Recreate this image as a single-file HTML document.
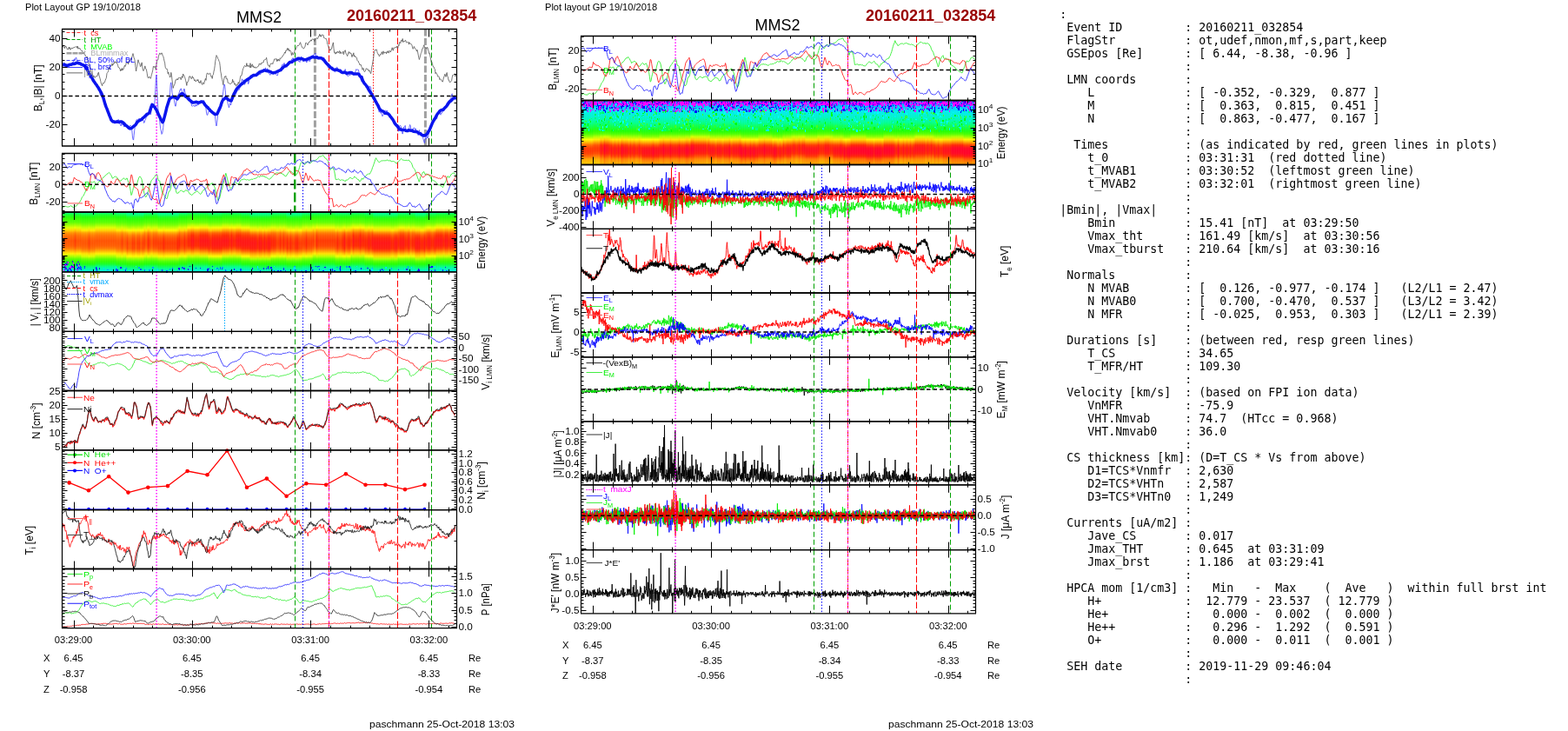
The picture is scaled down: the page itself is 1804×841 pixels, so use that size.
<!DOCTYPE html>
<html><head><meta charset="utf-8"><title>MMS2 20160211_032854</title>
<style>
html,body{margin:0;padding:0;background:#fff;}
body{width:1804px;height:841px;overflow:hidden;position:relative;}
svg{position:absolute;left:0;top:0;}
svg text{font-family:'Liberation Sans', Arial, sans-serif;}
pre{position:absolute;left:1219.2px;top:9px;margin:0;font-family:'DejaVu Sans Mono',monospace;font-size:13.3px;line-height:15px;color:#000;}
</style></head><body>
<svg width="1804" height="841" viewBox="0 0 1804 841" xml:space="preserve"><defs><clipPath id="cP1"><rect x="71.5" y="33.5" width="454" height="134.5"/></clipPath><clipPath id="cP2"><rect x="71.5" y="176.5" width="454" height="67.5"/></clipPath><clipPath id="cP3"><rect x="71.5" y="244" width="454" height="68.8"/></clipPath><clipPath id="cP4"><rect x="71.5" y="312.8" width="454" height="68.5"/></clipPath><clipPath id="cP5"><rect x="71.5" y="381.3" width="454" height="68.2"/></clipPath><clipPath id="cP6"><rect x="71.5" y="449.5" width="454" height="68.4"/></clipPath><clipPath id="cP7"><rect x="71.5" y="517.9" width="454" height="68.7"/></clipPath><clipPath id="cP8"><rect x="71.5" y="586.6" width="454" height="67.9"/></clipPath><clipPath id="cP9"><rect x="71.5" y="654.5" width="454" height="68.2"/></clipPath><clipPath id="cM1"><rect x="668.5" y="41.5" width="454" height="74"/></clipPath><clipPath id="cM2"><rect x="668.5" y="115.5" width="454" height="74"/></clipPath><clipPath id="cM3"><rect x="668.5" y="189.5" width="454" height="73.8"/></clipPath><clipPath id="cM4"><rect x="668.5" y="263.3" width="454" height="73.7"/></clipPath><clipPath id="cM5"><rect x="668.5" y="337" width="454" height="73.8"/></clipPath><clipPath id="cM6"><rect x="668.5" y="410.8" width="454" height="74"/></clipPath><clipPath id="cM7"><rect x="668.5" y="484.8" width="454" height="73"/></clipPath><clipPath id="cM8"><rect x="668.5" y="557.8" width="454" height="74.8"/></clipPath><clipPath id="cM9"><rect x="668.5" y="632.6" width="454" height="73.2"/></clipPath><linearGradient id="g1" x1="0" y1="0" x2="0" y2="1"><stop offset="0.000" stop-color="#00fba2"/><stop offset="0.043" stop-color="#14ff2f"/><stop offset="0.087" stop-color="#27ff00"/><stop offset="0.130" stop-color="#42ff00"/><stop offset="0.174" stop-color="#5cff00"/><stop offset="0.217" stop-color="#9bff00"/><stop offset="0.261" stop-color="#dfff00"/><stop offset="0.304" stop-color="#ffd500"/><stop offset="0.348" stop-color="#ff9200"/><stop offset="0.391" stop-color="#ff7000"/><stop offset="0.435" stop-color="#ff6000"/><stop offset="0.478" stop-color="#ff5100"/><stop offset="0.522" stop-color="#ff5600"/><stop offset="0.565" stop-color="#ff5d00"/><stop offset="0.609" stop-color="#ff7c00"/><stop offset="0.652" stop-color="#ffb300"/><stop offset="0.696" stop-color="#fff200"/><stop offset="0.739" stop-color="#adff00"/><stop offset="0.783" stop-color="#57ff00"/><stop offset="0.826" stop-color="#2fff00"/><stop offset="0.870" stop-color="#15ff29"/><stop offset="0.913" stop-color="#01ff87"/><stop offset="0.957" stop-color="#00f5c0"/><stop offset="1.000" stop-color="#00efdc"/></linearGradient><linearGradient id="g2" x1="0" y1="0" x2="0" y2="1"><stop offset="0.000" stop-color="#00fba2"/><stop offset="0.043" stop-color="#14ff2f"/><stop offset="0.087" stop-color="#28ff00"/><stop offset="0.130" stop-color="#44ff00"/><stop offset="0.174" stop-color="#61ff00"/><stop offset="0.217" stop-color="#a6ff00"/><stop offset="0.261" stop-color="#f0ff00"/><stop offset="0.304" stop-color="#ffc400"/><stop offset="0.348" stop-color="#ff7d00"/><stop offset="0.391" stop-color="#ff5800"/><stop offset="0.435" stop-color="#ff4700"/><stop offset="0.478" stop-color="#ff3600"/><stop offset="0.522" stop-color="#ff3d00"/><stop offset="0.565" stop-color="#ff4400"/><stop offset="0.609" stop-color="#ff6500"/><stop offset="0.652" stop-color="#ffa100"/><stop offset="0.696" stop-color="#ffe300"/><stop offset="0.739" stop-color="#baff00"/><stop offset="0.783" stop-color="#5bff00"/><stop offset="0.826" stop-color="#30ff00"/><stop offset="0.870" stop-color="#15ff29"/><stop offset="0.913" stop-color="#01ff87"/><stop offset="0.957" stop-color="#00f5c0"/><stop offset="1.000" stop-color="#00efdc"/></linearGradient><linearGradient id="g3" x1="0" y1="0" x2="0" y2="1"><stop offset="0.000" stop-color="#00fba2"/><stop offset="0.043" stop-color="#14ff2f"/><stop offset="0.087" stop-color="#28ff00"/><stop offset="0.130" stop-color="#47ff00"/><stop offset="0.174" stop-color="#66ff00"/><stop offset="0.217" stop-color="#b1ff00"/><stop offset="0.261" stop-color="#fffe00"/><stop offset="0.304" stop-color="#ffb300"/><stop offset="0.348" stop-color="#ff6800"/><stop offset="0.391" stop-color="#ff4000"/><stop offset="0.435" stop-color="#ff2e00"/><stop offset="0.478" stop-color="#ff2107"/><stop offset="0.522" stop-color="#ff2503"/><stop offset="0.565" stop-color="#ff2a00"/><stop offset="0.609" stop-color="#ff4e00"/><stop offset="0.652" stop-color="#ff8f00"/><stop offset="0.696" stop-color="#ffd500"/><stop offset="0.739" stop-color="#c6ff00"/><stop offset="0.783" stop-color="#60ff00"/><stop offset="0.826" stop-color="#31ff00"/><stop offset="0.870" stop-color="#15ff29"/><stop offset="0.913" stop-color="#01ff87"/><stop offset="0.957" stop-color="#00f5c0"/><stop offset="1.000" stop-color="#00efdc"/></linearGradient><linearGradient id="g4" x1="0" y1="0" x2="0" y2="1"><stop offset="0.000" stop-color="#00fba2"/><stop offset="0.043" stop-color="#14ff2f"/><stop offset="0.087" stop-color="#29ff00"/><stop offset="0.130" stop-color="#4aff00"/><stop offset="0.174" stop-color="#6bff00"/><stop offset="0.217" stop-color="#bcff00"/><stop offset="0.261" stop-color="#fff300"/><stop offset="0.304" stop-color="#ffa400"/><stop offset="0.348" stop-color="#ff5200"/><stop offset="0.391" stop-color="#ff2800"/><stop offset="0.435" stop-color="#ff1d0b"/><stop offset="0.478" stop-color="#ff1216"/><stop offset="0.522" stop-color="#ff1612"/><stop offset="0.565" stop-color="#ff1b0d"/><stop offset="0.609" stop-color="#ff3800"/><stop offset="0.652" stop-color="#ff7c00"/><stop offset="0.696" stop-color="#ffc600"/><stop offset="0.739" stop-color="#d2ff00"/><stop offset="0.783" stop-color="#64ff00"/><stop offset="0.826" stop-color="#33ff00"/><stop offset="0.870" stop-color="#15ff29"/><stop offset="0.913" stop-color="#01ff87"/><stop offset="0.957" stop-color="#00f5c0"/><stop offset="1.000" stop-color="#00efdc"/></linearGradient><linearGradient id="g5" x1="0" y1="0" x2="0" y2="1"><stop offset="0.000" stop-color="#00f7b4"/><stop offset="0.043" stop-color="#0fff46"/><stop offset="0.087" stop-color="#1eff00"/><stop offset="0.130" stop-color="#39ff00"/><stop offset="0.174" stop-color="#53ff00"/><stop offset="0.217" stop-color="#85ff00"/><stop offset="0.261" stop-color="#c8ff00"/><stop offset="0.304" stop-color="#ffee00"/><stop offset="0.348" stop-color="#ff9e00"/><stop offset="0.391" stop-color="#ff7b00"/><stop offset="0.435" stop-color="#ff6500"/><stop offset="0.478" stop-color="#ff5600"/><stop offset="0.522" stop-color="#ff5400"/><stop offset="0.565" stop-color="#ff5b00"/><stop offset="0.609" stop-color="#ff6d00"/><stop offset="0.652" stop-color="#ff9a00"/><stop offset="0.696" stop-color="#ffe200"/><stop offset="0.739" stop-color="#d5ff00"/><stop offset="0.783" stop-color="#72ff00"/><stop offset="0.826" stop-color="#3bff00"/><stop offset="0.870" stop-color="#1cff0b"/><stop offset="0.913" stop-color="#07ff6a"/><stop offset="0.957" stop-color="#00f8b0"/><stop offset="1.000" stop-color="#00efdc"/></linearGradient><linearGradient id="g6" x1="0" y1="0" x2="0" y2="1"><stop offset="0.000" stop-color="#00f7b4"/><stop offset="0.043" stop-color="#0fff46"/><stop offset="0.087" stop-color="#1eff00"/><stop offset="0.130" stop-color="#3bff00"/><stop offset="0.174" stop-color="#58ff00"/><stop offset="0.217" stop-color="#8eff00"/><stop offset="0.261" stop-color="#d7ff00"/><stop offset="0.304" stop-color="#ffdf00"/><stop offset="0.348" stop-color="#ff8a00"/><stop offset="0.391" stop-color="#ff6400"/><stop offset="0.435" stop-color="#ff4c00"/><stop offset="0.478" stop-color="#ff3c00"/><stop offset="0.522" stop-color="#ff3a00"/><stop offset="0.565" stop-color="#ff4100"/><stop offset="0.609" stop-color="#ff5500"/><stop offset="0.652" stop-color="#ff8600"/><stop offset="0.696" stop-color="#ffd200"/><stop offset="0.739" stop-color="#e5ff00"/><stop offset="0.783" stop-color="#79ff00"/><stop offset="0.826" stop-color="#3eff00"/><stop offset="0.870" stop-color="#1cff0b"/><stop offset="0.913" stop-color="#07ff6a"/><stop offset="0.957" stop-color="#00f8b0"/><stop offset="1.000" stop-color="#00efdc"/></linearGradient><linearGradient id="g7" x1="0" y1="0" x2="0" y2="1"><stop offset="0.000" stop-color="#00f7b4"/><stop offset="0.043" stop-color="#0fff46"/><stop offset="0.087" stop-color="#1eff00"/><stop offset="0.130" stop-color="#3dff00"/><stop offset="0.174" stop-color="#5cff00"/><stop offset="0.217" stop-color="#96ff00"/><stop offset="0.261" stop-color="#e5ff00"/><stop offset="0.304" stop-color="#ffd000"/><stop offset="0.348" stop-color="#ff7600"/><stop offset="0.391" stop-color="#ff4d00"/><stop offset="0.435" stop-color="#ff3400"/><stop offset="0.478" stop-color="#ff2503"/><stop offset="0.522" stop-color="#ff2404"/><stop offset="0.565" stop-color="#ff2800"/><stop offset="0.609" stop-color="#ff3d00"/><stop offset="0.652" stop-color="#ff7200"/><stop offset="0.696" stop-color="#ffc200"/><stop offset="0.739" stop-color="#f4ff00"/><stop offset="0.783" stop-color="#80ff00"/><stop offset="0.826" stop-color="#40ff00"/><stop offset="0.870" stop-color="#1cff0b"/><stop offset="0.913" stop-color="#07ff6a"/><stop offset="0.957" stop-color="#00f8b0"/><stop offset="1.000" stop-color="#00efdc"/></linearGradient><linearGradient id="g8" x1="0" y1="0" x2="0" y2="1"><stop offset="0.000" stop-color="#00f7b4"/><stop offset="0.043" stop-color="#0fff46"/><stop offset="0.087" stop-color="#1eff00"/><stop offset="0.130" stop-color="#3fff00"/><stop offset="0.174" stop-color="#60ff00"/><stop offset="0.217" stop-color="#9fff00"/><stop offset="0.261" stop-color="#f4ff00"/><stop offset="0.304" stop-color="#ffc100"/><stop offset="0.348" stop-color="#ff6200"/><stop offset="0.391" stop-color="#ff3600"/><stop offset="0.435" stop-color="#ff2107"/><stop offset="0.478" stop-color="#ff1612"/><stop offset="0.522" stop-color="#ff1513"/><stop offset="0.565" stop-color="#ff190f"/><stop offset="0.609" stop-color="#ff2602"/><stop offset="0.652" stop-color="#ff5d00"/><stop offset="0.696" stop-color="#ffb200"/><stop offset="0.739" stop-color="#fffb00"/><stop offset="0.783" stop-color="#87ff00"/><stop offset="0.826" stop-color="#42ff00"/><stop offset="0.870" stop-color="#1cff0b"/><stop offset="0.913" stop-color="#07ff6a"/><stop offset="0.957" stop-color="#00f8b0"/><stop offset="1.000" stop-color="#00efdc"/></linearGradient><linearGradient id="g9" x1="0" y1="0" x2="0" y2="1"><stop offset="0.000" stop-color="#00f7b4"/><stop offset="0.043" stop-color="#04ff79"/><stop offset="0.087" stop-color="#19ff18"/><stop offset="0.130" stop-color="#30ff00"/><stop offset="0.174" stop-color="#4aff00"/><stop offset="0.217" stop-color="#71ff00"/><stop offset="0.261" stop-color="#b1ff00"/><stop offset="0.304" stop-color="#f6ff00"/><stop offset="0.348" stop-color="#ffb900"/><stop offset="0.391" stop-color="#ff8600"/><stop offset="0.435" stop-color="#ff6a00"/><stop offset="0.478" stop-color="#ff5b00"/><stop offset="0.522" stop-color="#ff5200"/><stop offset="0.565" stop-color="#ff5900"/><stop offset="0.609" stop-color="#ff5f00"/><stop offset="0.652" stop-color="#ff8b00"/><stop offset="0.696" stop-color="#ffd000"/><stop offset="0.739" stop-color="#fbff00"/><stop offset="0.783" stop-color="#8eff00"/><stop offset="0.826" stop-color="#48ff00"/><stop offset="0.870" stop-color="#22ff00"/><stop offset="0.913" stop-color="#0eff49"/><stop offset="0.957" stop-color="#00fc9c"/><stop offset="1.000" stop-color="#00f2ce"/></linearGradient><linearGradient id="g10" x1="0" y1="0" x2="0" y2="1"><stop offset="0.000" stop-color="#00f7b4"/><stop offset="0.043" stop-color="#04ff79"/><stop offset="0.087" stop-color="#19ff18"/><stop offset="0.130" stop-color="#31ff00"/><stop offset="0.174" stop-color="#4eff00"/><stop offset="0.217" stop-color="#77ff00"/><stop offset="0.261" stop-color="#beff00"/><stop offset="0.304" stop-color="#fff900"/><stop offset="0.348" stop-color="#ffa700"/><stop offset="0.391" stop-color="#ff7000"/><stop offset="0.435" stop-color="#ff5200"/><stop offset="0.478" stop-color="#ff4100"/><stop offset="0.522" stop-color="#ff3800"/><stop offset="0.565" stop-color="#ff3f00"/><stop offset="0.609" stop-color="#ff4600"/><stop offset="0.652" stop-color="#ff7500"/><stop offset="0.696" stop-color="#ffbe00"/><stop offset="0.739" stop-color="#fff500"/><stop offset="0.783" stop-color="#97ff00"/><stop offset="0.826" stop-color="#4bff00"/><stop offset="0.870" stop-color="#23ff00"/><stop offset="0.913" stop-color="#0eff49"/><stop offset="0.957" stop-color="#00fc9c"/><stop offset="1.000" stop-color="#00f2ce"/></linearGradient><linearGradient id="g11" x1="0" y1="0" x2="0" y2="1"><stop offset="0.000" stop-color="#00f7b4"/><stop offset="0.043" stop-color="#04ff79"/><stop offset="0.087" stop-color="#19ff18"/><stop offset="0.130" stop-color="#33ff00"/><stop offset="0.174" stop-color="#52ff00"/><stop offset="0.217" stop-color="#7eff00"/><stop offset="0.261" stop-color="#cbff00"/><stop offset="0.304" stop-color="#ffec00"/><stop offset="0.348" stop-color="#ff9500"/><stop offset="0.391" stop-color="#ff5a00"/><stop offset="0.435" stop-color="#ff3900"/><stop offset="0.478" stop-color="#ff2800"/><stop offset="0.522" stop-color="#ff2206"/><stop offset="0.565" stop-color="#ff2602"/><stop offset="0.609" stop-color="#ff2d00"/><stop offset="0.652" stop-color="#ff6000"/><stop offset="0.696" stop-color="#ffad00"/><stop offset="0.739" stop-color="#ffe800"/><stop offset="0.783" stop-color="#a1ff00"/><stop offset="0.826" stop-color="#4eff00"/><stop offset="0.870" stop-color="#23ff00"/><stop offset="0.913" stop-color="#0eff49"/><stop offset="0.957" stop-color="#00fc9c"/><stop offset="1.000" stop-color="#00f2ce"/></linearGradient><linearGradient id="g12" x1="0" y1="0" x2="0" y2="1"><stop offset="0.000" stop-color="#00f7b4"/><stop offset="0.043" stop-color="#04ff79"/><stop offset="0.087" stop-color="#19ff18"/><stop offset="0.130" stop-color="#34ff00"/><stop offset="0.174" stop-color="#55ff00"/><stop offset="0.217" stop-color="#85ff00"/><stop offset="0.261" stop-color="#d8ff00"/><stop offset="0.304" stop-color="#ffde00"/><stop offset="0.348" stop-color="#ff8300"/><stop offset="0.391" stop-color="#ff4400"/><stop offset="0.435" stop-color="#ff2404"/><stop offset="0.478" stop-color="#ff190f"/><stop offset="0.522" stop-color="#ff1315"/><stop offset="0.565" stop-color="#ff1810"/><stop offset="0.609" stop-color="#ff1c0c"/><stop offset="0.652" stop-color="#ff4a00"/><stop offset="0.696" stop-color="#ff9d00"/><stop offset="0.739" stop-color="#ffda00"/><stop offset="0.783" stop-color="#abff00"/><stop offset="0.826" stop-color="#52ff00"/><stop offset="0.870" stop-color="#23ff00"/><stop offset="0.913" stop-color="#0eff49"/><stop offset="0.957" stop-color="#00fc9c"/><stop offset="1.000" stop-color="#00f2ce"/></linearGradient><linearGradient id="g13" x1="0" y1="0" x2="0" y2="1"><stop offset="0.000" stop-color="#0085ff"/><stop offset="0.043" stop-color="#009cff"/><stop offset="0.087" stop-color="#00bafb"/><stop offset="0.130" stop-color="#00dcf3"/><stop offset="0.174" stop-color="#00ede4"/><stop offset="0.217" stop-color="#00f1d4"/><stop offset="0.261" stop-color="#00f4c2"/><stop offset="0.304" stop-color="#00f9a8"/><stop offset="0.348" stop-color="#02ff82"/><stop offset="0.391" stop-color="#0dff4e"/><stop offset="0.435" stop-color="#17ff21"/><stop offset="0.478" stop-color="#2aff00"/><stop offset="0.522" stop-color="#55ff00"/><stop offset="0.565" stop-color="#b2ff00"/><stop offset="0.609" stop-color="#ffed00"/><stop offset="0.652" stop-color="#ff9f00"/><stop offset="0.696" stop-color="#ff5100"/><stop offset="0.739" stop-color="#ff3800"/><stop offset="0.783" stop-color="#ff3600"/><stop offset="0.826" stop-color="#ff4a00"/><stop offset="0.870" stop-color="#ff7b00"/><stop offset="0.913" stop-color="#ffac00"/><stop offset="0.957" stop-color="#ffc100"/><stop offset="1.000" stop-color="#ffcc00"/></linearGradient><linearGradient id="g14" x1="0" y1="0" x2="0" y2="1"><stop offset="0.000" stop-color="#0085ff"/><stop offset="0.043" stop-color="#009cff"/><stop offset="0.087" stop-color="#00bafb"/><stop offset="0.130" stop-color="#00dcf3"/><stop offset="0.174" stop-color="#00ede4"/><stop offset="0.217" stop-color="#00f1d4"/><stop offset="0.261" stop-color="#00f4c2"/><stop offset="0.304" stop-color="#00f9a8"/><stop offset="0.348" stop-color="#02ff82"/><stop offset="0.391" stop-color="#0dff4e"/><stop offset="0.435" stop-color="#17ff21"/><stop offset="0.478" stop-color="#2bff00"/><stop offset="0.522" stop-color="#5aff00"/><stop offset="0.565" stop-color="#bfff00"/><stop offset="0.609" stop-color="#ffde00"/><stop offset="0.652" stop-color="#ff8b00"/><stop offset="0.696" stop-color="#ff3600"/><stop offset="0.739" stop-color="#ff2107"/><stop offset="0.783" stop-color="#ff2008"/><stop offset="0.826" stop-color="#ff2f00"/><stop offset="0.870" stop-color="#ff6400"/><stop offset="0.913" stop-color="#ff9900"/><stop offset="0.957" stop-color="#ffaf00"/><stop offset="1.000" stop-color="#ffba00"/></linearGradient><linearGradient id="g15" x1="0" y1="0" x2="0" y2="1"><stop offset="0.000" stop-color="#0085ff"/><stop offset="0.043" stop-color="#009cff"/><stop offset="0.087" stop-color="#00bafb"/><stop offset="0.130" stop-color="#00dcf3"/><stop offset="0.174" stop-color="#00ede4"/><stop offset="0.217" stop-color="#00f1d4"/><stop offset="0.261" stop-color="#00f4c2"/><stop offset="0.304" stop-color="#00f9a8"/><stop offset="0.348" stop-color="#02ff82"/><stop offset="0.391" stop-color="#0dff4e"/><stop offset="0.435" stop-color="#17ff21"/><stop offset="0.478" stop-color="#2cff00"/><stop offset="0.522" stop-color="#5eff00"/><stop offset="0.565" stop-color="#ccff00"/><stop offset="0.609" stop-color="#ffcf00"/><stop offset="0.652" stop-color="#ff7700"/><stop offset="0.696" stop-color="#ff2107"/><stop offset="0.739" stop-color="#ff1117"/><stop offset="0.783" stop-color="#ff1018"/><stop offset="0.826" stop-color="#ff1d0b"/><stop offset="0.870" stop-color="#ff4d00"/><stop offset="0.913" stop-color="#ff8600"/><stop offset="0.957" stop-color="#ff9e00"/><stop offset="1.000" stop-color="#ffa900"/></linearGradient><linearGradient id="g16" x1="0" y1="0" x2="0" y2="1"><stop offset="0.000" stop-color="#0085ff"/><stop offset="0.043" stop-color="#009cff"/><stop offset="0.087" stop-color="#00bafb"/><stop offset="0.130" stop-color="#00dcf3"/><stop offset="0.174" stop-color="#00ede4"/><stop offset="0.217" stop-color="#00f1d4"/><stop offset="0.261" stop-color="#00f4c2"/><stop offset="0.304" stop-color="#00f9a8"/><stop offset="0.348" stop-color="#02ff82"/><stop offset="0.391" stop-color="#0dff4e"/><stop offset="0.435" stop-color="#17ff21"/><stop offset="0.478" stop-color="#2cff00"/><stop offset="0.522" stop-color="#63ff00"/><stop offset="0.565" stop-color="#d9ff00"/><stop offset="0.609" stop-color="#ffc000"/><stop offset="0.652" stop-color="#ff6300"/><stop offset="0.696" stop-color="#ff1216"/><stop offset="0.739" stop-color="#ff0127"/><stop offset="0.783" stop-color="#ff0028"/><stop offset="0.826" stop-color="#ff0d1b"/><stop offset="0.870" stop-color="#ff3600"/><stop offset="0.913" stop-color="#ff7300"/><stop offset="0.957" stop-color="#ff8c00"/><stop offset="1.000" stop-color="#ff9800"/></linearGradient><linearGradient id="g17" x1="0" y1="0" x2="0" y2="1"><stop offset="0.000" stop-color="#007fff"/><stop offset="0.043" stop-color="#0093ff"/><stop offset="0.087" stop-color="#00b2fd"/><stop offset="0.130" stop-color="#00d2f6"/><stop offset="0.174" stop-color="#00ecec"/><stop offset="0.217" stop-color="#00f0d9"/><stop offset="0.261" stop-color="#00f3c9"/><stop offset="0.304" stop-color="#00f8b0"/><stop offset="0.348" stop-color="#00fe91"/><stop offset="0.391" stop-color="#0aff5d"/><stop offset="0.435" stop-color="#14ff2f"/><stop offset="0.478" stop-color="#1eff02"/><stop offset="0.522" stop-color="#47ff00"/><stop offset="0.565" stop-color="#93ff00"/><stop offset="0.609" stop-color="#fbff00"/><stop offset="0.652" stop-color="#ffb900"/><stop offset="0.696" stop-color="#ff6700"/><stop offset="0.739" stop-color="#ff3f00"/><stop offset="0.783" stop-color="#ff3400"/><stop offset="0.826" stop-color="#ff4000"/><stop offset="0.870" stop-color="#ff6800"/><stop offset="0.913" stop-color="#ffa400"/><stop offset="0.957" stop-color="#ffbd00"/><stop offset="1.000" stop-color="#ffcc00"/></linearGradient><linearGradient id="g18" x1="0" y1="0" x2="0" y2="1"><stop offset="0.000" stop-color="#007fff"/><stop offset="0.043" stop-color="#0093ff"/><stop offset="0.087" stop-color="#00b2fd"/><stop offset="0.130" stop-color="#00d2f6"/><stop offset="0.174" stop-color="#00ecec"/><stop offset="0.217" stop-color="#00f0d9"/><stop offset="0.261" stop-color="#00f3c9"/><stop offset="0.304" stop-color="#00f8b0"/><stop offset="0.348" stop-color="#00fe91"/><stop offset="0.391" stop-color="#0aff5d"/><stop offset="0.435" stop-color="#14ff2f"/><stop offset="0.478" stop-color="#1eff02"/><stop offset="0.522" stop-color="#4aff00"/><stop offset="0.565" stop-color="#9dff00"/><stop offset="0.609" stop-color="#fff400"/><stop offset="0.652" stop-color="#ffa700"/><stop offset="0.696" stop-color="#ff4f00"/><stop offset="0.739" stop-color="#ff2602"/><stop offset="0.783" stop-color="#ff1f09"/><stop offset="0.826" stop-color="#ff2602"/><stop offset="0.870" stop-color="#ff4f00"/><stop offset="0.913" stop-color="#ff9100"/><stop offset="0.957" stop-color="#ffaa00"/><stop offset="1.000" stop-color="#ffba00"/></linearGradient><linearGradient id="g19" x1="0" y1="0" x2="0" y2="1"><stop offset="0.000" stop-color="#007fff"/><stop offset="0.043" stop-color="#0093ff"/><stop offset="0.087" stop-color="#00b2fd"/><stop offset="0.130" stop-color="#00d2f6"/><stop offset="0.174" stop-color="#00ecec"/><stop offset="0.217" stop-color="#00f0d9"/><stop offset="0.261" stop-color="#00f3c9"/><stop offset="0.304" stop-color="#00f8b0"/><stop offset="0.348" stop-color="#00fe91"/><stop offset="0.391" stop-color="#0aff5d"/><stop offset="0.435" stop-color="#14ff2f"/><stop offset="0.478" stop-color="#1eff02"/><stop offset="0.522" stop-color="#4dff00"/><stop offset="0.565" stop-color="#a7ff00"/><stop offset="0.609" stop-color="#ffe700"/><stop offset="0.652" stop-color="#ff9500"/><stop offset="0.696" stop-color="#ff3700"/><stop offset="0.739" stop-color="#ff1612"/><stop offset="0.783" stop-color="#ff0e1a"/><stop offset="0.826" stop-color="#ff1612"/><stop offset="0.870" stop-color="#ff3700"/><stop offset="0.913" stop-color="#ff7d00"/><stop offset="0.957" stop-color="#ff9900"/><stop offset="1.000" stop-color="#ffa900"/></linearGradient><linearGradient id="g20" x1="0" y1="0" x2="0" y2="1"><stop offset="0.000" stop-color="#007fff"/><stop offset="0.043" stop-color="#0093ff"/><stop offset="0.087" stop-color="#00b2fd"/><stop offset="0.130" stop-color="#00d2f6"/><stop offset="0.174" stop-color="#00ecec"/><stop offset="0.217" stop-color="#00f0d9"/><stop offset="0.261" stop-color="#00f3c9"/><stop offset="0.304" stop-color="#00f8b0"/><stop offset="0.348" stop-color="#00fe91"/><stop offset="0.391" stop-color="#0aff5d"/><stop offset="0.435" stop-color="#14ff2f"/><stop offset="0.478" stop-color="#1eff02"/><stop offset="0.522" stop-color="#50ff00"/><stop offset="0.565" stop-color="#b2ff00"/><stop offset="0.609" stop-color="#ffda00"/><stop offset="0.652" stop-color="#ff8300"/><stop offset="0.696" stop-color="#ff2206"/><stop offset="0.739" stop-color="#ff0622"/><stop offset="0.783" stop-color="#ff0028"/><stop offset="0.826" stop-color="#ff0622"/><stop offset="0.870" stop-color="#ff2305"/><stop offset="0.913" stop-color="#ff6a00"/><stop offset="0.957" stop-color="#ff8700"/><stop offset="1.000" stop-color="#ff9800"/></linearGradient><linearGradient id="g21" x1="0" y1="0" x2="0" y2="1"><stop offset="0.000" stop-color="#007fff"/><stop offset="0.043" stop-color="#008cff"/><stop offset="0.087" stop-color="#00a9ff"/><stop offset="0.130" stop-color="#00c7f8"/><stop offset="0.174" stop-color="#00e6f1"/><stop offset="0.217" stop-color="#00efde"/><stop offset="0.261" stop-color="#00f2ce"/><stop offset="0.304" stop-color="#00f6b8"/><stop offset="0.348" stop-color="#00fc9d"/><stop offset="0.391" stop-color="#06ff6e"/><stop offset="0.435" stop-color="#11ff3d"/><stop offset="0.478" stop-color="#1bff10"/><stop offset="0.522" stop-color="#3aff00"/><stop offset="0.565" stop-color="#77ff00"/><stop offset="0.609" stop-color="#dcff00"/><stop offset="0.652" stop-color="#ffd100"/><stop offset="0.696" stop-color="#ff7e00"/><stop offset="0.739" stop-color="#ff4700"/><stop offset="0.783" stop-color="#ff3200"/><stop offset="0.826" stop-color="#ff3900"/><stop offset="0.870" stop-color="#ff5600"/><stop offset="0.913" stop-color="#ff9200"/><stop offset="0.957" stop-color="#ffb500"/><stop offset="1.000" stop-color="#ffc700"/></linearGradient><linearGradient id="g22" x1="0" y1="0" x2="0" y2="1"><stop offset="0.000" stop-color="#007fff"/><stop offset="0.043" stop-color="#008cff"/><stop offset="0.087" stop-color="#00a9ff"/><stop offset="0.130" stop-color="#00c7f8"/><stop offset="0.174" stop-color="#00e6f1"/><stop offset="0.217" stop-color="#00efde"/><stop offset="0.261" stop-color="#00f2ce"/><stop offset="0.304" stop-color="#00f6b8"/><stop offset="0.348" stop-color="#00fc9d"/><stop offset="0.391" stop-color="#06ff6e"/><stop offset="0.435" stop-color="#11ff3d"/><stop offset="0.478" stop-color="#1bff10"/><stop offset="0.522" stop-color="#3cff00"/><stop offset="0.565" stop-color="#7eff00"/><stop offset="0.609" stop-color="#ecff00"/><stop offset="0.652" stop-color="#ffc000"/><stop offset="0.696" stop-color="#ff6800"/><stop offset="0.739" stop-color="#ff2c00"/><stop offset="0.783" stop-color="#ff1e0a"/><stop offset="0.826" stop-color="#ff2107"/><stop offset="0.870" stop-color="#ff3c00"/><stop offset="0.913" stop-color="#ff7d00"/><stop offset="0.957" stop-color="#ffa300"/><stop offset="1.000" stop-color="#ffb500"/></linearGradient><linearGradient id="g23" x1="0" y1="0" x2="0" y2="1"><stop offset="0.000" stop-color="#007fff"/><stop offset="0.043" stop-color="#008cff"/><stop offset="0.087" stop-color="#00a9ff"/><stop offset="0.130" stop-color="#00c7f8"/><stop offset="0.174" stop-color="#00e6f1"/><stop offset="0.217" stop-color="#00efde"/><stop offset="0.261" stop-color="#00f2ce"/><stop offset="0.304" stop-color="#00f6b8"/><stop offset="0.348" stop-color="#00fc9d"/><stop offset="0.391" stop-color="#06ff6e"/><stop offset="0.435" stop-color="#11ff3d"/><stop offset="0.478" stop-color="#1bff10"/><stop offset="0.522" stop-color="#3eff00"/><stop offset="0.565" stop-color="#85ff00"/><stop offset="0.609" stop-color="#fcff00"/><stop offset="0.652" stop-color="#ffaf00"/><stop offset="0.696" stop-color="#ff5100"/><stop offset="0.739" stop-color="#ff1b0d"/><stop offset="0.783" stop-color="#ff0d1b"/><stop offset="0.826" stop-color="#ff1117"/><stop offset="0.870" stop-color="#ff2503"/><stop offset="0.913" stop-color="#ff6800"/><stop offset="0.957" stop-color="#ff9100"/><stop offset="1.000" stop-color="#ffa400"/></linearGradient><linearGradient id="g24" x1="0" y1="0" x2="0" y2="1"><stop offset="0.000" stop-color="#007fff"/><stop offset="0.043" stop-color="#008cff"/><stop offset="0.087" stop-color="#00a9ff"/><stop offset="0.130" stop-color="#00c7f8"/><stop offset="0.174" stop-color="#00e6f1"/><stop offset="0.217" stop-color="#00efde"/><stop offset="0.261" stop-color="#00f2ce"/><stop offset="0.304" stop-color="#00f6b8"/><stop offset="0.348" stop-color="#00fc9d"/><stop offset="0.391" stop-color="#06ff6e"/><stop offset="0.435" stop-color="#11ff3d"/><stop offset="0.478" stop-color="#1bff10"/><stop offset="0.522" stop-color="#40ff00"/><stop offset="0.565" stop-color="#8dff00"/><stop offset="0.609" stop-color="#fff500"/><stop offset="0.652" stop-color="#ff9f00"/><stop offset="0.696" stop-color="#ff3b00"/><stop offset="0.739" stop-color="#ff0b1d"/><stop offset="0.783" stop-color="#ff0028"/><stop offset="0.826" stop-color="#ff0127"/><stop offset="0.870" stop-color="#ff1612"/><stop offset="0.913" stop-color="#ff5300"/><stop offset="0.957" stop-color="#ff7f00"/><stop offset="1.000" stop-color="#ff9300"/></linearGradient></defs><text transform="translate(29,11.5) scale(1.11,1)" font-size="10" text-anchor="start" fill="#000">Plot Layout GP 19/10/2018</text><text transform="translate(272,26) scale(1.0,1)" font-size="18" text-anchor="start" fill="#000">MMS2</text><text transform="translate(399,24.3) scale(1.0,1)" font-size="18" text-anchor="start" fill="#990000" font-weight="bold">20160211_032854</text><text transform="translate(627,12) scale(1.11,1)" font-size="10" text-anchor="start" fill="#000">Plot layout GP 19/10/2018</text><text transform="translate(868.5,35) scale(1.0,1)" font-size="18" text-anchor="start" fill="#000">MMS2</text><text transform="translate(996,24.3) scale(1.0,1)" font-size="18" text-anchor="start" fill="#990000" font-weight="bold">20160211_032854</text><g><rect x="71.5" y="244" width="2.4" height="68.8" fill="url(#g5)"/><rect x="73.5" y="244" width="2.4" height="68.8" fill="url(#g1)"/><rect x="75.5" y="244" width="2.4" height="68.8" fill="url(#g1)"/><rect x="77.5" y="244" width="2.4" height="68.8" fill="url(#g1)"/><rect x="79.5" y="244" width="2.4" height="68.8" fill="url(#g1)"/><rect x="81.5" y="244" width="2.4" height="68.8" fill="url(#g1)"/><rect x="83.5" y="244" width="2.4" height="68.8" fill="url(#g1)"/><rect x="85.5" y="244" width="2.4" height="68.8" fill="url(#g2)"/><rect x="87.5" y="244" width="2.4" height="68.8" fill="url(#g1)"/><rect x="89.5" y="244" width="2.4" height="68.8" fill="url(#g1)"/><rect x="91.5" y="244" width="2.4" height="68.8" fill="url(#g1)"/><rect x="93.5" y="244" width="2.4" height="68.8" fill="url(#g5)"/><rect x="95.5" y="244" width="2.4" height="68.8" fill="url(#g5)"/><rect x="97.5" y="244" width="2.4" height="68.8" fill="url(#g5)"/><rect x="99.5" y="244" width="2.4" height="68.8" fill="url(#g5)"/><rect x="101.5" y="244" width="2.4" height="68.8" fill="url(#g6)"/><rect x="103.5" y="244" width="2.4" height="68.8" fill="url(#g5)"/><rect x="105.5" y="244" width="2.4" height="68.8" fill="url(#g5)"/><rect x="107.5" y="244" width="2.4" height="68.8" fill="url(#g5)"/><rect x="109.5" y="244" width="2.4" height="68.8" fill="url(#g1)"/><rect x="111.5" y="244" width="2.4" height="68.8" fill="url(#g1)"/><rect x="113.5" y="244" width="2.4" height="68.8" fill="url(#g1)"/><rect x="115.5" y="244" width="2.4" height="68.8" fill="url(#g1)"/><rect x="117.5" y="244" width="2.4" height="68.8" fill="url(#g1)"/><rect x="119.5" y="244" width="2.4" height="68.8" fill="url(#g1)"/><rect x="121.5" y="244" width="2.4" height="68.8" fill="url(#g1)"/><rect x="123.5" y="244" width="2.4" height="68.8" fill="url(#g1)"/><rect x="125.5" y="244" width="2.4" height="68.8" fill="url(#g1)"/><rect x="127.5" y="244" width="2.4" height="68.8" fill="url(#g1)"/><rect x="129.5" y="244" width="2.4" height="68.8" fill="url(#g1)"/><rect x="131.5" y="244" width="2.4" height="68.8" fill="url(#g1)"/><rect x="133.5" y="244" width="2.4" height="68.8" fill="url(#g5)"/><rect x="135.5" y="244" width="2.4" height="68.8" fill="url(#g5)"/><rect x="137.5" y="244" width="2.4" height="68.8" fill="url(#g5)"/><rect x="139.5" y="244" width="2.4" height="68.8" fill="url(#g6)"/><rect x="141.5" y="244" width="2.4" height="68.8" fill="url(#g5)"/><rect x="143.5" y="244" width="2.4" height="68.8" fill="url(#g5)"/><rect x="145.5" y="244" width="2.4" height="68.8" fill="url(#g10)"/><rect x="147.5" y="244" width="2.4" height="68.8" fill="url(#g9)"/><rect x="149.5" y="244" width="2.4" height="68.8" fill="url(#g9)"/><rect x="151.5" y="244" width="2.4" height="68.8" fill="url(#g10)"/><rect x="153.5" y="244" width="2.4" height="68.8" fill="url(#g10)"/><rect x="155.5" y="244" width="2.4" height="68.8" fill="url(#g9)"/><rect x="157.5" y="244" width="2.4" height="68.8" fill="url(#g10)"/><rect x="159.5" y="244" width="2.4" height="68.8" fill="url(#g10)"/><rect x="161.5" y="244" width="2.4" height="68.8" fill="url(#g9)"/><rect x="163.5" y="244" width="2.4" height="68.8" fill="url(#g10)"/><rect x="165.5" y="244" width="2.4" height="68.8" fill="url(#g6)"/><rect x="167.5" y="244" width="2.4" height="68.8" fill="url(#g5)"/><rect x="169.5" y="244" width="2.4" height="68.8" fill="url(#g7)"/><rect x="171.5" y="244" width="2.4" height="68.8" fill="url(#g6)"/><rect x="173.5" y="244" width="2.4" height="68.8" fill="url(#g5)"/><rect x="175.5" y="244" width="2.4" height="68.8" fill="url(#g6)"/><rect x="177.5" y="244" width="2.4" height="68.8" fill="url(#g6)"/><rect x="179.5" y="244" width="2.4" height="68.8" fill="url(#g6)"/><rect x="181.5" y="244" width="2.4" height="68.8" fill="url(#g10)"/><rect x="183.5" y="244" width="2.4" height="68.8" fill="url(#g10)"/><rect x="185.5" y="244" width="2.4" height="68.8" fill="url(#g10)"/><rect x="187.5" y="244" width="2.4" height="68.8" fill="url(#g11)"/><rect x="189.5" y="244" width="2.4" height="68.8" fill="url(#g10)"/><rect x="191.5" y="244" width="2.4" height="68.8" fill="url(#g10)"/><rect x="193.5" y="244" width="2.4" height="68.8" fill="url(#g10)"/><rect x="195.5" y="244" width="2.4" height="68.8" fill="url(#g10)"/><rect x="197.5" y="244" width="2.4" height="68.8" fill="url(#g10)"/><rect x="199.5" y="244" width="2.4" height="68.8" fill="url(#g10)"/><rect x="201.5" y="244" width="2.4" height="68.8" fill="url(#g10)"/><rect x="203.5" y="244" width="2.4" height="68.8" fill="url(#g11)"/><rect x="205.5" y="244" width="2.4" height="68.8" fill="url(#g7)"/><rect x="207.5" y="244" width="2.4" height="68.8" fill="url(#g6)"/><rect x="209.5" y="244" width="2.4" height="68.8" fill="url(#g6)"/><rect x="211.5" y="244" width="2.4" height="68.8" fill="url(#g7)"/><rect x="213.5" y="244" width="2.4" height="68.8" fill="url(#g6)"/><rect x="215.5" y="244" width="2.4" height="68.8" fill="url(#g3)"/><rect x="217.5" y="244" width="2.4" height="68.8" fill="url(#g3)"/><rect x="219.5" y="244" width="2.4" height="68.8" fill="url(#g4)"/><rect x="221.5" y="244" width="2.4" height="68.8" fill="url(#g4)"/><rect x="223.5" y="244" width="2.4" height="68.8" fill="url(#g3)"/><rect x="225.5" y="244" width="2.4" height="68.8" fill="url(#g3)"/><rect x="227.5" y="244" width="2.4" height="68.8" fill="url(#g3)"/><rect x="229.5" y="244" width="2.4" height="68.8" fill="url(#g4)"/><rect x="231.5" y="244" width="2.4" height="68.8" fill="url(#g4)"/><rect x="233.5" y="244" width="2.4" height="68.8" fill="url(#g4)"/><rect x="235.5" y="244" width="2.4" height="68.8" fill="url(#g4)"/><rect x="237.5" y="244" width="2.4" height="68.8" fill="url(#g4)"/><rect x="239.5" y="244" width="2.4" height="68.8" fill="url(#g8)"/><rect x="241.5" y="244" width="2.4" height="68.8" fill="url(#g7)"/><rect x="243.5" y="244" width="2.4" height="68.8" fill="url(#g8)"/><rect x="245.5" y="244" width="2.4" height="68.8" fill="url(#g8)"/><rect x="247.5" y="244" width="2.4" height="68.8" fill="url(#g8)"/><rect x="249.5" y="244" width="2.4" height="68.8" fill="url(#g8)"/><rect x="251.5" y="244" width="2.4" height="68.8" fill="url(#g8)"/><rect x="253.5" y="244" width="2.4" height="68.8" fill="url(#g8)"/><rect x="255.5" y="244" width="2.4" height="68.8" fill="url(#g4)"/><rect x="257.5" y="244" width="2.4" height="68.8" fill="url(#g4)"/><rect x="259.5" y="244" width="2.4" height="68.8" fill="url(#g4)"/><rect x="261.5" y="244" width="2.4" height="68.8" fill="url(#g4)"/><rect x="263.5" y="244" width="2.4" height="68.8" fill="url(#g3)"/><rect x="265.5" y="244" width="2.4" height="68.8" fill="url(#g4)"/><rect x="267.5" y="244" width="2.4" height="68.8" fill="url(#g3)"/><rect x="269.5" y="244" width="2.4" height="68.8" fill="url(#g3)"/><rect x="271.5" y="244" width="2.4" height="68.8" fill="url(#g4)"/><rect x="273.5" y="244" width="2.4" height="68.8" fill="url(#g4)"/><rect x="275.5" y="244" width="2.4" height="68.8" fill="url(#g4)"/><rect x="277.5" y="244" width="2.4" height="68.8" fill="url(#g8)"/><rect x="279.5" y="244" width="2.4" height="68.8" fill="url(#g8)"/><rect x="281.5" y="244" width="2.4" height="68.8" fill="url(#g8)"/><rect x="283.5" y="244" width="2.4" height="68.8" fill="url(#g8)"/><rect x="285.5" y="244" width="2.4" height="68.8" fill="url(#g8)"/><rect x="287.5" y="244" width="2.4" height="68.8" fill="url(#g12)"/><rect x="289.5" y="244" width="2.4" height="68.8" fill="url(#g12)"/><rect x="291.5" y="244" width="2.4" height="68.8" fill="url(#g12)"/><rect x="293.5" y="244" width="2.4" height="68.8" fill="url(#g12)"/><rect x="295.5" y="244" width="2.4" height="68.8" fill="url(#g11)"/><rect x="297.5" y="244" width="2.4" height="68.8" fill="url(#g12)"/><rect x="299.5" y="244" width="2.4" height="68.8" fill="url(#g12)"/><rect x="301.5" y="244" width="2.4" height="68.8" fill="url(#g11)"/><rect x="303.5" y="244" width="2.4" height="68.8" fill="url(#g12)"/><rect x="305.5" y="244" width="2.4" height="68.8" fill="url(#g11)"/><rect x="307.5" y="244" width="2.4" height="68.8" fill="url(#g12)"/><rect x="309.5" y="244" width="2.4" height="68.8" fill="url(#g12)"/><rect x="311.5" y="244" width="2.4" height="68.8" fill="url(#g7)"/><rect x="313.5" y="244" width="2.4" height="68.8" fill="url(#g7)"/><rect x="315.5" y="244" width="2.4" height="68.8" fill="url(#g7)"/><rect x="317.5" y="244" width="2.4" height="68.8" fill="url(#g6)"/><rect x="319.5" y="244" width="2.4" height="68.8" fill="url(#g6)"/><rect x="321.5" y="244" width="2.4" height="68.8" fill="url(#g7)"/><rect x="323.5" y="244" width="2.4" height="68.8" fill="url(#g6)"/><rect x="325.5" y="244" width="2.4" height="68.8" fill="url(#g7)"/><rect x="327.5" y="244" width="2.4" height="68.8" fill="url(#g6)"/><rect x="329.5" y="244" width="2.4" height="68.8" fill="url(#g11)"/><rect x="331.5" y="244" width="2.4" height="68.8" fill="url(#g10)"/><rect x="333.5" y="244" width="2.4" height="68.8" fill="url(#g11)"/><rect x="335.5" y="244" width="2.4" height="68.8" fill="url(#g10)"/><rect x="337.5" y="244" width="2.4" height="68.8" fill="url(#g10)"/><rect x="339.5" y="244" width="2.4" height="68.8" fill="url(#g11)"/><rect x="341.5" y="244" width="2.4" height="68.8" fill="url(#g11)"/><rect x="343.5" y="244" width="2.4" height="68.8" fill="url(#g10)"/><rect x="345.5" y="244" width="2.4" height="68.8" fill="url(#g10)"/><rect x="347.5" y="244" width="2.4" height="68.8" fill="url(#g6)"/><rect x="349.5" y="244" width="2.4" height="68.8" fill="url(#g6)"/><rect x="351.5" y="244" width="2.4" height="68.8" fill="url(#g7)"/><rect x="353.5" y="244" width="2.4" height="68.8" fill="url(#g6)"/><rect x="355.5" y="244" width="2.4" height="68.8" fill="url(#g6)"/><rect x="357.5" y="244" width="2.4" height="68.8" fill="url(#g6)"/><rect x="359.5" y="244" width="2.4" height="68.8" fill="url(#g2)"/><rect x="361.5" y="244" width="2.4" height="68.8" fill="url(#g1)"/><rect x="363.5" y="244" width="2.4" height="68.8" fill="url(#g3)"/><rect x="365.5" y="244" width="2.4" height="68.8" fill="url(#g2)"/><rect x="367.5" y="244" width="2.4" height="68.8" fill="url(#g2)"/><rect x="369.5" y="244" width="2.4" height="68.8" fill="url(#g2)"/><rect x="371.5" y="244" width="2.4" height="68.8" fill="url(#g2)"/><rect x="373.5" y="244" width="2.4" height="68.8" fill="url(#g2)"/><rect x="375.5" y="244" width="2.4" height="68.8" fill="url(#g2)"/><rect x="377.5" y="244" width="2.4" height="68.8" fill="url(#g2)"/><rect x="379.5" y="244" width="2.4" height="68.8" fill="url(#g2)"/><rect x="381.5" y="244" width="2.4" height="68.8" fill="url(#g2)"/><rect x="383.5" y="244" width="2.4" height="68.8" fill="url(#g2)"/><rect x="385.5" y="244" width="2.4" height="68.8" fill="url(#g6)"/><rect x="387.5" y="244" width="2.4" height="68.8" fill="url(#g7)"/><rect x="389.5" y="244" width="2.4" height="68.8" fill="url(#g6)"/><rect x="391.5" y="244" width="2.4" height="68.8" fill="url(#g6)"/><rect x="393.5" y="244" width="2.4" height="68.8" fill="url(#g7)"/><rect x="395.5" y="244" width="2.4" height="68.8" fill="url(#g8)"/><rect x="397.5" y="244" width="2.4" height="68.8" fill="url(#g6)"/><rect x="399.5" y="244" width="2.4" height="68.8" fill="url(#g7)"/><rect x="401.5" y="244" width="2.4" height="68.8" fill="url(#g7)"/><rect x="403.5" y="244" width="2.4" height="68.8" fill="url(#g2)"/><rect x="405.5" y="244" width="2.4" height="68.8" fill="url(#g4)"/><rect x="407.5" y="244" width="2.4" height="68.8" fill="url(#g3)"/><rect x="409.5" y="244" width="2.4" height="68.8" fill="url(#g3)"/><rect x="411.5" y="244" width="2.4" height="68.8" fill="url(#g3)"/><rect x="413.5" y="244" width="2.4" height="68.8" fill="url(#g4)"/><rect x="415.5" y="244" width="2.4" height="68.8" fill="url(#g3)"/><rect x="417.5" y="244" width="2.4" height="68.8" fill="url(#g3)"/><rect x="419.5" y="244" width="2.4" height="68.8" fill="url(#g7)"/><rect x="421.5" y="244" width="2.4" height="68.8" fill="url(#g7)"/><rect x="423.5" y="244" width="2.4" height="68.8" fill="url(#g8)"/><rect x="425.5" y="244" width="2.4" height="68.8" fill="url(#g7)"/><rect x="427.5" y="244" width="2.4" height="68.8" fill="url(#g8)"/><rect x="429.5" y="244" width="2.4" height="68.8" fill="url(#g12)"/><rect x="431.5" y="244" width="2.4" height="68.8" fill="url(#g12)"/><rect x="433.5" y="244" width="2.4" height="68.8" fill="url(#g12)"/><rect x="435.5" y="244" width="2.4" height="68.8" fill="url(#g12)"/><rect x="437.5" y="244" width="2.4" height="68.8" fill="url(#g12)"/><rect x="439.5" y="244" width="2.4" height="68.8" fill="url(#g12)"/><rect x="441.5" y="244" width="2.4" height="68.8" fill="url(#g12)"/><rect x="443.5" y="244" width="2.4" height="68.8" fill="url(#g12)"/><rect x="445.5" y="244" width="2.4" height="68.8" fill="url(#g12)"/><rect x="447.5" y="244" width="2.4" height="68.8" fill="url(#g12)"/><rect x="449.5" y="244" width="2.4" height="68.8" fill="url(#g11)"/><rect x="451.5" y="244" width="2.4" height="68.8" fill="url(#g11)"/><rect x="453.5" y="244" width="2.4" height="68.8" fill="url(#g12)"/><rect x="455.5" y="244" width="2.4" height="68.8" fill="url(#g12)"/><rect x="457.5" y="244" width="2.4" height="68.8" fill="url(#g7)"/><rect x="459.5" y="244" width="2.4" height="68.8" fill="url(#g8)"/><rect x="461.5" y="244" width="2.4" height="68.8" fill="url(#g8)"/><rect x="463.5" y="244" width="2.4" height="68.8" fill="url(#g8)"/><rect x="465.5" y="244" width="2.4" height="68.8" fill="url(#g7)"/><rect x="467.5" y="244" width="2.4" height="68.8" fill="url(#g7)"/><rect x="469.5" y="244" width="2.4" height="68.8" fill="url(#g8)"/><rect x="471.5" y="244" width="2.4" height="68.8" fill="url(#g6)"/><rect x="473.5" y="244" width="2.4" height="68.8" fill="url(#g7)"/><rect x="475.5" y="244" width="2.4" height="68.8" fill="url(#g7)"/><rect x="477.5" y="244" width="2.4" height="68.8" fill="url(#g12)"/><rect x="479.5" y="244" width="2.4" height="68.8" fill="url(#g12)"/><rect x="481.5" y="244" width="2.4" height="68.8" fill="url(#g12)"/><rect x="483.5" y="244" width="2.4" height="68.8" fill="url(#g11)"/><rect x="485.5" y="244" width="2.4" height="68.8" fill="url(#g11)"/><rect x="487.5" y="244" width="2.4" height="68.8" fill="url(#g12)"/><rect x="489.5" y="244" width="2.4" height="68.8" fill="url(#g7)"/><rect x="491.5" y="244" width="2.4" height="68.8" fill="url(#g8)"/><rect x="493.5" y="244" width="2.4" height="68.8" fill="url(#g8)"/><rect x="495.5" y="244" width="2.4" height="68.8" fill="url(#g7)"/><rect x="497.5" y="244" width="2.4" height="68.8" fill="url(#g7)"/><rect x="499.5" y="244" width="2.4" height="68.8" fill="url(#g8)"/><rect x="501.5" y="244" width="2.4" height="68.8" fill="url(#g4)"/><rect x="503.5" y="244" width="2.4" height="68.8" fill="url(#g4)"/><rect x="505.5" y="244" width="2.4" height="68.8" fill="url(#g4)"/><rect x="507.5" y="244" width="2.4" height="68.8" fill="url(#g4)"/><rect x="509.5" y="244" width="2.4" height="68.8" fill="url(#g3)"/><rect x="511.5" y="244" width="2.4" height="68.8" fill="url(#g4)"/><rect x="513.5" y="244" width="2.4" height="68.8" fill="url(#g4)"/><rect x="515.5" y="244" width="2.4" height="68.8" fill="url(#g3)"/><rect x="517.5" y="244" width="2.4" height="68.8" fill="url(#g4)"/><rect x="519.5" y="244" width="2.4" height="68.8" fill="url(#g4)"/><rect x="521.5" y="244" width="2.4" height="68.8" fill="url(#g4)"/><rect x="523.5" y="244" width="2.4" height="68.8" fill="url(#g4)"/></g><path d="M110 307h2v3h-2zM144 310h1v2h-1zM512 307h1v1h-1zM371 311h2v1h-2zM326 308h1v3h-1zM153 310h1v3h-1zM206 308h1v3h-1zM509 310h1v2h-1zM238 309h2v3h-2zM311 307h2v2h-2zM319 311h2v2h-2zM408 311h2v3h-2zM255 309h1v1h-1zM494 307h2v1h-2zM315 311h1v1h-1zM315 311h1v2h-1zM351 311h2v3h-2zM299 311h1v3h-1zM81 309h1v3h-1zM135 310h1v3h-1zM384 311h2v1h-2zM93 308h1v3h-1zM253 309h1v1h-1zM415 308h1v2h-1zM111 310h1v2h-1zM500 310h1v2h-1zM97 306h1v3h-1zM225 308h1v1h-1zM244 306h1v1h-1zM439 309h1v2h-1zM92 306h1v1h-1zM391 308h1v2h-1zM191 311h1v1h-1zM322 311h2v1h-2zM398 306h2v2h-2zM357 307h1v1h-1z" fill="#0020ff" shape-rendering="crispEdges"/><path d="M114 308h1v2h-1zM85 310h1v2h-1zM357 307h2v2h-2zM328 311h1v2h-1zM391 306h1v2h-1zM422 308h2v1h-2zM230 308h1v1h-1zM290 308h1v2h-1zM216 309h1v2h-1zM496 306h2v2h-2zM211 308h2v2h-2zM427 309h1v1h-1zM382 309h1v3h-1zM373 307h2v1h-2zM269 309h1v2h-1zM303 308h1v2h-1zM437 310h1v3h-1zM265 311h1v1h-1zM481 310h2v2h-2zM218 306h1v1h-1zM359 310h1v3h-1zM481 309h1v3h-1zM308 306h1v3h-1zM403 309h1v2h-1zM205 308h1v2h-1zM480 311h1v1h-1zM239 309h1v1h-1zM391 310h1v2h-1zM496 311h1v2h-1zM467 309h2v2h-2zM426 311h1v2h-1zM138 307h2v2h-2zM186 310h1v2h-1zM73 310h2v1h-2zM363 306h1v1h-1zM458 310h1v2h-1z" fill="#2000ff" shape-rendering="crispEdges"/><path d="M306 308h1v2h-1zM250 308h1v1h-1zM244 311h1v2h-1zM198 308h1v2h-1zM272 311h1v1h-1zM253 307h1v3h-1zM133 309h2v3h-2zM259 310h1v2h-1zM276 309h2v3h-2zM367 309h1v2h-1zM161 309h2v2h-2zM401 306h2v2h-2zM379 309h2v2h-2zM366 306h2v1h-2zM209 307h2v2h-2zM398 307h1v1h-1zM192 311h1v1h-1zM166 310h1v2h-1zM513 311h2v1h-2zM339 310h2v3h-2zM240 308h1v2h-1zM92 307h2v3h-2zM365 306h1v2h-1zM191 311h2v3h-2zM97 307h1v2h-1zM89 311h1v1h-1z" fill="#0060ff" shape-rendering="crispEdges"/><path d="M406 311h1v2h-1zM387 307h2v1h-2zM171 310h2v2h-2zM469 306h1v3h-1zM204 311h1v2h-1zM346 311h2v2h-2zM96 308h1v1h-1zM159 307h2v2h-2zM308 309h2v1h-2zM440 310h2v2h-2zM111 307h1v2h-1zM260 311h1v1h-1zM255 307h2v2h-2zM428 308h1v1h-1zM249 308h1v2h-1zM145 308h1v2h-1zM398 306h2v2h-2zM297 309h1v1h-1zM307 308h1v1h-1zM360 310h1v2h-1zM175 307h2v2h-2zM450 308h1v2h-1zM403 307h1v2h-1zM195 309h1v2h-1zM153 311h1v3h-1zM312 309h2v3h-2zM390 308h1v2h-1zM251 309h1v3h-1zM89 307h1v3h-1zM338 306h2v2h-2zM242 310h1v3h-1zM123 310h2v1h-2zM88 308h1v2h-1zM91 308h1v3h-1zM88 305h2v2h-2zM88 303h1v2h-1zM91 310h1v1h-1zM89 304h1v3h-1zM90 307h2v3h-2zM72 305h1v3h-1zM74 303h1v2h-1z" fill="#00a0ff" shape-rendering="crispEdges"/><path d="M337 308h1v3h-1zM381 310h1v3h-1zM148 311h2v2h-2zM296 306h1v3h-1zM119 308h1v2h-1zM374 311h2v1h-2zM338 307h2v3h-2zM315 306h1v1h-1zM72 308h1v3h-1zM381 309h1v2h-1zM107 311h2v1h-2zM133 306h1v3h-1zM473 307h1v2h-1zM156 306h1v1h-1zM458 311h1v1h-1zM443 307h2v2h-2zM410 306h1v1h-1zM465 308h1v2h-1zM499 306h2v2h-2zM435 311h1v3h-1zM506 308h2v2h-2zM159 311h2v1h-2zM142 308h1v2h-1zM181 309h1v3h-1zM379 309h1v1h-1zM248 308h1v2h-1zM524 307h1v2h-1zM478 310h1v1h-1zM210 310h1v2h-1zM427 309h2v3h-2z" fill="#00e0ff" shape-rendering="crispEdges"/><path d="M82 305h1v1h-1zM74 308h1v1h-1zM91 308h1v1h-1zM76 305h1v1h-1zM75 307h1v2h-1zM74 305h1v2h-1zM76 303h1v2h-1zM74 307h1v1h-1zM88 303h1v3h-1zM75 303h2v2h-2zM82 311h1v2h-1zM89 308h1v2h-1zM77 310h2v2h-2zM90 307h1v1h-1z" fill="#0000ff" shape-rendering="crispEdges"/><path d="M80 307h2v2h-2zM73 310h1v2h-1zM74 304h2v2h-2zM72 305h1v1h-1zM88 310h2v1h-2zM75 305h2v1h-2zM90 305h1v2h-1zM78 301h1v2h-1zM81 306h1v2h-1zM84 306h1v2h-1zM84 302h1v2h-1zM84 307h1v2h-1z" fill="#ff00ff" shape-rendering="crispEdges"/><path d="M76 301h2v1h-2zM77 303h1v2h-1zM73 300h1v2h-1zM75 305h1v1h-1zM73 304h2v1h-2zM86 309h1v1h-1zM83 300h1v2h-1zM75 308h2v2h-2zM89 301h1v1h-1zM79 308h2v2h-2zM82 306h2v2h-2zM91 303h1v2h-1zM90 301h1v1h-1zM74 307h1v2h-1zM84 307h2v1h-2z" fill="#4000ff" shape-rendering="crispEdges"/><g><rect x="668.5" y="115.5" width="2.4" height="74" fill="url(#g17)"/><rect x="670.5" y="115.5" width="2.4" height="74" fill="url(#g17)"/><rect x="672.5" y="115.5" width="2.4" height="74" fill="url(#g17)"/><rect x="674.5" y="115.5" width="2.4" height="74" fill="url(#g17)"/><rect x="676.5" y="115.5" width="2.4" height="74" fill="url(#g17)"/><rect x="678.5" y="115.5" width="2.4" height="74" fill="url(#g17)"/><rect x="680.5" y="115.5" width="2.4" height="74" fill="url(#g17)"/><rect x="682.5" y="115.5" width="2.4" height="74" fill="url(#g13)"/><rect x="684.5" y="115.5" width="2.4" height="74" fill="url(#g13)"/><rect x="686.5" y="115.5" width="2.4" height="74" fill="url(#g13)"/><rect x="688.5" y="115.5" width="2.4" height="74" fill="url(#g13)"/><rect x="690.5" y="115.5" width="2.4" height="74" fill="url(#g15)"/><rect x="692.5" y="115.5" width="2.4" height="74" fill="url(#g14)"/><rect x="694.5" y="115.5" width="2.4" height="74" fill="url(#g16)"/><rect x="696.5" y="115.5" width="2.4" height="74" fill="url(#g15)"/><rect x="698.5" y="115.5" width="2.4" height="74" fill="url(#g15)"/><rect x="700.5" y="115.5" width="2.4" height="74" fill="url(#g14)"/><rect x="702.5" y="115.5" width="2.4" height="74" fill="url(#g19)"/><rect x="704.5" y="115.5" width="2.4" height="74" fill="url(#g18)"/><rect x="706.5" y="115.5" width="2.4" height="74" fill="url(#g19)"/><rect x="708.5" y="115.5" width="2.4" height="74" fill="url(#g18)"/><rect x="710.5" y="115.5" width="2.4" height="74" fill="url(#g19)"/><rect x="712.5" y="115.5" width="2.4" height="74" fill="url(#g18)"/><rect x="714.5" y="115.5" width="2.4" height="74" fill="url(#g20)"/><rect x="716.5" y="115.5" width="2.4" height="74" fill="url(#g19)"/><rect x="718.5" y="115.5" width="2.4" height="74" fill="url(#g19)"/><rect x="720.5" y="115.5" width="2.4" height="74" fill="url(#g19)"/><rect x="722.5" y="115.5" width="2.4" height="74" fill="url(#g18)"/><rect x="724.5" y="115.5" width="2.4" height="74" fill="url(#g19)"/><rect x="726.5" y="115.5" width="2.4" height="74" fill="url(#g18)"/><rect x="728.5" y="115.5" width="2.4" height="74" fill="url(#g19)"/><rect x="730.5" y="115.5" width="2.4" height="74" fill="url(#g18)"/><rect x="732.5" y="115.5" width="2.4" height="74" fill="url(#g18)"/><rect x="734.5" y="115.5" width="2.4" height="74" fill="url(#g19)"/><rect x="736.5" y="115.5" width="2.4" height="74" fill="url(#g18)"/><rect x="738.5" y="115.5" width="2.4" height="74" fill="url(#g23)"/><rect x="740.5" y="115.5" width="2.4" height="74" fill="url(#g23)"/><rect x="742.5" y="115.5" width="2.4" height="74" fill="url(#g23)"/><rect x="744.5" y="115.5" width="2.4" height="74" fill="url(#g23)"/><rect x="746.5" y="115.5" width="2.4" height="74" fill="url(#g23)"/><rect x="748.5" y="115.5" width="2.4" height="74" fill="url(#g23)"/><rect x="750.5" y="115.5" width="2.4" height="74" fill="url(#g24)"/><rect x="752.5" y="115.5" width="2.4" height="74" fill="url(#g23)"/><rect x="754.5" y="115.5" width="2.4" height="74" fill="url(#g23)"/><rect x="756.5" y="115.5" width="2.4" height="74" fill="url(#g23)"/><rect x="758.5" y="115.5" width="2.4" height="74" fill="url(#g19)"/><rect x="760.5" y="115.5" width="2.4" height="74" fill="url(#g19)"/><rect x="762.5" y="115.5" width="2.4" height="74" fill="url(#g20)"/><rect x="764.5" y="115.5" width="2.4" height="74" fill="url(#g19)"/><rect x="766.5" y="115.5" width="2.4" height="74" fill="url(#g19)"/><rect x="768.5" y="115.5" width="2.4" height="74" fill="url(#g19)"/><rect x="770.5" y="115.5" width="2.4" height="74" fill="url(#g20)"/><rect x="772.5" y="115.5" width="2.4" height="74" fill="url(#g19)"/><rect x="774.5" y="115.5" width="2.4" height="74" fill="url(#g19)"/><rect x="776.5" y="115.5" width="2.4" height="74" fill="url(#g19)"/><rect x="778.5" y="115.5" width="2.4" height="74" fill="url(#g19)"/><rect x="780.5" y="115.5" width="2.4" height="74" fill="url(#g20)"/><rect x="782.5" y="115.5" width="2.4" height="74" fill="url(#g19)"/><rect x="784.5" y="115.5" width="2.4" height="74" fill="url(#g19)"/><rect x="786.5" y="115.5" width="2.4" height="74" fill="url(#g19)"/><rect x="788.5" y="115.5" width="2.4" height="74" fill="url(#g20)"/><rect x="790.5" y="115.5" width="2.4" height="74" fill="url(#g20)"/><rect x="792.5" y="115.5" width="2.4" height="74" fill="url(#g19)"/><rect x="794.5" y="115.5" width="2.4" height="74" fill="url(#g16)"/><rect x="796.5" y="115.5" width="2.4" height="74" fill="url(#g16)"/><rect x="798.5" y="115.5" width="2.4" height="74" fill="url(#g15)"/><rect x="800.5" y="115.5" width="2.4" height="74" fill="url(#g15)"/><rect x="802.5" y="115.5" width="2.4" height="74" fill="url(#g15)"/><rect x="804.5" y="115.5" width="2.4" height="74" fill="url(#g15)"/><rect x="806.5" y="115.5" width="2.4" height="74" fill="url(#g15)"/><rect x="808.5" y="115.5" width="2.4" height="74" fill="url(#g15)"/><rect x="810.5" y="115.5" width="2.4" height="74" fill="url(#g15)"/><rect x="812.5" y="115.5" width="2.4" height="74" fill="url(#g14)"/><rect x="814.5" y="115.5" width="2.4" height="74" fill="url(#g15)"/><rect x="816.5" y="115.5" width="2.4" height="74" fill="url(#g19)"/><rect x="818.5" y="115.5" width="2.4" height="74" fill="url(#g19)"/><rect x="820.5" y="115.5" width="2.4" height="74" fill="url(#g19)"/><rect x="822.5" y="115.5" width="2.4" height="74" fill="url(#g18)"/><rect x="824.5" y="115.5" width="2.4" height="74" fill="url(#g19)"/><rect x="826.5" y="115.5" width="2.4" height="74" fill="url(#g19)"/><rect x="828.5" y="115.5" width="2.4" height="74" fill="url(#g19)"/><rect x="830.5" y="115.5" width="2.4" height="74" fill="url(#g18)"/><rect x="832.5" y="115.5" width="2.4" height="74" fill="url(#g19)"/><rect x="834.5" y="115.5" width="2.4" height="74" fill="url(#g19)"/><rect x="836.5" y="115.5" width="2.4" height="74" fill="url(#g19)"/><rect x="838.5" y="115.5" width="2.4" height="74" fill="url(#g20)"/><rect x="840.5" y="115.5" width="2.4" height="74" fill="url(#g18)"/><rect x="842.5" y="115.5" width="2.4" height="74" fill="url(#g19)"/><rect x="844.5" y="115.5" width="2.4" height="74" fill="url(#g19)"/><rect x="846.5" y="115.5" width="2.4" height="74" fill="url(#g19)"/><rect x="848.5" y="115.5" width="2.4" height="74" fill="url(#g19)"/><rect x="850.5" y="115.5" width="2.4" height="74" fill="url(#g20)"/><rect x="852.5" y="115.5" width="2.4" height="74" fill="url(#g24)"/><rect x="854.5" y="115.5" width="2.4" height="74" fill="url(#g23)"/><rect x="856.5" y="115.5" width="2.4" height="74" fill="url(#g24)"/><rect x="858.5" y="115.5" width="2.4" height="74" fill="url(#g23)"/><rect x="860.5" y="115.5" width="2.4" height="74" fill="url(#g23)"/><rect x="862.5" y="115.5" width="2.4" height="74" fill="url(#g24)"/><rect x="864.5" y="115.5" width="2.4" height="74" fill="url(#g23)"/><rect x="866.5" y="115.5" width="2.4" height="74" fill="url(#g24)"/><rect x="868.5" y="115.5" width="2.4" height="74" fill="url(#g23)"/><rect x="870.5" y="115.5" width="2.4" height="74" fill="url(#g23)"/><rect x="872.5" y="115.5" width="2.4" height="74" fill="url(#g19)"/><rect x="874.5" y="115.5" width="2.4" height="74" fill="url(#g19)"/><rect x="876.5" y="115.5" width="2.4" height="74" fill="url(#g19)"/><rect x="878.5" y="115.5" width="2.4" height="74" fill="url(#g20)"/><rect x="880.5" y="115.5" width="2.4" height="74" fill="url(#g19)"/><rect x="882.5" y="115.5" width="2.4" height="74" fill="url(#g19)"/><rect x="884.5" y="115.5" width="2.4" height="74" fill="url(#g19)"/><rect x="886.5" y="115.5" width="2.4" height="74" fill="url(#g19)"/><rect x="888.5" y="115.5" width="2.4" height="74" fill="url(#g23)"/><rect x="890.5" y="115.5" width="2.4" height="74" fill="url(#g24)"/><rect x="892.5" y="115.5" width="2.4" height="74" fill="url(#g23)"/><rect x="894.5" y="115.5" width="2.4" height="74" fill="url(#g22)"/><rect x="896.5" y="115.5" width="2.4" height="74" fill="url(#g23)"/><rect x="898.5" y="115.5" width="2.4" height="74" fill="url(#g22)"/><rect x="900.5" y="115.5" width="2.4" height="74" fill="url(#g19)"/><rect x="902.5" y="115.5" width="2.4" height="74" fill="url(#g18)"/><rect x="904.5" y="115.5" width="2.4" height="74" fill="url(#g19)"/><rect x="906.5" y="115.5" width="2.4" height="74" fill="url(#g19)"/><rect x="908.5" y="115.5" width="2.4" height="74" fill="url(#g19)"/><rect x="910.5" y="115.5" width="2.4" height="74" fill="url(#g14)"/><rect x="912.5" y="115.5" width="2.4" height="74" fill="url(#g15)"/><rect x="914.5" y="115.5" width="2.4" height="74" fill="url(#g14)"/><rect x="916.5" y="115.5" width="2.4" height="74" fill="url(#g14)"/><rect x="918.5" y="115.5" width="2.4" height="74" fill="url(#g15)"/><rect x="920.5" y="115.5" width="2.4" height="74" fill="url(#g14)"/><rect x="922.5" y="115.5" width="2.4" height="74" fill="url(#g15)"/><rect x="924.5" y="115.5" width="2.4" height="74" fill="url(#g15)"/><rect x="926.5" y="115.5" width="2.4" height="74" fill="url(#g19)"/><rect x="928.5" y="115.5" width="2.4" height="74" fill="url(#g19)"/><rect x="930.5" y="115.5" width="2.4" height="74" fill="url(#g19)"/><rect x="932.5" y="115.5" width="2.4" height="74" fill="url(#g19)"/><rect x="934.5" y="115.5" width="2.4" height="74" fill="url(#g19)"/><rect x="936.5" y="115.5" width="2.4" height="74" fill="url(#g19)"/><rect x="938.5" y="115.5" width="2.4" height="74" fill="url(#g19)"/><rect x="940.5" y="115.5" width="2.4" height="74" fill="url(#g15)"/><rect x="942.5" y="115.5" width="2.4" height="74" fill="url(#g14)"/><rect x="944.5" y="115.5" width="2.4" height="74" fill="url(#g14)"/><rect x="946.5" y="115.5" width="2.4" height="74" fill="url(#g14)"/><rect x="948.5" y="115.5" width="2.4" height="74" fill="url(#g15)"/><rect x="950.5" y="115.5" width="2.4" height="74" fill="url(#g15)"/><rect x="952.5" y="115.5" width="2.4" height="74" fill="url(#g15)"/><rect x="954.5" y="115.5" width="2.4" height="74" fill="url(#g14)"/><rect x="956.5" y="115.5" width="2.4" height="74" fill="url(#g14)"/><rect x="958.5" y="115.5" width="2.4" height="74" fill="url(#g19)"/><rect x="960.5" y="115.5" width="2.4" height="74" fill="url(#g19)"/><rect x="962.5" y="115.5" width="2.4" height="74" fill="url(#g19)"/><rect x="964.5" y="115.5" width="2.4" height="74" fill="url(#g19)"/><rect x="966.5" y="115.5" width="2.4" height="74" fill="url(#g20)"/><rect x="968.5" y="115.5" width="2.4" height="74" fill="url(#g19)"/><rect x="970.5" y="115.5" width="2.4" height="74" fill="url(#g24)"/><rect x="972.5" y="115.5" width="2.4" height="74" fill="url(#g23)"/><rect x="974.5" y="115.5" width="2.4" height="74" fill="url(#g24)"/><rect x="976.5" y="115.5" width="2.4" height="74" fill="url(#g24)"/><rect x="978.5" y="115.5" width="2.4" height="74" fill="url(#g20)"/><rect x="980.5" y="115.5" width="2.4" height="74" fill="url(#g20)"/><rect x="982.5" y="115.5" width="2.4" height="74" fill="url(#g20)"/><rect x="984.5" y="115.5" width="2.4" height="74" fill="url(#g20)"/><rect x="986.5" y="115.5" width="2.4" height="74" fill="url(#g20)"/><rect x="988.5" y="115.5" width="2.4" height="74" fill="url(#g20)"/><rect x="990.5" y="115.5" width="2.4" height="74" fill="url(#g20)"/><rect x="992.5" y="115.5" width="2.4" height="74" fill="url(#g20)"/><rect x="994.5" y="115.5" width="2.4" height="74" fill="url(#g20)"/><rect x="996.5" y="115.5" width="2.4" height="74" fill="url(#g24)"/><rect x="998.5" y="115.5" width="2.4" height="74" fill="url(#g24)"/><rect x="1000.5" y="115.5" width="2.4" height="74" fill="url(#g24)"/><rect x="1002.5" y="115.5" width="2.4" height="74" fill="url(#g24)"/><rect x="1004.5" y="115.5" width="2.4" height="74" fill="url(#g23)"/><rect x="1006.5" y="115.5" width="2.4" height="74" fill="url(#g24)"/><rect x="1008.5" y="115.5" width="2.4" height="74" fill="url(#g24)"/><rect x="1010.5" y="115.5" width="2.4" height="74" fill="url(#g24)"/><rect x="1012.5" y="115.5" width="2.4" height="74" fill="url(#g24)"/><rect x="1014.5" y="115.5" width="2.4" height="74" fill="url(#g23)"/><rect x="1016.5" y="115.5" width="2.4" height="74" fill="url(#g20)"/><rect x="1018.5" y="115.5" width="2.4" height="74" fill="url(#g20)"/><rect x="1020.5" y="115.5" width="2.4" height="74" fill="url(#g20)"/><rect x="1022.5" y="115.5" width="2.4" height="74" fill="url(#g20)"/><rect x="1024.5" y="115.5" width="2.4" height="74" fill="url(#g20)"/><rect x="1026.5" y="115.5" width="2.4" height="74" fill="url(#g20)"/><rect x="1028.5" y="115.5" width="2.4" height="74" fill="url(#g19)"/><rect x="1030.5" y="115.5" width="2.4" height="74" fill="url(#g18)"/><rect x="1032.5" y="115.5" width="2.4" height="74" fill="url(#g20)"/><rect x="1034.5" y="115.5" width="2.4" height="74" fill="url(#g18)"/><rect x="1036.5" y="115.5" width="2.4" height="74" fill="url(#g18)"/><rect x="1038.5" y="115.5" width="2.4" height="74" fill="url(#g19)"/><rect x="1040.5" y="115.5" width="2.4" height="74" fill="url(#g18)"/><rect x="1042.5" y="115.5" width="2.4" height="74" fill="url(#g19)"/><rect x="1044.5" y="115.5" width="2.4" height="74" fill="url(#g18)"/><rect x="1046.5" y="115.5" width="2.4" height="74" fill="url(#g19)"/><rect x="1048.5" y="115.5" width="2.4" height="74" fill="url(#g18)"/><rect x="1050.5" y="115.5" width="2.4" height="74" fill="url(#g19)"/><rect x="1052.5" y="115.5" width="2.4" height="74" fill="url(#g15)"/><rect x="1054.5" y="115.5" width="2.4" height="74" fill="url(#g15)"/><rect x="1056.5" y="115.5" width="2.4" height="74" fill="url(#g15)"/><rect x="1058.5" y="115.5" width="2.4" height="74" fill="url(#g15)"/><rect x="1060.5" y="115.5" width="2.4" height="74" fill="url(#g15)"/><rect x="1062.5" y="115.5" width="2.4" height="74" fill="url(#g15)"/><rect x="1064.5" y="115.5" width="2.4" height="74" fill="url(#g14)"/><rect x="1066.5" y="115.5" width="2.4" height="74" fill="url(#g15)"/><rect x="1068.5" y="115.5" width="2.4" height="74" fill="url(#g14)"/><rect x="1070.5" y="115.5" width="2.4" height="74" fill="url(#g15)"/><rect x="1072.5" y="115.5" width="2.4" height="74" fill="url(#g14)"/><rect x="1074.5" y="115.5" width="2.4" height="74" fill="url(#g19)"/><rect x="1076.5" y="115.5" width="2.4" height="74" fill="url(#g18)"/><rect x="1078.5" y="115.5" width="2.4" height="74" fill="url(#g19)"/><rect x="1080.5" y="115.5" width="2.4" height="74" fill="url(#g18)"/><rect x="1082.5" y="115.5" width="2.4" height="74" fill="url(#g18)"/><rect x="1084.5" y="115.5" width="2.4" height="74" fill="url(#g19)"/><rect x="1086.5" y="115.5" width="2.4" height="74" fill="url(#g19)"/><rect x="1088.5" y="115.5" width="2.4" height="74" fill="url(#g19)"/><rect x="1090.5" y="115.5" width="2.4" height="74" fill="url(#g19)"/><rect x="1092.5" y="115.5" width="2.4" height="74" fill="url(#g19)"/><rect x="1094.5" y="115.5" width="2.4" height="74" fill="url(#g20)"/><rect x="1096.5" y="115.5" width="2.4" height="74" fill="url(#g20)"/><rect x="1098.5" y="115.5" width="2.4" height="74" fill="url(#g20)"/><rect x="1100.5" y="115.5" width="2.4" height="74" fill="url(#g20)"/><rect x="1102.5" y="115.5" width="2.4" height="74" fill="url(#g20)"/><rect x="1104.5" y="115.5" width="2.4" height="74" fill="url(#g20)"/><rect x="1106.5" y="115.5" width="2.4" height="74" fill="url(#g20)"/><rect x="1108.5" y="115.5" width="2.4" height="74" fill="url(#g24)"/><rect x="1110.5" y="115.5" width="2.4" height="74" fill="url(#g24)"/><rect x="1112.5" y="115.5" width="2.4" height="74" fill="url(#g24)"/><rect x="1114.5" y="115.5" width="2.4" height="74" fill="url(#g24)"/><rect x="1116.5" y="115.5" width="2.4" height="74" fill="url(#g24)"/><rect x="1118.5" y="115.5" width="2.4" height="74" fill="url(#g23)"/><rect x="1120.5" y="115.5" width="2.4" height="74" fill="url(#g24)"/></g><path d="M1033 126h1v2h-1zM975 121h2v2h-2zM898 122h2v1h-2zM1099 123h1v3h-1zM839 126h1v1h-1zM669 123h1v2h-1zM1092 127h1v2h-1zM670 122h1v1h-1zM1070 123h1v2h-1zM997 124h2v2h-2zM885 126h2v1h-2zM947 122h1v2h-1zM1059 122h2v2h-2zM1000 122h1v1h-1zM748 121h1v1h-1zM716 126h1v3h-1zM1067 123h2v2h-2zM832 121h1v3h-1zM699 123h1v3h-1zM1033 122h1v2h-1zM706 126h2v3h-2zM965 122h1v2h-1zM933 121h2v3h-2zM905 126h2v1h-2zM686 123h1v1h-1zM841 126h2v2h-2zM766 126h2v1h-2zM1094 126h2v1h-2zM1025 123h2v2h-2zM1074 123h1v2h-1zM904 121h2v2h-2zM1063 121h1v1h-1zM687 124h1v2h-1zM1073 122h2v2h-2zM877 122h2v2h-2zM801 127h1v2h-1zM849 125h1v1h-1zM1088 124h1v2h-1zM793 126h2v2h-2zM715 127h1v1h-1zM863 121h1v2h-1zM875 123h1v1h-1zM833 125h2v3h-2zM969 122h1v3h-1zM822 122h1v2h-1zM1047 124h2v2h-2zM723 126h1v2h-1zM1118 123h1v2h-1zM1051 124h1v2h-1zM875 121h1v2h-1zM1000 125h2v1h-2zM1035 121h2v2h-2zM719 121h2v3h-2zM740 125h1v2h-1zM874 123h2v1h-2zM716 121h2v2h-2zM977 124h1v2h-1zM694 122h1v2h-1zM855 126h1v2h-1zM674 123h1v1h-1zM770 123h1v2h-1zM995 121h1v2h-1zM1081 121h2v3h-2zM1030 123h1v1h-1zM759 125h2v2h-2zM729 125h1v1h-1zM883 122h1v2h-1zM794 126h1v2h-1zM852 127h1v2h-1zM1085 121h1v2h-1zM887 126h2v2h-2zM798 124h1v1h-1zM713 127h1v1h-1zM1082 121h2v2h-2zM803 121h1v1h-1zM1118 126h2v2h-2zM777 122h1v1h-1zM1114 126h1v1h-1zM1099 127h2v1h-2zM974 126h1v2h-1zM1078 122h2v2h-2zM969 124h2v1h-2zM757 122h1v3h-1zM980 123h1v3h-1zM1057 121h1v1h-1zM696 122h1v2h-1zM697 127h1v1h-1zM688 127h2v1h-2zM870 127h1v2h-1zM740 123h2v2h-2zM716 126h1v2h-1zM784 123h1v3h-1zM787 124h1v3h-1zM707 126h1v3h-1zM1023 126h2v3h-2zM831 123h2v3h-2zM882 121h2v2h-2zM762 127h1v2h-1zM1002 127h2v3h-2zM823 126h1v2h-1zM853 126h1v2h-1zM878 126h2v2h-2zM719 126h1v2h-1zM870 123h1v2h-1zM867 125h1v3h-1zM925 121h1v1h-1zM1073 127h2v1h-2zM926 125h1v2h-1zM859 126h2v2h-2zM864 122h1v1h-1zM945 125h2v3h-2zM903 124h1v2h-1zM1042 123h1v3h-1zM671 125h2v1h-2zM1103 125h1v3h-1zM971 124h1v2h-1zM991 125h1v2h-1zM775 123h2v2h-2zM893 124h1v3h-1zM851 127h2v1h-2zM852 127h1v1h-1zM853 124h1v3h-1zM1120 126h2v3h-2zM803 127h2v2h-2zM1105 126h1v2h-1zM1084 126h1v2h-1zM822 127h1v2h-1zM813 125h2v2h-2zM1110 126h1v2h-1zM921 124h2v1h-2zM778 123h1v3h-1zM1099 122h2v3h-2zM894 123h1v2h-1zM1112 124h1v3h-1zM704 127h1v2h-1zM817 122h1v3h-1zM773 124h1v3h-1zM687 124h1v2h-1zM951 123h2v1h-2zM866 127h1v2h-1zM858 121h1v3h-1zM944 121h2v3h-2zM982 126h1v1h-1zM807 124h1v2h-1zM817 126h1v3h-1zM1012 121h1v3h-1zM1001 127h1v2h-1zM677 122h1v1h-1zM820 121h2v1h-2zM769 127h2v3h-2zM877 126h2v2h-2zM1082 126h1v2h-1zM874 123h1v2h-1zM981 124h1v3h-1zM921 127h1v3h-1zM996 125h1v1h-1zM750 125h1v1h-1zM948 123h1v1h-1zM904 126h1v2h-1zM784 126h2v2h-2zM741 125h2v3h-2zM968 124h2v2h-2zM725 121h1v2h-1zM814 123h1v2h-1zM840 126h1v3h-1zM894 127h1v2h-1zM996 121h1v2h-1zM967 123h1v2h-1zM689 121h2v3h-2zM1009 122h2v2h-2zM695 126h2v2h-2zM780 126h1v2h-1zM984 123h1v2h-1zM1072 126h1v1h-1zM917 126h2v1h-2zM930 126h2v2h-2zM684 123h2v2h-2zM856 124h1v3h-1zM1098 123h1v2h-1zM1049 126h2v2h-2zM997 124h2v2h-2zM1005 127h2v3h-2zM879 121h2v2h-2zM949 123h2v2h-2zM1105 124h1v2h-1zM956 125h2v2h-2zM875 121h1v2h-1zM794 127h2v3h-2zM707 122h1v2h-1zM713 123h1v1h-1zM728 126h2v2h-2zM1118 121h1v2h-1zM893 125h1v2h-1zM1086 122h1v1h-1zM899 125h2v3h-2zM1087 127h1v1h-1zM1004 126h1v1h-1zM719 127h1v2h-1zM990 126h1v2h-1zM944 121h1v3h-1zM782 124h1v2h-1zM1102 126h2v2h-2zM952 127h1v2h-1zM1069 126h1v2h-1zM730 125h2v2h-2zM1000 122h1v2h-1zM687 123h1v3h-1zM761 124h1v2h-1zM889 123h1v2h-1zM1009 123h2v1h-2zM958 123h2v3h-2zM678 123h1v3h-1zM723 127h1v3h-1zM830 123h1v2h-1zM755 125h1v1h-1zM767 123h1v1h-1zM1010 124h2v3h-2zM719 122h1v1h-1zM928 121h1v2h-1zM762 127h1v3h-1zM960 125h2v3h-2zM704 124h1v2h-1zM830 125h1v3h-1zM816 122h1v2h-1zM689 120h2v1h-2zM930 117h2v1h-2zM1006 117h2v3h-2zM864 118h1v1h-1zM723 120h1v2h-1zM984 117h1v1h-1zM837 118h1v2h-1zM813 117h1v3h-1zM1099 119h2v2h-2zM885 119h1v1h-1zM671 116h1v2h-1zM940 120h2v1h-2zM773 116h1v1h-1zM1056 118h1v2h-1zM903 119h1v1h-1zM800 118h1v2h-1zM1083 118h1v1h-1zM820 118h1v2h-1zM883 118h2v1h-2zM973 117h1v3h-1zM890 117h2v3h-2zM1040 120h1v2h-1zM828 116h1v2h-1zM796 116h1v2h-1zM799 119h1v2h-1zM759 119h1v2h-1zM883 116h2v1h-2zM768 118h1v3h-1zM995 117h2v2h-2zM757 117h1v1h-1zM854 119h1v3h-1zM769 119h1v2h-1zM949 116h1v2h-1zM825 116h1v2h-1zM957 119h1v2h-1zM840 119h2v3h-2zM1014 118h2v2h-2zM914 118h2v2h-2zM722 120h1v2h-1zM1057 117h2v2h-2zM869 116h1v2h-1zM852 119h1v2h-1zM797 118h2v3h-2zM1009 116h2v1h-2zM1060 116h2v2h-2zM1004 116h2v2h-2zM1055 117h1v2h-1zM1095 120h1v2h-1zM690 119h2v2h-2zM1048 116h1v2h-1zM840 117h2v2h-2zM744 119h1v1h-1zM697 118h2v3h-2zM725 119h1v1h-1zM829 117h1v2h-1zM840 116h1v2h-1zM899 119h1v2h-1zM821 117h1v1h-1zM923 118h1v1h-1zM700 119h2v2h-2zM786 118h1v3h-1zM838 119h1v2h-1zM984 117h2v2h-2zM914 119h1v3h-1zM792 118h2v2h-2zM720 116h1v2h-1zM1099 118h1v1h-1zM876 119h2v3h-2zM750 120h1v2h-1zM986 116h2v2h-2zM1031 119h1v1h-1zM1032 117h1v1h-1zM1118 119h1v2h-1zM889 117h2v2h-2zM1047 118h1v2h-1zM987 118h1v3h-1zM1041 118h2v3h-2zM888 118h2v1h-2zM695 118h1v3h-1zM679 119h2v2h-2zM840 119h1v1h-1zM811 117h1v2h-1zM829 118h2v2h-2zM772 117h1v1h-1zM791 120h1v3h-1zM1116 118h1v3h-1zM687 119h2v2h-2zM919 119h2v1h-2zM750 118h2v1h-2zM862 119h1v1h-1zM1066 116h1v2h-1zM1040 119h1v2h-1zM683 117h1v1h-1zM885 120h2v3h-2zM745 116h1v2h-1zM740 119h1v3h-1zM863 117h1v2h-1zM1070 116h2v2h-2zM1104 117h2v3h-2zM731 120h2v1h-2zM954 116h2v1h-2zM1105 116h1v1h-1zM863 120h1v2h-1zM870 117h2v1h-2zM813 118h2v1h-2zM762 117h2v2h-2zM878 116h1v3h-1zM745 116h1v3h-1zM885 118h1v1h-1zM746 116h2v2h-2zM934 118h1v1h-1zM943 118h1v2h-1zM727 116h1v2h-1zM1085 116h2v3h-2zM929 118h1v1h-1zM753 118h1v1h-1zM1069 117h2v2h-2zM910 119h2v2h-2zM708 119h2v2h-2zM901 119h1v1h-1zM818 116h1v3h-1zM885 117h1v3h-1zM839 118h1v2h-1zM888 117h2v2h-2zM843 118h1v1h-1zM907 120h1v2h-1zM705 118h1v3h-1zM904 117h2v2h-2zM953 119h1v2h-1zM805 117h1v3h-1zM1064 119h1v3h-1zM990 118h2v2h-2zM796 119h2v1h-2zM794 119h2v3h-2zM920 118h2v2h-2zM669 116h2v1h-2zM854 118h1v2h-1zM939 119h1v3h-1zM962 116h1v3h-1zM1052 119h2v3h-2zM1019 118h2v2h-2zM1063 117h1v2h-1zM840 119h1v1h-1zM672 119h2v2h-2zM720 117h2v2h-2zM938 119h1v1h-1zM1017 118h1v3h-1zM1090 119h1v2h-1zM713 116h1v3h-1zM908 118h1v1h-1zM685 118h1v2h-1zM801 116h1v2h-1zM813 120h2v3h-2zM846 119h2v3h-2zM774 119h2v2h-2zM929 117h1v1h-1zM971 120h1v3h-1zM833 116h1v3h-1zM1079 118h2v2h-2zM873 117h1v3h-1zM808 119h1v3h-1zM810 118h1v1h-1zM809 120h1v1h-1zM805 117h1v2h-1zM892 116h2v2h-2zM865 119h2v1h-2zM838 119h1v2h-1zM745 116h2v2h-2zM965 119h1v2h-1zM1063 120h1v3h-1zM1115 118h1v1h-1zM670 118h1v3h-1zM920 116h1v2h-1zM1060 117h1v2h-1zM1007 116h1v2h-1zM1103 119h1v2h-1zM771 118h1v2h-1zM941 118h1v1h-1zM1012 116h1v2h-1zM1060 116h2v2h-2zM1079 118h2v2h-2zM848 118h1v2h-1zM945 117h2v3h-2zM878 116h1v1h-1zM899 119h2v2h-2zM759 120h2v1h-2zM762 120h1v2h-1zM1060 117h1v2h-1zM971 116h1v2h-1zM720 118h2v3h-2zM991 117h2v2h-2zM963 118h2v1h-2zM854 117h1v2h-1zM694 119h2v2h-2zM919 118h1v3h-1zM918 118h1v2h-1zM894 118h1v3h-1zM819 116h2v2h-2zM1083 117h2v2h-2zM808 118h1v1h-1zM845 116h1v3h-1zM1087 118h2v2h-2zM1043 117h1v2h-1zM703 117h2v2h-2zM1059 118h1v3h-1zM1069 119h1v1h-1zM1049 116h1v2h-1zM722 118h2v2h-2zM768 116h1v2h-1zM970 116h2v2h-2zM759 120h2v3h-2zM1021 116h2v2h-2zM797 117h2v2h-2zM747 118h1v2h-1zM936 117h2v2h-2zM1006 116h1v2h-1zM1012 117h1v2h-1zM714 117h1v1h-1zM982 118h2v2h-2zM994 119h2v2h-2zM745 119h1v2h-1zM992 118h1v3h-1zM991 119h1v2h-1zM1113 119h1v3h-1zM863 118h1v2h-1zM890 116h2v3h-2zM798 119h2v3h-2zM748 116h1v2h-1zM755 119h2v2h-2zM951 118h1v1h-1zM1003 117h1v2h-1zM838 117h1v1h-1zM741 116h1v2h-1zM1000 118h1v2h-1zM783 116h1v2h-1zM722 117h2v2h-2zM801 119h1v2h-1zM1072 116h2v1h-2zM742 117h2v3h-2zM845 119h1v3h-1zM1079 118h1v3h-1zM705 118h1v3h-1zM783 118h1v2h-1zM833 116h1v1h-1zM731 116h1v2h-1zM804 119h2v3h-2zM812 119h2v2h-2zM944 118h1v2h-1zM691 116h1v1h-1zM1016 119h1v1h-1zM780 120h1v2h-1zM705 116h1v1h-1zM927 117h1v1h-1zM1105 120h2v3h-2z" fill="#00e0ff" shape-rendering="crispEdges"/><path d="M693 123h1v2h-1zM689 121h2v1h-2zM1075 126h1v2h-1zM791 127h1v2h-1zM897 124h2v1h-2zM816 126h1v1h-1zM985 124h1v3h-1zM775 123h2v2h-2zM920 122h2v1h-2zM959 121h2v3h-2zM996 126h1v2h-1zM852 121h2v3h-2zM971 127h1v1h-1zM686 122h1v1h-1zM857 125h2v2h-2zM892 121h1v3h-1zM690 121h1v1h-1zM698 122h1v2h-1zM896 124h1v1h-1zM890 127h1v1h-1zM711 127h1v2h-1zM858 125h1v3h-1zM1072 122h1v3h-1zM887 123h2v1h-2zM697 124h2v2h-2zM838 127h2v1h-2zM1090 125h1v2h-1zM819 123h2v2h-2zM978 126h1v2h-1zM1070 124h2v1h-2zM1023 124h1v2h-1zM824 126h2v2h-2zM1024 121h2v2h-2zM755 123h1v1h-1zM740 122h2v3h-2zM696 127h1v3h-1zM933 122h2v3h-2zM1001 127h1v2h-1zM902 121h1v1h-1zM784 127h1v2h-1zM765 127h1v3h-1zM701 123h1v2h-1zM1027 127h1v3h-1zM1075 124h1v2h-1zM968 126h2v1h-2zM754 123h1v2h-1zM963 125h1v3h-1zM874 122h1v2h-1zM807 124h1v2h-1zM743 124h1v1h-1zM1102 124h2v2h-2zM876 122h1v2h-1zM909 127h2v1h-2zM1051 126h1v2h-1zM1117 126h1v3h-1zM1102 125h2v2h-2zM689 121h1v2h-1zM912 126h2v1h-2zM885 127h1v1h-1zM851 123h2v1h-2zM991 125h1v2h-1zM942 122h2v3h-2zM714 122h2v3h-2zM728 127h1v3h-1zM674 125h1v2h-1zM734 126h1v2h-1zM855 124h1v3h-1zM875 126h2v2h-2zM922 126h1v2h-1zM923 127h2v1h-2zM901 121h1v1h-1zM728 125h2v2h-2zM739 123h1v2h-1zM941 126h1v2h-1zM694 121h1v3h-1zM828 125h2v3h-2zM1011 127h2v1h-2zM1090 122h1v2h-1zM824 125h2v3h-2zM886 124h1v1h-1zM843 123h1v2h-1zM1034 127h1v3h-1zM949 126h2v3h-2zM1083 121h1v3h-1zM970 124h2v2h-2zM684 127h2v1h-2zM1105 127h2v3h-2zM990 122h1v2h-1zM942 121h2v1h-2zM845 122h1v3h-1zM778 124h2v2h-2zM694 126h2v2h-2zM970 126h2v2h-2zM1000 122h2v2h-2zM800 127h2v3h-2zM763 126h2v2h-2zM926 125h2v2h-2zM1048 124h1v2h-1zM1016 125h2v1h-2zM822 126h2v2h-2zM746 124h2v2h-2zM866 127h1v3h-1zM680 122h2v1h-2zM776 127h1v2h-1zM1057 126h1v3h-1zM983 124h1v2h-1zM1068 125h2v3h-2zM690 122h2v2h-2zM764 122h1v3h-1zM850 126h1v3h-1zM984 123h1v3h-1zM1063 123h1v3h-1zM1053 124h1v1h-1zM697 121h2v1h-2zM674 126h1v1h-1zM1075 122h1v2h-1zM781 124h1v1h-1zM703 123h2v2h-2zM1036 121h2v2h-2zM913 121h1v3h-1zM741 127h1v3h-1zM949 121h2v3h-2zM759 124h1v2h-1zM1022 122h2v3h-2zM1079 124h2v1h-2zM849 125h1v3h-1zM1116 123h1v3h-1zM710 125h2v3h-2zM1033 127h1v2h-1zM942 124h1v2h-1zM835 125h2v2h-2zM1074 127h2v3h-2zM793 126h1v1h-1zM1083 123h2v2h-2zM1108 125h1v3h-1zM1016 124h1v2h-1zM1059 125h1v2h-1zM674 123h2v2h-2zM852 125h1v2h-1zM994 122h1v2h-1zM1001 126h2v3h-2zM784 127h1v2h-1zM793 122h1v3h-1zM1114 123h1v2h-1zM1120 124h1v3h-1zM686 124h1v2h-1zM818 122h1v1h-1zM727 127h1v3h-1zM994 125h1v2h-1zM914 122h2v1h-2zM744 121h1v3h-1zM927 127h2v2h-2zM1007 124h1v1h-1zM750 121h2v3h-2zM937 121h1v1h-1zM799 127h1v3h-1zM776 124h1v2h-1zM897 127h1v1h-1zM1007 125h1v2h-1zM1113 123h1v2h-1zM978 127h2v2h-2zM706 126h2v2h-2zM754 125h1v2h-1zM1007 121h1v1h-1zM937 122h1v3h-1zM760 121h1v2h-1zM833 123h2v2h-2zM690 124h2v2h-2zM1067 124h1v2h-1zM797 126h1v2h-1zM1111 126h1v2h-1zM679 122h2v1h-2zM969 121h1v2h-1zM988 121h1v1h-1zM951 127h1v2h-1zM835 124h1v2h-1zM794 123h1v2h-1zM901 124h2v3h-2zM803 127h2v2h-2zM675 127h2v1h-2zM972 126h1v2h-1zM829 125h2v3h-2zM711 125h1v2h-1zM759 125h1v2h-1zM672 121h1v3h-1zM799 121h1v2h-1zM728 123h1v3h-1zM1062 127h1v1h-1zM673 125h2v2h-2zM1044 125h1v1h-1zM933 127h1v1h-1zM912 121h1v3h-1zM833 122h1v1h-1zM762 126h1v1h-1zM688 121h1v3h-1zM1027 121h1v1h-1zM968 127h1v1h-1zM842 122h1v2h-1zM945 121h1v1h-1zM758 126h1v3h-1zM935 121h1v2h-1zM956 123h2v2h-2zM1100 121h1v3h-1zM868 125h1v3h-1zM761 124h1v3h-1zM929 122h1v2h-1zM893 124h1v2h-1zM856 126h1v2h-1zM716 121h2v2h-2zM765 126h1v1h-1zM672 126h2v1h-2zM869 121h1v2h-1zM1034 125h2v2h-2zM866 124h2v1h-2zM829 126h1v2h-1zM1022 124h1v2h-1zM680 121h1v1h-1zM889 123h2v1h-2zM825 122h2v2h-2zM759 127h1v2h-1zM1105 122h1v1h-1zM895 122h1v2h-1zM946 126h1v2h-1zM926 127h2v1h-2zM844 122h1v2h-1zM1121 125h2v3h-2zM1094 121h1v1h-1zM1025 127h2v2h-2zM811 121h2v1h-2zM995 124h1v1h-1zM909 127h1v3h-1zM858 127h2v2h-2zM1087 125h2v2h-2zM829 122h1v2h-1zM690 126h1v1h-1zM1051 121h1v3h-1zM957 123h1v1h-1zM1014 122h2v2h-2zM701 126h1v2h-1zM892 127h1v3h-1zM1019 127h2v3h-2zM743 127h2v2h-2zM681 122h1v2h-1zM847 121h1v2h-1zM1066 124h1v2h-1zM909 123h1v3h-1zM795 125h1v2h-1zM1116 124h1v3h-1zM877 121h2v1h-2zM1103 121h1v3h-1zM775 125h1v1h-1zM748 126h2v3h-2zM848 121h2v1h-2zM1018 122h1v3h-1zM885 123h1v3h-1zM989 125h1v3h-1zM1066 124h1v1h-1zM960 127h1v2h-1zM811 126h1v2h-1zM873 123h2v2h-2zM1121 127h2v1h-2zM711 120h1v2h-1zM1009 118h1v2h-1zM754 118h1v2h-1zM939 116h1v1h-1zM852 119h2v1h-2zM1060 120h2v2h-2zM802 119h1v1h-1zM672 117h1v2h-1zM873 116h2v2h-2zM1025 116h1v2h-1zM954 116h1v2h-1zM785 118h1v2h-1zM845 117h1v3h-1zM1075 118h2v1h-2zM799 116h1v2h-1zM1116 118h2v2h-2zM744 117h2v1h-2zM812 116h1v2h-1zM1024 118h2v1h-2zM871 116h1v2h-1zM974 116h1v2h-1zM1071 117h1v2h-1zM973 120h1v1h-1zM798 116h1v1h-1zM756 119h1v2h-1zM1030 119h2v1h-2zM1102 119h2v2h-2zM722 120h1v3h-1zM996 119h1v1h-1zM735 118h2v1h-2zM1096 119h2v1h-2zM967 116h1v1h-1zM719 116h2v3h-2zM1107 120h1v2h-1zM1057 119h1v1h-1zM790 120h1v2h-1zM844 117h2v2h-2zM999 116h2v2h-2zM675 120h2v2h-2zM969 116h2v1h-2zM821 119h1v3h-1zM843 116h1v3h-1zM947 119h1v1h-1zM1113 118h2v1h-2zM1059 116h2v3h-2zM1045 120h1v3h-1zM767 120h1v2h-1zM1108 117h1v3h-1zM1120 118h1v1h-1zM883 119h1v3h-1zM695 119h2v2h-2zM887 116h2v3h-2zM698 118h2v2h-2zM722 119h1v1h-1zM837 117h1v3h-1zM916 119h1v2h-1zM1088 120h2v2h-2zM781 119h1v2h-1zM953 116h2v2h-2zM984 116h2v2h-2zM1117 118h1v1h-1zM752 120h1v1h-1zM1031 118h1v2h-1zM1018 119h1v3h-1zM1034 117h1v2h-1zM891 118h2v2h-2zM957 117h1v3h-1zM1038 118h2v1h-2zM906 119h2v2h-2zM877 118h1v3h-1zM887 119h1v2h-1zM705 120h1v2h-1zM822 116h1v1h-1zM669 116h1v2h-1zM755 119h1v2h-1zM865 116h1v1h-1zM1023 117h1v2h-1zM1039 116h1v2h-1zM804 117h1v3h-1zM962 118h2v1h-2zM1003 118h1v2h-1zM671 119h1v2h-1zM1043 120h2v3h-2zM692 119h1v1h-1zM932 116h1v3h-1zM985 117h1v3h-1zM1018 120h1v3h-1zM1021 117h1v3h-1zM739 117h2v1h-2zM1096 117h1v2h-1zM1096 119h1v1h-1zM924 120h1v1h-1zM1030 119h1v3h-1zM900 118h1v2h-1zM803 117h1v1h-1zM1009 117h2v1h-2zM883 118h1v1h-1zM1069 117h1v2h-1zM1052 116h1v2h-1zM920 118h2v1h-2zM1072 116h1v2h-1zM1107 118h2v2h-2zM727 117h2v3h-2zM826 120h2v2h-2zM821 117h1v2h-1zM933 116h1v1h-1zM836 119h1v2h-1zM830 117h2v2h-2zM1105 118h1v1h-1zM1097 116h1v2h-1zM903 116h2v1h-2zM693 117h1v2h-1zM673 116h1v3h-1zM1026 118h2v2h-2zM923 118h1v1h-1zM853 120h1v2h-1zM904 119h1v2h-1zM671 118h1v2h-1zM954 119h1v1h-1zM963 118h1v1h-1zM707 116h2v1h-2zM1086 116h2v2h-2zM1084 117h1v2h-1zM745 120h1v3h-1zM867 119h1v2h-1zM836 119h1v3h-1zM1061 119h1v1h-1zM912 118h2v2h-2zM695 117h1v1h-1zM965 117h1v1h-1zM803 117h2v2h-2zM752 117h1v1h-1zM1041 117h2v2h-2zM1088 120h1v2h-1zM1086 116h2v2h-2zM797 118h2v3h-2zM745 116h2v1h-2zM695 116h1v3h-1zM735 120h1v3h-1zM973 117h1v2h-1zM717 117h1v1h-1zM762 119h2v2h-2zM1048 116h1v2h-1zM943 120h1v3h-1zM828 118h2v1h-2zM1100 116h1v3h-1zM740 117h2v1h-2zM795 117h1v1h-1zM988 119h2v1h-2zM884 116h2v2h-2zM1044 116h1v2h-1zM827 120h1v3h-1zM739 117h1v2h-1zM1086 119h1v3h-1zM684 116h2v2h-2zM1014 118h1v2h-1zM1018 119h2v3h-2zM919 116h1v3h-1zM1004 119h1v3h-1zM841 118h1v2h-1zM1031 119h1v1h-1zM674 119h2v3h-2zM861 117h2v3h-2zM1100 119h1v1h-1zM1004 118h2v3h-2zM1027 116h1v1h-1zM669 119h2v3h-2zM846 118h1v2h-1zM988 119h2v2h-2zM684 116h1v2h-1zM1105 119h1v2h-1zM876 118h2v3h-2zM967 116h1v3h-1zM890 119h1v1h-1zM1024 120h1v2h-1zM804 117h1v1h-1zM978 119h1v2h-1zM848 117h1v1h-1zM975 120h1v1h-1zM824 117h1v2h-1zM925 116h1v3h-1zM822 120h1v1h-1zM834 119h1v2h-1zM1045 119h2v3h-2zM761 118h1v2h-1zM812 119h1v1h-1zM705 119h2v3h-2zM1086 118h2v1h-2zM906 118h2v2h-2zM1029 116h2v2h-2zM731 118h1v1h-1zM895 119h1v2h-1zM1008 117h2v2h-2zM994 118h1v2h-1zM871 117h1v1h-1zM1092 118h1v3h-1zM874 119h2v1h-2zM690 116h1v2h-1zM694 119h1v2h-1zM999 117h2v2h-2zM716 117h1v1h-1zM1006 116h1v2h-1zM1083 117h1v2h-1zM764 116h1v2h-1zM780 116h1v3h-1zM992 119h1v2h-1zM908 116h2v2h-2zM867 117h2v1h-2zM1109 120h2v3h-2zM723 116h1v3h-1zM949 118h2v1h-2zM682 116h1v2h-1zM881 116h1v3h-1zM882 120h1v2h-1zM880 117h2v2h-2zM731 118h1v3h-1zM852 117h1v3h-1zM1103 119h1v2h-1zM784 118h1v3h-1zM949 119h1v1h-1zM1108 117h1v2h-1zM815 116h1v1h-1zM691 120h2v2h-2zM833 117h2v1h-2zM836 120h1v1h-1zM1107 116h2v1h-2zM754 117h2v3h-2zM1068 118h2v2h-2zM1005 117h2v3h-2zM715 117h1v1h-1zM705 117h1v2h-1zM935 116h1v2h-1zM1069 117h1v3h-1zM938 118h1v2h-1zM927 117h1v1h-1zM814 116h1v3h-1zM921 117h2v1h-2zM1078 118h1v3h-1zM962 116h1v3h-1zM774 116h1v2h-1zM931 118h1v2h-1zM736 117h2v2h-2zM1021 119h1v3h-1zM797 120h2v2h-2zM724 120h1v2h-1zM887 119h1v1h-1zM982 120h2v2h-2zM829 120h1v2h-1zM987 119h2v1h-2zM741 116h2v2h-2zM789 116h2v2h-2zM1099 119h2v2h-2zM760 118h1v3h-1zM1037 118h1v2h-1zM933 119h1v1h-1zM1036 119h1v2h-1zM705 118h1v2h-1zM1062 118h1v2h-1zM1042 120h1v2h-1zM724 117h2v2h-2zM999 116h2v3h-2zM1005 120h1v1h-1zM752 116h1v1h-1zM879 119h1v2h-1zM867 118h1v2h-1zM1000 119h1v3h-1zM856 119h1v1h-1zM1077 117h1v2h-1zM988 116h1v1h-1zM767 116h1v2h-1zM876 120h2v3h-2zM721 119h1v2h-1zM866 119h1v2h-1zM1007 119h1v2h-1zM737 116h2v3h-2zM989 119h2v2h-2zM917 117h1v2h-1zM967 117h2v2h-2zM760 119h1v2h-1zM678 119h1v2h-1zM672 119h1v2h-1zM996 119h2v1h-2zM879 116h1v2h-1zM913 119h2v3h-2zM783 119h1v2h-1zM1081 117h1v2h-1zM1080 117h1v2h-1zM953 119h1v2h-1zM812 117h1v3h-1zM1106 119h1v2h-1zM1009 120h1v3h-1zM1109 118h2v3h-2zM1109 119h2v3h-2zM786 116h1v2h-1zM911 116h2v2h-2zM1113 119h1v2h-1zM866 116h1v2h-1zM762 117h2v2h-2zM1070 118h1v1h-1zM1003 119h2v2h-2zM1098 119h1v2h-1zM782 118h1v1h-1zM940 120h1v1h-1zM889 116h1v2h-1zM885 119h1v1h-1zM692 120h1v3h-1zM951 116h1v2h-1zM810 118h1v2h-1zM800 118h1v3h-1zM913 119h1v2h-1zM957 119h1v3h-1zM1097 119h2v2h-2zM817 116h1v2h-1zM974 118h2v2h-2zM777 117h1v1h-1zM918 119h1v1h-1zM751 119h1v3h-1zM1066 117h1v2h-1zM1055 116h1v1h-1zM1040 119h1v1h-1zM780 119h1v1h-1zM710 119h2v1h-2zM923 120h1v2h-1zM807 116h1v3h-1zM831 117h1v2h-1zM727 120h1v2h-1zM802 118h1v3h-1zM1049 116h1v2h-1zM977 120h1v3h-1zM682 119h1v2h-1zM1069 117h1v3h-1zM730 117h1v2h-1zM682 118h1v2h-1zM889 116h1v1h-1zM1054 119h2v1h-2zM938 119h1v2h-1zM725 120h1v2h-1zM1109 116h2v2h-2zM887 117h1v3h-1zM746 120h2v1h-2zM832 120h1v2h-1zM1090 120h2v1h-2zM901 119h1v1h-1zM977 116h1v1h-1zM774 120h1v2h-1zM707 117h2v2h-2zM816 117h2v2h-2zM837 119h1v3h-1zM1000 116h1v3h-1zM687 119h1v3h-1zM786 119h1v1h-1zM995 119h1v2h-1zM951 116h1v1h-1zM973 118h1v2h-1zM717 119h1v2h-1zM1115 116h2v1h-2zM785 120h1v2h-1zM895 117h2v1h-2zM1058 119h1v2h-1zM842 119h2v2h-2zM803 120h1v1h-1zM922 117h1v3h-1zM805 116h2v3h-2zM1113 116h1v2h-1zM721 120h1v3h-1zM981 118h1v3h-1zM909 119h1v3h-1zM721 120h1v3h-1zM1034 118h2v1h-2zM980 120h1v2h-1zM702 117h1v2h-1zM847 116h1v2h-1zM1098 119h2v3h-2z" fill="#0000ff" shape-rendering="crispEdges"/><path d="M775 124h1v3h-1zM1063 122h1v3h-1zM1064 121h2v3h-2zM1091 121h2v2h-2zM978 124h2v1h-2zM845 126h1v1h-1zM946 127h2v3h-2zM1052 123h1v2h-1zM886 127h1v2h-1zM732 124h2v2h-2zM891 124h1v3h-1zM849 125h2v2h-2zM896 125h2v2h-2zM1042 122h2v1h-2zM906 124h1v2h-1zM755 127h1v2h-1zM680 122h2v2h-2zM886 122h2v1h-2zM852 126h2v1h-2zM1068 121h1v2h-1zM779 126h1v2h-1zM676 127h1v2h-1zM779 125h2v2h-2zM868 121h1v2h-1zM1021 124h1v1h-1zM754 121h1v2h-1zM1041 121h2v2h-2zM717 121h2v1h-2zM709 124h2v3h-2zM874 127h1v2h-1zM1041 121h1v1h-1zM858 125h1v1h-1zM999 123h1v2h-1zM676 124h1v2h-1zM669 123h1v2h-1zM1037 124h2v3h-2zM701 127h2v2h-2zM1014 125h1v3h-1zM916 127h1v3h-1zM784 123h1v3h-1zM925 122h1v3h-1zM1016 121h1v1h-1zM800 124h1v1h-1zM913 121h1v2h-1zM883 124h1v1h-1zM930 124h1v2h-1zM947 124h1v1h-1zM1060 123h1v1h-1zM682 124h1v2h-1zM679 126h1v3h-1zM706 125h2v2h-2zM836 127h1v3h-1zM1113 122h2v3h-2zM915 126h2v1h-2zM1052 126h2v3h-2zM970 122h2v3h-2zM836 121h1v3h-1zM777 127h2v2h-2zM724 125h1v1h-1zM922 125h1v2h-1zM1082 127h2v3h-2zM788 123h1v3h-1zM864 122h2v2h-2zM808 122h2v2h-2zM790 123h1v2h-1zM701 125h1v2h-1zM1111 122h1v1h-1zM775 121h1v2h-1zM834 125h1v3h-1zM1031 122h1v2h-1zM730 125h1v2h-1zM716 127h2v2h-2zM793 127h1v3h-1zM745 122h2v2h-2zM877 121h1v2h-1zM737 122h1v3h-1zM956 122h2v1h-2zM1010 123h1v2h-1zM863 124h2v1h-2zM870 125h1v1h-1zM906 125h1v2h-1zM806 125h1v2h-1zM712 123h1v2h-1zM1037 121h1v2h-1zM865 124h1v2h-1zM711 124h1v3h-1zM902 124h1v2h-1zM976 126h2v2h-2zM906 123h2v2h-2zM1090 122h1v3h-1zM783 125h1v2h-1zM933 125h1v3h-1zM1026 123h1v3h-1zM1007 126h2v2h-2zM1115 125h1v3h-1zM863 121h1v2h-1zM781 127h2v2h-2zM1092 127h1v2h-1zM880 126h2v2h-2zM1061 126h2v1h-2zM740 121h1v1h-1zM1074 121h2v2h-2zM965 127h1v1h-1zM1030 124h1v1h-1zM842 125h2v2h-2zM923 122h1v2h-1zM921 125h1v2h-1zM1007 125h1v1h-1zM690 125h2v1h-2zM922 123h1v1h-1zM688 124h2v2h-2zM1115 125h1v2h-1zM937 121h1v2h-1zM690 123h1v2h-1zM762 123h1v1h-1zM920 126h1v2h-1zM762 127h1v1h-1zM883 122h1v3h-1zM754 123h1v2h-1zM726 121h2v2h-2zM1014 125h1v3h-1zM969 123h1v3h-1zM809 125h1v2h-1zM768 125h1v3h-1zM1042 124h1v2h-1zM689 122h2v2h-2zM729 123h2v2h-2zM789 124h1v3h-1zM840 123h2v3h-2zM997 124h1v2h-1zM707 126h1v2h-1zM741 125h1v2h-1zM1064 124h1v1h-1zM999 127h1v2h-1zM982 123h1v1h-1zM1012 124h2v2h-2zM917 122h2v3h-2zM691 122h1v1h-1zM839 122h1v1h-1zM684 127h1v1h-1zM961 124h1v3h-1zM719 125h1v2h-1zM1109 126h1v3h-1zM822 124h1v1h-1zM897 126h1v1h-1zM760 121h2v2h-2zM767 123h1v2h-1zM949 124h2v2h-2zM774 126h1v2h-1zM939 121h1v2h-1zM1000 124h1v3h-1zM955 125h2v1h-2zM1034 127h2v2h-2zM734 121h2v2h-2zM747 125h2v3h-2zM747 124h2v1h-2zM946 124h2v3h-2zM845 122h1v2h-1zM680 126h2v1h-2zM933 125h1v2h-1zM786 122h1v1h-1zM1019 123h1v1h-1zM1101 121h1v1h-1zM925 121h1v1h-1zM1079 122h2v1h-2zM819 125h2v1h-2zM835 123h2v2h-2zM935 125h1v1h-1zM674 117h1v3h-1zM786 117h1v2h-1zM860 118h1v1h-1zM1078 120h1v1h-1zM1048 120h1v3h-1zM894 119h2v3h-2zM742 118h2v2h-2zM908 118h2v1h-2zM895 119h1v3h-1zM813 117h1v2h-1zM1004 117h2v3h-2zM815 117h2v1h-2zM1071 116h1v2h-1zM675 116h2v1h-2zM1107 118h2v3h-2zM806 119h1v2h-1zM734 119h1v3h-1zM1043 119h1v1h-1zM1052 119h2v3h-2zM907 120h1v2h-1zM1115 117h2v3h-2zM858 119h2v3h-2zM837 117h2v2h-2zM1108 117h2v1h-2zM845 116h1v3h-1zM889 120h1v3h-1zM774 116h1v3h-1zM863 116h1v1h-1zM988 119h1v2h-1zM725 116h1v1h-1zM1059 118h2v2h-2zM855 116h1v2h-1zM1113 116h1v3h-1zM853 119h1v2h-1zM906 117h1v2h-1zM898 118h2v3h-2zM750 119h2v3h-2zM1089 117h1v3h-1zM704 116h1v2h-1zM718 117h2v2h-2zM1069 118h1v2h-1zM741 117h2v2h-2zM1105 119h1v3h-1zM806 119h2v1h-2zM813 116h2v2h-2zM993 117h1v2h-1zM697 120h1v3h-1zM1041 116h1v2h-1zM1049 119h1v2h-1zM903 116h1v2h-1zM704 116h1v2h-1zM737 120h1v2h-1zM788 116h1v3h-1zM995 119h2v3h-2zM738 117h1v3h-1zM714 119h2v2h-2zM703 116h1v2h-1zM772 116h1v3h-1zM724 118h1v2h-1zM1062 117h1v3h-1zM1050 117h1v2h-1zM986 119h2v2h-2zM688 118h2v2h-2zM693 120h1v2h-1zM878 117h2v3h-2zM982 118h1v2h-1zM1059 116h1v3h-1zM830 119h2v2h-2zM946 117h1v2h-1zM742 118h1v2h-1zM1008 117h2v2h-2zM973 118h1v2h-1zM1089 119h1v2h-1zM945 119h1v2h-1zM686 118h1v2h-1zM831 118h1v3h-1zM982 117h2v1h-2zM895 116h1v1h-1zM1031 117h2v2h-2zM856 120h1v1h-1zM1054 116h1v2h-1zM754 118h1v2h-1zM960 118h1v1h-1zM734 117h1v1h-1zM832 116h2v2h-2zM1056 120h1v1h-1zM927 116h2v2h-2zM1012 118h1v2h-1zM1095 118h1v1h-1zM1066 118h1v2h-1zM1012 119h2v2h-2zM1078 116h1v3h-1zM672 118h1v2h-1zM979 117h1v2h-1zM1002 119h1v2h-1zM773 119h1v2h-1zM1106 120h2v3h-2zM933 117h1v2h-1zM1100 119h1v3h-1zM1049 116h1v1h-1zM904 120h2v2h-2zM832 119h1v1h-1zM1030 117h1v3h-1zM1061 118h2v1h-2zM867 116h2v3h-2zM913 120h1v2h-1zM851 120h1v2h-1zM846 119h1v2h-1zM1093 117h1v1h-1zM1000 116h2v3h-2zM973 116h2v1h-2zM916 116h2v2h-2zM918 116h1v1h-1zM975 119h2v2h-2zM835 116h1v3h-1zM857 117h2v2h-2zM812 119h1v3h-1zM1042 116h2v2h-2zM1029 117h1v2h-1zM943 120h1v2h-1zM709 116h2v2h-2zM1063 118h2v2h-2zM754 118h2v1h-2zM874 117h1v1h-1zM1084 117h1v2h-1zM1091 117h2v1h-2zM1009 118h1v2h-1zM811 120h1v2h-1zM915 119h2v1h-2zM836 120h1v2h-1zM710 120h1v3h-1zM771 117h1v2h-1zM1086 119h1v1h-1zM954 119h1v3h-1zM1100 120h1v3h-1zM951 118h1v1h-1zM838 118h1v2h-1zM942 119h1v2h-1zM676 119h1v1h-1zM717 117h2v1h-2zM1104 120h1v1h-1zM908 116h1v1h-1zM1010 116h1v2h-1zM775 120h2v2h-2zM878 116h1v3h-1zM717 116h1v3h-1zM708 116h1v2h-1zM754 116h2v2h-2zM819 118h1v3h-1zM1065 117h1v2h-1zM880 118h1v3h-1zM738 117h1v3h-1zM1069 117h1v2h-1zM1006 119h2v3h-2zM806 119h1v1h-1zM1109 119h2v1h-2zM760 117h1v3h-1zM1108 116h1v1h-1zM946 119h2v2h-2zM840 116h1v2h-1zM714 119h1v1h-1zM1085 117h1v3h-1zM1109 117h1v2h-1zM723 117h2v1h-2zM685 118h2v3h-2zM988 117h2v3h-2zM957 116h2v3h-2zM829 119h2v1h-2zM934 120h2v3h-2zM771 120h1v2h-1zM1062 117h1v2h-1zM995 118h1v1h-1zM1030 119h1v2h-1zM849 117h1v2h-1zM692 118h1v2h-1zM872 117h1v1h-1zM1072 119h1v3h-1zM819 117h1v2h-1zM681 116h1v3h-1zM675 120h2v3h-2zM885 119h2v2h-2zM852 118h1v1h-1zM853 116h1v2h-1zM1047 116h1v2h-1zM871 118h1v2h-1zM805 116h1v1h-1zM676 120h1v2h-1zM752 116h2v2h-2zM1121 118h1v3h-1zM989 116h2v1h-2zM735 117h1v1h-1zM925 119h1v2h-1zM1104 120h1v2h-1zM969 117h1v2h-1zM802 119h1v2h-1zM1021 116h1v2h-1zM739 119h1v2h-1zM968 118h2v2h-2zM789 117h1v2h-1zM754 119h1v3h-1zM775 118h2v3h-2zM987 117h1v2h-1zM853 120h2v2h-2zM1041 116h1v3h-1zM792 117h1v2h-1zM1049 116h1v3h-1zM1091 117h2v2h-2zM796 119h2v2h-2zM1033 119h1v1h-1zM1016 118h1v3h-1zM1002 117h1v2h-1zM1028 117h1v1h-1zM796 116h2v2h-2zM750 116h1v3h-1zM1034 120h1v1h-1zM1061 118h1v3h-1zM904 118h1v3h-1zM753 118h2v2h-2zM970 119h1v2h-1zM833 120h2v3h-2zM810 116h1v3h-1zM683 117h2v2h-2zM994 118h1v1h-1zM741 120h1v2h-1zM842 117h1v2h-1zM1090 116h1v2h-1zM752 118h1v2h-1zM1085 119h1v3h-1zM758 119h2v3h-2zM1073 118h1v1h-1zM1096 118h2v2h-2zM901 118h1v2h-1zM772 118h2v3h-2zM717 117h1v1h-1zM934 118h1v1h-1zM747 116h1v3h-1zM978 119h1v2h-1zM678 119h1v2h-1zM905 118h1v1h-1zM683 118h2v3h-2zM832 116h2v1h-2zM859 116h2v3h-2zM943 118h1v1h-1zM809 117h1v2h-1zM1006 118h1v2h-1zM987 117h1v3h-1zM970 116h1v2h-1zM772 118h1v1h-1zM698 119h2v2h-2zM1022 117h2v1h-2zM1015 116h1v1h-1zM1044 119h1v2h-1zM1009 116h2v2h-2zM1113 118h1v3h-1zM701 119h1v2h-1zM912 118h1v3h-1zM1026 118h1v2h-1zM1055 120h1v1h-1zM1071 117h2v2h-2zM779 120h1v2h-1zM1025 119h1v2h-1zM780 117h1v2h-1zM961 117h1v1h-1zM681 118h1v2h-1zM693 116h1v1h-1zM1067 118h1v2h-1zM876 118h1v2h-1zM948 118h1v2h-1zM981 119h1v3h-1zM789 119h1v2h-1zM1096 116h1v1h-1zM680 120h1v2h-1zM1059 117h1v2h-1zM873 118h1v2h-1zM731 117h1v2h-1zM983 118h2v3h-2zM1034 118h1v2h-1zM1102 120h1v2h-1zM778 120h2v1h-2zM677 117h2v1h-2zM902 119h2v2h-2zM1029 119h1v1h-1zM941 116h1v1h-1zM835 119h1v2h-1zM1041 119h1v2h-1zM911 116h1v1h-1zM1085 119h1v3h-1zM805 119h2v2h-2zM718 116h1v1h-1zM927 120h1v3h-1zM993 117h1v2h-1zM798 119h2v2h-2zM1057 118h1v1h-1zM999 117h2v3h-2zM745 117h1v1h-1zM945 118h1v2h-1zM1121 118h1v3h-1zM932 118h1v2h-1zM1044 118h1v2h-1zM1031 116h1v2h-1zM699 120h1v3h-1zM948 117h2v2h-2zM775 118h1v3h-1zM744 119h1v1h-1zM1101 119h2v2h-2zM822 120h1v2h-1zM780 119h1v2h-1zM1098 120h1v2h-1zM1087 118h2v3h-2zM686 117h1v3h-1zM784 116h2v2h-2zM796 119h1v2h-1zM1104 116h1v2h-1zM695 119h1v2h-1zM823 116h1v2h-1zM953 120h2v2h-2zM771 118h2v2h-2zM1069 117h1v2h-1zM818 118h2v2h-2zM948 119h1v2h-1zM970 119h1v1h-1zM771 117h1v1h-1zM996 118h1v3h-1zM843 120h1v2h-1zM856 118h1v3h-1zM785 116h1v2h-1zM819 116h1v2h-1zM957 116h2v3h-2zM1064 116h2v3h-2zM895 118h1v2h-1zM1024 118h2v3h-2zM821 117h1v2h-1zM936 120h2v2h-2zM1079 116h1v2h-1zM818 120h1v2h-1zM1042 116h1v3h-1zM1078 117h1v3h-1zM949 116h2v2h-2zM829 117h1v3h-1zM837 116h1v2h-1zM878 119h1v1h-1zM940 119h2v2h-2zM1086 116h2v2h-2zM1098 118h1v3h-1zM747 116h1v2h-1zM747 118h1v2h-1zM841 117h2v2h-2zM999 118h2v1h-2zM737 119h1v2h-1zM1025 117h1v3h-1zM744 119h1v3h-1zM1014 120h1v3h-1zM675 118h2v2h-2zM1121 117h1v2h-1zM697 117h1v1h-1zM671 120h2v3h-2zM777 120h1v3h-1zM888 118h2v2h-2zM732 119h1v2h-1zM756 117h1v2h-1zM1033 116h1v3h-1zM1005 119h1v2h-1zM1072 117h1v2h-1zM984 117h1v2h-1zM679 116h1v2h-1zM927 117h1v1h-1zM1086 118h1v2h-1zM1046 116h1v2h-1zM685 117h1v2h-1zM771 118h1v3h-1zM710 117h1v2h-1zM681 118h1v1h-1zM751 120h1v3h-1zM880 120h2v1h-2zM951 118h2v1h-2zM928 119h1v2h-1zM743 118h1v3h-1zM927 118h1v3h-1zM705 118h1v2h-1zM965 119h1v1h-1zM1077 117h2v2h-2zM732 116h1v2h-1zM1114 118h2v2h-2zM934 119h2v2h-2zM669 118h1v3h-1zM680 120h1v1h-1zM677 120h1v2h-1zM1064 120h1v2h-1zM901 117h1v2h-1zM734 116h1v2h-1zM906 118h1v3h-1zM1002 117h2v2h-2zM886 120h1v1h-1zM682 118h2v2h-2zM672 116h1v1h-1zM1056 117h1v2h-1zM825 116h1v1h-1zM999 119h1v2h-1zM941 118h1v3h-1zM1087 120h1v2h-1zM827 117h1v2h-1zM769 116h1v3h-1zM870 116h1v1h-1zM939 117h2v2h-2zM991 117h2v1h-2zM822 117h1v1h-1zM677 120h2v3h-2zM718 120h1v1h-1zM749 117h1v2h-1zM1003 118h2v2h-2zM945 116h1v1h-1zM784 118h2v1h-2zM780 118h1v3h-1zM1077 120h1v1h-1zM979 118h1v2h-1zM994 118h1v3h-1zM1109 117h1v3h-1zM877 118h1v1h-1zM1018 116h1v2h-1zM713 119h1v1h-1zM898 117h2v1h-2zM694 119h2v2h-2zM1099 117h2v3h-2zM912 116h1v2h-1zM729 117h1v1h-1zM809 116h1v2h-1zM766 118h1v2h-1zM802 118h1v3h-1zM1054 116h2v2h-2zM886 116h1v2h-1zM728 116h1v2h-1zM818 116h2v2h-2zM699 116h2v3h-2zM814 116h1v2h-1zM694 119h1v1h-1zM999 119h1v3h-1zM961 117h2v2h-2zM844 119h2v3h-2zM833 118h2v2h-2zM819 119h1v2h-1zM1056 117h2v2h-2zM757 119h1v2h-1zM884 116h1v1h-1zM787 120h1v1h-1zM759 118h1v1h-1zM979 117h1v2h-1zM1025 117h1v2h-1zM1107 119h2v2h-2zM742 116h1v2h-1zM884 116h1v2h-1zM1111 116h1v2h-1zM977 118h1v1h-1zM823 119h1v2h-1zM735 116h2v3h-2zM1087 118h1v3h-1zM748 119h1v2h-1zM1038 117h1v2h-1zM973 117h1v3h-1zM1072 117h1v1h-1zM1091 119h2v3h-2zM1111 117h1v2h-1zM978 116h1v1h-1zM681 116h1v1h-1zM948 117h1v1h-1zM805 119h1v2h-1zM900 119h1v2h-1zM780 119h1v2h-1zM1086 118h2v1h-2zM888 117h1v1h-1zM1030 117h2v3h-2zM799 118h1v2h-1zM1085 116h2v3h-2zM743 119h1v2h-1zM1026 117h2v3h-2zM791 117h1v3h-1zM1085 119h1v2h-1zM1067 117h1v1h-1zM676 118h1v2h-1zM1033 118h1v1h-1zM689 118h2v2h-2zM712 118h1v1h-1zM846 120h1v1h-1zM994 119h1v2h-1zM1058 118h1v2h-1zM859 116h1v2h-1zM806 118h1v2h-1zM885 119h2v2h-2zM1020 118h1v1h-1zM859 118h1v3h-1zM692 119h2v2h-2zM901 119h2v2h-2zM899 118h1v2h-1zM908 117h2v3h-2zM955 119h2v3h-2zM742 118h1v2h-1zM719 120h1v1h-1zM671 120h2v1h-2zM776 119h2v2h-2zM1085 118h1v2h-1zM983 117h2v2h-2zM941 120h2v2h-2zM706 119h1v1h-1zM742 117h1v2h-1zM918 116h1v2h-1zM746 117h1v2h-1zM993 117h1v1h-1zM882 116h1v3h-1zM1005 119h1v1h-1zM796 117h1v2h-1zM685 116h1v2h-1zM759 116h2v3h-2zM1100 119h1v2h-1zM1001 120h1v1h-1zM737 117h2v3h-2zM1001 118h1v3h-1zM951 118h1v2h-1zM901 119h2v2h-2zM744 120h1v1h-1zM720 119h2v2h-2zM765 116h1v3h-1zM999 120h1v2h-1zM1102 116h1v3h-1zM1032 119h1v2h-1zM950 119h1v2h-1zM733 117h2v2h-2zM985 118h2v1h-2zM1044 120h1v1h-1zM971 117h1v2h-1zM853 119h1v1h-1zM811 116h2v2h-2zM946 119h2v1h-2zM880 119h2v3h-2zM1033 119h1v2h-1zM851 116h1v1h-1zM1090 116h1v1h-1zM1091 117h2v1h-2zM810 117h2v3h-2zM714 119h1v3h-1zM1027 116h1v2h-1zM866 118h2v2h-2zM1099 117h1v2h-1zM749 117h1v1h-1zM993 119h2v1h-2zM936 120h2v3h-2zM1012 117h1v3h-1zM1032 118h1v2h-1zM828 118h1v3h-1zM678 119h2v2h-2zM733 118h1v1h-1zM900 119h2v3h-2zM797 120h2v3h-2zM1108 119h1v1h-1zM920 117h1v2h-1zM1005 116h2v2h-2zM851 116h2v2h-2zM859 119h2v3h-2zM793 119h1v2h-1zM809 116h1v3h-1zM769 120h1v2h-1zM701 116h1v2h-1zM1038 116h2v1h-2zM1041 119h1v3h-1zM806 119h2v3h-2zM797 118h1v2h-1zM1073 119h2v1h-2zM1086 117h1v1h-1zM1118 118h1v3h-1zM882 117h1v3h-1zM1099 118h1v1h-1zM695 118h2v3h-2zM728 116h1v2h-1zM894 119h1v2h-1zM905 117h1v2h-1zM1100 118h1v2h-1zM973 118h1v3h-1zM898 116h1v3h-1zM835 118h2v2h-2zM1043 119h1v1h-1zM736 117h1v1h-1zM889 117h1v1h-1zM950 116h2v2h-2zM670 119h1v3h-1zM1000 117h1v2h-1zM1077 117h1v1h-1zM1063 117h2v2h-2zM1010 116h2v3h-2zM1023 119h1v3h-1zM933 118h1v1h-1zM788 118h2v2h-2zM944 120h1v1h-1zM1012 116h1v2h-1zM1011 116h1v2h-1zM1092 116h1v2h-1zM752 117h1v3h-1zM747 116h2v2h-2zM1072 116h1v2h-1zM1018 120h1v1h-1zM732 117h1v2h-1zM953 118h2v3h-2zM776 118h2v2h-2zM950 120h2v2h-2zM742 119h1v2h-1zM756 117h1v2h-1zM937 116h1v2h-1zM882 119h1v2h-1zM776 117h2v2h-2zM782 118h1v1h-1zM784 120h1v2h-1zM1064 118h1v1h-1zM864 120h1v1h-1zM990 116h1v3h-1zM1040 119h1v1h-1zM891 118h1v1h-1zM1070 118h2v2h-2zM901 119h2v1h-2zM748 116h1v1h-1zM776 117h1v1h-1zM955 118h2v2h-2zM986 116h1v1h-1zM959 118h2v2h-2zM741 118h2v3h-2zM728 120h2v2h-2zM690 117h1v3h-1zM888 116h1v2h-1zM1121 119h2v2h-2zM888 116h1v3h-1zM927 119h1v2h-1zM817 117h2v3h-2zM997 119h2v2h-2zM809 119h2v1h-2zM885 116h1v2h-1zM1043 120h1v2h-1zM735 118h2v2h-2zM782 117h1v3h-1zM998 117h2v2h-2zM920 117h1v1h-1zM1032 117h1v2h-1zM776 116h2v1h-2zM1073 119h1v3h-1zM843 119h1v2h-1zM980 118h1v2h-1zM788 119h1v3h-1zM965 116h1v1h-1zM1116 117h1v2h-1zM817 118h1v2h-1zM739 117h2v2h-2zM808 119h1v3h-1zM1032 118h2v3h-2zM1105 116h1v2h-1zM1009 117h1v1h-1zM864 117h1v2h-1zM688 118h2v2h-2zM737 118h2v2h-2zM899 116h1v2h-1zM710 117h1v2h-1zM995 119h2v3h-2zM1042 118h1v2h-1zM790 118h2v2h-2zM926 116h2v3h-2zM825 118h1v2h-1zM869 119h1v1h-1zM817 117h2v3h-2zM754 116h1v2h-1zM1119 120h1v2h-1zM1026 116h1v3h-1zM899 120h2v2h-2zM670 116h1v1h-1zM794 116h2v2h-2zM973 117h1v2h-1zM870 119h1v2h-1zM682 117h2v1h-2zM1031 117h1v1h-1zM772 119h1v3h-1zM782 118h2v2h-2zM846 116h2v3h-2zM919 117h1v1h-1zM833 116h1v3h-1zM1119 116h1v1h-1zM1035 120h2v3h-2zM976 119h1v2h-1zM1097 119h1v2h-1zM702 118h1v3h-1zM680 116h1v3h-1zM987 118h1v2h-1zM739 117h1v2h-1zM800 119h1v2h-1zM775 117h1v2h-1zM798 118h2v1h-2zM1087 116h1v1h-1zM936 118h1v1h-1zM705 120h2v3h-2zM817 117h2v2h-2zM996 118h1v2h-1zM896 120h1v3h-1zM807 119h1v3h-1zM1113 116h1v3h-1zM962 116h2v3h-2zM805 116h1v2h-1zM904 120h1v2h-1zM758 117h1v2h-1zM875 118h1v2h-1zM844 118h1v1h-1zM758 118h2v2h-2zM895 117h2v1h-2zM745 119h1v2h-1zM872 116h2v3h-2zM703 118h1v1h-1zM986 119h2v2h-2zM1034 116h1v2h-1zM1073 116h1v2h-1zM1075 116h1v2h-1zM952 118h1v3h-1zM840 118h2v1h-2zM1073 118h1v1h-1zM783 119h2v3h-2zM935 117h2v2h-2zM805 119h2v1h-2zM976 116h2v2h-2zM750 118h1v3h-1zM889 118h2v2h-2zM680 120h1v2h-1zM874 116h1v3h-1zM958 116h1v1h-1zM934 118h1v3h-1zM1007 117h1v2h-1zM763 119h1v2h-1zM999 116h2v2h-2zM1005 120h1v2h-1zM968 116h1v2h-1zM799 119h1v3h-1zM785 118h1v3h-1zM819 116h1v2h-1zM955 118h2v2h-2zM765 118h2v2h-2zM841 116h1v1h-1zM943 118h1v3h-1zM889 119h1v2h-1zM966 117h1v2h-1zM992 118h1v2h-1zM811 120h2v2h-2zM777 117h1v3h-1zM1098 117h2v1h-2zM917 117h1v2h-1zM827 117h2v1h-2zM1018 118h1v3h-1zM721 119h2v2h-2zM712 120h2v1h-2zM962 117h1v2h-1zM674 116h2v2h-2zM796 117h1v2h-1zM1012 118h2v1h-2zM1028 117h1v2h-1zM990 118h2v2h-2zM749 119h2v2h-2zM1042 118h1v2h-1zM766 118h1v1h-1zM1021 116h1v1h-1zM678 120h2v2h-2zM688 117h1v2h-1zM918 119h2v2h-2zM689 117h1v1h-1zM1120 118h2v1h-2zM926 118h2v2h-2zM1096 120h2v3h-2zM988 118h2v2h-2zM753 119h1v2h-1zM1001 117h1v2h-1zM912 116h1v1h-1zM1024 118h2v2h-2zM712 118h1v3h-1zM757 116h1v2h-1zM1059 118h2v2h-2zM924 118h1v2h-1zM977 117h1v2h-1zM1070 116h1v2h-1zM955 116h1v2h-1zM944 117h2v3h-2zM1025 118h1v3h-1zM930 118h1v2h-1zM1055 119h1v3h-1zM1001 117h1v2h-1zM688 116h1v1h-1zM765 117h1v2h-1zM1040 119h2v2h-2zM759 116h1v3h-1zM1050 119h2v2h-2zM758 119h1v1h-1zM845 116h1v1h-1zM895 116h1v3h-1zM907 116h2v2h-2zM675 118h2v3h-2zM1091 118h2v2h-2zM790 120h2v3h-2zM771 117h1v3h-1zM1117 116h1v3h-1zM946 117h2v2h-2zM922 119h1v2h-1zM769 116h2v1h-2zM1029 116h2v2h-2zM865 119h1v2h-1zM754 120h1v1h-1zM727 119h1v2h-1zM1003 119h1v2h-1zM814 119h1v3h-1zM785 119h2v2h-2zM990 120h2v2h-2zM1081 119h2v3h-2zM838 120h1v1h-1zM1066 119h1v3h-1zM975 117h2v2h-2zM955 117h1v2h-1zM996 118h1v3h-1zM837 117h1v2h-1zM754 116h1v3h-1zM774 117h1v2h-1zM1084 116h1v1h-1zM995 119h2v1h-2zM890 116h1v3h-1zM916 118h1v1h-1zM863 117h2v2h-2zM779 119h1v3h-1zM888 116h1v1h-1zM831 117h2v3h-2zM763 118h2v2h-2zM851 120h2v3h-2zM1028 117h2v3h-2zM768 119h1v2h-1zM1080 116h1v3h-1zM759 117h1v1h-1zM820 120h1v1h-1zM960 117h1v3h-1zM915 118h2v3h-2zM682 118h1v1h-1zM860 118h1v3h-1zM945 118h1v3h-1zM933 117h1v2h-1zM789 119h2v2h-2zM876 118h2v2h-2zM1018 116h2v3h-2zM866 119h1v2h-1zM711 119h1v3h-1zM1110 119h1v2h-1zM732 120h1v3h-1zM1007 118h2v1h-2zM741 118h1v2h-1zM1046 119h2v2h-2zM775 116h2v1h-2zM1068 116h1v2h-1zM948 118h2v3h-2zM702 116h1v3h-1zM952 120h2v2h-2zM1029 117h1v2h-1zM1082 118h2v2h-2zM1046 120h2v1h-2zM780 118h1v2h-1zM1031 119h1v2h-1zM958 116h1v3h-1zM947 118h1v1h-1zM942 120h1v2h-1zM1073 117h1v1h-1zM1061 118h1v2h-1zM989 120h1v2h-1zM852 118h1v3h-1zM931 119h1v3h-1zM741 118h2v3h-2zM1050 117h1v3h-1zM742 116h1v1h-1zM718 117h1v2h-1zM706 116h1v2h-1zM679 119h2v1h-2zM758 116h2v2h-2zM802 118h1v1h-1zM797 117h1v2h-1zM996 117h1v2h-1zM790 116h1v3h-1zM716 118h1v3h-1zM869 118h2v1h-2zM1051 119h1v2h-1zM775 119h1v2h-1zM843 119h1v2h-1zM1015 120h1v2h-1zM772 118h1v2h-1zM698 118h2v3h-2zM878 116h1v1h-1zM1044 117h1v2h-1zM943 120h1v1h-1zM883 117h1v3h-1zM969 117h1v2h-1zM932 120h2v3h-2zM1115 118h1v3h-1zM699 117h2v1h-2zM820 116h2v2h-2zM756 120h1v2h-1zM693 117h1v1h-1zM852 118h1v3h-1zM1007 118h1v3h-1zM937 116h2v2h-2zM899 120h1v3h-1zM1112 116h1v2h-1zM755 120h1v3h-1zM1018 120h2v2h-2zM790 119h2v2h-2zM981 116h2v2h-2zM699 118h2v3h-2zM1000 117h1v2h-1zM866 119h1v2h-1zM1056 120h2v2h-2zM947 118h1v2h-1zM716 116h1v3h-1zM1103 117h1v3h-1zM937 117h1v3h-1zM1008 119h1v2h-1zM718 117h1v3h-1zM1093 117h1v1h-1zM732 119h2v2h-2zM699 116h1v2h-1zM863 117h1v3h-1zM1117 119h1v2h-1zM692 116h1v1h-1zM754 116h1v2h-1zM950 118h2v1h-2zM1116 119h2v3h-2zM909 117h1v1h-1zM859 116h1v3h-1zM988 118h1v2h-1zM1018 117h1v2h-1zM932 117h1v1h-1zM848 119h2v2h-2zM803 119h2v3h-2zM945 119h1v2h-1zM847 116h1v3h-1zM753 119h2v1h-2zM865 119h2v2h-2zM708 116h1v2h-1zM1029 116h1v2h-1zM1084 118h2v2h-2zM975 118h2v2h-2zM787 118h1v2h-1zM1075 116h1v3h-1zM996 116h1v1h-1zM1025 119h1v2h-1zM806 118h1v2h-1zM799 117h1v2h-1zM1116 117h2v2h-2zM905 117h2v1h-2zM711 117h1v2h-1zM781 116h1v1h-1zM816 117h1v1h-1zM968 119h2v1h-2zM847 117h2v2h-2zM860 119h1v2h-1zM820 116h2v2h-2zM768 120h2v2h-2zM966 118h1v1h-1zM790 118h1v2h-1zM1012 117h1v2h-1zM848 116h1v3h-1zM929 116h1v2h-1zM914 117h2v2h-2zM858 119h1v2h-1zM847 118h2v1h-2zM699 117h1v3h-1zM832 117h1v2h-1zM963 119h1v2h-1zM882 117h2v2h-2zM939 117h1v2h-1zM841 117h1v3h-1zM762 116h2v3h-2zM727 117h1v2h-1zM1037 118h2v1h-2zM1073 118h2v3h-2zM825 119h2v2h-2zM1079 117h2v2h-2zM713 118h1v2h-1zM812 120h2v1h-2zM781 118h1v2h-1zM825 118h1v2h-1zM734 119h1v3h-1zM945 119h1v1h-1zM725 119h2v3h-2zM716 118h1v2h-1zM673 119h2v1h-2zM1029 117h1v3h-1zM879 116h1v1h-1zM911 116h2v2h-2zM678 120h1v2h-1zM796 116h2v1h-2zM838 120h1v3h-1zM1090 119h2v1h-2zM753 119h1v3h-1zM1020 118h1v2h-1zM872 120h1v2h-1zM958 120h1v1h-1zM814 118h1v2h-1zM745 119h1v1h-1zM1006 116h2v3h-2zM1095 117h2v1h-2zM933 117h2v3h-2zM870 116h1v2h-1zM896 120h1v2h-1zM1063 120h1v3h-1zM946 116h2v3h-2zM1014 117h2v2h-2zM1013 119h2v1h-2zM997 117h1v3h-1zM933 117h1v2h-1zM841 116h1v2h-1zM726 118h1v1h-1zM782 117h2v1h-2zM1114 119h1v1h-1zM745 117h1v3h-1zM1062 119h1v2h-1zM807 119h1v1h-1zM706 116h2v3h-2zM967 119h2v2h-2zM849 116h2v2h-2zM682 117h1v2h-1zM690 116h2v3h-2zM782 117h1v3h-1zM930 118h1v2h-1zM957 117h1v1h-1zM997 120h1v2h-1zM1019 118h1v2h-1zM1049 116h1v2h-1zM670 119h1v2h-1zM860 117h2v1h-2zM873 118h1v3h-1zM1105 116h1v2h-1zM827 116h1v3h-1zM771 120h1v2h-1zM777 116h1v1h-1zM1116 120h2v1h-2zM1017 116h2v3h-2zM763 117h1v2h-1zM702 116h1v2h-1zM793 117h2v1h-2zM795 119h1v2h-1zM1022 118h2v1h-2zM856 116h2v3h-2zM888 119h1v1h-1zM773 116h1v3h-1zM829 118h1v3h-1zM761 117h1v3h-1zM919 119h1v2h-1zM954 119h2v2h-2zM718 118h2v2h-2zM901 119h1v1h-1zM902 119h1v1h-1zM716 117h1v2h-1zM1051 116h2v1h-2zM982 117h1v1h-1zM846 117h2v2h-2zM865 120h1v2h-1zM740 119h2v2h-2zM954 117h1v1h-1zM917 117h2v2h-2zM989 116h1v3h-1zM1095 117h2v2h-2zM699 118h1v1h-1zM767 119h2v3h-2zM743 118h2v1h-2zM1057 116h1v2h-1zM955 120h2v2h-2zM864 119h2v2h-2zM944 118h1v2h-1zM681 119h2v3h-2zM925 118h1v2h-1z" fill="#ff00ff" shape-rendering="crispEdges"/><path d="M754 126h1v1h-1zM795 124h1v1h-1zM1072 124h1v2h-1zM761 121h1v1h-1zM839 125h1v2h-1zM921 124h1v2h-1zM1101 123h1v2h-1zM715 126h2v2h-2zM1023 123h1v2h-1zM854 126h1v1h-1zM701 124h1v1h-1zM896 124h1v2h-1zM976 122h1v2h-1zM834 124h1v3h-1zM1030 123h1v2h-1zM1069 121h1v1h-1zM1003 123h1v3h-1zM758 123h1v3h-1zM712 123h1v2h-1zM824 124h1v1h-1zM878 125h1v1h-1zM766 127h2v2h-2zM1050 122h2v3h-2zM939 124h1v2h-1zM862 126h2v2h-2zM1022 126h1v3h-1zM819 125h1v1h-1zM881 121h2v2h-2zM935 127h2v3h-2zM693 124h1v1h-1zM923 122h1v2h-1zM747 124h2v2h-2zM797 124h2v2h-2zM918 124h1v1h-1zM694 124h1v3h-1zM807 126h1v2h-1zM861 126h2v3h-2zM886 126h2v3h-2zM1095 124h1v1h-1zM1001 123h1v1h-1zM952 126h1v2h-1zM1102 121h1v2h-1zM756 122h1v1h-1zM1005 126h1v2h-1zM811 126h1v3h-1zM974 125h1v3h-1zM702 124h2v1h-2zM738 121h2v3h-2zM1008 123h1v3h-1zM907 124h1v2h-1zM746 124h1v3h-1zM763 126h2v2h-2zM728 121h1v1h-1zM688 124h1v3h-1zM1004 123h1v1h-1zM689 127h1v2h-1zM1101 121h1v2h-1zM977 124h1v2h-1zM720 121h2v1h-2zM838 122h1v1h-1zM724 123h2v2h-2zM939 126h2v2h-2zM1119 123h1v2h-1zM751 125h1v1h-1zM1001 123h1v2h-1zM967 127h2v3h-2zM1017 126h1v3h-1zM1007 125h1v2h-1zM707 123h2v2h-2zM1036 123h2v2h-2zM1067 124h2v2h-2zM903 123h1v2h-1zM705 126h2v2h-2zM976 124h1v2h-1zM1084 125h2v1h-2zM986 126h1v1h-1zM1040 127h1v3h-1zM744 125h1v2h-1zM1114 125h1v1h-1zM953 122h1v2h-1zM1046 122h2v2h-2zM720 122h1v3h-1zM800 124h1v1h-1zM804 124h1v2h-1zM1011 126h1v2h-1zM1087 125h1v1h-1zM992 121h1v2h-1zM828 126h2v2h-2zM1061 125h1v2h-1zM728 126h2v1h-2zM1084 125h1v3h-1zM937 123h2v1h-2zM1120 121h2v3h-2zM774 127h1v2h-1zM972 126h1v2h-1zM706 122h1v2h-1zM871 125h1v2h-1z" fill="#6000ff" shape-rendering="crispEdges"/><path d="M748 145h1v2h-1zM1036 145h1v2h-1zM918 140h2v2h-2zM832 133h1v2h-1zM693 128h1v2h-1zM732 148h2v1h-2zM1047 127h1v1h-1zM1018 146h1v2h-1zM942 139h2v2h-2zM1116 145h1v2h-1zM784 136h1v3h-1zM1038 128h2v2h-2zM934 129h2v2h-2zM908 142h1v3h-1zM1026 146h2v3h-2zM749 134h1v3h-1zM904 133h1v3h-1zM910 132h1v2h-1zM766 147h1v2h-1zM707 140h1v2h-1zM669 127h1v3h-1zM669 138h1v2h-1zM692 149h1v2h-1zM1097 139h2v1h-2zM1017 146h1v2h-1zM1064 135h1v3h-1zM822 146h1v3h-1zM804 127h1v2h-1zM711 135h1v1h-1zM884 135h1v2h-1zM987 142h1v1h-1zM831 142h2v2h-2zM794 147h2v1h-2zM1096 145h2v1h-2zM738 148h1v1h-1zM884 141h2v2h-2zM838 132h1v2h-1zM995 146h1v2h-1zM1079 137h1v2h-1zM748 147h1v2h-1zM1006 136h2v2h-2zM850 147h2v2h-2zM1033 128h2v1h-2zM1031 141h1v2h-1zM1097 136h1v1h-1zM892 138h1v2h-1zM739 132h2v1h-2zM872 133h1v2h-1zM714 140h2v2h-2zM1089 147h1v3h-1zM1101 144h1v2h-1zM734 131h1v2h-1zM718 141h1v1h-1zM669 148h1v2h-1zM974 127h1v1h-1zM791 142h1v2h-1zM816 134h2v2h-2zM1071 147h1v1h-1zM693 129h2v2h-2zM826 135h1v2h-1zM689 137h1v3h-1zM773 134h1v2h-1zM709 133h1v1h-1zM850 144h1v1h-1zM923 141h1v1h-1zM804 145h1v3h-1zM765 148h2v3h-2zM792 141h1v2h-1zM685 139h2v2h-2zM705 131h1v2h-1zM1103 132h2v2h-2zM1010 134h1v2h-1zM811 144h1v3h-1zM758 132h1v1h-1zM1091 136h2v2h-2zM738 133h1v1h-1zM1095 140h1v2h-1zM1038 137h2v2h-2zM709 132h2v3h-2zM684 131h2v2h-2zM866 132h2v2h-2zM1088 137h1v2h-1zM753 133h1v3h-1zM814 132h2v2h-2zM770 146h1v2h-1zM1004 132h1v2h-1zM1109 133h1v2h-1zM692 148h1v2h-1zM963 133h2v2h-2zM863 149h2v1h-2zM1061 137h1v2h-1zM837 133h1v3h-1zM916 137h2v2h-2zM1010 129h1v1h-1zM779 138h2v2h-2zM904 135h1v2h-1zM716 130h2v1h-2zM864 141h1v2h-1zM901 148h1v2h-1zM768 148h1v3h-1zM967 140h1v2h-1zM976 138h2v2h-2zM861 146h1v1h-1zM1115 133h2v2h-2zM747 134h1v2h-1zM775 135h1v2h-1zM1027 128h1v1h-1zM860 138h1v2h-1zM1075 130h1v2h-1zM884 136h1v3h-1zM983 127h1v1h-1zM779 140h1v2h-1zM999 148h1v1h-1zM994 130h2v3h-2zM910 130h2v2h-2zM788 138h1v3h-1zM934 127h2v2h-2zM699 140h1v3h-1zM900 133h2v2h-2zM1035 140h2v3h-2zM831 142h2v3h-2zM928 138h1v2h-1zM845 132h1v2h-1zM990 134h1v3h-1zM694 140h1v2h-1zM758 136h1v1h-1zM955 140h1v2h-1zM930 130h1v1h-1zM726 145h1v3h-1zM1116 145h1v2h-1zM762 128h2v2h-2zM941 147h1v2h-1zM901 145h2v1h-2zM819 129h1v2h-1zM931 127h2v2h-2zM703 136h2v2h-2zM754 129h2v3h-2zM793 135h2v1h-2zM739 138h1v3h-1zM862 145h2v2h-2zM934 131h1v2h-1zM993 135h2v1h-2zM1080 149h1v3h-1zM704 129h1v2h-1zM1083 148h2v2h-2zM847 143h1v3h-1zM763 148h2v3h-2zM748 138h1v2h-1zM886 145h1v3h-1zM1105 142h1v2h-1zM1045 142h1v3h-1z" fill="#00ff60" shape-rendering="crispEdges"/><path d="M1077 140h2v2h-2zM1076 138h2v2h-2zM797 143h1v3h-1zM1069 138h2v1h-2zM1001 146h1v2h-1zM1060 127h2v3h-2zM1119 149h1v1h-1zM691 149h1v1h-1zM1085 132h1v2h-1zM877 127h2v2h-2zM757 141h2v3h-2zM1060 127h2v3h-2zM1041 133h2v3h-2zM929 140h1v2h-1zM692 145h2v2h-2zM1091 146h1v1h-1zM961 144h1v2h-1zM791 134h1v1h-1zM1120 145h2v2h-2zM861 134h1v3h-1zM673 139h2v1h-2zM981 145h1v3h-1zM781 149h1v2h-1zM1094 135h1v2h-1zM910 149h2v2h-2zM820 132h2v2h-2zM752 131h1v2h-1zM719 145h2v2h-2zM678 137h1v2h-1zM735 144h1v2h-1zM830 149h2v2h-2zM696 133h1v3h-1zM1021 129h2v1h-2zM718 138h1v3h-1zM711 148h1v2h-1zM791 139h1v3h-1zM1060 134h1v2h-1zM776 144h2v3h-2zM769 148h1v2h-1zM789 136h2v3h-2zM971 148h2v2h-2zM986 129h2v2h-2zM1056 146h2v2h-2zM754 138h2v2h-2zM998 140h2v2h-2zM735 139h1v2h-1zM1073 129h1v3h-1zM1111 144h1v2h-1zM1027 127h1v2h-1zM672 129h2v1h-2zM806 148h1v1h-1zM879 128h1v2h-1zM879 131h1v1h-1zM832 149h1v2h-1zM919 140h1v1h-1zM833 142h1v3h-1zM1099 142h1v2h-1zM844 139h1v3h-1zM785 138h1v2h-1zM818 138h1v2h-1zM822 144h1v3h-1zM766 127h1v2h-1zM913 142h1v2h-1zM1061 146h1v1h-1zM876 132h1v3h-1zM788 147h1v1h-1zM1066 129h1v2h-1zM792 128h1v3h-1zM1057 146h1v2h-1zM737 142h1v2h-1zM971 148h1v2h-1zM1009 142h1v2h-1zM715 127h1v1h-1zM1114 145h2v1h-2zM738 144h2v1h-2zM983 147h1v2h-1zM897 138h2v2h-2zM700 138h1v3h-1zM1041 135h1v3h-1zM1039 142h2v2h-2zM843 139h2v2h-2zM875 128h1v3h-1zM812 137h1v1h-1zM923 130h1v2h-1zM781 134h1v1h-1zM1091 141h1v1h-1zM1076 146h1v2h-1zM920 133h1v3h-1zM1115 144h1v3h-1zM809 144h1v1h-1zM746 148h1v1h-1zM790 142h2v3h-2zM939 144h2v3h-2zM1111 133h1v3h-1zM824 130h1v2h-1zM811 147h2v1h-2zM911 141h1v3h-1zM857 144h1v1h-1zM702 134h1v3h-1zM1004 146h1v1h-1zM988 140h2v3h-2zM791 137h2v2h-2zM855 128h2v2h-2zM776 129h2v2h-2zM1062 128h1v2h-1zM740 140h2v2h-2zM994 136h1v3h-1zM840 143h1v1h-1zM1071 129h1v2h-1zM886 147h1v2h-1zM1101 133h1v1h-1zM945 128h2v1h-2zM1121 148h1v3h-1zM808 144h1v1h-1zM885 127h1v1h-1zM961 135h1v1h-1zM744 130h1v3h-1zM771 147h2v1h-2zM1030 144h1v3h-1zM1035 148h1v2h-1zM703 134h1v2h-1zM728 134h1v2h-1zM967 128h1v3h-1zM955 135h1v3h-1zM724 145h1v1h-1zM870 148h1v2h-1zM950 146h1v2h-1zM1037 134h1v2h-1zM785 143h2v2h-2zM791 132h2v2h-2zM1105 134h1v3h-1zM753 128h1v2h-1zM915 145h2v3h-2zM808 131h1v2h-1zM972 144h1v1h-1zM744 142h1v3h-1zM864 145h1v3h-1zM851 131h1v2h-1zM816 132h1v2h-1zM720 127h2v2h-2zM1042 133h2v3h-2zM908 142h1v1h-1zM732 147h2v3h-2zM971 137h2v2h-2zM753 144h1v3h-1zM934 148h1v1h-1zM1051 146h1v2h-1zM743 145h1v2h-1z" fill="#40ff20" shape-rendering="crispEdges"/><path d="M1059 128h1v3h-1zM734 148h2v2h-2zM963 129h1v2h-1zM899 127h1v1h-1zM1096 129h1v1h-1zM693 149h2v2h-2zM713 139h1v2h-1zM712 145h1v2h-1zM864 138h1v3h-1zM720 143h2v2h-2zM1053 137h2v1h-2zM850 138h1v3h-1zM900 143h1v1h-1zM882 146h2v2h-2zM753 131h1v3h-1zM838 132h1v3h-1zM983 138h1v2h-1zM1016 134h1v3h-1zM817 137h1v3h-1zM1103 132h1v2h-1zM1006 129h1v2h-1zM1081 134h1v1h-1zM944 129h1v2h-1zM1082 140h2v2h-2zM825 134h1v1h-1zM731 132h1v2h-1zM688 132h1v2h-1zM968 137h1v2h-1zM877 130h1v3h-1zM985 149h2v3h-2zM672 128h2v2h-2zM841 131h1v2h-1zM854 133h1v1h-1zM991 136h2v2h-2zM887 136h1v2h-1zM926 142h1v1h-1zM731 131h1v2h-1zM708 134h1v2h-1zM817 149h1v2h-1zM862 134h1v2h-1zM985 139h2v2h-2zM1094 131h1v1h-1zM1063 130h1v1h-1zM1001 133h1v3h-1zM799 138h1v2h-1zM820 135h1v2h-1zM853 130h1v3h-1zM805 141h1v1h-1zM764 141h2v1h-2zM995 127h2v3h-2zM713 133h1v3h-1zM978 127h1v1h-1zM700 137h1v1h-1zM981 148h2v2h-2zM1035 139h1v2h-1zM900 137h2v2h-2zM716 134h1v3h-1zM808 148h2v1h-2zM814 147h1v2h-1zM865 146h2v3h-2zM1092 147h1v3h-1zM937 136h1v2h-1zM926 149h1v3h-1zM784 146h1v2h-1zM737 146h1v1h-1zM711 128h1v1h-1zM1010 145h1v2h-1zM929 138h1v1h-1zM832 131h2v1h-2zM986 144h1v1h-1zM1075 146h2v1h-2zM983 135h1v1h-1zM765 146h1v1h-1zM763 146h1v2h-1zM786 127h2v2h-2zM794 148h1v2h-1zM791 149h1v1h-1zM750 139h1v2h-1zM688 129h1v2h-1zM746 127h1v2h-1zM861 144h1v2h-1zM914 146h2v2h-2zM914 145h1v1h-1zM993 147h1v2h-1zM1078 130h2v3h-2zM777 140h1v3h-1zM858 134h1v2h-1zM783 146h1v1h-1zM1111 141h1v2h-1zM817 132h1v2h-1zM883 128h1v1h-1zM883 148h1v2h-1zM682 128h1v1h-1zM789 147h1v3h-1zM946 147h1v2h-1zM912 138h2v2h-2zM792 130h2v3h-2zM698 144h1v1h-1zM815 144h1v1h-1zM695 137h1v1h-1zM856 130h1v1h-1zM895 133h1v3h-1zM1082 133h2v2h-2zM716 139h2v3h-2zM993 143h1v3h-1zM888 138h1v3h-1zM872 141h1v1h-1zM815 145h1v2h-1zM860 133h1v2h-1zM818 142h1v2h-1zM909 139h1v2h-1zM1056 149h1v3h-1zM780 140h2v2h-2zM1059 146h2v2h-2zM933 145h1v3h-1zM846 133h1v1h-1zM1085 144h2v1h-2zM917 144h1v2h-1zM1045 147h1v2h-1zM781 136h1v3h-1zM1121 137h2v3h-2zM684 136h1v1h-1zM917 131h2v3h-2zM916 146h1v2h-1zM857 129h2v2h-2zM848 129h2v3h-2zM707 138h1v2h-1zM893 130h2v1h-2zM675 146h2v1h-2zM993 148h1v2h-1zM1040 146h1v2h-1zM1103 146h1v1h-1zM1070 149h1v3h-1zM989 149h1v2h-1zM856 127h1v2h-1zM800 132h2v2h-2zM768 143h2v1h-2zM1019 132h1v2h-1zM1065 136h2v2h-2zM936 130h1v1h-1zM1009 129h2v2h-2zM833 128h2v3h-2zM693 145h1v3h-1zM689 136h1v1h-1zM981 148h1v2h-1zM787 141h1v3h-1zM691 130h1v1h-1zM720 137h1v2h-1zM889 143h1v2h-1zM740 139h2v2h-2zM711 137h1v2h-1zM917 133h2v2h-2zM693 138h1v1h-1zM734 134h2v2h-2zM918 139h1v2h-1zM1089 139h2v2h-2zM935 132h1v2h-1zM1017 148h1v2h-1zM1042 130h2v2h-2zM875 140h1v2h-1zM973 131h1v1h-1zM873 141h2v1h-2zM931 129h1v3h-1zM976 141h1v2h-1zM1044 137h2v1h-2zM1077 129h1v2h-1zM1105 127h1v1h-1zM697 145h2v2h-2z" fill="#00ffff" shape-rendering="crispEdges"/><path d="M1081 129h2v1h-2zM815 133h1v2h-1zM949 140h1v3h-1zM868 130h1v2h-1zM676 142h1v3h-1zM1038 149h1v1h-1zM975 147h2v1h-2zM831 136h1v2h-1zM927 138h1v3h-1zM758 142h2v2h-2zM1033 145h1v1h-1zM978 145h2v1h-2zM699 129h1v1h-1zM902 144h1v1h-1zM906 138h2v2h-2zM967 138h1v1h-1zM886 138h2v3h-2zM1050 127h1v1h-1zM802 138h1v1h-1zM679 139h1v2h-1zM793 142h2v1h-2zM996 148h1v2h-1zM732 130h2v1h-2zM910 139h1v2h-1zM823 130h2v3h-2zM972 147h1v3h-1zM934 142h2v2h-2zM1061 143h2v3h-2zM1015 133h1v3h-1zM781 147h1v1h-1zM1078 142h1v3h-1zM1109 136h2v3h-2zM1105 138h2v2h-2zM956 132h2v2h-2zM920 128h2v3h-2zM1067 147h2v2h-2zM894 143h2v1h-2zM840 131h1v2h-1zM1073 135h2v2h-2zM956 129h2v3h-2zM1052 144h1v1h-1zM1022 134h1v2h-1zM796 138h1v2h-1zM789 142h2v2h-2zM672 142h2v2h-2zM912 133h1v3h-1zM830 148h1v1h-1zM1074 129h1v2h-1zM1061 149h1v1h-1zM815 148h2v3h-2zM735 136h1v2h-1zM1084 138h2v2h-2zM1103 144h1v2h-1zM704 149h2v2h-2zM923 142h1v3h-1zM726 141h1v2h-1zM772 149h1v3h-1zM911 129h1v3h-1zM724 130h1v2h-1zM1103 140h2v1h-2zM974 134h2v1h-2zM1060 137h1v2h-1zM1002 140h2v3h-2zM710 134h2v1h-2zM690 142h1v2h-1zM881 144h2v2h-2zM996 149h2v1h-2zM767 141h1v2h-1zM910 140h2v1h-2zM1098 132h2v2h-2zM727 127h2v2h-2zM1106 142h1v2h-1zM713 142h2v1h-2zM794 144h1v2h-1zM870 127h1v2h-1zM756 136h1v2h-1zM888 145h1v2h-1zM716 130h1v3h-1zM1005 146h2v3h-2zM966 136h1v2h-1zM905 146h2v3h-2zM879 144h1v2h-1zM1104 149h1v3h-1zM692 138h1v2h-1zM893 141h1v2h-1zM933 144h2v3h-2zM739 130h2v1h-2zM820 128h2v2h-2zM832 133h2v1h-2zM741 128h1v2h-1zM886 130h1v3h-1zM886 143h1v3h-1zM846 142h1v1h-1zM1032 139h1v3h-1zM1036 145h1v2h-1zM993 133h2v2h-2zM905 147h2v2h-2zM833 137h1v2h-1zM904 127h1v1h-1zM874 135h2v3h-2zM765 127h1v3h-1zM751 148h1v2h-1zM847 133h1v1h-1zM1086 146h2v3h-2zM908 128h2v1h-2zM701 135h2v2h-2zM980 137h1v2h-1zM944 128h1v2h-1zM816 145h1v3h-1zM952 127h1v3h-1zM833 132h1v2h-1zM695 136h1v3h-1zM904 148h2v3h-2zM937 146h1v3h-1zM707 142h1v2h-1zM697 148h1v2h-1zM932 129h1v2h-1zM771 128h2v1h-2zM785 127h1v2h-1zM823 127h2v1h-2zM1048 141h2v2h-2zM753 143h1v2h-1zM846 141h2v3h-2zM845 142h1v1h-1zM905 136h1v2h-1zM894 149h2v3h-2zM1036 142h1v2h-1zM905 135h2v3h-2zM830 131h2v2h-2zM696 143h2v2h-2zM823 137h2v3h-2zM996 133h1v3h-1zM920 137h1v2h-1zM1024 149h1v2h-1zM994 135h1v3h-1zM714 141h1v2h-1zM868 134h2v2h-2zM923 127h1v1h-1z" fill="#00ff00" shape-rendering="crispEdges"/><path d="M707 142h1v3h-1zM962 147h2v2h-2zM750 137h2v2h-2zM923 136h1v2h-1zM908 141h1v3h-1zM873 130h2v2h-2zM1063 135h2v2h-2zM735 149h1v2h-1zM976 142h1v3h-1zM753 131h1v1h-1zM690 149h2v1h-2zM856 132h1v2h-1zM1115 138h2v2h-2zM882 135h1v3h-1zM898 134h2v3h-2zM744 137h2v1h-2zM983 137h2v2h-2zM708 138h1v1h-1zM869 129h1v1h-1zM761 130h2v2h-2zM923 147h1v2h-1zM1036 128h1v1h-1zM705 139h1v2h-1zM998 147h2v2h-2zM818 134h1v2h-1zM1043 147h1v2h-1zM884 146h2v1h-2zM880 132h1v1h-1zM670 143h2v1h-2zM1068 127h1v2h-1zM680 127h1v1h-1zM1057 129h2v3h-2zM737 138h2v3h-2zM976 142h2v2h-2zM721 134h2v3h-2zM887 140h1v1h-1zM705 134h1v2h-1zM889 139h1v2h-1zM748 143h2v3h-2zM752 145h2v1h-2zM1096 143h1v3h-1zM897 132h1v3h-1zM1026 136h1v2h-1zM731 127h1v1h-1zM967 135h2v3h-2zM863 136h2v2h-2zM689 148h1v2h-1zM710 144h1v1h-1zM766 131h1v3h-1zM920 147h1v2h-1zM899 144h2v2h-2zM1011 140h2v2h-2zM957 149h2v2h-2zM898 131h2v2h-2zM948 143h1v3h-1zM789 133h1v2h-1zM855 130h2v2h-2zM968 132h1v2h-1zM1012 141h1v2h-1zM815 128h1v2h-1zM912 145h2v3h-2zM746 131h1v3h-1zM729 135h1v1h-1zM1119 147h2v2h-2zM722 145h1v2h-1zM943 133h2v2h-2zM1086 140h1v2h-1zM792 135h1v2h-1zM1026 144h1v3h-1zM937 128h1v3h-1zM883 149h2v2h-2zM703 137h1v1h-1zM1047 149h1v1h-1zM1076 130h1v1h-1zM1061 148h2v2h-2zM1027 140h1v2h-1zM905 133h1v2h-1zM897 129h2v1h-2zM1004 139h1v2h-1zM794 129h1v2h-1zM746 147h2v2h-2zM758 132h1v1h-1zM1062 139h2v2h-2zM801 135h2v2h-2zM1025 148h1v3h-1zM828 145h1v2h-1zM838 146h2v2h-2zM1096 144h2v2h-2zM737 129h1v3h-1zM1029 133h2v2h-2zM673 149h1v1h-1zM979 144h1v3h-1zM1015 134h1v3h-1zM812 141h1v1h-1zM687 138h1v3h-1zM1071 132h1v1h-1zM962 132h1v3h-1zM835 148h2v2h-2zM891 134h1v3h-1zM764 144h1v2h-1zM1108 144h1v1h-1zM1102 143h1v2h-1zM844 129h2v2h-2zM926 136h1v3h-1zM1063 146h2v3h-2zM1051 143h1v2h-1zM976 145h2v1h-2zM883 140h1v1h-1zM735 143h1v2h-1zM1089 141h1v2h-1zM1038 133h1v1h-1zM878 143h1v2h-1zM917 143h1v2h-1zM1104 146h2v3h-2zM676 140h2v1h-2zM1106 128h1v2h-1zM1118 148h1v2h-1zM677 148h1v3h-1zM716 148h1v1h-1zM906 127h1v2h-1zM867 139h1v1h-1zM911 133h2v1h-2zM671 134h1v3h-1zM1080 134h1v2h-1zM1093 132h1v2h-1zM774 137h1v2h-1zM721 141h2v3h-2zM669 143h2v3h-2zM989 141h1v2h-1zM761 149h2v2h-2zM894 149h1v3h-1zM881 149h2v2h-2zM765 141h1v1h-1zM812 143h1v1h-1zM947 147h1v3h-1zM977 143h1v1h-1zM1082 143h2v2h-2z" fill="#00f0f0" shape-rendering="crispEdges"/><path d="M846 149h1v2h-1zM849 149h1v1h-1zM1043 145h1v1h-1zM902 143h1v2h-1zM1047 136h2v3h-2zM694 142h2v2h-2zM934 142h2v2h-2zM925 134h2v1h-2zM744 144h1v2h-1zM1023 149h2v3h-2zM690 129h1v3h-1zM700 141h2v1h-2zM1101 144h1v1h-1zM1037 128h1v1h-1zM759 148h1v2h-1zM904 133h1v2h-1zM818 135h2v2h-2zM815 149h2v2h-2zM833 139h1v2h-1zM984 127h1v1h-1zM690 141h1v2h-1zM1083 133h1v1h-1zM925 130h2v2h-2zM1062 145h1v1h-1zM984 133h1v3h-1zM979 129h2v2h-2zM689 127h1v2h-1zM842 146h1v2h-1zM898 131h2v2h-2zM715 134h1v3h-1zM1062 146h2v1h-2zM855 131h1v2h-1zM1026 139h1v2h-1zM708 130h1v1h-1zM900 147h2v2h-2zM929 135h2v3h-2zM787 128h1v3h-1zM708 129h2v3h-2zM886 142h2v3h-2zM911 132h1v3h-1zM713 144h2v2h-2zM761 148h2v2h-2zM751 138h2v2h-2zM1084 129h1v1h-1zM757 137h2v1h-2zM733 131h1v3h-1zM1068 146h1v2h-1zM1020 149h1v2h-1zM1105 142h1v2h-1zM837 135h1v1h-1zM933 132h1v2h-1zM825 144h1v2h-1zM1040 136h1v1h-1zM842 127h1v2h-1zM798 135h1v2h-1zM932 139h1v2h-1zM957 130h1v1h-1zM1059 145h1v1h-1zM785 135h1v2h-1zM1097 148h1v2h-1zM758 130h1v2h-1zM916 148h2v2h-2zM1067 131h1v3h-1zM793 131h1v1h-1zM969 146h1v1h-1zM713 128h2v2h-2zM975 143h2v1h-2zM786 140h1v3h-1zM908 129h2v3h-2zM1008 138h1v1h-1zM1076 147h1v2h-1zM1109 144h1v2h-1zM965 131h1v2h-1zM1042 132h1v3h-1zM870 147h2v3h-2zM942 130h2v2h-2zM892 127h2v2h-2zM1057 145h2v2h-2zM704 129h1v2h-1zM882 145h2v3h-2zM1114 128h2v2h-2zM700 128h2v2h-2zM948 137h1v2h-1zM803 138h1v3h-1zM864 140h1v2h-1zM1008 132h1v2h-1zM818 135h1v3h-1zM977 148h1v2h-1zM860 139h1v3h-1zM884 141h2v3h-2zM793 140h1v2h-1zM799 139h1v1h-1zM700 137h1v2h-1zM946 145h2v1h-2zM1024 148h2v2h-2zM755 144h1v3h-1zM720 127h1v3h-1zM689 145h2v3h-2zM1051 136h1v2h-1zM705 149h1v2h-1zM731 136h1v2h-1zM1058 131h1v3h-1zM843 142h1v2h-1zM837 149h1v2h-1zM792 135h1v2h-1zM1018 129h2v2h-2zM730 132h2v2h-2zM698 138h1v2h-1zM794 138h2v2h-2zM834 136h1v1h-1zM1035 137h1v3h-1zM1051 136h1v3h-1zM906 149h1v1h-1zM787 128h1v3h-1zM863 146h1v2h-1zM1007 134h1v2h-1zM1076 131h2v2h-2zM751 132h1v1h-1zM873 127h1v1h-1zM694 149h2v2h-2zM864 131h1v1h-1zM984 148h1v3h-1zM1032 129h1v2h-1zM1040 138h2v1h-2zM792 140h1v2h-1zM800 132h1v3h-1zM1094 146h1v1h-1zM1070 141h1v1h-1zM776 132h1v2h-1zM1109 127h1v2h-1zM707 129h2v1h-2zM844 145h1v2h-1zM891 129h1v2h-1zM947 149h1v1h-1zM770 149h1v1h-1zM680 136h1v1h-1zM684 135h2v2h-2zM1032 143h1v2h-1zM946 128h1v2h-1zM757 138h1v2h-1zM840 144h1v2h-1zM1080 141h1v3h-1zM1019 141h1v2h-1zM934 140h2v3h-2zM1109 134h2v2h-2zM688 138h1v2h-1zM875 129h1v2h-1zM1077 147h1v2h-1zM1011 143h2v2h-2zM869 147h1v3h-1zM735 146h2v2h-2zM1060 130h2v2h-2zM687 144h2v2h-2zM691 129h2v2h-2zM846 137h2v1h-2zM1105 149h1v3h-1zM951 136h1v2h-1zM1003 137h1v3h-1z" fill="#00ff80" shape-rendering="crispEdges"/><path d="M1105 120h1v2h-1zM821 119h2v2h-2zM913 119h1v1h-1zM1103 119h1v2h-1zM888 119h1v3h-1zM1012 119h1v2h-1zM677 119h1v1h-1zM970 119h2v2h-2zM792 118h1v2h-1zM1000 116h1v2h-1zM1006 119h1v2h-1zM823 117h2v2h-2zM725 118h1v1h-1zM736 117h2v1h-2zM1050 118h1v2h-1zM814 116h1v2h-1zM1073 119h2v3h-2zM977 118h2v2h-2zM984 118h2v3h-2zM970 119h2v2h-2zM1021 119h1v2h-1zM897 119h1v1h-1zM931 117h1v1h-1zM1042 118h2v2h-2zM720 118h1v2h-1zM705 118h2v2h-2zM1063 120h2v2h-2zM952 119h1v2h-1zM677 120h2v2h-2zM734 119h1v3h-1zM669 117h1v2h-1zM936 120h2v3h-2zM767 118h2v2h-2zM962 119h1v2h-1zM1000 116h2v2h-2zM1053 117h1v2h-1zM1099 116h1v2h-1zM961 118h1v1h-1zM1061 120h1v3h-1zM973 116h1v3h-1zM854 116h2v3h-2zM1000 117h2v3h-2zM849 116h2v3h-2zM1033 119h1v2h-1zM1108 119h2v2h-2zM1008 116h1v3h-1zM715 120h1v2h-1zM862 119h2v2h-2zM817 120h1v1h-1zM1072 117h1v2h-1zM1037 117h1v2h-1zM945 118h1v1h-1zM843 117h2v3h-2zM761 119h1v1h-1zM991 120h2v1h-2zM779 117h1v2h-1zM953 118h1v1h-1zM731 117h1v2h-1zM872 116h1v1h-1zM849 118h2v2h-2zM698 119h1v2h-1zM887 116h1v1h-1zM1101 117h1v3h-1zM1004 117h2v1h-2zM743 116h2v2h-2zM990 119h1v3h-1zM876 118h1v2h-1zM822 116h1v2h-1zM942 116h1v1h-1zM781 118h1v3h-1zM1027 118h1v2h-1zM1115 120h1v1h-1zM751 120h1v2h-1zM1067 118h1v3h-1zM754 118h1v1h-1zM939 117h1v2h-1zM1079 120h2v1h-2zM787 118h1v2h-1zM886 116h1v2h-1zM1117 118h1v1h-1zM933 117h2v3h-2zM1108 116h2v2h-2zM1011 116h1v3h-1zM962 119h1v3h-1zM1044 117h1v2h-1zM1039 116h2v3h-2zM927 116h2v1h-2zM988 120h2v2h-2zM970 117h2v3h-2zM939 120h1v3h-1zM980 119h2v2h-2zM928 116h2v1h-2zM847 117h2v2h-2zM892 117h2v2h-2zM804 118h2v1h-2zM856 117h2v1h-2zM1009 118h2v3h-2zM946 117h1v2h-1zM879 117h1v2h-1zM869 120h1v2h-1zM752 116h2v3h-2zM1024 116h1v3h-1zM840 118h1v2h-1zM959 116h2v1h-2zM1075 118h1v2h-1zM936 116h1v3h-1zM1062 119h1v2h-1zM701 117h1v2h-1zM1108 117h2v3h-2zM1037 119h1v1h-1zM737 117h1v2h-1zM988 118h2v3h-2zM720 118h1v3h-1zM822 119h2v1h-2zM865 119h1v2h-1zM919 116h1v3h-1zM757 118h1v2h-1zM927 116h2v2h-2zM789 118h2v1h-2zM839 118h2v2h-2zM793 117h1v1h-1zM956 120h2v2h-2zM748 120h2v1h-2zM834 117h1v2h-1zM894 119h1v3h-1zM1037 117h1v3h-1zM904 119h1v3h-1zM1115 116h2v1h-2zM837 117h1v3h-1zM1048 116h1v2h-1zM772 118h1v1h-1zM1102 116h1v3h-1zM1030 117h1v2h-1zM940 117h1v3h-1zM991 118h1v2h-1zM1115 117h1v1h-1zM732 116h1v1h-1zM732 118h1v2h-1zM802 116h1v1h-1zM1018 117h1v1h-1zM816 120h2v3h-2zM1112 119h2v2h-2zM1030 117h1v2h-1zM824 116h1v2h-1zM973 117h2v3h-2zM1029 117h2v1h-2zM1026 118h1v2h-1zM739 117h1v3h-1zM888 116h1v1h-1zM1117 118h1v2h-1zM775 118h1v1h-1zM1004 117h1v3h-1zM883 117h1v2h-1zM1112 118h2v2h-2zM757 117h2v2h-2zM800 116h1v3h-1zM839 120h2v2h-2zM950 120h1v2h-1zM952 119h1v2h-1zM866 117h2v2h-2zM912 119h1v2h-1zM871 117h2v3h-2zM896 116h1v1h-1zM1034 118h2v1h-2zM876 116h2v2h-2zM908 119h1v1h-1zM759 117h1v2h-1zM1043 117h2v2h-2zM728 120h1v1h-1zM1011 119h2v1h-2zM959 119h1v3h-1zM1009 119h1v2h-1zM796 116h1v2h-1zM1095 117h1v2h-1zM801 117h1v2h-1zM716 118h2v2h-2zM720 118h1v2h-1zM914 119h1v2h-1zM750 118h1v2h-1zM708 116h1v3h-1zM811 116h2v2h-2zM775 116h2v2h-2zM775 119h1v1h-1zM890 119h1v1h-1zM971 116h1v1h-1zM1035 117h1v3h-1zM716 118h2v2h-2zM690 118h1v1h-1zM1045 117h2v2h-2zM792 116h1v3h-1zM974 117h1v1h-1zM764 116h1v1h-1zM1051 119h1v2h-1zM890 118h2v2h-2zM857 119h2v2h-2zM779 118h1v1h-1zM672 118h1v3h-1zM826 116h2v1h-2zM1075 118h1v3h-1zM944 118h1v2h-1zM949 116h1v3h-1zM768 116h2v3h-2zM1064 119h2v3h-2zM672 117h2v1h-2zM757 119h1v2h-1zM958 117h1v1h-1z" fill="#8000ff" shape-rendering="crispEdges"/><line x1="180.1" y1="33.5" x2="180.1" y2="168" stroke="#ff00ff" stroke-width="1.4" stroke-dasharray="1.5,2"/><line x1="339.5" y1="33.5" x2="339.5" y2="168" stroke="#00a000" stroke-width="1" stroke-dasharray="6,3"/><line x1="362.4" y1="33.5" x2="362.4" y2="168" stroke="#a0a0a0" stroke-width="3" stroke-dasharray="8,2.5"/><line x1="378.5" y1="33.5" x2="378.5" y2="168" stroke="#ff0000" stroke-width="1" stroke-dasharray="7.5,2.5"/><line x1="429.5" y1="33.5" x2="429.5" y2="168" stroke="#ff0000" stroke-width="0.9" stroke-dasharray="1.6,1.6"/><line x1="457.5" y1="33.5" x2="457.5" y2="168" stroke="#ff0000" stroke-width="1" stroke-dasharray="7.5,2.5"/><line x1="489.4" y1="33.5" x2="489.4" y2="168" stroke="#a0a0a0" stroke-width="3" stroke-dasharray="8,2.5"/><line x1="496.5" y1="33.5" x2="496.5" y2="168" stroke="#00a000" stroke-width="1" stroke-dasharray="6,3"/><path d="M72 77.2l.6-.5 .6-.3 .6-.5 .6-.8 .6-1.4 .6 1.6 .6-1.7 .6 2.5 .6-.9 .6 .7 .6-1.1 .6 1.6 .6-1.4 .6 1 .6-1.1 .6-.1 .6 1.1 .6-1.7 .6-2.9 .6 .6 .6-.8 .6-3.1 .6-.1 .6 1.1 .6-2 .6-1 .6 2.2 .6 2 .6 .2 .6 .4 .6 2.2 .6 .7 .6-1.4 .6 1.1 .6 2.3 .6-.5 .6-1.5 .6 .9 .6 .1 .6 .6 .6-.7 .6 .7 .6-.8 .6-1.7 .6-.1 .6 3.2 .6 .9 .6 3.7 .6 4 .6 1.6 .6 .9 .6 3.1 .6-2.2 .6 .9 .6 1 .6-1.5 .6 .2 .6 2.3 .6 1.2 .6-.2 .6 3 .6 1 .6 .3 .6 .7 .6 1.3 .6 1.5 .6-.1 .6 3.2 .6 .9 .6 .8 .6 1 .6 3 .6 1.7 .6-1.6 .6 2.6 .6 1.4 .6 0 .6-1.6 .6 5 .6-.4 .6 2.1 .6 3.6 .6 1.1 .6-.3 .6 1.5 .6 1.1 .6 1.7 .6 5.8 .6-.3 .6 2.4 .6 2 .6 1.6 .6-.4 .6 2.5 .6 1.5 .6-.4 .6-1.6 .6-.9 .6 1.7 .6 .1 .6-.2 .6-.1 .6-.7 .6-1.1 .6 .9 .6-.2 .6-1.5 .6 3 .6 1.4 .6 1.3 .6 .5 .6 1.3 .6-3 .6 1.1 .6 .7 .6-.8 .6 .3 .6 2.9 .6-2 .6-2.8 .6 1 .6 1.5 .6 1.1 .6 1.4 .6 1.9 .6 .4 .6 .6 .6-3.3 .6-1.3 .6 .2 .6-.4 .6 .5 .6 4.8 .6 7.1 .6 3.5 .6 .8 .6-5.8 .6-5.9 .6-4.6 .6-2.6 .6-3.3 .6-1.2 .6 0 .6 .5 .6-.3 .6-1.4 .6 0 .6-.1 .6 .5 .6 .5 .6 1 .6-1.2 .6 1.5 .6-.8 .6 .9 .6 2.7 .6-.6 .6-2.4 .6-.8 .6-2 .6-2.3 .6 .7 .6-.7 .6-2.7 .6-1.2 .6-1.5 .6 .5 .6 1.5 .6 1.8 .6-4 .6-3.5 .6-1.3 .6 .9 .6-.8 .6-1 .6-2 .6-5.3 .6-11.5 .6-12.4 .6-4.7 .6 13.2 .6 15.1 .6 10.1 .6 4.4 .6 4.7 .6 4.1 .6 6 .6 4.7 .6 2.3 .6 3.6 .6-.6 .6-3.1 .6-4.1 .6-7 .6-4 .6-5.1 .6-.7 .6-1.8 .6-2.3 .6-4.1 .6 .6 .6-2 .6-2.4 .6 .3 .6-4.6 .6-7.3 .6-9.1 .6-2.2 .6 3.6 .6 8.3 .6 3.2 .6 .3 .6 .3 .6 4.6 .6 3.9 .6 2.9 .6 .2 .6-4.5 .6-3.7 .6-1.1 .6-2.7 .6-1.4 .6-1.5 .6-1.4 .6-2.5 .6 .3 .6-1.9 .6 1.5 .6 2.4 .6 1 .6 .9 .6-2 .6-3.6 .6 1.2 .6 4.1 .6 .4 .6 1.5 .6 3.4 .6-.6 .6-1.6 .6 .8 .6 0 .6-.4 .6 2.7 .6 4.3 .6 .4 .6 1.7 .6 2.1 .6 .3 .6-.7 .6-.1 .6-.1 .6 1.1 .6-.1 .6-2 .6 1.1 .6 .6 .6-1.9 .6-1.6 .6 2.5 .6-2.2 .6-1 .6-.6 .6-.9 .6-.5 .6 1.7 .6-1.4 .6 1.3 .6 1.5 .6-3 .6-.6 .6 2.3 .6 .7 .6 1.9 .6 4.7 .6 5.2 .6 2.2 .6-.1 .6-2.7 .6-1.5 .6-.1 .6-.5 .6-1.7 .6 2.2 .6 .7 .6-.4 .6 2.3 .6 .8 .6-1 .6-.7 .6 1.4 .6-.2 .6 6.3 .6 5.2 .6 2.6 .6-3.3 .6-5.7 .6-7.8 .6-4.2 .6 .5 .6 3.1 .6-2.2 .6-1.3 .6-.5 .6-1.9 .6-8.4 .6-3.1 .6-4.9 .6-5.6 .6-2.8 .6 1.1 .6 5.4 .6 7.4 .6 3 .6-.6 .6 2.9 .6 3.3 .6 1.9 .6 2.5 .6-2.2 .6-2.8 .6 1.6 .6 .2 .6-4.7 .6-.5 .6-2.4 .6-3.6 .6-3.1 .6 3.9 .6-.2 .6 .5 .6-2 .6-1 .6-2.4 .6-.2 .6-1 .6-1.2 .6 .9 .6-.8 .6-2.2 .6-2.1 .6-.9 .6-2.8 .6-4 .6 .8 .6 1.2 .6-.1 .6 1.5 .6 3.3 .6-1.2 .6-4.1 .6-.5 .6-1.1 .6 .9 .6 1.2 .6 4 .6-1.5 .6-3.7 .6-1.6 .6-2.5 .6-.9 .6 .8 .6 2.4 .6-2.8 .6 .1 .6-2.1 .6 .4 .6 .1 .6 1.4 .6-.4 .6 .3 .6 .3 .6-.1 .6-.7 .6-1.5 .6 1.6 .6-1.4 .6 .1 .6 .7 .6-.4 .6-3.2 .6-.1 .6-1.2 .6 0 .6-1.1 .6 .1 .6-.2 .6 1.7 .6-3.4 .6 2.1 .6 .2 .6 .8 .6-2.3 .6 3.4 .6 1.5 .6 1.3 .6 .2 .6 1.3 .6-1.1 .6-1 .6-.4 .6-1.2 .6-.2 .6 .6 .6 0 .6 0 .6 .1 .6 1.5 .6 1.2 .6 .3 .6 .5 .6 .3 .6-2.4 .6-1.8 .6-.6 .6-.8 .6-1.8 .6 .1 .6-1.9 .6-1.3 .6-2 .6-.3 .6-.3 .6 1.1 .6-2.6 .6 1.8 .6 3.5 .6-2.3 .6 1.7 .6 .6 .6-1.9 .6-3.1 .6-.4 .6-1 .6 .9 .6-.7 .6-.5 .6-.5 .6-2.2 .6 .2 .6-1.5 .6-.5 .6 1.7 .6 1.3 .6 .1 .6 1.2 .6-.5 .6 .1 .6-1.9 .6-2.2 .6 1.6 .6 2.6 .6-.2 .6 .2 .6 1.1 .6-3.3 .6-2 .6-1.4 .6 3 .6 .4 .6 2.6 .6 0 .6-1.5 .6-1.7 .6 1.1 .6-1.2 .6 .8 .6 3.6 .6-2.9 .6-1 .6 2.2 .6-.8 .6-1.2 .6 2.5 .6-3.1 .6-1.7 .6 .8 .6-1.6 .6 0 .6 1.1 .6-2.5 .6-1.3 .6 .3 .6-.8 .6-.9 .6 3.7 .6-.8 .6 1.6 .6-1 .6 1.1 .6 .3 .6 1.2 .6-.7 .6-.7 .6 1.9 .6-.1 .6-.2 .6 1.2 .6 .8 .6-2.1 .6-1.3 .6 1.3 .6 .8 .6 1 .6 2.8 .6 2.7 .6 .5 .6 1.5 .6 1.2 .6-.4 .6 .2 .6 .4 .6 .3 .6-.7 .6 2.2 .6-1.1 .6 .3 .6-2.2 .6 2.5 .6 0 .6 2.3 .6 1.3 .6-.1 .6-1.5 .6-1.9 .6-2.2 .6 .5 .6 2.3 .6 1.1 .6 1.4 .6 .3 .6-2.2 .6-.9 .6 .8 .6 .1 .6 2 .6 2.4 .6-.4 .6-1.1 .6 0 .6-2.1 .6-1.8 .6 2.9 .6 2 .6 1.1 .6 1.6 .6 .4 .6 .1 .6-1.7 .6-.9 .6 1.5 .6-.2 .6-1.8 .6 .5 .6 .4 .6-.9 .6 .7 .6 1.5 .6-1.8 .6-1.6 .6-.3 .6-1.3 .6-2.2 .6 .6 .6 .1 .6-.3 .6 .1 .6 2 .6 5.1 .6 1.1 .6 1.8 .6 1.7 .6-1.4 .6-2.1 .6 2.9 .6 .3 .6-.8 .6 3.8 .6 1.8 .6-.3 .6 .9 .6 4.1 .6-1.6 .6 1.4 .6 1.2 .6 .2 .6-2.8 .6 2.4 .6-2.3 .6-.1 .6 1.1 .6 5.6 .6-.2 .6 4.1 .6 4.2 .6 .2 .6-.9 .6 3.7 .6-1.4 .6 1.6 .6 1.8 .6-1.3 .6 1.2 .6 4.9 .6-.6 .6 2.8 .6 2.9 .6-1 .6 .1 .6 2 .6-1.1 .6 2.3 .6 2.3 .6-.3 .6-1.6 .6-1.9 .6-.2 .6-2.3 .6-.5 .6 .7 .6 1.9 .6-2.5 .6 3.3 .6-1.1 .6 1.6 .6 .6 .6 3.5 .6-3 .6 1.8 .6 .5 .6 1.7 .6 .1 .6 2 .6 1.2 .6 .7 .6 .8 .6 .3 .6 .6 .6 .6 .6 1.8 .6 3 .6 .1 .6 1.8 .6 2.3 .6-2.2 .6-4.1 .6-.3 .6-.2 .6 1.4 .6 3.2 .6 3.7 .6 1.4 .6-2.6 .6-5.5 .6 .7 .6-1.1 .6-1.2 .6 4.2 .6 .9 .6 .2 .6 1.5 .6 .5 .6-2.8 .6 1.8 .6-5 .6-2.2 .6 1 .6 4.5 .6 .1 .6 1.1 .6-1.8 .6 1.9 .6-3 .6-.2 .6 .3 .6 2 .6-1.5 .6 4.4 .6 .3 .6-.6 .6 1 .6 2.7 .6-4.2 .6-1.9 .6 3 .6 .3 .6-1 .6 2.5 .6 1.8 .6 .5 .6 1.9 .6 2.1 .6 2.3 .6 1.6 .6-2.8 .6-3.2 .6 1.4 .6-1.2 .6-1.8 .6 1.9 .6-1.1 .6-5.1 .6-.7 .6-2.2 .6-4.5 .6-1.3 .6-.4 .6-3.1 .6-.8 .6-1.4 .6-.2 .6-1.9 .6-.9 .6 1.9 .6-1 .6-.7 .6 1.3 .6-.5 .6-5 .6 .6 .6-1.6 .6-1 .6-.3 .6 2.5 .6 .7 .6-2.3 .6 .2 .6-.2 .6-2.3 .6-2.4 .6 2.8 .6-1.1 .6-2.9 .6 .2 .6-.4 .6-3.1 .6-2.5 .6-.4 .6 .2 .6-1.7 .6-.9 .6-.7 .6 .1 .6-1.3 .6-1.2 .6-3.7 .6-.8 .6 2.8 .6 1.7 .6-.2 .6 .6 .6 .3 .6 .1 .6-1.1 .6-.4 .6-.4" fill="none" stroke="#4444ff" stroke-width="0.8" stroke-linejoin="round" clip-path="url(#cP1)"/><path d="M72 52.5l.6 1.5 .6 0 .6 .3 .6 1.3 .6-2.8 .6 1.1 .6-.3 .6 1.8 .6 1.6 .6-.6 .6 .6 .6-2.9 .6 2 .6-1.5 .6 2.7 .6-1.3 .6 0 .6-1.1 .6 .7 .6 .1 .6-1.1 .6-.2 .6 .2 .6-.6 .6-.2 .6 .2 .6-.6 .6 1.9 .6-2.1 .6 3.1 .6-1.1 .6 .5 .6-.4 .6 1.7 .6 .4 .6 .9 .6-.3 .6 1.1 .6 2.6 .6-.8 .6-.4 .6 2.5 .6-.5 .6 1.6 .6 1.3 .6 .1 .6-.5 .6 2.9 .6 3 .6 1 .6 2.9 .6 2.6 .6-.1 .6 3.4 .6 2 .6 .9 .6 1.6 .6 1.2 .6 2.2 .6-1.4 .6 .7 .6 1.6 .6-.8 .6-1.1 .6-.2 .6 .5 .6-.8 .6-3.1 .6-.8 .6 3.5 .6 2 .6 2 .6 2.8 .6 2.6 .6 .9 .6 1.7 .6-2.7 .6-.8 .6 .7 .6-.4 .6-1.5 .6-1.8 .6-1.4 .6-1.5 .6-4.8 .6-.9 .6-.7 .6-1.8 .6-3.5 .6 2 .6-2.6 .6-.7 .6-.4 .6-.2 .6-2.7 .6 2.4 .6-1.3 .6-1.3 .6 .3 .6-2.5 .6 1.3 .6 .5 .6-1.4 .6 1 .6 1.6 .6 1.6 .6 2.5 .6-.1 .6 .4 .6 1.4 .6 2.3 .6-2 .6 1.5 .6-2.8 .6 2.5 .6-1.5 .6 0 .6-2.3 .6-1.9 .6 1.3 .6-1.1 .6-2.7 .6-1.5 .6 1.2 .6-1.2 .6 2.8 .6-3.9 .6-.2 .6 .2 .6-2.2 .6-.5 .6 1.5 .6-3.4 .6-1.8 .6-2.1 .6 2.8 .6 2.2 .6 1.6 .6 3.6 .6 5.6 .6 4.5 .6-4 .6-1.4 .6-5.8 .6-1.9 .6 2.3 .6 1.8 .6 .4 .6 3.2 .6 0 .6-2.5 .6-2.1 .6 4.7 .6 3.7 .6 1.3 .6-1.4 .6-.8 .6-3.5 .6 2.5 .6 .7 .6 1.9 .6 3.2 .6 4.5 .6 .9 .6 .1 .6-1.8 .6 1.5 .6 .8 .6 0 .6-2.7 .6-2.2 .6-2.1 .6-2.7 .6-4.2 .6 1 .6-.1 .6-1 .6 1.6 .6 2.6 .6-6.5 .6-4.2 .6-.7 .6-.1 .6-4.1 .6-1.9 .6-1.7 .6 .1 .6 1.3 .6-.6 .6-1.2 .6 1.2 .6 2.1 .6 .6 .6 2.6 .6 2.9 .6 2 .6 5 .6 1.6 .6 .5 .6-.3 .6 1.4 .6 4.3 .6-1.7 .6 3 .6 .6 .6 2.5 .6-1.2 .6-4.5 .6 3 .6 5.5 .6 5.1 .6 4.4 .6-2.3 .6-1 .6-1.2 .6-2.9 .6-2.3 .6 .5 .6-1.2 .6-.4 .6 1.4 .6-2.3 .6 .2 .6-.9 .6 .6 .6-.3 .6 2.4 .6-2.2 .6-1.8 .6 1.8 .6-4.5 .6 1.5 .6 .2 .6 1.9 .6 1.5 .6 2.5 .6 2.2 .6 3.6 .6-4 .6 .2 .6-1.1 .6-2.6 .6-3.1 .6 .2 .6-.2 .6 2 .6 1 .6-1.2 .6-1.9 .6 2.2 .6-.5 .6 2.1 .6 1.4 .6-1.2 .6 2.2 .6-.3 .6-.6 .6-1.4 .6 1.4 .6-1.4 .6 3.1 .6-.7 .6 1.7 .6-.9 .6-2.2 .6 3.2 .6 .6 .6 1.1 .6-2.6 .6 .4 .6 1.3 .6-1.9 .6-2.5 .6-1.8 .6 2 .6-5.7 .6-2.5 .6 .1 .6 .2 .6 1.1 .6-.7 .6-.4 .6-.3 .6 2.5 .6 1.6 .6-.6 .6 2.7 .6-3.9 .6-.6 .6-3.8 .6-2.2 .6-4.3 .6-5.5 .6-2.8 .6-3.7 .6 1.1 .6 1 .6 2 .6 .6 .6 2.1 .6 .9 .6 4.5 .6 6.4 .6 2.7 .6 4.7 .6 1.9 .6 2.5 .6 3.6 .6-5.4 .6-2.4 .6-1.8 .6 .3 .6-1 .6 3.8 .6-.6 .6 .4 .6 4.4 .6 .1 .6 .5 .6-.1 .6 .5 .6 .5 .6-.8 .6-.7 .6 .1 .6-4.1 .6 3.1 .6-.9 .6 2.5 .6 1.3 .6-1.3 .6 2.7 .6 .4 .6-2 .6-.1 .6 .4 .6-2.9 .6 1.7 .6-1.4 .6-3.1 .6-3.7 .6-1 .6 .1 .6-2.1 .6-3.3 .6-2.6 .6-.9 .6-1.6 .6-1 .6 .1 .6 .9 .6 .1 .6-4 .6 3.5 .6-1.1 .6 1.4 .6-1.1 .6 .7 .6 1.5 .6-4.9 .6 5.2 .6-1.3 .6-2 .6-.8 .6 3.3 .6-1.3 .6 2.3 .6-.8 .6-.2 .6 1.3 .6-.8 .6 .4 .6-.4 .6-1.1 .6 0 .6-.5 .6-2.8 .6 .7 .6-.4 .6 1 .6-2.2 .6 .2 .6 .1 .6-1 .6 .5 .6-2.9 .6-.2 .6-.4 .6 0 .6-.6 .6-1.7 .6 4.2 .6 2.7 .6 2.1 .6-.4 .6 .9 .6 1.5 .6-3 .6-.3 .6-1.2 .6 .6 .6-.6 .6 .9 .6-2.6 .6-.7 .6-2.4 .6 .3 .6-.7 .6 .7 .6-.8 .6 3.1 .6-2.2 .6 1.8 .6-2.1 .6 1.2 .6 .9 .6-3.4 .6 .7 .6-1 .6-.3 .6-.4 .6-1.8 .6-.1 .6-1 .6-1.2 .6-1.7 .6 1.2 .6-3 .6 .3 .6-1.3 .6-1.7 .6 2.3 .6-2.1 .6 1.6 .6 1.8 .6-1.4 .6 .8 .6 1 .6 4.1 .6-2.5 .6-.6 .6 2.7 .6-1.5 .6-.8 .6-2.1 .6-2.4 .6 .6 .6-1.5 .6-1.9 .6-.6 .6-1 .6 .7 .6-.6 .6-.6 .6-1.6 .6-1.2 .6 2.4 .6 1.4 .6 1.8 .6 .1 .6 .7 .6 1.1 .6-.7 .6-1.3 .6-.4 .6-4.1 .6-.7 .6 .9 .6 .6 .6 1.4 .6-2.5 .6-.1 .6-1.3 .6 .1 .6-1 .6-1.2 .6 1.3 .6-1.5 .6-.7 .6-.2 .6 .7 .6-.4 .6 2.5 .6-1.4 .6-1.2 .6-.6 .6-.7 .6 .1 .6 .9 .6-1.3 .6-1.8 .6 0 .6-2.4 .6 2.7 .6-1.3 .6 1.6 .6-1.9 .6-.5 .6 .5 .6-.1 .6 3.3 .6 .1 .6 .5 .6 .4 .6-.4 .6 1.4 .6 1.5 .6 4.2 .6 .5 .6 2.8 .6 1.5 .6 1.8 .6-.7 .6 .9 .6-2.1 .6 .1 .6-3.1 .6-1.9 .6-2.1 .6 6.7 .6 4.9 .6-.5 .6 2.1 .6-.3 .6-1.9 .6 1.3 .6-2.1 .6 .4 .6 1.3 .6-1.3 .6-1 .6 3.3 .6-2.3 .6 1.4 .6 .3 .6 .2 .6-1.1 .6-1.1 .6 3.5 .6-3.4 .6-.2 .6-1.4 .6 3.1 .6 1.6 .6 .4 .6 1.8 .6-1.7 .6-2.1 .6-1.3 .6 1.9 .6-.9 .6 1 .6-.5 .6 1.9 .6 2.7 .6-2.3 .6 .5 .6-3 .6 4.1 .6-1.1 .6 1.9 .6 0 .6-.1 .6 .7 .6 3.2 .6 .6 .6 .1 .6 2.1 .6 .4 .6 2.2 .6-.6 .6 0 .6 2.3 .6 .6 .6 3.1 .6-1.5 .6-.3 .6 3.5 .6 .6 .6-.4 .6-1.1 .6-2.4 .6 .5 .6 .5 .6-.6 .6 1.3 .6 1.4 .6-1.1 .6 1.3 .6 1.5 .6 1.2 .6-2.6 .6-5.6 .6-1.9 .6-3.9 .6-3.1 .6-5.5 .6-2.4 .6-2.4 .6 .4 .6-.3 .6-.6 .6 2.7 .6 1.8 .6 1.4 .6-.3 .6 2.3 .6-.1 .6-2 .6 .4 .6-.9 .6-2.4 .6 1.5 .6 1.5 .6-3.9 .6 2.3 .6 .1 .6-1.1 .6 .3 .6-.5 .6 1.9 .6-2.4 .6 1 .6-1.8 .6 2.4 .6-.3 .6-2.5 .6 .5 .6 1.2 .6-1.4 .6-1.5 .6-2.2 .6 2.4 .6 1 .6-3.4 .6 .5 .6-.2 .6-.7 .6 .1 .6-.1 .6-1.3 .6 2.8 .6-.6 .6-3.6 .6 .8 .6-3.8 .6-.1 .6 1.1 .6-3 .6-.6 .6 1.4 .6-3 .6 4.1 .6-.9 .6-.4 .6 .6 .6-1.5 .6 .1 .6 2.3 .6 .4 .6-.6 .6 .1 .6-.2 .6 2.6 .6-2.5 .6 1.3 .6 .9 .6-.5 .6 .8 .6 1 .6 2.8 .6 1.4 .6-1.1 .6-1.7 .6 1.5 .6 1 .6 .3 .6 .8 .6 2 .6-1.7 .6 2.5 .6 3.2 .6 3.2 .6 2.2 .6-2.1 .6-2.2 .6-2.6 .6-1.1 .6-2.4 .6-2.5 .6 .1 .6-2 .6-1.9 .6 1.9 .6 1.4 .6-.2 .6 .4 .6 .9 .6-2 .6 .6 .6 3 .6 1.3 .6 2.8 .6-.4 .6 3.5 .6 3 .6 4 .6-.6 .6 2 .6 2.2 .6 1.4 .6 .2 .6 1.9 .6 .5 .6 5.1 .6-1.4 .6 1.3 .6 .5 .6 1.8 .6 1.4 .6-.6 .6 .9 .6 3 .6-.8 .6 .3 .6 .5 .6 1.7 .6 .4 .6 .4 .6-3 .6-2.1 .6-1.6 .6-2.1 .6 1 .6 2.1 .6-3.8 .6-1.1 .6 4.5 .6 .4 .6 3.9 .6-.1 .6 2.4 .6-.1 .6-.3 .6-.5 .6-1 .6-3.7 .6-2.6 .6 .2 .6-.6 .6-.7 .6-.4 .6 3 .6-2.2 .6-.2 .6-.2" fill="none" stroke="#555" stroke-width="0.8" stroke-linejoin="round" clip-path="url(#cP1)"/><path d="M72 73.9l1 .3 1-.1 1 1 1 .1 1 .4 1-.4 1-.4 1-.4 1-.1 1-.1 1-.4 1-.2 1 0 1-.3 1-.4 1-.6 1 .3 1-.1 1 .6 1-.2 1 .8 1 .4 1 .3 1 .8 1 .4 1 1.1 1 .9 1 2 1 1.7 1 2.1 1 1.6 1 1.4 1 1.6 1 2 1 2 1 1.7 1 1.2 1 1.6 1 1.2 1 1.7 1 1.2 1 1.9 1 1.7 1 1.7 1 1.9 1 2.5 1 2.7 1 3.5 1 3.4 1 3 1 2.2 1 2.7 1 2.6 1 2.7 1 2.3 1 2.7 1 1 1 .6 1 .3 1 .6 1-.3 1-.1 1-.2 1 .2 1 .3 1-.4 1 0 1 0 1 .6 1 .6 1 1.5 1 1 1 .7 1 .6 1 .9 1 .9 1 .5 1 .6 1-.4 1-.8 1-.8 1-.9 1-.6 1-.9 1-1.6 1-1.4 1-1 1-.7 1-.5 1-.5 1-.6 1-1.2 1-.8 1-.8 1-1 1-1 1-1.1 1-.4 1-.4 1-1.5 1-3.1 1-3.1 1-2.6 1 .8 1 1.3 1 .7 1 2 1 1.4 1 2.4 1 2 1 2.2 1 1.8 1 2.1 1 1.8 1 1.8 1-1.6 1-3.6 1-3.9 1-4 1-4.3 1-3.1 1-3.2 1-3 1-.9 1-.5 1-.8 1-.2 1 .2 1 0 1 .8 1 .6 1 .8 1-1.6 1-1.7 1-1.1 1-1 1-.7 1 0 1 .7 1 1 1 1 1 .9 1 .3 1 1.3 1 1 1 1.1 1 .6 1 .9 1 1 1 .5 1-.2 1-.2 1-.3 1-.1 1 .5 1 .3 1-.1 1-.3 1-.5 1-.3 1 .1 1 .8 1 1.5 1 1.6 1 .9 1 1.1 1 .6 1 1.5 1 .8 1 1.4 1 .9 1 1 1 .6 1 .8 1 .8 1 .3 1-.2 1-.7 1-2.1 1-2.2 1-2.1 1-2.8 1-3.3 1-2.3 1-1.5 1-.4 1-1.3 1-.9 1 1.2 1 1.2 1 .7 1 .3 1 .8 1 0 1-2.4 1-2.8 1-2.4 1-1.8 1-2 1-1.8 1-1.4 1-1 1-.9 1-.9 1-1 1-1.1 1-.3 1-1.2 1-.6 1-1.3 1-.3 1-.9 1-.5 1-.9 1-.6 1-.6 1-1 1-.6 1-.9 1-.1 1-.2 1-.1 1 0 1-1.1 1-.9 1-1 1-.5 1-.5 1-.4 1-.1 1-.6 1-.4 1 .2 1 .3 1 .1 1 .3 1 0 1 .4 1 .2 1 .8 1 .4 1 .4 1-.2 1-.4 1-.2 1-.4 1-.6 1-.4 1-.5 1-.4 1-.3 1-1.3 1-.9 1-1.4 1-.4 1-.7 1-.4 1-.5 1-.8 1-1.2 1-1.1 1-.5 1 .2 1-.2 1-1.2 1-.4 1-.9 1-.1 1-.8 1 0 1-.7 1-.1 1 .3 1 .3 1-.1 1 0 1 .5 1 .6 1 0 1-.2 1-.3 1-.5 1-.5 1-.4 1-.1 1-.7 1-.5 1-.3 1 .6 1 .2 1-.1 1 0 1 .1 1 .6 1 .1 1-.1 1 0 1 .2 1 .9 1 .7 1 1.2 1 1.2 1 1.3 1 1 1 1 1 .8 1 1.3 1 1.1 1 .6 1 .8 1 .9 1 .4 1 .3 1-.4 1 .2 1 .3 1 .3 1 .5 1 0 1 1.1 1 .7 1 .4 1 0 1-.5 1 .5 1 .3 1 .8 1-.6 1 0 1-.4 1 0 1-.1 1 .2 1 .9 1 .3 1 .1 1 0 1-.1 1 .2 1 0 1 .3 1 2.1 1 .8 1 .1 1 4.3 1 1.2 1 1.8 1 1 1 1.3 1 1.2 1 1.8 1 1.8 1 1.7 1 1.4 1 1.7 1 1.7 1 1.5 1 1.7 1 1.7 1 2.2 1 1.6 1 2 1 1.5 1 2.3 1 1.8 1 1.2 1 .5 1 .5 1 .4 1 .9 1 1.1 1 .1 1 .3 1-.1 1 .9 1 .9 1 1.6 1 1.1 1 1.4 1 1.2 1 1.9 1 2.1 1 1.3 1 1.2 1 .7 1 1.5 1 1.2 1 1.4 1 0 1 .4 1 .1 1 .2 1 0 1-.1 1 .8 1 .2 1 0 1-.7 1 .2 1 .1 1 .2 1 0 1 .6 1 .3 1 .2 1 0 1 0 1 .5 1 .7 1 .7 1 .5 1 .2 1 1.1 1 .4 1 .5 1-.3 1 .4 1-.5 1-1.4 1-1.1 1-2 1-1.2 1-2.5 1-2.4 1-2.4 1-2.3 1-1.7 1-1.6 1-1.6 1-2.1 1-1.8 1-1.3 1-1.1 1-1.4 1-.7 1-.4 1 0 1-.8 1-.8 1-1.3 1-.6 1-1.4 1-1.3 1-1.7 1-1.3 1-.9 1-.6 1-1.1 1-1 1-.9 1-.3 1 .3 1-.4" fill="none" stroke="#0a14ee" stroke-width="3.5" stroke-linejoin="round" clip-path="url(#cP1)"/><line x1="71.5" y1="110.5" x2="525.5" y2="110.5" stroke="#000" stroke-width="1.6" stroke-dasharray="4.5,3"/><line x1="76.5" y1="37.5" x2="95" y2="37.5" stroke="#ff3030" stroke-width="1" stroke-dasharray="4,2"/><text transform="translate(96.5,40.5) scale(1.12,1)" font-size="8.2" text-anchor="start" fill="#ff0000">t  cs</text><line x1="76.5" y1="45.5" x2="95" y2="45.5" stroke="#00a000" stroke-width="1" stroke-dasharray="4,2"/><text transform="translate(96.5,48.7) scale(1.12,1)" font-size="8.2" text-anchor="start" fill="#00a000">t  HT</text><text transform="translate(96.5,57) scale(1.12,1)" font-size="8.2" text-anchor="start" fill="#00ff00">t  MVAB</text><line x1="76.5" y1="61.2" x2="95" y2="61.2" stroke="#a0a0a0" stroke-width="2.5" stroke-dasharray="6,1"/><text transform="translate(96.5,64) scale(1.12,1)" font-size="8.2" text-anchor="start" fill="#b0b0b0">t  BLminmax</text><line x1="76.5" y1="69.5" x2="95" y2="69.5" stroke="#4040ff" stroke-width="1" stroke-dasharray="4,2"/><text transform="translate(96.5,72.1) scale(1.12,1)" font-size="8.2" text-anchor="start" fill="#0000ff">BL, 50% of BL</text><line x1="76.5" y1="77.5" x2="95" y2="77.5" stroke="#4040ff" stroke-width="1"/><text transform="translate(96.5,80.3) scale(1.12,1)" font-size="8.2" text-anchor="start" fill="#0000ff">BL, brst</text><line x1="76.5" y1="83.8" x2="95" y2="83.8" stroke="#a0a0a0" stroke-width="1.6"/><text transform="translate(96.5,86.7) scale(1.12,1)" font-size="8.2" text-anchor="start" fill="#808080">|B|</text><path d="M71.8 239l.8-.1 .8-1.7 .8 .7 .8-.6 .8 .1 .8 .4 .8 .2 .8 0 .8 0 .8-.3 .8-.3 .8-.8 .8 .3 .8 1.3 .8-.1 .8 .6 .8-.7 .8-1 .8 .5 .8-.6 .8-.8 .8-1.3 .8-.6 .8-.9 .8-.7 .8-1.8 .8-1.1 .8-2.5 .8-.7 .8-1.1 .8-1.5 .8-1.7 .8-1.6 .8-2.5 .8-1.4 .8-1 .8-1.9 .8-1.3 .8-1.7 .8-.9 .8-.4 .8 0 .8 .7 .8-.9 .8 0 .8-.6 .8 1.7 .8 2.1 .8 .3 .8-1.6 .8-.9 .8-.5 .8-1.4 .8 .3 .8-1.8 .8-.4 .8-.6 .8-.7 .8-1.2 .8-.7 .8-.5 .8-1.1 .8-.8 .8-.3 .8-.7 .8-.9 .8-.7 .8 .9 .8 1.1 .8 1.3 .8 1.4 .8 2.2 .8-.4 .8-.8 .8-.7 .8-.3 .8 .7 .8-.1 .8 1 .8 1.3 .8 .7 .8 1.4 .8 .2 .8-.1 .8-1.1 .8-.5 .8-.7 .8-1 .8 .7 .8 .7 .8 .6 .8-1.6 .8-.2 .8 2.6 .8 1.9 .8 2.2 .8 3.2 .8 4.5 .8 5.2 .8-1.4 .8-3.5 .8-3.4 .8-1.8 .8-3 .8 .5 .8 1.8 .8-1.6 .8-2.8 .8-2.6 .8-2.5 .8-1.2 .8 .2 .8 1.3 .8 1.5 .8 4.6 .8 5.3 .8 4 .8 3.3 .8 2.3 .8 1.2 .8-1.5 .8-1.2 .8-2.8 .8-2.8 .8-3.4 .8-3.3 .8-1.9 .8-2.2 .8-.9 .8-.8 .8-1.2 .8-1 .8-.7 .8-1.7 .8-.9 .8 .2 .8 3.6 .8 3.5 .8-.3 .8 .7 .8 4.9 .8 2.1 .8 3.8 .8 3.4 .8 .3 .8 1.5 .8 1.3 .8 1.7 .8 .9 .8 .8 .8-1.7 .8-3.7 .8-2.9 .8-.4 .8-1.4 .8-2.7 .8-4.6 .8-1.4 .8-.3 .8 .7 .8 2.3 .8 3 .8 2.6 .8 3.4 .8 .5 .8-.1 .8-.2 .8-1.5 .8-.8 .8-.3 .8-.5 .8 .8 .8 .6 .8 .5 .8 0 .8-1 .8-1 .8 .1 .8 .5 .8 .2 .8 .5 .8 1.6 .8 1.3 .8 .7 .8-.1 .8 1 .8-.5 .8-1.1 .8-.8 .8-.6 .8 .1 .8-.8 .8-1.4 .8 .6 .8 .5 .8 .8 .8 1.1 .8 .8 .8-.1 .8-.7 .8-1.9 .8-1.1 .8-1 .8 0 .8-.5 .8-1.3 .8-.4 .8-.8 .8-1.3 .8-.7 .8 .2 .8-.5 .8-1 .8-1.5 .8 .6 .8-.6 .8 1.4 .8 1.8 .8 1.3 .8 3.3 .8 3.4 .8 3.2 .8 3.1 .8 2.5 .8-1.7 .8-.8 .8-3.2 .8-4 .8-2.6 .8-2 .8-3.1 .8-2.9 .8-3.5 .8-4.3 .8-3.3 .8 2.6 .8 3.2 .8 3.4 .8 3.4 .8 2.4 .8 1.2 .8 1.7 .8-.9 .8-.6 .8-1.9 .8-2.8 .8-1.3 .8-.4 .8-.2 .8 1.1 .8 1.6 .8-.1 .8 .2 .8-.9 .8-1.6 .8-1.9 .8-.4 .8-.3 .8-.4 .8 .3 .8-.7 .8 .2 .8 .2 .8 .5 .8 .2 .8-.6 .8 .5 .8 0 .8 .3 .8-.3 .8-.5 .8-.3 .8 .1 .8 .1 .8-.8 .8-.1 .8 0 .8-.4 .8-.3 .8-.9 .8-.3 .8-.8 .8 .7 .8 .2 .8-1.2 .8 0 .8 .5 .8-.3 .8-.5 .8 1.3 .8-.6 .8 1.2 .8-.2 .8 .4 .8 .8 .8 .4 .8 .7 .8 0 .8-1 .8-.3 .8-1 .8-.9 .8-.9 .8-.9 .8-.8 .8-.4 .8-.7 .8-.6 .8 .5 .8-.3 .8 .3 .8 .2 .8-.7 .8 .3 .8 .9 .8-.4 .8 1.3 .8-.3 .8 1.4 .8 .2 .8 1 .8-.6 .8-1.6 .8-1.1 .8-1.4 .8-.5 .8-.8 .8 0 .8 .3 .8 .6 .8 .5 .8 1.8 .8 1 .8 .2 .8 .5 .8-.8 .8-1.1 .8-.5 .8-2 .8-2.4 .8-2.8 .8-2.8 .8-2.3 .8-.4 .8-.4 .8 .1 .8 1.1 .8 1.6 .8-.1 .8-.9 .8-.8 .8-1.4 .8 .1 .8-.3 .8 1 .8 1.1 .8-.4 .8-.6 .8-1.7 .8 0 .8-.3 .8-.2 .8-.2 .8-.8 .8 .3 .8-.7 .8-1 .8-.6 .8-1.2 .8-.9 .8 .4 .8-.2 .8-.3 .8-.8 .8 0 .8 1.1 .8 1.1 .8 1.2 .8 .1 .8 .8 .8 1.2 .8 1.1 .8 3 .8 5 .8 2.3 .8-1 .8-.8 .8-.8 .8-.3 .8 2.2 .8 1.4 .8 4.6 .8 5.4 .8 .2 .8 0 .8-.4 .8-.3 .8 .6 .8 .5 .8 .7 .8-.9 .8 .1 .8 .2 .8 .2 .8 .1 .8 1 .8 .1 .8-1.6 .8 .6 .8-.6 .8-.5 .8-1.1 .8-.6 .8-.4 .8 .5 .8 .5 .8 .3 .8-.3 .8-.8 .8-1.5 .8 .7 .8 .4 .8 1.1 .8 1 .8 .3 .8 .2 .8 1.8 .8 .1 .8-.7 .8-1.8 .8-1.2 .8 1.5 .8-1.2 .8-.7 .8-.8 .8-1.1 .8-.7 .8-1 .8-.2 .8-.9 .8 .3 .8 .1 .8-1.5 .8-1.6 .8-1.8 .8-2.7 .8-1.7 .8-2.5 .8-2.3 .8-2.8 .8-1.6 .8 1.7 .8 1.2 .8 .7 .8 1.3 .8 0 .8-.6 .8-.5 .8-.7 .8 0 .8 .2 .8-.3 .8 0 .8 .5 .8-.6 .8 .2 .8-1.1 .8 .9 .8-.1 .8 .9 .8-1.1 .8 .5 .8 1.2 .8-.4 .8 .1 .8-.1 .8 0 .8 1 .8 .2 .8 1.1 .8 .3 .8-1.2 .8-1.1 .8-.6 .8-.6 .8-1.3 .8-.9 .8 .5 .8 .7 .8 .7 .8-.2 .8 .3 .8 .3 .8-.9 .8 .8 .8 0 .8-.3 .8-.4 .8 .9 .8 1.2 .8 .5 .8 1 .8 2.1 .8 2.6 .8 1.1 .8 .8 .8 1.4 .8 2.1 .8 2.5 .8 2.2 .8 2.4 .8 1.8 .8 2.6 .8-2.2 .8-3.7 .8-.8 .8-2.2 .8-1.2 .8-1.3 .8-.2 .8 2.1 .8 1.3 .8-1.3 .8 .9 .8 0 .8 .5 .8-.1 .8 1.2 .8 1 .8 1.8 .8 1.8 .8 .2 .8 .7 .8 0 .8 .3 .8 .9 .8 .9 .8 .7 .8 .7 .8 1.3 .8 .2 .8-.1 .8 .9 .8 .4 .8 .1 .8 .6 .8 1.1 .8-1.4 .8-1.5 .8-2.2 .8-1.4 .8-2 .8-2.9 .8-1.4 .8-.1 .8 1.6 .8-.7 .8-1.5 .8-1.5 .8-.3 .8-1.1 .8 0 .8-.5 .8 1.1 .8 .6 .8 1.6" fill="none" stroke="#33ee33" stroke-width="0.9" stroke-linejoin="round" clip-path="url(#cP2)"/><path d="M71.8 211.3l.8 .3 .8 .3 .8 .5 .8 1.1 .8-1.2 .8 .4 .8-.4 .8-1 .8-.7 .8-.1 .8-.3 .8-.2 .8-.2 .8 1.1 .8-1.1 .8-2.9 .8-2.9 .8 1 .8 1.1 .8 .6 .8-.1 .8 1.1 .8-.1 .8 .1 .8 .3 .8 1.5 .8-.1 .8 .1 .8 1.3 .8 2.6 .8 .8 .8 2.2 .8 1.5 .8-.5 .8 2.1 .8-1.8 .8-1.5 .8-1.8 .8-2.1 .8-5 .8-5.7 .8-1.6 .8-.4 .8 .5 .8 .5 .8 2 .8 3.2 .8-.5 .8-3.7 .8-2.3 .8-.5 .8-.3 .8 1.7 .8 .7 .8 2.4 .8 2.3 .8 1 .8 2.3 .8 2.7 .8-.1 .8 1 .8 1.1 .8 .5 .8 .4 .8 .5 .8-.4 .8-1.2 .8-1.1 .8-1.5 .8-2.5 .8 1.6 .8 .9 .8 .6 .8 .3 .8-.9 .8-1.8 .8-1.8 .8-1.3 .8-.1 .8 1 .8 1.1 .8 1.1 .8 .9 .8 2.7 .8 .3 .8-.2 .8 .2 .8-1.3 .8 1.1 .8 .5 .8 1.3 .8 .5 .8-.1 .8-1.7 .8-1.1 .8-1.7 .8 .1 .8-4.4 .8-5.2 .8 .7 .8 4.2 .8 4.9 .8 4.2 .8 0 .8 1 .8 .6 .8 .3 .8 .8 .8 1.8 .8 4.3 .8 2.9 .8-2.4 .8-1.7 .8-2.4 .8-2.2 .8-.3 .8 .9 .8-1.2 .8-1.7 .8-1.4 .8 .4 .8 .6 .8 .8 .8 0 .8 1.9 .8 3.3 .8 2.6 .8 1.9 .8 2.5 .8-.1 .8 .6 .8 .4 .8 .9 .8-1 .8-.6 .8 .9 .8 3.1 .8 2.3 .8-1.2 .8 .4 .8-3.9 .8-2.1 .8-2.5 .8-3.2 .8-2.1 .8-3.9 .8-2.2 .8-1.9 .8-3.6 .8-3.4 .8-1 .8-2 .8-.5 .8-1.2 .8-1.7 .8 4.5 .8 4.1 .8 2.2 .8 2.1 .8 .5 .8-1.8 .8-.5 .8-2.2 .8-1.5 .8-.4 .8-.6 .8-1.2 .8 .1 .8-.3 .8-1 .8-.3 .8-.2 .8-.5 .8-.9 .8-.3 .8 .8 .8 1.1 .8 2.7 .8 4.3 .8 4 .8 .7 .8 .6 .8-2.4 .8-4.4 .8-.8 .8 1.8 .8-.2 .8-.2 .8-1.2 .8-.2 .8 .1 .8-.6 .8-.6 .8 0 .8 .9 .8-.2 .8 .9 .8 .7 .8 .6 .8-.1 .8 0 .8-.5 .8-.5 .8 .5 .8-.3 .8-.2 .8-1.9 .8 1.9 .8 7.7 .8 2.2 .8 .7 .8 .9 .8 1 .8 .3 .8 .6 .8 .2 .8 .4 .8 .6 .8 2.7 .8 1.4 .8 .2 .8-3.2 .8-3.3 .8-2.7 .8-2.1 .8-2.5 .8-.9 .8-2 .8-2.5 .8-2.3 .8-2.4 .8-1.9 .8 3.1 .8 2.2 .8 3.8 .8 3.5 .8 1 .8-1.9 .8 .3 .8-.1 .8 .4 .8-4.8 .8-5.1 .8 0 .8 .8 .8 .7 .8-.5 .8 .2 .8 .1 .8-.1 .8 1.7 .8 2.1 .8-1.3 .8-2.6 .8-.9 .8-1.1 .8-.8 .8-1.2 .8-.3 .8-1.9 .8-1.8 .8-.5 .8 .6 .8-1.6 .8-.9 .8 .3 .8 .6 .8 .5 .8 1.4 .8-.2 .8 1.1 .8 .4 .8 1.7 .8-.1 .8 1.3 .8-.3 .8 .4 .8-.5 .8 .1 .8 .3 .8 .6 .8-.7 .8-.5 .8 .9 .8-.1 .8-.6 .8 .3 .8 0 .8 0 .8-.8 .8 .7 .8-.2 .8 .4 .8-.5 .8-.6 .8 .2 .8-.2 .8-1.2 .8-.5 .8-.2 .8 .4 .8 .1 .8-.1 .8 .4 .8 .9 .8 .6 .8-.1 .8 .7 .8 .2 .8-1.2 .8-.4 .8-.5 .8 .1 .8-.4 .8-.2 .8-.7 .8-.5 .8-.8 .8-1 .8-.6 .8-2 .8-.2 .8-.4 .8 1.4 .8 1.5 .8 .4 .8 1 .8 1.1 .8 1.6 .8 .9 .8 .3 .8-.1 .8-1.2 .8-1.8 .8-.9 .8-.1 .8-.1 .8 .4 .8 0 .8 .9 .8 .7 .8 3.5 .8 2 .8 3.2 .8 2.2 .8 1.2 .8-2.6 .8-2.8 .8-2.9 .8-3.2 .8 1.9 .8 2 .8 4.3 .8 .6 .8-2.4 .8-2.9 .8 1.3 .8 .5 .8 2 .8 .3 .8 1.4 .8 .4 .8-.3 .8-1 .8 .2 .8 .5 .8-1.1 .8 1 .8-.7 .8 .9 .8-.2 .8 2.5 .8 1.6 .8 2.2 .8 2 .8 1.6 .8 1.8 .8 1.4 .8 1.7 .8 .7 .8-.1 .8 .8 .8 3.4 .8 2.5 .8-1.4 .8-.1 .8 .3 .8-.2 .8 4.8 .8 4.9 .8-.4 .8-.3 .8-1.1 .8-.8 .8 .5 .8 1.3 .8 .7 .8 .1 .8-.9 .8-1.2 .8-.3 .8 .4 .8 .7 .8 .2 .8 1.3 .8-.7 .8 .8 .8-.5 .8-.9 .8-1.4 .8-.3 .8 .1 .8 .1 .8-.3 .8-.5 .8-.3 .8 0 .8-1.4 .8 .4 .8 0 .8-1.3 .8 .5 .8-.5 .8-1.2 .8-.4 .8-.8 .8-1.6 .8-.9 .8-1.6 .8-.6 .8-.1 .8-.4 .8 .6 .8-.3 .8-.1 .8 1 .8-.3 .8-.7 .8-.7 .8-.9 .8-.7 .8-.1 .8-1 .8 .3 .8 .8 .8 .4 .8 .3 .8 .5 .8 .6 .8-.4 .8-1 .8-1.2 .8-.6 .8-.7 .8-1.7 .8-1 .8-1 .8 .2 .8-.6 .8-.2 .8-.3 .8 .9 .8-1 .8-.6 .8-.3 .8 0 .8-.3 .8-.7 .8-1 .8 .8 .8-.3 .8-.3 .8-.4 .8-.4 .8-.3 .8-2.1 .8-1.2 .8-2.7 .8-2.2 .8 1.2 .8 2.2 .8 1.1 .8 .6 .8 .3 .8-.6 .8-.1 .8 .4 .8-.9 .8-.2 .8-.4 .8 0 .8-.8 .8 .6 .8-.2 .8-1.1 .8 .5 .8-.3 .8 .1 .8-.4 .8-.7 .8-.6 .8-.6 .8-.9 .8-.9 .8 .3 .8-1.1 .8-1.1 .8-.1 .8-.5 .8-1 .8 0 .8 .2 .8 .1 .8 1.4 .8 1.1 .8 1.2 .8 1 .8 .5 .8 .1 .8-.3 .8-1 .8-1 .8-.4 .8-.5 .8 .2 .8-.5 .8 .9 .8 .2 .8 .5 .8 0 .8 .7 .8-.3 .8 .7 .8 .2 .8 .4 .8-.1 .8 .7 .8-.2 .8 .8 .8 0 .8 .5 .8-.5 .8 .6 .8 .2 .8-.9 .8 .1 .8-1.6 .8-1.6 .8 1.2 .8 .4 .8-.8 .8 2.4 .8 2.7 .8 2.7 .8 1.3 .8 1.8 .8-.2 .8-1.3 .8-.1 .8-.9 .8-1.8 .8-.9 .8-1.1 .8-1.6 .8-1.2 .8-1.2" fill="none" stroke="#ff2020" stroke-width="0.9" stroke-linejoin="round" clip-path="url(#cP2)"/><path d="M71.8 190.3l.8-.6 .8-.4 .8-1.2 .8 1.7 .8 .5 .8 2.6 .8 .8 .8-.9 .8-1 .8 .1 .8 .1 .8 .5 .8 .4 .8-1.6 .8-.7 .8-.8 .8-.1 .8-.2 .8 0 .8-.4 .8-.1 .8-.2 .8 .1 .8-.6 .8 .5 .8 .5 .8-.6 .8 .3 .8 1.1 .8-1.1 .8 0 .8 .7 .8 1.2 .8 .9 .8-.4 .8 1.5 .8 2.6 .8 2.8 .8 1.7 .8 1.8 .8-1.5 .8-.3 .8-.4 .8 .2 .8 .9 .8 .3 .8 1.8 .8 2.1 .8 .4 .8 1.1 .8 1 .8-.4 .8 .4 .8 .1 .8 1.2 .8 .2 .8 1.1 .8 .5 .8 1.3 .8 1.2 .8 3.1 .8 2.5 .8 1.4 .8 2.4 .8 1.5 .8 2.1 .8 .7 .8 1.5 .8 1.2 .8-.3 .8 1.4 .8 1.2 .8-.2 .8-.3 .8 1.4 .8-.6 .8-1.2 .8-1.1 .8-.5 .8-.4 .8-.8 .8 .6 .8 .1 .8 .8 .8-.2 .8 1.5 .8 .2 .8 1.4 .8 .2 .8 1.6 .8-.1 .8-1.1 .8-.1 .8-.3 .8 .6 .8 .9 .8 .5 .8-.5 .8-.9 .8 1.5 .8 3.7 .8 1.8 .8-5.7 .8-4.7 .8-.5 .8-.5 .8 2 .8 1.6 .8-.3 .8-2.9 .8-1.9 .8 .1 .8 .4 .8-1 .8 .2 .8-.9 .8-.4 .8-1.2 .8-1 .8-.4 .8-.6 .8-1 .8 .8 .8 1.5 .8 1.1 .8 2.7 .8 1.4 .8 1.3 .8-1.7 .8-2.4 .8-4 .8-3.8 .8-3.8 .8-4.4 .8-4.3 .8 5.9 .8 5.8 .8 5.8 .8 6.4 .8 3.5 .8 3.1 .8 1.1 .8-.1 .8-.5 .8-.7 .8-3.6 .8-3.4 .8-3.4 .8-2.4 .8-3.1 .8-3.9 .8-2.4 .8 2.1 .8-.2 .8-6.3 .8-7.3 .8 1.9 .8 4.2 .8 2.9 .8 2.9 .8 1.3 .8 .9 .8 .3 .8 .9 .8-1.4 .8-2.5 .8-1.1 .8-1.3 .8-.7 .8-.7 .8 0 .8-1.2 .8 .3 .8-.4 .8-.6 .8 .7 .8 .6 .8 2.4 .8 3.2 .8 2.7 .8 .6 .8 .8 .8-1.3 .8-1.9 .8-1.1 .8-.9 .8-.9 .8 1.8 .8-.2 .8 2.5 .8 2.3 .8-.6 .8-.6 .8-1.3 .8-1.3 .8-.5 .8 0 .8-1.5 .8 .1 .8-.6 .8 .8 .8 .6 .8 .8 .8 .3 .8 2.1 .8 1.1 .8 2.8 .8 3 .8 1.7 .8-.5 .8-1.3 .8-2 .8-.7 .8 .2 .8 1.1 .8 1 .8-3.3 .8-2.6 .8 4.1 .8 6.3 .8 4.4 .8 1.9 .8-1.3 .8-2.3 .8-3 .8-3.7 .8-4.3 .8-3.2 .8-4.3 .8-2.6 .8-2.3 .8-2.2 .8-.8 .8-1.2 .8 4.4 .8 5.3 .8 3.4 .8 2.2 .8 1.3 .8-1.3 .8-1.1 .8 .9 .8 0 .8-1.3 .8-1.6 .8-2.4 .8-3.4 .8-2 .8-1.9 .8-.6 .8 1.7 .8 1.9 .8-1.1 .8-1.2 .8-.7 .8-1 .8-1 .8-.9 .8-1.8 .8-.5 .8 .2 .8-.3 .8 .2 .8-.2 .8 .7 .8-.7 .8 0 .8-1.5 .8-.7 .8 .2 .8 .1 .8-.3 .8-.6 .8-.2 .8-.3 .8-1.1 .8-.5 .8 .7 .8 .9 .8 .6 .8-.1 .8 .5 .8-.7 .8-.9 .8-.8 .8-.5 .8-.6 .8-.3 .8-.9 .8-1.3 .8-.5 .8 .2 .8-.6 .8-.7 .8 .7 .8 3 .8 2.3 .8 1.2 .8 0 .8-1 .8-.6 .8-.6 .8 .4 .8-.4 .8-1.2 .8-.3 .8 .3 .8 .7 .8 .5 .8-.2 .8-.2 .8-.2 .8-.8 .8-1.5 .8-.1 .8-.1 .8 .6 .8 .3 .8-1.2 .8-.6 .8-.5 .8-.9 .8-1.4 .8-.9 .8 .5 .8 .2 .8 .4 .8-1 .8-.4 .8-.2 .8 1.2 .8-.6 .8 .3 .8 1 .8-1.7 .8-1.3 .8-.7 .8-1.7 .8 .3 .8-.8 .8-.1 .8 0 .8 1.2 .8 .7 .8 .8 .8 1.4 .8 .7 .8 .2 .8-1.3 .8-.5 .8-.1 .8-.6 .8-.3 .8 .7 .8 1.4 .8-1 .8-1.3 .8-.6 .8 .2 .8-.1 .8-.4 .8 .5 .8-.1 .8 .1 .8 .9 .8-.1 .8 .3 .8-.1 .8-1 .8-.1 .8 0 .8 .4 .8 .5 .8-.2 .8 .8 .8 .9 .8 1 .8-.6 .8 1.8 .8 .2 .8 .4 .8 1.7 .8 0 .8 .6 .8 1 .8 .4 .8-.8 .8-.7 .8-.6 .8 .1 .8 .6 .8 2.4 .8 .3 .8-.6 .8 0 .8-.6 .8-.8 .8 .8 .8-.5 .8 1.1 .8 .6 .8-.3 .8 1.3 .8 .2 .8 .7 .8 .2 .8 1.4 .8-.4 .8-2.3 .8-.9 .8-.6 .8 .5 .8 1.7 .8 .2 .8 .5 .8 .9 .8-1.1 .8 .7 .8-2.1 .8-.6 .8 1.5 .8 .7 .8 .3 .8 .5 .8 1.1 .8-.8 .8-.8 .8-.8 .8-.5 .8 1.5 .8 .3 .8 2.1 .8 1.1 .8 1 .8 .5 .8 1.3 .8-.3 .8 1.1 .8 .2 .8 .8 .8-.2 .8 .5 .8 .2 .8 2.5 .8 1.7 .8 .3 .8 .6 .8 .6 .8 2 .8 1.2 .8 1.7 .8 2 .8 .4 .8-.3 .8 .5 .8 .7 .8 1 .8 1 .8 .7 .8 .5 .8-.5 .8 0 .8 .8 .8 .3 .8 .3 .8-.3 .8 0 .8 1 .8 .8 .8 .1 .8 0 .8-.3 .8 .1 .8 1.7 .8-.1 .8 1.3 .8 1.5 .8 1.5 .8 .8 .8 1.2 .8 .2 .8 .1 .8 .1 .8 .5 .8-.2 .8 1.3 .8 0 .8 .1 .8 .9 .8 .6 .8 .1 .8 0 .8 .1 .8-.6 .8 .1 .8 0 .8-1.8 .8-.4 .8-1.8 .8 0 .8 1.4 .8 .9 .8 1.9 .8 .3 .8 0 .8-.7 .8 1.7 .8-.6 .8-.5 .8-.4 .8-.7 .8-1 .8-.8 .8 .4 .8 1.8 .8 1.1 .8 1.3 .8 1 .8 1.3 .8 1.2 .8-.8 .8-.1 .8-.1 .8-1.5 .8 .4 .8-.8 .8-.8 .8-1.6 .8-2.3 .8-1.7 .8-.6 .8-1.4 .8-1.2 .8 .1 .8-2.2 .8-1.1 .8-.5 .8-1.4 .8-.6 .8-.8 .8-.4 .8-.1 .8-1 .8-1.3 .8-.5 .8-.3 .8 .5 .8 .8 .8 1 .8 .6 .8 .4 .8 .6 .8-1.3 .8-1.5 .8-2 .8-2 .8-2.5 .8-1.4 .8-1.6 .8-1.4 .8 .4 .8 1.5 .8 1.5 .8 1.1 .8 .8 .8 1.4" fill="none" stroke="#2a2aff" stroke-width="0.9" stroke-linejoin="round" clip-path="url(#cP2)"/><line x1="71.5" y1="212.3" x2="525.5" y2="212.3" stroke="#000" stroke-width="1.5" stroke-dasharray="4.5,3"/><line x1="180.1" y1="176.5" x2="180.1" y2="244" stroke="#ff00ff" stroke-width="1.4" stroke-dasharray="1.5,2"/><line x1="339.2" y1="176.5" x2="339.2" y2="244" stroke="#00a000" stroke-width="2.4" stroke-dasharray="11,4"/><line x1="348.5" y1="176.5" x2="348.5" y2="244" stroke="#0000ff" stroke-width="1" stroke-dasharray="1.5,2"/><line x1="378.5" y1="176.5" x2="378.5" y2="244" stroke="#ff0000" stroke-width="1" stroke-dasharray="7.5,2.5"/><line x1="378.5" y1="176.5" x2="378.5" y2="244" stroke="#ff00ff" stroke-width="1" stroke-dasharray="1.5,2"/><line x1="457.5" y1="176.5" x2="457.5" y2="244" stroke="#ff0000" stroke-width="1" stroke-dasharray="7.5,2.5"/><line x1="496.5" y1="176.5" x2="496.5" y2="244" stroke="#00a000" stroke-width="1" stroke-dasharray="6,3"/><line x1="77.5" y1="188.5" x2="95" y2="188.5" stroke="#4040ff" stroke-width="1"/><text transform="translate(97,191.6) scale(1.12,1)" font-size="9" text-anchor="start" fill="#0000ff">B<tspan font-size="6.5" dy="2.5">L</tspan></text><text transform="translate(97,215) scale(1.12,1)" font-size="9" text-anchor="start" fill="#00ee00">B<tspan font-size="6.5" dy="2.5">M</tspan></text><line x1="77.5" y1="233.9" x2="95" y2="233.9" stroke="#ff7070" stroke-width="1.2"/><text transform="translate(97,237.3) scale(1.12,1)" font-size="9" text-anchor="start" fill="#ff0000">B<tspan font-size="6.5" dy="2.5">N</tspan></text><path d="M71.7 324.4l.8 1.9 .8 1.8 .8 .9 .8 2.4 .8 1.3 .8 .3 .8-2.4 .8-1.7 .8-3 .8 .1 .8-1.3 .8-1.9 .8 1.9 .8 2 .8 1.2 .8 2.5 .8 .1 .8 .6 .8 .3 .8-1.5 .8-1.4 .8 7.6 .8 8.9 .8 12 .8 7 .8 1.6 .8 1.8 .8 .9 .8 .3 .8-.1 .8 .3 .8-.3 .8 .1 .8-.1 .8-.8 .8-.4 .8-1.5 .8-.8 .8-2.9 .8 1 .8 1.9 .8 1.4 .8 .6 .8 1.4 .8 .2 .8 1 .8 1.2 .8 1.2 .8 .5 .8-.1 .8 .9 .8 .2 .8 .8 .8-.6 .8-.1 .8-1 .8-.3 .8-.9 .8-.7 .8-.2 .8-.8 .8-.4 .8-.8 .8 .4 .8 0 .8 1.3 .8 .9 .8 0 .8 1.5 .8 .7 .8-.2 .8-.3 .8 .4 .8 1.2 .8 1.4 .8-.3 .8-.9 .8-1.5 .8-1.2 .8-.5 .8-.5 .8 1 .8 1 .8 .4 .8 .2 .8-1.8 .8-1 .8-1.4 .8-2.4 .8-.8 .8-.8 .8-.4 .8-1.2 .8-.5 .8 .1 .8 .4 .8 .4 .8-.5 .8 1 .8 2.6 .8 1.2 .8 1.7 .8 1.3 .8 .8 .8 1 .8 2.4 .8 1.2 .8-.4 .8-.8 .8-.3 .8-.7 .8-.4 .8-1 .8-.9 .8-.5 .8 0 .8-.8 .8 1.9 .8 .9 .8-.1 .8 .8 .8-.5 .8-.7 .8-.4 .8-1 .8-.2 .8-1.3 .8-1.9 .8-2.5 .8-.1 .8 .2 .8-.3 .8 .5 .8 .8 .8 .7 .8 .6 .8 1 .8 1.5 .8 .6 .8 .8 .8 1 .8-.8 .8-.6 .8 .1 .8 .8 .8-1.6 .8 1.1 .8-.4 .8-.9 .8-1.8 .8-1.9 .8-3.2 .8-2.7 .8-.6 .8-2.3 .8-1.5 .8-.1 .8 .1 .8 .4 .8-.1 .8 .2 .8-.6 .8-.8 .8-.7 .8-.7 .8-1.1 .8-1.4 .8-.1 .8-1.3 .8 .7 .8 .7 .8-.4 .8 2.5 .8-.2 .8 .8 .8 1.4 .8 .4 .8 .8 .8 .3 .8 .9 .8-.4 .8-.3 .8-.9 .8 .3 .8-1 .8-.7 .8 1.2 .8-1.2 .8-.3 .8 .1 .8 .9 .8-.8 .8 .8 .8 .6 .8 1.7 .8 .1 .8 1.2 .8 .6 .8 2.4 .8 .1 .8 .3 .8-1.1 .8-1.7 .8-.8 .8-1.7 .8-.7 .8-2.7 .8-2 .8-1.4 .8-2.9 .8-.2 .8-1.3 .8-2.5 .8-.7 .8 .2 .8 1 .8 .2 .8 .2 .8 1.2 .8 0 .8 .6 .8 .8 .8 .3 .8-2.8 .8-3.6 .8-1.6 .8-3.1 .8-2.7 .8-4.3 .8-3.1 .8-4.2 .8-3.6 .8-.7 .8-1.7 .8 1.7 .8 .6 .8 .2 .8 1.5 .8 .5 .8 .2 .8 0 .8 .6 .8 .2 .8 1.1 .8 1.3 .8 1.2 .8 1.4 .8 2.4 .8 1.9 .8 2 .8 3.2 .8 2.6 .8 .2 .8 1.3 .8 .7 .8 .1 .8 .2 .8-1.4 .8-.9 .8-2.7 .8 .4 .8-1.2 .8-2 .8-.3 .8-1.7 .8 .3 .8 1.1 .8 1 .8 .3 .8 .9 .8 .2 .8-.3 .8 1.4 .8-.2 .8 0 .8 .7 .8-.1 .8-.5 .8 .7 .8-.5 .8 .3 .8 .2 .8 .4 .8 .9 .8-.4 .8 .2 .8 .2 .8 .4 .8 1 .8 .3 .8-.1 .8 .6 .8 .5 .8 1.4 .8-.6 .8 1.1 .8-.4 .8 1.1 .8 1.3 .8-1 .8 .7 .8-1.6 .8 .6 .8-.9 .8 .2 .8-.4 .8 .2 .8-.6 .8-.4 .8-.9 .8-.1 .8-1.2 .8-.5 .8-.5 .8-.1 .8 .2 .8-.7 .8 1.7 .8-.5 .8 1 .8 1.3 .8 .8 .8 .8 .8 1 .8-.1 .8 1.2 .8 .3 .8-.7 .8 1.7 .8 1.6 .8 1.6 .8 1.5 .8 1 .8 2 .8 .4 .8 .3 .8-.2 .8-1.5 .8 .5 .8-1.1 .8-2.5 .8-2 .8-2 .8-2 .8-1.1 .8-1.9 .8-1.2 .8 .5 .8 1.6 .8-.8 .8 1 .8 .8 .8 .7 .8 1 .8-.1 .8 1.9 .8-1.1 .8 .8 .8 .6 .8 0 .8 1 .8 .4 .8 .3 .8 .2 .8 1 .8 1.6 .8 .7 .8 1.3 .8 1 .8 1.1 .8 .9 .8 .5 .8 .4 .8 .5 .8-3.4 .8-4.7 .8-4.4 .8-2.1 .8-1.2 .8 .3 .8 .5 .8-.9 .8 2.1 .8 3.2 .8-1.9 .8-.2 .8-1.5 .8-.4 .8 2.1 .8 1.7 .8 1.3 .8 1.2 .8 1.3 .8 .4 .8 .5 .8-.3 .8 .9 .8 .9 .8 0 .8 .9 .8-.7 .8 .8 .8 .2 .8 1.4 .8-.2 .8 .4 .8-.1 .8 .8 .8 0 .8-.2 .8 .8 .8-1.8 .8 0 .8-.7 .8 .6 .8-1.2 .8 .1 .8 .7 .8 .6 .8-.5 .8-.3 .8-.7 .8-.4 .8 1.7 .8-.1 .8 .4 .8-.6 .8-.5 .8 .5 .8-.6 .8-1.9 .8-.1 .8-.7 .8-1.4 .8 .2 .8-.7 .8 .2 .8-.3 .8-.9 .8 1.5 .8 1.3 .8 .2 .8-1 .8-.4 .8-.9 .8-.1 .8-1.4 .8 .5 .8-.8 .8-.5 .8-1 .8-.8 .8-.9 .8-.9 .8-2 .8 .6 .8-.8 .8-.8 .8 1.6 .8-.8 .8-.9 .8 .8 .8-.2 .8-.5 .8 .3 .8-1.5 .8 .6 .8-1.1 .8 1.5 .8 .8 .8 .3 .8 2.2 .8-1.2 .8 1.4 .8 2 .8 1.5 .8 2.5 .8 .9 .8 4 .8 2.4 .8 3.8 .8 1.3 .8 .2 .8 .8 .8 .2 .8 .6 .8 0 .8-1.3 .8 .2 .8 .2 .8-.4 .8 .4 .8 .1 .8-2.2 .8 .4 .8 0 .8-3.5 .8-3.8 .8-2.8 .8-2.8 .8-2.3 .8-4.2 .8-1 .8 .3 .8-.3 .8-.8 .8-.2 .8-.2 .8 .6 .8 .9 .8 1.3 .8 .6 .8 .7 .8 .4 .8 .4 .8 .3 .8 .1 .8 1.4 .8-.2 .8-.1 .8 1.7 .8 .5 .8 1.7 .8-.5 .8 .9 .8 0 .8 1.5 .8 .7 .8 .5 .8 1.4 .8 .2 .8 1.8 .8 .5 .8 1.1 .8-.2 .8 .5 .8 .7 .8 .8 .8 .1 .8-.7 .8 1 .8-1.2 .8-.4 .8-.6 .8-.9 .8-1.5 .8-.7 .8-.5 .8-.7 .8-1.7 .8-.9 .8-1.1 .8-.3 .8-1.3 .8 .9 .8-1 .8-.3 .8-.6 .8-.6 .8-.7 .8 1.9 .8-.3 .8-.9 .8 2.3" fill="none" stroke="#222" stroke-width="0.9" stroke-linejoin="round" clip-path="url(#cP4)"/><line x1="180.1" y1="312.8" x2="180.1" y2="381.3" stroke="#ff00ff" stroke-width="1.4" stroke-dasharray="1.5,2"/><line x1="258.5" y1="320" x2="258.5" y2="381.3" stroke="#00aaff" stroke-width="1" stroke-dasharray="1.5,1.5"/><line x1="339.5" y1="312.8" x2="339.5" y2="381.3" stroke="#00a000" stroke-width="1" stroke-dasharray="6,3"/><line x1="348.5" y1="312.8" x2="348.5" y2="381.3" stroke="#0000ff" stroke-width="1" stroke-dasharray="1.5,2"/><line x1="378.5" y1="312.8" x2="378.5" y2="381.3" stroke="#ff0000" stroke-width="1" stroke-dasharray="7.5,2.5"/><line x1="378.5" y1="312.8" x2="378.5" y2="381.3" stroke="#ff00ff" stroke-width="1" stroke-dasharray="1.5,2"/><line x1="457.5" y1="312.8" x2="457.5" y2="381.3" stroke="#ff0000" stroke-width="1" stroke-dasharray="7.5,2.5"/><line x1="496.5" y1="312.8" x2="496.5" y2="381.3" stroke="#00a000" stroke-width="1" stroke-dasharray="6,3"/><line x1="77" y1="317.5" x2="94.5" y2="317.5" stroke="#00a000" stroke-width="1" stroke-dasharray="4,2"/><text transform="translate(95.5,320.2) scale(1.12,1)" font-size="8.2" text-anchor="start" fill="#a0a000">t  HT</text><line x1="77" y1="324.5" x2="94.5" y2="324.5" stroke="#00aaff" stroke-width="1" stroke-dasharray="1.5,1"/><text transform="translate(95.5,327.4) scale(1.12,1)" font-size="8.2" text-anchor="start" fill="#00aaff">t  vmax</text><line x1="77" y1="331.5" x2="94.5" y2="331.5" stroke="#ff0000" stroke-width="1" stroke-dasharray="4,2"/><text transform="translate(95.5,334.5) scale(1.12,1)" font-size="8.2" text-anchor="start" fill="#ff0000">t  cs</text><line x1="77" y1="338.5" x2="94.5" y2="338.5" stroke="#0000ff" stroke-width="1" stroke-dasharray="1.5,1"/><text transform="translate(95.5,341.6) scale(1.12,1)" font-size="8.2" text-anchor="start" fill="#0000ff">t  dvmax</text><line x1="77" y1="346.5" x2="94.5" y2="346.5" stroke="#333" stroke-width="1"/><text transform="translate(95.5,349) scale(1.12,1)" font-size="8.2" text-anchor="start" fill="#a0a000">|V<tspan font-size="6" dy="2">i</tspan></text><path d="M71.7 400.1l.8 0 .8-.5 .8-.2 .8-1 .8 .5 .8-.4 .8-.6 .8-.1 .8-.2 .8 .1 .8 .4 .8 .3 .8-.1 .8 .4 .8 1.2 .8 0 .8-.4 .8 .3 .8 .1 .8 .3 .8 .3 .8-.2 .8 .9 .8 1.1 .8 1.1 .8 .5 .8 1.3 .8 2.3 .8 .9 .8 1.7 .8 1.7 .8 1 .8 1.2 .8 1.9 .8 1 .8 .4 .8 1.1 .8 .4 .8 .8 .8 1.2 .8 .4 .8-.8 .8 .2 .8-1 .8 .1 .8-.3 .8-.3 .8 0 .8-.4 .8-.6 .8-.5 .8 0 .8-.1 .8-.3 .8-.3 .8-.1 .8 .8 .8-.2 .8-.2 .8 .3 .8 .4 .8 .4 .8 .4 .8 1 .8 .5 .8 .7 .8 .3 .8-.5 .8-.5 .8-.2 .8-.3 .8-.1 .8-.2 .8 0 .8 0 .8-.6 .8 0 .8-.6 .8 0 .8-.2 .8 .5 .8 .1 .8 .2 .8 .4 .8-.2 .8 .8 .8 .4 .8 .8 .8-.1 .8 .8 .8 .2 .8 1.7 .8 .3 .8 1 .8 .2 .8 1 .8-.9 .8-1 .8-.8 .8-.7 .8-1.6 .8-2.3 .8-1 .8-2.5 .8-1.5 .8-.2 .8-.3 .8-.2 .8 0 .8 0 .8 .9 .8-.1 .8 .8 .8-.2 .8 .6 .8 .4 .8 .4 .8 .3 .8-.4 .8 .3 .8 1 .8-.1 .8 0 .8 1.2 .8 .3 .8-.2 .8 .6 .8 0 .8-1.1 .8-.6 .8-.6 .8 .2 .8-1 .8 .4 .8-.2 .8 0 .8-.1 .8-.3 .8 0 .8-.2 .8 .2 .8-1.2 .8 .5 .8-.1 .8-.5 .8 1 .8 .1 .8-.4 .8 .7 .8 .5 .8 .1 .8 0 .8 .7 .8 .2 .8-.1 .8 .5 .8 .7 .8 .2 .8-.7 .8-.2 .8 .3 .8-.5 .8-.4 .8-.4 .8-.1 .8 .1 .8-1.1 .8 .8 .8-.6 .8-.3 .8 .1 .8-.1 .8 .4 .8 .7 .8 .3 .8 .8 .8-.3 .8 1 .8-.1 .8 .8 .8 .2 .8 .6 .8-.4 .8 .7 .8 .7 .8 .2 .8-.2 .8 .2 .8-.2 .8-.4 .8-.1 .8-.3 .8-1.2 .8 .5 .8 .6 .8-1.4 .8-.2 .8-.2 .8-.5 .8-.1 .8 0 .8 1.2 .8-.1 .8 .7 .8 .3 .8 .4 .8 .6 .8 .7 .8 1.8 .8 .6 .8 .7 .8 1.5 .8 1.7 .8 .5 .8 0 .8 .1 .8-.2 .8-.2 .8 .7 .8-1.4 .8 .8 .8-.1 .8 .2 .8 .3 .8 .9 .8 .6 .8-.1 .8 .2 .8 .8 .8 .8 .8 .5 .8 .6 .8 1.5 .8 .4 .8-.2 .8 .3 .8 .6 .8 .1 .8 .7 .8 .3 .8 .1 .8 0 .8 .5 .8-1.1 .8-.2 .8-.1 .8-1.3 .8-.3 .8-.5 .8-.5 .8-1.1 .8 .1 .8-.4 .8 .3 .8-.4 .8-.9 .8 0 .8 .2 .8 .4 .8-.8 .8 .4 .8-.8 .8-.2 .8 .5 .8-.5 .8-.2 .8 1.1 .8 .1 .8-.4 .8 .9 .8 .1 .8 .3 .8-.3 .8 .2 .8-.4 .8 .1 .8 1 .8-.3 .8 .4 .8 0 .8 0 .8 .1 .8 .4 .8-.2 .8-.3 .8 .9 .8 .2 .8-.1 .8 .2 .8-.3 .8 .1 .8 .4 .8-.1 .8-.8 .8 .1 .8-.1 .8 .5 .8-.9 .8-.4 .8-.3 .8 .1 .8-.3 .8 .3 .8 0 .8 0 .8 .6 .8 .4 .8 .1 .8-.3 .8 .6 .8 .4 .8-.4 .8-.4 .8-.2 .8-.2 .8 0 .8-.4 .8 .1 .8-.3 .8-.2 .8 0 .8-.2 .8-.6 .8-.1 .8 .1 .8-.5 .8-.5 .8 0 .8-.6 .8-.5 .8-.8 .8-.4 .8-1.1 .8-.7 .8-.5 .8 .1 .8 .3 .8 1.1 .8 .6 .8 1.1 .8 1.9 .8 1.9 .8 .9 .8 1.3 .8 1.2 .8 1.7 .8 .9 .8-.9 .8 .2 .8-.1 .8-.2 .8 .3 .8-.8 .8-.1 .8-.5 .8 .1 .8-.3 .8 .1 .8-.2 .8-.2 .8-.2 .8-.6 .8-.5 .8-.2 .8-.1 .8-.3 .8-.5 .8 .2 .8-.7 .8 0 .8-.4 .8-.3 .8-.6 .8-1 .8-.2 .8 1.2 .8 1.1 .8 1.2 .8 2.6 .8 .3 .8 .1 .8-.9 .8 .1 .8-.6 .8-.5 .8-.9 .8-1.3 .8-.8 .8-.5 .8 .2 .8-.4 .8-.1 .8-.3 .8-.1 .8-1.1 .8-.4 .8-.3 .8 .5 .8-.6 .8 .1 .8 .4 .8-.8 .8-.2 .8-.2 .8 .5 .8-.1 .8-.3 .8 0 .8 .2 .8 .2 .8 .3 .8-.5 .8 .2 .8 .6 .8 .1 .8-.2 .8-.1 .8 .4 .8-.3 .8-.6 .8 .2 .8 .6 .8-.3 .8 .2 .8-.7 .8 .7 .8-.3 .8-.3 .8 0 .8-.2 .8-.1 .8-.7 .8 .3 .8 .7 .8-.2 .8 0 .8 .6 .8 .5 .8-.2 .8 .4 .8-.2 .8-.1 .8 1.3 .8-.3 .8 .9 .8 .4 .8 .6 .8-.2 .8 .9 .8 0 .8 .6 .8 .6 .8 1.2 .8 .1 .8 1.9 .8 .1 .8 .2 .8 0 .8 .3 .8-.2 .8 0 .8 .3 .8 .6 .8 .1 .8 .1 .8-.7 .8 .4 .8 0 .8-.5 .8-1.4 .8-.2 .8-.5 .8-.3 .8-1 .8-.5 .8-1.3 .8-.9 .8-1.1 .8-.5 .8-2 .8-.6 .8-1.5 .8 .3 .8-.6 .8-.9 .8 .1 .8-.4 .8-.3 .8 .2 .8-.2 .8 0 .8-.4 .8 .2 .8 .7 .8 .2 .8 1 .8 .2 .8 .1 .8 2 .8 3.2 .8 .8 .8 .4 .8-.7 .8-.8 .8 .4 .8-.6 .8-.6 .8-.6 .8-1.4 .8-.4 .8-.5 .8-.7 .8-1.4 .8-.5 .8-.9 .8-1.9 .8-.1 .8-1 .8 0 .8 .5 .8 .6 .8 .8 .8 .1 .8-.3 .8 .7 .8 .4 .8-.4 .8 1 .8 0 .8 .4 .8 0 .8 .4 .8-.7 .8-.2 .8 .1 .8-.1 .8-.7 .8-.2 .8 .6 .8 .1 .8 .2 .8 .6 .8 .1 .8-.3 .8 .3 .8 1.3 .8-.4 .8 .1 .8 .8 .8 .6 .8 .6 .8 .7 .8-.2 .8-.2 .8 .8 .8 .8 .8 .7 .8-.1 .8-.1 .8 .1 .8-.3 .8 .1 .8 1 .8-.2" fill="none" stroke="#33ee33" stroke-width="0.9" stroke-linejoin="round" clip-path="url(#cP5)"/><path d="M71.7 417.5l.8-1.6 .8-.7 .8-1.2 .8-2 .8-.3 .8 .6 .8 0 .8 .2 .8-.1 .8 .6 .8 .1 .8-.5 .8-.1 .8-.6 .8-.8 .8 0 .8-.8 .8 .2 .8 0 .8 .3 .8 .1 .8 .8 .8-.1 .8 .1 .8-.2 .8-.5 .8-.9 .8-.7 .8-.8 .8 .3 .8-1 .8-.2 .8-.3 .8 .7 .8 .7 .8 .3 .8 .3 .8 .5 .8-.4 .8-.7 .8-.9 .8-1.1 .8-.1 .8 0 .8 0 .8 .2 .8-.2 .8 .2 .8-.2 .8 .6 .8 .6 .8-.1 .8 .9 .8 .5 .8 .4 .8 .6 .8 .8 .8-.4 .8 .8 .8-.5 .8 .6 .8 .5 .8 0 .8-.2 .8-.2 .8-.6 .8-.3 .8 .1 .8-.6 .8-.6 .8-.2 .8-.2 .8 .1 .8-.3 .8-.1 .8-.6 .8 .2 .8 .1 .8-.2 .8 .2 .8-.4 .8 .1 .8-.1 .8-.5 .8 .2 .8-.5 .8-.2 .8-.1 .8-.3 .8-.1 .8-.4 .8-.3 .8-.1 .8-.5 .8 .5 .8 .4 .8 .5 .8 .8 .8 .6 .8 1.1 .8 1.5 .8 .6 .8 1 .8-.3 .8 .5 .8 0 .8 .5 .8 .6 .8-.5 .8 .5 .8-.3 .8-.5 .8-.5 .8 .2 .8-.5 .8 0 .8-.4 .8 .2 .8-.8 .8-.5 .8 .1 .8-.2 .8 .6 .8 1 .8 1.1 .8 1.5 .8 .4 .8 .7 .8 .3 .8 .5 .8 .1 .8 .6 .8-.9 .8-1 .8-.4 .8-.2 .8 .3 .8 .5 .8 .4 .8-.7 .8-.2 .8-.2 .8 .9 .8 .1 .8 .5 .8 .3 .8 .6 .8 .8 .8 .3 .8 .4 .8 .3 .8 .4 .8 .8 .8 .7 .8 .9 .8-.1 .8 .7 .8-.1 .8 .3 .8 .6 .8 .6 .8 1.4 .8-.3 .8 1 .8 0 .8 1 .8 .2 .8 .2 .8 .5 .8-.4 .8-.2 .8-.9 .8-.8 .8-.7 .8-.3 .8-.4 .8-1.2 .8-.9 .8-.7 .8-.5 .8-.9 .8-.5 .8 .2 .8-.4 .8 0 .8-.6 .8-.7 .8-.2 .8 1 .8 0 .8-.6 .8-.1 .8 .6 .8-.8 .8-.2 .8 .2 .8-.6 .8-.1 .8-.3 .8-.1 .8 .2 .8 0 .8 .6 .8-.4 .8 1 .8 .2 .8 .2 .8 .5 .8 .6 .8 .8 .8-.3 .8 .8 .8 .3 .8 .4 .8 .6 .8-.1 .8 .4 .8-.3 .8 0 .8 .3 .8 .3 .8 .6 .8 .1 .8 .9 .8 .6 .8 1.2 .8 .3 .8 .4 .8 1.7 .8 1.3 .8 1.9 .8 1.5 .8-.5 .8-1.4 .8-.8 .8-1.2 .8 .1 .8-.5 .8-.1 .8-.4 .8 0 .8-.8 .8-.2 .8 .6 .8-1.6 .8-.5 .8 .4 .8-.2 .8-1.8 .8-.3 .8-.6 .8-.4 .8-1.6 .8-.6 .8-.5 .8-.9 .8 .2 .8 1.2 .8 .9 .8 1.5 .8 1.3 .8 1.7 .8 1.4 .8 1.9 .8 1.7 .8-.1 .8-.5 .8-.6 .8-.5 .8-.8 .8-.2 .8-.7 .8 .6 .8-.4 .8-.7 .8-.6 .8-.4 .8 .4 .8-.5 .8-.3 .8-1.5 .8 0 .8-1 .8-1.2 .8-.6 .8-.6 .8-.5 .8-.3 .8-.2 .8-.3 .8-.2 .8 .1 .8-1.4 .8 .8 .8 .2 .8 .1 .8-.1 .8-.3 .8 .8 .8 .5 .8-.9 .8 .7 .8-.7 .8-.3 .8-.7 .8-.2 .8 .1 .8-.7 .8 .3 .8 .1 .8 .1 .8 .6 .8-.1 .8 .4 .8-.1 .8 1.1 .8 1 .8 1.7 .8 .6 .8 1.2 .8-.7 .8 0 .8-.5 .8-.1 .8-.8 .8-1.3 .8 0 .8-.9 .8-.3 .8 0 .8-.7 .8-.4 .8-.1 .8 .4 .8-.4 .8 .1 .8-.3 .8-.8 .8-1.3 .8-1.9 .8-.5 .8-1.2 .8-1.1 .8-.9 .8-1.6 .8 0 .8 0 .8-1.1 .8 .6 .8-.8 .8-.2 .8-.9 .8 .1 .8-.3 .8-.5 .8-.2 .8-.3 .8-.6 .8-.1 .8-.2 .8-.1 .8-.1 .8-.9 .8 0 .8 .2 .8-.9 .8-.3 .8 .2 .8-.1 .8-.4 .8 .2 .8 .1 .8 .2 .8 .1 .8 .7 .8 .1 .8 .6 .8 2.3 .8 .6 .8 1.3 .8 1.2 .8-.1 .8 .9 .8 .7 .8 .4 .8 .3 .8-.1 .8-.2 .8-.6 .8-.3 .8 .6 .8-.3 .8 .2 .8 0 .8-.3 .8 .1 .8-.3 .8 0 .8-.5 .8 .1 .8 0 .8 .1 .8-.6 .8-.1 .8-.5 .8-.3 .8 0 .8-1.1 .8-.1 .8-.4 .8-.5 .8 .6 .8 .5 .8-.1 .8 .2 .8 .4 .8 .2 .8-.2 .8 .7 .8-.1 .8 .1 .8 .3 .8 .1 .8 .5 .8 .4 .8 .7 .8 .5 .8-.6 .8 .8 .8-.2 .8 .7 .8 .1 .8-.2 .8 .8 .8-.5 .8-.1 .8-.3 .8 0 .8 .3 .8-.3 .8 0 .8 0 .8-.5 .8-1.6 .8-1.4 .8-.3 .8-1.5 .8-.6 .8-1.3 .8-.4 .8-.2 .8 .3 .8-.3 .8-.8 .8-.3 .8 0 .8-.8 .8 .1 .8-.4 .8-.2 .8-.6 .8-.5 .8-.2 .8 .3 .8 .2 .8 0 .8 .8 .8 .1 .8-.2 .8 .8 .8 .2 .8 .5 .8 .7 .8 .6 .8 .3 .8 .9 .8-.1 .8 .9 .8 1.6 .8 .1 .8 1.1 .8 .4 .8 .7 .8 .2 .8 .4 .8 .2 .8 .8 .8-.1 .8 .8 .8 .4 .8 .1 .8 .1 .8 .5 .8 .1 .8 .6 .8-.5 .8 1 .8 0 .8 .6 .8 1.4 .8 .4 .8 0 .8 .2 .8 .1 .8 1.3 .8 1.7 .8 .2 .8 .5 .8 1.1 .8 .2 .8 1.2 .8 .7 .8 .3 .8 .7 .8 .2 .8 .3 .8-1.6 .8-.7 .8-1 .8-2 .8-.8 .8 0 .8-1.1 .8-.2 .8-1.2 .8-.1 .8-1.1 .8-.1 .8 .3 .8-.7 .8-.3 .8 0 .8 .1 .8-.7 .8 .5 .8-.5 .8 .4 .8-1.2 .8 .3 .8-.4 .8 .3 .8 .4 .8 0 .8 .1 .8 .1 .8 .2 .8-.3 .8 .7 .8 .1 .8-.2 .8-.2 .8-.3 .8 .4 .8-.9 .8-.2 .8-.4 .8-.3 .8-.2 .8 0 .8 .3 .8 .1 .8-.1 .8-.2 .8 .5" fill="none" stroke="#ff2020" stroke-width="0.9" stroke-linejoin="round" clip-path="url(#cP5)"/><path d="M71.7 444.2l.8-.7 .8-1.2 .8-.9 .8-1.1 .8 1.2 .8 .9 .8 1.3 .8 .9 .8 1.7 .8 .5 .8 .2 .8 .4 .8-1 .8-1.7 .8-1.4 .8-.8 .8 1.1 .8 .5 .8 .8 .8 1.4 .8-4.4 .8-4.2 .8-4 .8-5.5 .8-3.4 .8-2.9 .8-3 .8-1.2 .8-1.9 .8-.4 .8-1.2 .8-1.4 .8 .1 .8-1.7 .8-.9 .8-.7 .8 .1 .8-.3 .8-.4 .8-.6 .8-.5 .8 .1 .8-1 .8-.5 .8 .5 .8-.5 .8 0 .8-.1 .8-.5 .8-.1 .8 .2 .8-.7 .8-.1 .8-.5 .8-.8 .8 .3 .8-1.1 .8 .1 .8-.2 .8 .2 .8-.8 .8 0 .8 0 .8-.1 .8 .1 .8-.4 .8-.3 .8 .1 .8 .2 .8-2.2 .8-.8 .8-.9 .8-1.4 .8-.5 .8-.9 .8-.6 .8 .2 .8-1.5 .8 .2 .8 .5 .8-.7 .8 .2 .8-.2 .8 .4 .8 .1 .8 .7 .8-.7 .8-.8 .8 .7 .8 0 .8-.9 .8-.6 .8-.1 .8 .4 .8 0 .8 .4 .8-.4 .8 .8 .8 .7 .8-.1 .8-.3 .8 .5 .8-.3 .8-.6 .8-.2 .8 .7 .8-.4 .8 .3 .8 .7 .8-.4 .8 0 .8-.2 .8 1 .8 .4 .8 .2 .8 .9 .8-.3 .8 .3 .8 .7 .8 .6 .8-.1 .8 .5 .8 1.1 .8 2 .8 1.6 .8 2.3 .8 .8 .8 1.5 .8 .3 .8 .9 .8 1.1 .8-.4 .8-.1 .8 0 .8-.9 .8 .4 .8-1.3 .8-1.7 .8-1.2 .8-1.5 .8-1.2 .8-.5 .8 .3 .8-.2 .8-1 .8 1.7 .8 .9 .8 1.7 .8 1.4 .8 .8 .8 1.1 .8 1.1 .8 .7 .8 .5 .8 1.4 .8 .4 .8 .2 .8-1.4 .8 .9 .8-1.3 .8-.6 .8-.1 .8 .5 .8-.2 .8-.1 .8-.2 .8-.7 .8 .2 .8-.8 .8 .3 .8 .3 .8-.9 .8 1.2 .8-.5 .8-.9 .8 .5 .8-.2 .8-.4 .8 .1 .8-.4 .8 .1 .8 .5 .8 .2 .8 .3 .8 .2 .8 .5 .8 .2 .8-.6 .8 0 .8 .5 .8-.1 .8-.4 .8-.4 .8 .2 .8 .1 .8-.5 .8 .6 .8-.3 .8 .4 .8 .3 .8 .5 .8-1.5 .8 .3 .8 .1 .8-.3 .8-.2 .8-.9 .8 .1 .8-.3 .8 .3 .8-.6 .8-.2 .8-.1 .8-.7 .8 .4 .8-.7 .8 .2 .8-.4 .8 .5 .8-.5 .8 .4 .8-1.4 .8 1.1 .8 1.8 .8 1.9 .8 2.5 .8 1 .8 2.2 .8 1.9 .8 1.4 .8 1.3 .8 1.8 .8-.2 .8 .3 .8 .1 .8 .7 .8-.6 .8 0 .8-1.2 .8-1.4 .8 0 .8-1.2 .8-.4 .8-.2 .8-.6 .8-.1 .8-.3 .8 0 .8-.4 .8-.3 .8 0 .8-.9 .8-.5 .8-.4 .8-.3 .8-.7 .8-1.6 .8-.8 .8-1.1 .8-1.1 .8-1.4 .8-.2 .8-.6 .8-.1 .8-.5 .8 .5 .8-.8 .8-.4 .8 .2 .8-.2 .8-.4 .8 .1 .8-.4 .8 .6 .8 .1 .8 .3 .8 .1 .8 0 .8 .5 .8-.4 .8 1.1 .8-.4 .8 1.1 .8-.1 .8 .1 .8 .1 .8 .7 .8 .3 .8 .3 .8 .5 .8 .1 .8 .6 .8-.3 .8-.1 .8-.1 .8-.7 .8-.1 .8 .2 .8-.8 .8-.4 .8 .2 .8-1 .8 .4 .8 .5 .8-.4 .8 .4 .8 0 .8 .6 .8-.8 .8 .3 .8 .1 .8 .1 .8 0 .8-.1 .8 .2 .8-.4 .8-.7 .8-.1 .8 .2 .8-.2 .8-.2 .8 .2 .8-.8 .8 .2 .8-.2 .8-.6 .8-.1 .8 .8 .8-.4 .8 .7 .8 .2 .8 .6 .8 0 .8-.3 .8 .2 .8-.5 .8 .1 .8-.3 .8-.1 .8-.7 .8-.2 .8-.9 .8-.1 .8-.1 .8-1.8 .8-.9 .8-1.2 .8-1.8 .8-.4 .8-.7 .8-.4 .8 0 .8-.9 .8-.3 .8-.1 .8 .3 .8 .1 .8 .5 .8-.2 .8 .8 .8 .6 .8 0 .8 .6 .8 0 .8 .1 .8 .4 .8 .2 .8-.6 .8 .1 .8-.2 .8-.8 .8 .2 .8-.8 .8-1.1 .8-.5 .8-.6 .8 0 .8-.6 .8-.5 .8-.5 .8 .2 .8-.9 .8-.6 .8-.8 .8 .2 .8-.6 .8-.4 .8-.3 .8-.8 .8-.3 .8-.5 .8 .4 .8 0 .8-.1 .8-.8 .8 .9 .8-.3 .8-.3 .8 .2 .8-.3 .8 .9 .8 0 .8 0 .8 1.1 .8 .1 .8-.1 .8 0 .8-.3 .8 .5 .8 .2 .8-.1 .8 .1 .8 .2 .8-.3 .8 .7 .8 0 .8-.8 .8-.3 .8 .5 .8-.6 .8-1.3 .8 .3 .8-.5 .8-.3 .8-.1 .8 .2 .8 0 .8-.4 .8 .1 .8-.3 .8 .6 .8 .1 .8 .2 .8-.1 .8-.4 .8-.2 .8 .6 .8-1.1 .8-.2 .8 .1 .8 .7 .8 .9 .8 0 .8 .2 .8 1.2 .8 .2 .8 .4 .8 1.1 .8 1.3 .8 .4 .8 2 .8-.6 .8-.3 .8-.1 .8-1 .8-.1 .8-.5 .8-.2 .8 .3 .8-1.3 .8 0 .8 .4 .8-1.1 .8 .5 .8-.5 .8 .7 .8 .2 .8 .4 .8 0 .8 .6 .8 .7 .8-.3 .8-.4 .8-.1 .8 .6 .8-.1 .8-.8 .8 .1 .8 .8 .8 .1 .8 .3 .8 .6 .8 0 .8 .7 .8 1.1 .8 .4 .8 .6 .8 .1 .8-.2 .8 .7 .8 .5 .8-.6 .8-.5 .8-1.1 .8-.4 .8-.9 .8-1.9 .8-1.8 .8-1.4 .8-1.8 .8-.8 .8-.4 .8-1.1 .8-.5 .8-.5 .8-.7 .8 0 .8 .4 .8-.4 .8-.1 .8-.5 .8 .5 .8 0 .8 .3 .8 .1 .8-.4 .8 1 .8-.6 .8 .4 .8 .1 .8 .6 .8-.2 .8 .4 .8-.1 .8 .2 .8 .3 .8 .6 .8 .7 .8 .6 .8 .3 .8 1.1 .8 .2 .8 .1 .8 1.3 .8-.4 .8 1.2 .8 .2 .8 1.2 .8 .2 .8-.2 .8 1 .8-.5 .8 .9 .8-.8 .8-.8 .8 .1 .8-.6 .8-.7 .8-.5 .8-.4 .8-.4 .8 0 .8-1 .8-.8 .8 .9 .8-.2 .8 0 .8 .3 .8 1.1 .8-.1 .8 .4 .8 .2 .8 1 .8-.5" fill="none" stroke="#2a2aff" stroke-width="0.9" stroke-linejoin="round" clip-path="url(#cP5)"/><line x1="71.5" y1="399.9" x2="525.5" y2="399.9" stroke="#000" stroke-width="1.5" stroke-dasharray="4.5,3"/><line x1="180.1" y1="381.3" x2="180.1" y2="449.5" stroke="#ff00ff" stroke-width="1.4" stroke-dasharray="1.5,2"/><line x1="339.5" y1="381.3" x2="339.5" y2="449.5" stroke="#00a000" stroke-width="1" stroke-dasharray="6,3"/><line x1="348.5" y1="381.3" x2="348.5" y2="449.5" stroke="#0000ff" stroke-width="1" stroke-dasharray="1.5,2"/><line x1="378.5" y1="381.3" x2="378.5" y2="449.5" stroke="#ff0000" stroke-width="1" stroke-dasharray="7.5,2.5"/><line x1="378.5" y1="381.3" x2="378.5" y2="449.5" stroke="#ff00ff" stroke-width="1" stroke-dasharray="1.5,2"/><line x1="457.5" y1="381.3" x2="457.5" y2="449.5" stroke="#ff0000" stroke-width="1" stroke-dasharray="7.5,2.5"/><line x1="496.5" y1="381.3" x2="496.5" y2="449.5" stroke="#00a000" stroke-width="1" stroke-dasharray="6,3"/><line x1="77.5" y1="389.5" x2="95" y2="389.5" stroke="#4040ff" stroke-width="1"/><text transform="translate(97,392.5) scale(1.12,1)" font-size="9" text-anchor="start" fill="#0000ff">V<tspan font-size="6.5" dy="2.5">L</tspan></text><line x1="77.5" y1="403.5" x2="95" y2="403.5" stroke="#33ee33" stroke-width="1"/><text transform="translate(97,407) scale(1.12,1)" font-size="9" text-anchor="start" fill="#00ee00">V<tspan font-size="6.5" dy="2.5">M</tspan></text><line x1="77.5" y1="419" x2="95" y2="419" stroke="#ff7070" stroke-width="1.2"/><text transform="translate(97,422.5) scale(1.12,1)" font-size="9" text-anchor="start" fill="#ff0000">V<tspan font-size="6.5" dy="2.5">N</tspan></text><path d="M71.7 514.4l.7-.4 .7 .3 .7 .7 .7-1.8 .7-1 .7-.4 .7 1.6 .7-2.6 .7-1.5 .7 .1 .7 .3 .7-.2 .7 1.2 .7-2 .7-1.4 .7 2.6 .7-1.3 .7-.1 .7-1.1 .7-.5 .7 2.7 .7-2.1 .7 1.5 .7 .3 .7 0 .7-4 .7-4 .7-1.7 .7-.7 .7-4.4 .7-1.6 .7-.6 .7-1.9 .7-.9 .7 1.2 .7 1.2 .7 1.5 .7-1.4 .7-.8 .7-3.9 .7-2.3 .7-7.8 .7-1.6 .7-3.6 .7 .9 .7 .3 .7 3.4 .7 2.7 .7 2.2 .7 1.8 .7 .1 .7 1.5 .7-3.8 .7-.4 .7-.2 .7 .7 .7 2.7 .7 0 .7 2.3 .7-.6 .7-1.1 .7 .6 .7-.5 .7 1.6 .7-2.2 .7-1.2 .7 .7 .7-.6 .7 2.3 .7-1.1 .7-1.9 .7-1.3 .7 2.6 .7-2.1 .7-.5 .7 3.4 .7-.6 .7 4.2 .7 .6 .7-1.1 .7 .9 .7-1.2 .7 4.1 .7-1.2 .7-.7 .7-.8 .7-3.1 .7-1.5 .7-1.3 .7-2.4 .7-4.6 .7-2.3 .7-.3 .7-1 .7-1.6 .7-1.3 .7-.2 .7 1.5 .7 1.1 .7 .1 .7-1 .7 1.4 .7 1.5 .7 2.8 .7-1.4 .7 1.9 .7-.8 .7-.5 .7 2.6 .7-.2 .7-2.2 .7 2.7 .7 1.6 .7 1.4 .7-3.3 .7-3.5 .7-5.4 .7-6.1 .7 .1 .7 .5 .7 2.4 .7 .9 .7 5.9 .7 5.6 .7 3.9 .7-1.2 .7 .1 .7-.4 .7-.8 .7-1.1 .7 1.6 .7-1 .7 .8 .7 1.8 .7-2 .7-1.8 .7-2.6 .7-3.8 .7-3.4 .7-2.4 .7-2.8 .7 .7 .7-.3 .7 2.8 .7 3.3 .7 5.2 .7 8.5 .7 6.2 .7-3.8 .7-3.8 .7-.5 .7 .4 .7-.7 .7-.5 .7-1.2 .7 1 .7 .5 .7 1 .7-.2 .7 1.3 .7 1.6 .7 2.2 .7-.7 .7 1.2 .7 2 .7-1.5 .7-1.2 .7-2.4 .7 .9 .7 .9 .7-2.6 .7 1.2 .7 .7 .7 .9 .7-.7 .7 2 .7-1.4 .7-2.8 .7-3.1 .7 2.2 .7-1.7 .7-1.3 .7-3.1 .7-.2 .7-.7 .7-.7 .7-.7 .7 .7 .7-2.4 .7-.5 .7 .8 .7 1.4 .7-2.3 .7 .1 .7 3.2 .7-2.2 .7 1.1 .7 1.6 .7-2 .7 1.5 .7 .7 .7-3.8 .7-4.9 .7-5 .7-4.4 .7 3.8 .7 .1 .7 5.8 .7 2.8 .7 1.4 .7 1.4 .7 1.3 .7 2.1 .7-1.2 .7 2.6 .7-.2 .7-.8 .7-.3 .7 .8 .7 1.2 .7-.2 .7-.1 .7-2.9 .7 3.6 .7-2.1 .7-1.4 .7 .2 .7 .2 .7-3.5 .7 0 .7-4.4 .7-2.5 .7-3.6 .7-2.1 .7-2.8 .7-2.2 .7-1.3 .7 4.5 .7 5.3 .7 2.9 .7 4.4 .7-1.4 .7-2.9 .7-4 .7 .9 .7-.6 .7-.3 .7-1.3 .7 .4 .7 .8 .7 2.9 .7 4.9 .7 5.2 .7 .4 .7-1.6 .7 .1 .7-5.3 .7 3.5 .7-.6 .7-.7 .7 4 .7 1.5 .7-1.3 .7-.1 .7-.2 .7-2.2 .7 0 .7-1.9 .7-5.5 .7-3.7 .7-5 .7-.4 .7 2.7 .7 2.4 .7 1.7 .7 2.4 .7 2.2 .7 2.1 .7 .9 .7 2.3 .7-.7 .7 2.2 .7-1.2 .7-1.6 .7-.3 .7 .9 .7-1.2 .7 .9 .7 .1 .7 1.2 .7 1.8 .7-1.3 .7 2.1 .7-.4 .7-.3 .7 1.4 .7-1.5 .7 1.6 .7 .3 .7 2.3 .7-2.1 .7 1 .7-1.1 .7 .6 .7 1.9 .7 1.3 .7 0 .7-2.3 .7 .7 .7 0 .7 1.4 .7 1.4 .7-.2 .7-.8 .7-.1 .7-2.2 .7-.9 .7 3.3 .7-1.2 .7 1.6 .7-1.1 .7 1.4 .7-1.4 .7-.1 .7 1.8 .7 2.1 .7-.4 .7 2.2 .7-1.9 .7 .4 .7 1.3 .7 .8 .7 1 .7-.1 .7 0 .7-2.7 .7 1.1 .7-3 .7-.7 .7-1.1 .7 3 .7-2.3 .7 2.8 .7 2.6 .7-2.3 .7 1.7 .7 .4 .7 .2 .7-1.3 .7 1.9 .7-1.9 .7 2.4 .7-1.4 .7-1.2 .7 2.2 .7-1.2 .7 .1 .7 .2 .7-1.4 .7-.3 .7 .7 .7 .8 .7-.9 .7-.1 .7 3 .7-1.6 .7 1.2 .7 .9 .7 1 .7 1.3 .7-.1 .7-2.3 .7-1 .7 .5 .7-1.1 .7-2.8 .7 .7 .7-2.4 .7-.7 .7-1.3 .7-.1 .7 .8 .7 2.1 .7 1 .7 2.2 .7 1 .7 .9 .7 1.3 .7 1.6 .7 .8 .7 .3 .7-2 .7-1 .7-.6 .7-3.1 .7-1.2 .7 .6 .7 2.1 .7 1.9 .7 3.6 .7 .9 .7-.5 .7-1.3 .7-.2 .7 0 .7-1 .7-1.6 .7 .5 .7-.3 .7-1.5 .7-.5 .7 1.6 .7-.2 .7 .1 .7 .2 .7 .1 .7 .5 .7-2.1 .7 1.4 .7 1.1 .7 .2 .7-1.9 .7 1.6 .7 .2 .7-.5 .7-.4 .7 1.1 .7 1.7 .7-1.2 .7-1.2 .7-1.5 .7-.1 .7-2.4 .7-3.1 .7-4 .7-1.6 .7-4.1 .7-3.6 .7 1.9 .7-.3 .7-.9 .7 .7 .7 .9 .7-.9 .7-.2 .7-.7 .7 2.4 .7 .2 .7-2.9 .7 0 .7-.8 .7 .8 .7-1.8 .7 .6 .7-3.2 .7 2.8 .7-2.1 .7-1.3 .7-.1 .7 .1 .7 1.6 .7 .1 .7 .3 .7 .7 .7 1 .7 .5 .7 .4 .7 1.5 .7-.2 .7-1.7 .7 .3 .7-1.3 .7 .7 .7-2.6 .7 1.5 .7-.1 .7-.8 .7-.8 .7 .3 .7-.5 .7 1.4 .7-2.6 .7-.5 .7 1.9 .7-.1 .7-.3 .7-.2 .7 1.4 .7 .6 .7-2 .7 1.6 .7-.9 .7 .1 .7-.9 .7-.1 .7 1.2 .7-2.1 .7 .7 .7 .3 .7-1.4 .7-.5 .7 0 .7 1.3 .7-1.1 .7-.7 .7 .4 .7 3.1 .7 1.1 .7 1.7 .7 1 .7 2.7 .7 2.4 .7 4.2 .7 2.1 .7 1.4 .7 3.3 .7-2.2 .7 1 .7-3.6 .7-.9 .7-1.7 .7 .2 .7 .6 .7 .3 .7 .6 .7 1.6 .7-1 .7 .6 .7-2.4 .7 3.6 .7-3.5 .7 2.8 .7 .6 .7-.5 .7-.8 .7 3.5 .7-1.1 .7-.4 .7 1.9 .7 1 .7-2.8 .7 1.6 .7-1.7 .7 1.5 .7 1.5 .7 1.9 .7-.1 .7 2.9 .7-1.6 .7-1.8 .7 2 .7 2.6 .7 0 .7-.5 .7 1.8 .7 .1 .7 .5 .7-2 .7 2.6 .7-1.2 .7 .8 .7 2.5 .7-1 .7 .4 .7 .6 .7-1.7 .7-1 .7-1.6 .7-2.1 .7-2.8 .7-1.9 .7 .1 .7-2.1 .7 .1 .7-.9 .7 .1 .7 1.1 .7-.6 .7 .3 .7-1.3 .7 1.2 .7-.3 .7-2.2 .7 .8 .7-.1 .7-1.7 .7 1.5 .7 3.7 .7 2.2 .7-1.3 .7 0 .7 1.7 .7 2.6 .7-.9 .7 .1 .7-2.6 .7 .2 .7-1.7 .7 0 .7 .7 .7-1.8 .7-1.3 .7-1.5 .7-1.1 .7-.7 .7-2.1 .7 .1 .7-1.7 .7 1 .7-4.2 .7 1.4 .7-1.3 .7 .1 .7-1.3 .7-1.1 .7 .9 .7 .5 .7-.5 .7 .6 .7-1.1 .7 .5 .7-1.6 .7-.1 .7 .7 .7-2.1 .7-.1 .7 1 .7-1.5 .7 1.8 .7-.7 .7-2.5 .7 1.2 .7-1.4 .7-.1 .7-.5 .7-.6 .7 .5 .7 1.3 .7 .7 .7 4 .7 1.3 .7 .1 .7 1.9 .7 0 .7 2.5" fill="none" stroke="#ff1010" stroke-width="1.1" stroke-linejoin="round" clip-path="url(#cP6)"/><path d="M71.7 513.6l.7 .6 .7-.3 .7-.3 .7-.1 .7-.3 .7-1.2 .7-1 .7-1.8 .7 .2 .7-1.3 .7 .6 .7 .3 .7-1.7 .7 1.9 .7-1.2 .7-.3 .7 .3 .7-.1 .7 0 .7 .7 .7-2.5 .7 1.2 .7 1.1 .7 .3 .7-2.7 .7-1.9 .7-2.6 .7-2.6 .7-2.2 .7-.8 .7-2.6 .7-1.7 .7-3.1 .7-.7 .7 2.5 .7 .5 .7 1.1 .7 .6 .7-2.8 .7-3.4 .7-2.8 .7-4.8 .7-3.3 .7-3.5 .7-1 .7 3.6 .7 1 .7 3.7 .7 .5 .7 1.9 .7 1.8 .7-.3 .7-.7 .7-2.8 .7-.2 .7 1.6 .7 1.5 .7 1.3 .7 1.7 .7-.2 .7-.5 .7-.6 .7 .4 .7 .5 .7-.6 .7 0 .7-1.1 .7 .1 .7-.7 .7-1.3 .7-.4 .7-1 .7 0 .7-.4 .7 1.6 .7 1.6 .7 1.3 .7 2.4 .7 .6 .7 1.1 .7-1 .7 .9 .7 1.1 .7-.5 .7-1.2 .7-2.3 .7-1.7 .7-1.1 .7-.5 .7-3.1 .7-1.9 .7-2.5 .7-1.4 .7-1.9 .7-.5 .7-1.5 .7-1 .7 .2 .7 .4 .7 .2 .7 .6 .7-.3 .7 2.8 .7 2.7 .7 .9 .7-1 .7 .8 .7-.3 .7-1 .7 .9 .7 1.1 .7 .6 .7 2.1 .7-.1 .7-.3 .7-4.8 .7-4.8 .7-5.6 .7-.8 .7 1.6 .7 2.9 .7 .9 .7 3.4 .7 6.2 .7 3.2 .7 .1 .7 .3 .7-2.5 .7 1.3 .7-.7 .7-.2 .7 1.2 .7-1 .7 1.4 .7-.5 .7-2.3 .7-4.3 .7-1.8 .7-2.6 .7-3.7 .7 .3 .7-2.8 .7 1.9 .7 2.1 .7 .4 .7 8.3 .7 7.3 .7 5.7 .7-3 .7-4.3 .7-.3 .7-.5 .7 .2 .7-1.9 .7 1 .7 1.1 .7 0 .7 1.6 .7 .7 .7 .1 .7 .8 .7 .8 .7-.9 .7 2 .7 .3 .7 .6 .7-.7 .7-.5 .7 .2 .7-.8 .7-.8 .7-.5 .7 1.5 .7 .3 .7 1.2 .7-1.6 .7-.7 .7-1.3 .7-2.4 .7 .2 .7-.3 .7-1.7 .7 .3 .7-2.1 .7-1.9 .7-.7 .7-1.4 .7 .2 .7-.9 .7-.2 .7-.8 .7 .8 .7 .6 .7 .3 .7 .6 .7 .9 .7-.9 .7-.3 .7 1 .7-.7 .7 1.4 .7-4.5 .7-4.8 .7-3.8 .7-5.3 .7 3.1 .7 4.2 .7 1.9 .7 4.3 .7 .9 .7 1.4 .7 1.7 .7 .8 .7 1.3 .7-.8 .7 1 .7-.5 .7-1.3 .7 2 .7-1.2 .7 1.8 .7-1.1 .7 .8 .7 .3 .7-1.6 .7-.6 .7-.7 .7-2.2 .7 1.6 .7-3.3 .7-2.5 .7-3.1 .7-2.4 .7-3.6 .7-3 .7-.3 .7-3.3 .7 5.8 .7 2.4 .7 5.7 .7 2.6 .7-2.1 .7-1.9 .7-1.3 .7-1.6 .7 .3 .7-.7 .7-.5 .7-2 .7 .6 .7 4 .7 3.1 .7 4.5 .7 2.5 .7-.7 .7-2.2 .7-1.3 .7 1.9 .7-.8 .7 2.8 .7-.7 .7 2.2 .7-.5 .7-.6 .7-1.2 .7-1.2 .7-.5 .7-2.3 .7-3 .7-5.2 .7-2.7 .7-.9 .7 1.3 .7 3.2 .7 .2 .7 1.7 .7 2.5 .7 2.1 .7 2.6 .7 2.1 .7-.6 .7 0 .7-.3 .7-1.2 .7 .5 .7-.9 .7 1.4 .7-.3 .7 .4 .7 .9 .7 .2 .7 .9 .7-1.1 .7 1.7 .7 1.1 .7-.8 .7 .7 .7 .7 .7 .9 .7-.7 .7 1.2 .7-.9 .7-1.3 .7 2.3 .7 .1 .7 .6 .7 1.4 .7-.5 .7 .5 .7 .8 .7-.3 .7 .5 .7-.3 .7 .2 .7-.8 .7-.2 .7-.3 .7 2 .7-.4 .7 .5 .7 .4 .7-.2 .7-.6 .7 .4 .7 2.6 .7-1.4 .7 1 .7 1.1 .7-.1 .7 .8 .7-1.2 .7 1 .7 1.4 .7 0 .7 2.2 .7-2.7 .7-1.6 .7-1.1 .7-1.3 .7-.5 .7 .2 .7 .5 .7 1.7 .7 1.4 .7 .8 .7 1.4 .7-.9 .7-.3 .7 1.3 .7 0 .7-1.6 .7 .9 .7-1.3 .7 .1 .7-.2 .7-.5 .7 .4 .7-.2 .7-.1 .7 .2 .7 .6 .7-.7 .7 .4 .7 .8 .7 .9 .7-1.2 .7 2.1 .7-.7 .7 2.2 .7 1.1 .7-.1 .7-1.2 .7-1.5 .7-.2 .7-1.4 .7 0 .7-1.8 .7-1.3 .7-2.1 .7-2.1 .7 .5 .7 1.6 .7 2.6 .7 1.1 .7 1.8 .7 .7 .7 1.7 .7 .5 .7 3.3 .7 1 .7-.8 .7-1.9 .7-2.5 .7-1.9 .7-2.7 .7-.1 .7 1.4 .7 3.1 .7 1.4 .7 1.9 .7 2.1 .7-.9 .7-1 .7-.7 .7-1.3 .7 .1 .7-1 .7 0 .7-.4 .7 .6 .7 .2 .7 0 .7 .2 .7-.9 .7 .9 .7-1.8 .7 .9 .7-.2 .7 0 .7-.3 .7 .6 .7-.7 .7 1.5 .7-.2 .7 1.3 .7 1 .7-1.3 .7 .2 .7 1.2 .7-2.3 .7-.9 .7-2.7 .7-1.6 .7-.2 .7-3 .7-5 .7-2.9 .7-2.6 .7-1.1 .7-.5 .7 .4 .7 .5 .7 .7 .7-.6 .7-.3 .7 .6 .7-1 .7 .7 .7-.7 .7 .3 .7 .6 .7-1.9 .7 .2 .7-1.2 .7-1.3 .7-1.5 .7-.8 .7 .6 .7 .8 .7-.9 .7 1.4 .7-.1 .7 1.8 .7 .7 .7-.8 .7 1.5 .7 .2 .7 0 .7-.4 .7-.6 .7 0 .7-.5 .7-.1 .7 .3 .7-1.2 .7 .2 .7-.9 .7 .1 .7 .5 .7-.7 .7-.2 .7 .4 .7-1 .7-.2 .7 .2 .7 .9 .7-1.3 .7-.2 .7 1.7 .7-1 .7 1 .7-1 .7-.4 .7 0 .7-2 .7 .6 .7 .7 .7 .6 .7 .1 .7-.3 .7-.9 .7 .2 .7 1 .7-.8 .7-.5 .7 .4 .7 1.4 .7 1.2 .7 1.3 .7 1.9 .7 3 .7 2.6 .7 3.3 .7 3.2 .7 3 .7-.1 .7 .2 .7-1.9 .7-1.1 .7-1.3 .7-2 .7 .3 .7-.2 .7 .7 .7 .3 .7-.2 .7 2 .7 0 .7 1.1 .7-1.4 .7 .6 .7-1.5 .7 .4 .7 1 .7-.5 .7 .5 .7 .4 .7 .1 .7 1.8 .7 .8 .7 1 .7-1.1 .7 .8 .7 0 .7 .2 .7 1.3 .7 1 .7-.8 .7 .9 .7 .5 .7 .7 .7 .9 .7 1.9 .7 .6 .7 .3 .7 .1 .7-.8 .7 1.1 .7 .7 .7-.4 .7 1.3 .7 .8 .7-.7 .7 .5 .7-.1 .7 .8 .7-.7 .7-3.5 .7-1.8 .7-3 .7-1.3 .7-1.6 .7-.8 .7-1.3 .7 .6 .7-.6 .7 1.9 .7-.9 .7 .4 .7-.6 .7 .5 .7-2.2 .7 .8 .7-1.5 .7-1.4 .7-.2 .7 3.3 .7 1.4 .7 2.7 .7 1.2 .7 1.4 .7-.1 .7 .7 .7 .3 .7 .6 .7-1.7 .7-2.3 .7 1.4 .7-1.7 .7-1.6 .7-1 .7 .1 .7-1.6 .7-1 .7-2.4 .7 .6 .7-1.6 .7 .3 .7-2.2 .7-1.3 .7-.4 .7-.6 .7-.8 .7-.7 .7-.1 .7-1.1 .7 .2 .7 1.1 .7 0 .7-.7 .7-1.5 .7 .2 .7-1.8 .7 2.9 .7-1.6 .7-.1 .7-.7 .7-.8 .7 1 .7-1 .7 .2 .7-1.2 .7-.5 .7 .9 .7-1 .7-2 .7 1.3 .7 1.2 .7 2.3 .7 3.1 .7 .4 .7 1.3 .7 1.4 .7 .4 .7 1.9" fill="none" stroke="#222" stroke-width="0.9" stroke-linejoin="round" clip-path="url(#cP6)"/><line x1="180.1" y1="449.5" x2="180.1" y2="517.9" stroke="#ff00ff" stroke-width="1.4" stroke-dasharray="1.5,2"/><line x1="339.5" y1="449.5" x2="339.5" y2="517.9" stroke="#00a000" stroke-width="1" stroke-dasharray="6,3"/><line x1="348.5" y1="449.5" x2="348.5" y2="517.9" stroke="#0000ff" stroke-width="1" stroke-dasharray="1.5,2"/><line x1="378.5" y1="449.5" x2="378.5" y2="517.9" stroke="#ff0000" stroke-width="1" stroke-dasharray="7.5,2.5"/><line x1="378.5" y1="449.5" x2="378.5" y2="517.9" stroke="#ff00ff" stroke-width="1" stroke-dasharray="1.5,2"/><line x1="457.5" y1="449.5" x2="457.5" y2="517.9" stroke="#ff0000" stroke-width="1" stroke-dasharray="7.5,2.5"/><line x1="496.5" y1="449.5" x2="496.5" y2="517.9" stroke="#00a000" stroke-width="1" stroke-dasharray="6,3"/><line x1="77.5" y1="457.3" x2="95" y2="457.3" stroke="#ff6060" stroke-width="1.2"/><text transform="translate(96,460.5) scale(1.12,1)" font-size="9" text-anchor="start" fill="#ff0000">Ne</text><line x1="77.5" y1="470.6" x2="95" y2="470.6" stroke="#444" stroke-width="1.2"/><text transform="translate(96,473.8) scale(1.12,1)" font-size="9" text-anchor="start" fill="#000">Ni</text><path d="M79.7 555.4l22.3 8.9 23.2-16 22.3 18.3 22.8-5.9 22.7-1.6 22.6-17.1 22.9 4.3 22.8-27.8 22.7 42.2 22.9-10.1 22.7 20.1 22.8-14.4 22.8 1.4 22.7-12.5 22.6 12.5 22.9 0 22.6 5.4 22.5-5.4" fill="none" stroke="#ff0000" stroke-width="1.3" stroke-linejoin="round" clip-path="url(#cP7)"/><g fill="#ff0000"><circle cx="79.7" cy="555.4" r="2.3"/><circle cx="102" cy="564.3" r="2.3"/><circle cx="125.2" cy="548.3" r="2.3"/><circle cx="147.5" cy="566.6" r="2.3"/><circle cx="170.3" cy="560.7" r="2.3"/><circle cx="193" cy="559.1" r="2.3"/><circle cx="215.6" cy="542" r="2.3"/><circle cx="238.5" cy="546.3" r="2.3"/><circle cx="261.3" cy="518.5" r="2.3"/><circle cx="284" cy="560.7" r="2.3"/><circle cx="306.9" cy="550.6" r="2.3"/><circle cx="329.6" cy="570.7" r="2.3"/><circle cx="352.4" cy="556.3" r="2.3"/><circle cx="375.2" cy="557.7" r="2.3"/><circle cx="397.9" cy="545.2" r="2.3"/><circle cx="420.5" cy="557.7" r="2.3"/><circle cx="443.4" cy="557.7" r="2.3"/><circle cx="466" cy="563.1" r="2.3"/><circle cx="488.5" cy="557.7" r="2.3"/></g><path d="M79.7 585.6l22.3 0 23.2 0 22.3 0 22.8 0 22.7 0 22.6 0 22.9 0 22.8 0 22.7 0 22.9 0 22.7 0 22.8 0 22.8 0 22.7 0 22.6 0 22.9 0 22.6 0 22.5 0" fill="none" stroke="#2020ff" stroke-width="0.8" stroke-linejoin="round" clip-path="url(#cP7)"/><g fill="#0000ff"><circle cx="79.7" cy="585.6" r="1.8"/><circle cx="102" cy="585.6" r="1.8"/><circle cx="125.2" cy="585.6" r="1.8"/><circle cx="147.5" cy="585.6" r="1.8"/><circle cx="170.3" cy="585.6" r="1.8"/><circle cx="193" cy="585.6" r="1.8"/><circle cx="215.6" cy="585.6" r="1.8"/><circle cx="238.5" cy="585.6" r="1.8"/><circle cx="261.3" cy="585.6" r="1.8"/><circle cx="284" cy="585.6" r="1.8"/><circle cx="306.9" cy="585.6" r="1.8"/><circle cx="329.6" cy="585.6" r="1.8"/><circle cx="352.4" cy="585.6" r="1.8"/><circle cx="375.2" cy="585.6" r="1.8"/><circle cx="397.9" cy="585.6" r="1.8"/><circle cx="420.5" cy="585.6" r="1.8"/><circle cx="443.4" cy="585.6" r="1.8"/><circle cx="466" cy="585.6" r="1.8"/><circle cx="488.5" cy="585.6" r="1.8"/></g><line x1="180.1" y1="517.9" x2="180.1" y2="586.6" stroke="#ff00ff" stroke-width="1.4" stroke-dasharray="1.5,2"/><line x1="339.5" y1="517.9" x2="339.5" y2="586.6" stroke="#00a000" stroke-width="1" stroke-dasharray="6,3"/><line x1="348.5" y1="517.9" x2="348.5" y2="586.6" stroke="#0000ff" stroke-width="1" stroke-dasharray="1.5,2"/><line x1="378.5" y1="517.9" x2="378.5" y2="586.6" stroke="#ff0000" stroke-width="1" stroke-dasharray="7.5,2.5"/><line x1="378.5" y1="517.9" x2="378.5" y2="586.6" stroke="#ff00ff" stroke-width="1" stroke-dasharray="1.5,2"/><line x1="457.5" y1="517.9" x2="457.5" y2="586.6" stroke="#ff0000" stroke-width="1" stroke-dasharray="7.5,2.5"/><line x1="496.5" y1="517.9" x2="496.5" y2="586.6" stroke="#00a000" stroke-width="1" stroke-dasharray="6,3"/><line x1="77.5" y1="523.2" x2="95" y2="523.2" stroke="#00dd00" stroke-width="1.2"/><circle cx="86" cy="523.2" r="2" fill="#00dd00"/><text transform="translate(96,526.4) scale(1.12,1)" font-size="9" text-anchor="start" fill="#00dd00">N  He+</text><line x1="77.5" y1="532.3" x2="95" y2="532.3" stroke="#ff0000" stroke-width="1.2"/><circle cx="86" cy="532.3" r="2" fill="#ff0000"/><text transform="translate(96,535.5) scale(1.12,1)" font-size="9" text-anchor="start" fill="#ff0000">N  He++</text><line x1="77.5" y1="541.4" x2="95" y2="541.4" stroke="#0000ff" stroke-width="1.2"/><circle cx="86" cy="541.4" r="2" fill="#0000ff"/><text transform="translate(96,544.6) scale(1.12,1)" font-size="9" text-anchor="start" fill="#0000ff">N  O+</text><path d="M71.7 602.3l.6 0 .6 4.2 .6-2.7 .6-.3 .6 5.4 .6 2.3 .6-.9 .6 2.6 .6 7.4 .6-4 .6 2.9 .6 4.8 .6 1.4 .6 3.5 .6 .4 .6-3.5 .6-.7 .6-2.5 .6 .6 .6-1.9 .6-4.1 .6 2.1 .6-2.7 .6 .8 .6-1.3 .6 .5 .6-5.6 .6 2.8 .6-5.1 .6 2 .6-5.8 .6-1.1 .6-2 .6 .6 .6 .4 .6-2.2 .6-1.3 .6-.6 .6-1.2 .6-.4 .6-1.9 .6 .4 .6 2 .6-1.2 .6-4 .6 4.4 .6 2.6 .6 .9 .6 1.7 .6 4 .6 4.7 .6 3.1 .6-.4 .6 2.5 .6-.3 .6 1.9 .6-.4 .6-2.3 .6 1.2 .6 1.6 .6 1.1 .6-1.5 .6 2.6 .6-1.9 .6-1.6 .6-.9 .6 4.2 .6-4.2 .6-1.6 .6 2.3 .6-1.7 .6 1.7 .6-3.6 .6 3.8 .6 .6 .6-1.4 .6-.2 .6 2.5 .6 2.4 .6-2.1 .6 1.4 .6 2.9 .6-.1 .6-.4 .6 1.5 .6 .5 .6-.7 .6 .6 .6-3.9 .6 4.6 .6 1.3 .6-.1 .6-1.8 .6 3.4 .6-.5 .6-3.5 .6 1.3 .6-.7 .6-.6 .6 3 .6-.1 .6-1.8 .6 1.7 .6 1.8 .6-.3 .6 3 .6-.1 .6 .2 .6-2.8 .6 4.6 .6-5.4 .6 3.7 .6 2.1 .6-1.4 .6-1.2 .6 .7 .6-1 .6 4.3 .6-1 .6-1.8 .6 4.6 .6-3.5 .6 .9 .6-4.2 .6 2.2 .6 .6 .6-1.5 .6-1.5 .6 5.3 .6-1 .6 6.3 .6 0 .6 2.5 .6 3.2 .6 2.4 .6 5 .6-1.9 .6-5.8 .6 0 .6-5.1 .6-2.2 .6-3 .6-1.6 .6 .4 .6-3.2 .6-2.2 .6-2.1 .6-1.3 .6-.9 .6-.3 .6-1.6 .6-.3 .6-6.2 .6 3.1 .6-1.6 .6-6.3 .6 4 .6-1.7 .6-.2 .6 4.9 .6-.3 .6 3.7 .6 3.3 .6 2 .6-.2 .6-1.9 .6-3.2 .6 2.4 .6 1.5 .6 .3 .6-1.9 .6-2.9 .6 .2 .6-2 .6 .8 .6-3.3 .6 2.7 .6 1.3 .6-3.1 .6 3.5 .6-5.9 .6 4.9 .6-3.1 .6 1.3 .6 .8 .6 .2 .6-4.2 .6 3 .6-3.5 .6 2.7 .6-1 .6 .7 .6-2.5 .6 1.3 .6-1.2 .6 2.1 .6 1.4 .6-.1 .6-1 .6 2.3 .6-.8 .6 1.4 .6-.6 .6-.2 .6 2.2 .6 2 .6-1.3 .6 1.8 .6-1.5 .6 3.3 .6-2.5 .6-1.7 .6 4.7 .6-3.2 .6 4 .6-3.5 .6-1.3 .6 .2 .6 2.3 .6-2.1 .6 3.7 .6-1 .6 4.9 .6 .6 .6 1.8 .6 7 .6-5.7 .6 5.3 .6-2.5 .6 .1 .6-2.9 .6-1 .6-.8 .6-3.9 .6 1.3 .6-3.2 .6 2.1 .6-3.3 .6 0 .6-.5 .6-1.1 .6 1.1 .6 2.5 .6-5.3 .6-.4 .6 1.6 .6 1.3 .6-1 .6 5.6 .6-5.3 .6 2.9 .6-1.9 .6 3.6 .6 .8 .6-3.7 .6 .7 .6-1.8 .6 3.2 .6-1.9 .6-1.4 .6-.7 .6 1.6 .6-1.6 .6 1.7 .6-2.2 .6 3 .6 1.6 .6-2 .6 3.7 .6-2.4 .6 .9 .6 1.3 .6 2.8 .6 0 .6 3.2 .6-5.8 .6 4.2 .6 2.7 .6-3.6 .6 3.3 .6-3 .6 4.6 .6-8 .6 5.3 .6 .2 .6-.6 .6-4.7 .6 4 .6-5.6 .6 3.7 .6 1.7 .6-.8 .6-.9 .6 0 .6-.5 .6-4 .6-1.2 .6 2.5 .6-.9 .6-1.2 .6 .2 .6 .8 .6-1.3 .6-1.4 .6 1.6 .6-.6 .6-.7 .6 .9 .6-2 .6 .9 .6-.6 .6-.9 .6-1.4 .6-.6 .6 0 .6 1.4 .6-1.8 .6-3.9 .6-.5 .6-5.9 .6 1.3 .6-1.4 .6-.4 .6-2.4 .6 1.1 .6-2.4 .6 0 .6-3.5 .6 1.1 .6-1.3 .6 2.5 .6-3.6 .6-.5 .6 .4 .6 1.6 .6-.8 .6 1.7 .6 2.6 .6-4.1 .6-1.4 .6 2.2 .6 1.2 .6 1.9 .6-3.6 .6 4.7 .6-1.5 .6 .6 .6 2.3 .6 1.2 .6 1.5 .6-1.3 .6 .9 .6-2 .6 2 .6-1.2 .6 1.7 .6-1.7 .6-1.9 .6 .3 .6 .2 .6-.9 .6 2.4 .6-4 .6-.3 .6 2.1 .6-1.2 .6 2.7 .6-.4 .6 1.1 .6-.3 .6 1.1 .6-1.3 .6 1.5 .6-1.6 .6-.3 .6 1.8 .6 .4 .6-3.5 .6-.8 .6-1.1 .6 .6 .6-2.2 .6 .6 .6-1.4 .6 1.6 .6-1.2 .6-1.8 .6 .7 .6 .6 .6 .3 .6-.2 .6-3.9 .6 1.4 .6-.7 .6 3.3 .6-.5 .6-3 .6 .7 .6 .2 .6-.6 .6 1.9 .6-1 .6-.9 .6 1.1 .6-.3 .6-2.6 .6 1.2 .6 1.1 .6-1.1 .6 3.5 .6-.6 .6-3.2 .6 2 .6-1.2 .6-3.9 .6 2.2 .6 2.2 .6-2 .6-.6 .6 1.5 .6-.8 .6-.6 .6-3.2 .6 .6 .6-.8 .6-1.2 .6-2.5 .6 .9 .6 .4 .6-5.1 .6 7 .6-2.9 .6 1.5 .6 2.2 .6-.7 .6-.6 .6 6.1 .6-2.8 .6 5 .6-.1 .6-2.4 .6 3.7 .6-1.9 .6 2.9 .6-1.7 .6 1.4 .6-2.6 .6-.1 .6 2.5 .6-5.1 .6 3.6 .6-3.1 .6 1.3 .6-1.8 .6 4.2 .6 2.3 .6-1 .6 2.7 .6 2 .6-1.2 .6 1 .6 1.2 .6 .1 .6 .7 .6-.3 .6 3.4 .6-1.9 .6 .4 .6 .6 .6 1.4 .6 2.9 .6-4.2 .6 0 .6-1.1 .6 .1 .6 1 .6-.9 .6-1.3 .6 0 .6-.1 .6-1.5 .6-1.2 .6 1.1 .6 .6 .6-3.4 .6 3.8 .6-1.8 .6-1.4 .6 1.9 .6-1.6 .6-.3 .6-.6 .6-2.1 .6 1.4 .6-2 .6 4.3 .6-.8 .6 .3 .6 .4 .6-1.6 .6-2.2 .6 4.9 .6-.1 .6 1.3 .6 3 .6 .7 .6-1.5 .6-1.3 .6 .3 .6-3.6 .6 2 .6 2.9 .6-3.9 .6 2.5 .6 1.3 .6 0 .6 .5 .6-.2 .6 1.1 .6 .5 .6-1.6 .6 1.1 .6-1.3 .6-.1 .6-1.4 .6 0 .6-1.8 .6-1.7 .6 .6 .6-1.4 .6 2.1 .6-2.1 .6 2.6 .6-3.8 .6 2.3 .6-5.6 .6 4 .6-1 .6-1.1 .6 2 .6-3.4 .6 3.6 .6-2.8 .6 .3 .6-1.6 .6 2.5 .6-1.2 .6 1 .6-.1 .6 .7 .6-2.1 .6 1.1 .6 1 .6 .4 .6-1 .6 .2 .6 .1 .6-.4 .6 2.5 .6 1.3 .6-2.4 .6 .4 .6-4 .6 6.8 .6-1.4 .6-4.3 .6 6.3 .6-2 .6-.3 .6-2.3 .6 2.4 .6-3 .6 3.4 .6 2.2 .6-2.3 .6-2.1 .6 4.5 .6-3.8 .6 2.8 .6 0 .6 2.3 .6-1.9 .6 .8 .6-3.5 .6 2.9 .6-.4 .6-2.1 .6 3.6 .6 .5 .6-2.8 .6 .7 .6 2.3 .6 .2 .6 1.7 .6-3.5 .6 1.4 .6 2.9 .6-3 .6 .8 .6 6.1 .6 .8 .6 5.7 .6-1.5 .6 3.8 .6 1.6 .6 2.5 .6 2.6 .6 1.2 .6-3.7 .6 2 .6-3.9 .6-.7 .6 1 .6-1 .6 2.6 .6-.8 .6-3.6 .6-1.1 .6 .7 .6 .7 .6-.7 .6-.6 .6-.5 .6-1 .6-.7 .6 2.8 .6-1.4 .6-2.1 .6 3.5 .6-1.7 .6-3.2 .6 2.9 .6 2 .6-1.2 .6-1.3 .6 .2 .6-.6 .6 4.4 .6-1.3 .6 .3 .6 1 .6-2.8 .6-.7 .6 1.4 .6 1.9 .6-.9 .6 2.3 .6-1.2 .6 1 .6 2 .6-2.5 .6 .6 .6 .3 .6-2.7 .6-.2 .6 1.5 .6 3.1 .6-7.2 .6 2.3 .6 .7 .6 .2 .6 .2 .6-1.8 .6 2.4 .6-3.9 .6 .9 .6-1.2 .6 .7 .6 2.9 .6 2.1 .6-4.1 .6 2.4 .6-.2 .6-1 .6-.3 .6 2.6 .6-1.6 .6 .2 .6-.3 .6-.8 .6-1.9 .6 1 .6 1.1 .6 3.8 .6-3.4 .6-1.8 .6 2.6 .6 1.4 .6-2.6 .6-.9 .6 4.2 .6-4 .6 1.4 .6 2.2 .6 3.1 .6-2.9 .6-.2 .6-1.6 .6-1 .6-1.1 .6-4 .6-.7 .6 1.7 .6-1.3 .6 1.7 .6-1.1 .6-1.2 .6-.6 .6-.2 .6 1 .6-.7 .6-1.3 .6 2.1 .6-2.7 .6 1 .6-2 .6 2 .6-2.7 .6 .3 .6-1.3 .6-3 .6 4.8 .6-2.8 .6 4.1 .6-1.5 .6 1.4 .6 .3 .6-1.2 .6-.8 .6 .5 .6-.1 .6 1.1 .6-1.2 .6 2.8 .6-1.7 .6-.5 .6 2.2 .6-.7 .6-1.8 .6-1.1 .6 0 .6 .5 .6-.7 .6-.4 .6 .6 .6-1.2 .6-6.1 .6 5 .6-2.6 .6 .3 .6-3.1 .6 3.4 .6-7.4" fill="none" stroke="#ff1a1a" stroke-width="0.9" stroke-linejoin="round" clip-path="url(#cP8)"/><path d="M71.7 591.3l.6-1.5 .6 .3 .6-.8 .6-1.2 .6 .1 .6-.4 .6 0 .6 3.1 .6 3.2 .6-.4 .6 1.4 .6 2.6 .6-2.2 .6 1.7 .6 1.2 .6-1.2 .6 .2 .6 .5 .6-1.6 .6 4.5 .6-3.4 .6 .9 .6 .2 .6-2 .6 3 .6-.8 .6 2 .6-.5 .6 0 .6-1.5 .6 .2 .6 4.2 .6 5.4 .6 4.8 .6 6 .6 1.5 .6 1.1 .6 1.6 .6-1.8 .6 3.2 .6-2.4 .6 .7 .6-1.8 .6 .9 .6-.5 .6-1.1 .6-3.2 .6 2.8 .6 .9 .6 2.5 .6-.1 .6 3.7 .6 .7 .6-1.4 .6-.5 .6 .4 .6-.4 .6-1.4 .6-.4 .6-.4 .6-3.4 .6-1.9 .6 .9 .6 1.4 .6-.1 .6-3.8 .6 2.6 .6 0 .6-2.8 .6 .9 .6 .6 .6 1.5 .6-.4 .6 .2 .6-.4 .6-.7 .6 3.1 .6-1 .6 0 .6 .3 .6-.2 .6 1.6 .6-.6 .6-.4 .6 2.5 .6 .2 .6-.4 .6-2.1 .6 .6 .6 1.4 .6-2 .6-.1 .6 1.1 .6 1.1 .6-2 .6 2.3 .6-.4 .6 1.9 .6 1.8 .6 2.2 .6 1.9 .6 2.6 .6 2.5 .6 2.5 .6 1.1 .6 2.8 .6 3.2 .6-1 .6 1.6 .6-1 .6 1.7 .6-1 .6-.6 .6-1.3 .6 .3 .6 .1 .6-3.3 .6-1.3 .6 .9 .6-2.2 .6-.6 .6-1.5 .6-1.6 .6-1.2 .6 1.2 .6-1.7 .6-1 .6 .3 .6 2.3 .6 2.7 .6 .6 .6 1.1 .6 6.3 .6 .7 .6 4.5 .6 .3 .6 .2 .6 2.4 .6-2.6 .6 .5 .6-5.3 .6-4.2 .6-4.3 .6-2.4 .6-2.4 .6-2.1 .6-1.1 .6-2.5 .6 .7 .6-5.2 .6 0 .6-1 .6-3.1 .6 .2 .6-.5 .6-.8 .6 .9 .6 3.7 .6 .4 .6-.1 .6 2 .6 3.6 .6 4.8 .6 .9 .6 4.4 .6 3.5 .6-2.2 .6 .5 .6-1.5 .6-7.4 .6-7.1 .6-3.3 .6-2.7 .6-1.5 .6-.8 .6 .1 .6-3.4 .6 1.5 .6-.9 .6 2.3 .6-2 .6 1 .6 .9 .6-2.1 .6 1 .6 .5 .6 1.1 .6-1.5 .6-.6 .6-.4 .6-1.2 .6-1.8 .6-1.9 .6 .2 .6 4 .6-1.8 .6 1.1 .6 3.1 .6-.2 .6 .9 .6-1.7 .6 .5 .6-1.9 .6 1.3 .6-1.4 .6 1.1 .6-2.3 .6-1.6 .6 2.4 .6 3.8 .6 1.2 .6 1.7 .6 2 .6 2.6 .6-1.6 .6 1.3 .6 1.5 .6-4.2 .6 1.8 .6-.8 .6 1.6 .6 .1 .6-.4 .6 .9 .6-.5 .6 2.3 .6 2.9 .6-.2 .6 1.5 .6-.5 .6 2.8 .6-1.2 .6 3.1 .6 1.7 .6-.7 .6 4.2 .6-.7 .6 4.4 .6-4.6 .6-3.7 .6-2.7 .6-2.3 .6-3.9 .6 .5 .6-1.9 .6-.8 .6 1.2 .6 1.6 .6-1.1 .6-.5 .6 .8 .6-.2 .6-1.4 .6 .1 .6 .2 .6-.7 .6-.1 .6-2.5 .6 1.5 .6-.8 .6-2 .6 2.2 .6 2.4 .6-1.5 .6-1.9 .6-.3 .6 2 .6 3.5 .6-.5 .6 3.6 .6-1.1 .6 1.2 .6 1.1 .6 .5 .6 3.8 .6 .8 .6 .9 .6-2.8 .6-5.3 .6-2.8 .6-3.2 .6-1.8 .6-.7 .6-1.9 .6 2.5 .6-2.1 .6 1.9 .6 .7 .6 .8 .6-1.8 .6 1.1 .6-1.5 .6 .2 .6-2.8 .6 1.2 .6 2.3 .6-1.1 .6 1.1 .6 0 .6 .9 .6-2.3 .6 3.7 .6-.3 .6-3 .6-.1 .6 .2 .6-3.3 .6-2.8 .6 .7 .6-4 .6 3.6 .6-.4 .6 2.8 .6 0 .6-.2 .6 3 .6-1.3 .6 1.8 .6-1 .6-4.6 .6 4 .6-1.8 .6-3.7 .6-1.6 .6-.2 .6-.3 .6-2.6 .6-2.5 .6 .7 .6-3.5 .6 1.8 .6-2.7 .6 1.8 .6-1.9 .6-.1 .6-.2 .6 1.2 .6-.9 .6-.7 .6-1.5 .6 2.9 .6-1.4 .6-1.7 .6 .8 .6 .5 .6 1.4 .6 3 .6 .3 .6-.3 .6 .2 .6 4.5 .6-3.2 .6 2.7 .6 2.4 .6-1.3 .6 .5 .6 1 .6-.4 .6 .4 .6-2.3 .6 .6 .6 .2 .6-2.2 .6-.6 .6 1.1 .6 .7 .6-.9 .6 1.2 .6 1.6 .6-1.7 .6 2.9 .6-1 .6 2.3 .6-2.7 .6 3.5 .6-2.3 .6 1 .6-1.2 .6-2.7 .6 2.6 .6-2.5 .6-.9 .6 2.5 .6-2.9 .6-1.2 .6-1.2 .6 3.2 .6-3.8 .6 .7 .6-1.2 .6 1.2 .6-1.1 .6-1.2 .6-1.7 .6 3.1 .6-.4 .6 3.7 .6-.8 .6 .5 .6 .7 .6 .1 .6 .8 .6 0 .6-.5 .6 1.2 .6-.1 .6-.6 .6 .1 .6-2.6 .6 1.7 .6-.6 .6 1.7 .6-.3 .6-1.4 .6 .3 .6 .4 .6 2.1 .6-.1 .6 1.1 .6 .9 .6-3.7 .6 .9 .6 1.9 .6 2.3 .6-1.1 .6 0 .6 2.7 .6-.7 .6 1.7 .6-.2 .6 1.8 .6-2.1 .6 1.4 .6 .3 .6 1.1 .6-2 .6-.8 .6 .5 .6 1.3 .6-.7 .6 .1 .6 1.4 .6 .7 .6-.4 .6-.4 .6-1.8 .6-.8 .6 .6 .6-.4 .6-.1 .6-1 .6-1.3 .6-1.1 .6-1.5 .6 2.7 .6-.7 .6 2.8 .6-3.1 .6-1 .6 2.4 .6-1.1 .6-2.3 .6 0 .6-.6 .6-1.4 .6 2 .6-2.1 .6-1.1 .6-.8 .6 1 .6-4.2 .6 1.2 .6-1.7 .6-1.9 .6 2.5 .6-2.3 .6-.9 .6 2.8 .6 .5 .6-1.5 .6 3.4 .6-2.5 .6 1.7 .6-.9 .6 2 .6-1.7 .6 .8 .6-2.9 .6 .7 .6-1.4 .6-.9 .6-.3 .6-.7 .6-.6 .6 .4 .6-1.6 .6 .7 .6 .3 .6-1.9 .6 1.4 .6 2.1 .6-1.5 .6 1.6 .6-.3 .6 .5 .6 1.4 .6-.2 .6 1.6 .6 .2 .6-1.7 .6 2.5 .6 3.1 .6-2.1 .6 .2 .6 2.5 .6 .5 .6 .5 .6 .3 .6 1.1 .6 3.5 .6-3.2 .6 3.4 .6-2.9 .6 .8 .6 1.2 .6 1.4 .6-2.3 .6 1.1 .6-.7 .6 .7 .6-1.2 .6 1.1 .6-1.3 .6 2.5 .6 1.5 .6-3.1 .6 1.7 .6-1.6 .6-.2 .6 .3 .6-.1 .6-1.7 .6-1.4 .6 2 .6-.2 .6-2 .6 1 .6-.1 .6 1 .6-1.4 .6 1.3 .6-.8 .6-.6 .6 2.2 .6 .3 .6-3 .6 3.2 .6 .2 .6-.6 .6-1.9 .6 1.6 .6 0 .6-.1 .6-1.2 .6 .7 .6-.8 .6 .5 .6 .3 .6 .5 .6-1.7 .6-.6 .6-2.4 .6 3.2 .6-3.8 .6 .5 .6 1.6 .6 .8 .6-4.1 .6 .6 .6 1.5 .6-2.7 .6 2.5 .6 1.1 .6-2.7 .6 2.5 .6-2.6 .6 2.4 .6-1.6 .6 2.2 .6-1.5 .6-.3 .6-1.9 .6 2.6 .6-2.7 .6 .3 .6-.1 .6-4 .6-4.2 .6 2.4 .6 0 .6-1.4 .6 2.2 .6 3.5 .6-1.5 .6-1.4 .6-.6 .6 .4 .6 .6 .6 .4 .6-.5 .6 .1 .6 .9 .6-1.9 .6 1.5 .6-.2 .6 .7 .6 .7 .6-3.6 .6 2.4 .6-2.5 .6 1.3 .6 2.1 .6-.5 .6 .1 .6-.3 .6 .6 .6 0 .6-1.8 .6 .4 .6-1.1 .6 3.3 .6-2 .6 1.4 .6-2.3 .6 .2 .6 1.8 .6-.8 .6-1.8 .6-2.7 .6 2.4 .6-1.8 .6 1.2 .6-2.4 .6-.4 .6-2.6 .6 4.3 .6 .9 .6-3.9 .6 3.4 .6-.8 .6-1.6 .6 2.4 .6-2.7 .6 2.7 .6-1.6 .6 1.2 .6 2.9 .6-4.4 .6 1.9 .6 1.5 .6 .4 .6-.8 .6 1.6 .6-2.2 .6 1 .6 3.2 .6 .2 .6 2.5 .6 1.8 .6 1.3 .6 .8 .6 .6 .6-.9 .6 0 .6-1.5 .6 .4 .6-1.2 .6 1.4 .6-1.7 .6-1.2 .6 .4 .6 1.8 .6-1 .6-1.8 .6 2.2 .6-1.9 .6-.2 .6 1.5 .6-.4 .6 .3 .6 1.7 .6-.8 .6 .2 .6-1.2 .6 .8 .6-1.8 .6 1.8 .6 .5 .6-1.9 .6 .4 .6 .8 .6-.4 .6-.6 .6-1.4 .6 1.5 .6-1.3 .6-1.2 .6 .8 .6 .1 .6 .4 .6 .3 .6-1.3 .6 0 .6-1.2 .6 1.4 .6 .8 .6 0 .6-.7 .6 3.1 .6-.1 .6 1 .6-1.8 .6 3.4 .6 .6 .6-1.5 .6 .2 .6 2.1 .6 1.3 .6 1 .6-1.9 .6 2.2 .6-.6 .6 1.8 .6-.2 .6 1 .6-.7 .6 .2 .6-1.8 .6 2.7 .6-1.4 .6 3.6 .6-4.9 .6 2 .6-.8 .6-2.7 .6-1.1 .6 1.4 .6-1.4 .6-1.5 .6-1.2 .6 .2 .6 .4 .6-3.9" fill="none" stroke="#222" stroke-width="0.9" stroke-linejoin="round" clip-path="url(#cP8)"/><line x1="180.1" y1="586.6" x2="180.1" y2="654.5" stroke="#ff00ff" stroke-width="1.4" stroke-dasharray="1.5,2"/><line x1="339.5" y1="586.6" x2="339.5" y2="654.5" stroke="#00a000" stroke-width="1" stroke-dasharray="6,3"/><line x1="348.5" y1="586.6" x2="348.5" y2="654.5" stroke="#0000ff" stroke-width="1" stroke-dasharray="1.5,2"/><line x1="378.5" y1="586.6" x2="378.5" y2="654.5" stroke="#ff0000" stroke-width="1" stroke-dasharray="7.5,2.5"/><line x1="378.5" y1="586.6" x2="378.5" y2="654.5" stroke="#ff00ff" stroke-width="1" stroke-dasharray="1.5,2"/><line x1="457.5" y1="586.6" x2="457.5" y2="654.5" stroke="#ff0000" stroke-width="1" stroke-dasharray="7.5,2.5"/><line x1="496.5" y1="586.6" x2="496.5" y2="654.5" stroke="#00a000" stroke-width="1" stroke-dasharray="6,3"/><line x1="77.5" y1="596.5" x2="95" y2="596.5" stroke="#ff6060" stroke-width="1"/><text transform="translate(96,599.8) scale(1.12,1)" font-size="9" text-anchor="start" fill="#ff0000">T<tspan font-size="6.5" dy="2.5">||</tspan></text><line x1="77.5" y1="615.5" x2="95" y2="615.5" stroke="#444" stroke-width="1"/><text transform="translate(96,618.3) scale(1.12,1)" font-size="9" text-anchor="start" fill="#000">T<tspan font-size="6.5" dy="2.5">⊥</tspan></text><path d="M71.7 720.9l.8 .1 .8-.1 .8 0 .8 .1 .8 0 .8 0 .8-.5 .8 .3 .8 0 .8 .1 .8-.3 .8-.2 .8 .1 .8-.2 .8-.5 .8 .3 .8-.3 .8 0 .8 0 .8-.5 .8 .5 .8-.7 .8 .4 .8-.2 .8-.3 .8 .3 .8-.6 .8-.3 .8 .3 .8-.4 .8 .2 .8-.1 .8 .3 .8-.6 .8 0 .8 0 .8 0 .8-.4 .8 .2 .8-.6 .8 0 .8-.1 .8 .1 .8 .4 .8-.1 .8 .3 .8-.4 .8 .3 .8 .4 .8-.1 .8 0 .8-.4 .8 .5 .8-.5 .8 .3 .8-.5 .8 0 .8 .4 .8-.7 .8-.1 .8 .3 .8-.3 .8 .5 .8 .1 .8 0 .8 0 .8 .3 .8-.1 .8 .2 .8-.2 .8 .3 .8-.4 .8 .3 .8-.6 .8 .1 .8-.2 .8 .1 .8 .1 .8 0 .8 .3 .8-.1 .8-.5 .8 .6 .8 .3 .8 0 .8 0 .8 .1 .8-.1 .8-.6 .8 .1 .8 .3 .8 0 .8-.6 .8 0 .8 .1 .8-.1 .8-.1 .8-.2 .8 .4 .8 .1 .8-.6 .8 0 .8 .5 .8-.1 .8-.3 .8 .2 .8 .1 .8 .2 .8-.1 .8 0 .8 0 .8-.1 .8-.1 .8 0 .8 .3 .8-.2 .8-.1 .8 .7 .8 0 .8 .5 .8-.2 .8-.2 .8 0 .8 .6 .8-.3 .8-.5 .8 .2 .8 .1 .8 .3 .8-.4 .8-.4 .8 .7 .8-.5 .8 .2 .8-.3 .8 .3 .8 .1 .8-.4 .8 .2 .8 .3 .8-.2 .8 .3 .8-.3 .8-.2 .8 0 .8 .5 .8 .1 .8-.2 .8 .1 .8 .1 .8-.5 .8 .2 .8 .2 .8 .1 .8 .1 .8 0 .8-.1 .8 .3 .8 0 .8-.1 .8 .2 .8-.2 .8 0 .8 .1 .8-.2 .8 .5 .8-.6 .8 .4 .8-.5 .8 .3 .8-.1 .8 .1 .8 .6 .8-.5 .8 .2 .8-.2 .8 .6 .8 .3 .8-.9 .8-.1 .8 .2 .8 .4 .8-.4 .8-.6 .8 .1 .8 .3 .8-.1 .8 .3 .8-.4 .8-.2 .8-.2 .8-.1 .8-.1 .8 .1 .8 .2 .8-.5 .8 0 .8 .1 .8 .2 .8-.4 .8-.1 .8 .1 .8-.2 .8-.1 .8-.2 .8 .3 .8-.3 .8-.3 .8 .2 .8-.2 .8-.5 .8 .4 .8-.3 .8 0 .8 .3 .8 .1 .8 0 .8 0 .8 .4 .8-.5 .8 .7 .8-.1 .8-.3 .8-.1 .8 .4 .8 0 .8-.2 .8 0 .8 .2 .8 0 .8-.2 .8 .1 .8-.1 .8-.4 .8 .1 .8 .2 .8-.1 .8 .1 .8 .2 .8-.5 .8-.1 .8 .5 .8-.1 .8 0 .8 .1 .8 .7 .8-.8 .8 0 .8-.1 .8-.1 .8 0 .8 .5 .8-.1 .8-.5 .8-.2 .8 .7 .8 0 .8-.3 .8 .1 .8 0 .8-.2 .8-.1 .8 .4 .8 .1 .8-.2 .8 .3 .8-.3 .8-.2 .8 .3 .8-.2 .8 0 .8 .5 .8 .1 .8-.3 .8 .1 .8 .1 .8-.3 .8 .4 .8-.2 .8 .3 .8-.2 .8 .4 .8-.6 .8 1.1 .8-1 .8 1 .8-.4 .8-.1 .8 .9 .8-.7 .8 .1 .8-.3 .8 .2 .8 .1 .8 .3 .8-.1 .8 .3 .8-.4 .8 0 .8-.4 .8 .7 .8-.5 .8-.1 .8 .8 .8-.7 .8-.1 .8 .1 .8 .1 .8-.1 .8 .4 .8-.2 .8 .4 .8-.3 .8 .1 .8-.6 .8 .2 .8 .3 .8-.2 .8 .1 .8 0 .8 .2 .8-.2 .8-.1 .8-.1 .8 .3 .8 .1 .8-.1 .8-.2 .8 0 .8 .5 .8-.3 .8-.1 .8 .1 .8 0 .8 .1 .8 0 .8-.7 .8 .3 .8 .3 .8 0 .8-.2 .8 .3 .8-.2 .8 0 .8-.2 .8 .5 .8 .1 .8-.4 .8 .2 .8-.3 .8 0 .8-.2 .8 .1 .8 .3 .8-.4 .8 .6 .8 0 .8-.3 .8 .3 .8-.4 .8-.1 .8-.2 .8 .5 .8-.2 .8 .5 .8-.2 .8-.3 .8-.1 .8 .1 .8-.5 .8 .3 .8 .4 .8-.6 .8-.1 .8 .3 .8-.3 .8 .1 .8-.1 .8-.1 .8 0 .8-.1 .8 .3 .8-.6 .8 .7 .8-.5 .8 .6 .8-.5 .8-.1 .8 .3 .8-.5 .8-.2 .8 0 .8 .4 .8-.1 .8 .3 .8-.4 .8-.1 .8 .8 .8-.5 .8-.5 .8 .5 .8-.3 .8 .2 .8 .1 .8-.3 .8-.5 .8 .6 .8 0 .8-.3 .8-.2 .8 0 .8-.1 .8 .1 .8 .1 .8 .2 .8-.1 .8-.1 .8 0 .8 0 .8 .1 .8 0 .8-.2 .8-.1 .8 0 .8-.2 .8-.5 .8 1.1 .8-.2 .8-.1 .8 0 .8-.1 .8 .1 .8-.1 .8-.5 .8 .2 .8 .4 .8 .2 .8-.6 .8 .6 .8-.3 .8-.4 .8 .4 .8-.1 .8 .8 .8-.3 .8 .1 .8 .5 .8 .1 .8-.3 .8 .1 .8 .3 .8 .2 .8-.2 .8 .1 .8 .3 .8 .1 .8-.4 .8-.1 .8 0 .8 .1 .8 .3 .8-.2 .8-.1 .8 .4 .8 0 .8-.4 .8 .6 .8-.1 .8-.3 .8 .1 .8 .1 .8 .1 .8 0 .8-.1 .8 .2 .8-.4 .8-.2 .8 .9 .8-.6 .8 0 .8 .3 .8-.5 .8 .5 .8-.3 .8 0 .8-.1 .8 0 .8-.2 .8 .6 .8-.1 .8 .1 .8-.1 .8 0 .8 .2 .8-.4 .8 .5 .8-.4 .8 0 .8-.2 .8-.2 .8 .4 .8-.1 .8-.1 .8-.1 .8-.4 .8 .4 .8 0 .8 .1 .8 .2 .8-.6 .8-.2 .8 .7 .8-.1 .8-.3 .8 .1 .8-.3 .8 .3 .8 .3 .8-.4 .8-.4 .8 .4 .8 .1 .8 .4 .8-.3 .8-.3 .8 .1 .8-.5 .8 .4 .8-.3 .8 .2 .8 0 .8 .3 .8-1 .8 .8 .8 .1 .8-.5 .8 .2 .8-.3 .8 .8 .8-.5 .8 .3 .8 0 .8-.8 .8 .3 .8-.2 .8 .2 .8 .1 .8 .1 .8-.2 .8 .1 .8-.2 .8 .1 .8-.3 .8 .4 .8 .2 .8-.6 .8 0 .8-.1 .8 .3 .8-.6 .8 .4 .8 0 .8 .4 .8 .2" fill="none" stroke="#ff2020" stroke-width="0.9" stroke-linejoin="round" clip-path="url(#cP9)"/><path d="M71.7 702.8l.8 .5 .8 .5 .8-.4 .8 .3 .8 .4 .8 .9 .8 .1 .8-.3 .8-.1 .8-.5 .8-.3 .8 .4 .8-.1 .8-.3 .8-.8 .8 .6 .8-.2 .8-.4 .8 .3 .8 .1 .8 .2 .8 .2 .8 .2 .8 .7 .8 0 .8 1.5 .8 .8 .8 .6 .8 1 .8 .4 .8 1.2 .8 .7 .8 .6 .8 1.3 .8 .8 .8 1.3 .8 .8 .8 1.6 .8 .1 .8 0 .8 0 .8 0 .8 .2 .8-.6 .8 .5 .8 0 .8 .2 .8 .3 .8 .4 .8-.3 .8 .1 .8-.3 .8 1.1 .8-.4 .8 .7 .8-.1 .8-.2 .8-.2 .8 .5 .8 .2 .8 .2 .8 .4 .8-.9 .8-.5 .8-.6 .8-.3 .8-.8 .8-.8 .8-.7 .8-.6 .8 .1 .8-1 .8 0 .8-.1 .8 .1 .8-.2 .8 .3 .8 .3 .8-.1 .8 .4 .8 .1 .8 .6 .8-.4 .8 .1 .8 .4 .8-.5 .8-.9 .8-.4 .8 .1 .8-.5 .8-.2 .8 .4 .8-1.1 .8 .1 .8-.4 .8 .1 .8-.9 .8-1 .8-.1 .8-.9 .8-1 .8 1 .8 1.8 .8 2.5 .8 1.8 .8-.4 .8-.4 .8 0 .8-.4 .8-.1 .8-.2 .8-.2 .8 0 .8 0 .8 .5 .8-.5 .8 .8 .8 .1 .8-.6 .8 1.2 .8 1 .8 .2 .8 .8 .8-.3 .8-.6 .8-.5 .8-.2 .8-.2 .8-.2 .8-.3 .8 0 .8-.5 .8-1.2 .8-.1 .8-1.7 .8-.2 .8-1 .8-.3 .8-.6 .8-.5 .8-.1 .8 .5 .8 .8 .8-.4 .8-.2 .8 2.5 .8 1 .8 .8 .8 1.2 .8 .5 .8 .6 .8 .2 .8 .9 .8 .3 .8 .2 .8-.1 .8 .8 .8 .4 .8-.6 .8-.3 .8-.1 .8-.4 .8 .2 .8-.2 .8 .1 .8 .1 .8 .3 .8-.3 .8-.3 .8 1.2 .8 .1 .8-.4 .8 .2 .8 .9 .8-.2 .8-.4 .8-.1 .8 .5 .8 0 .8 0 .8-.1 .8 .4 .8-1 .8-.4 .8 .2 .8 .1 .8 .1 .8 .2 .8 .3 .8-.1 .8 .4 .8-.1 .8-.8 .8 .5 .8-.1 .8 .1 .8-.6 .8 .5 .8-1 .8 .1 .8-.1 .8 .5 .8-.4 .8-.2 .8 .2 .8-.9 .8 .1 .8 .1 .8-.3 .8-.6 .8 .4 .8 .1 .8 0 .8-.3 .8-.7 .8 .3 .8-.3 .8 .2 .8-1.6 .8-1.7 .8-2.4 .8-1.4 .8 .6 .8 2.4 .8 2 .8 1 .8 1.6 .8 .7 .8 1.5 .8 1.1 .8-.1 .8-.4 .8 .3 .8-.4 .8 .4 .8-.5 .8-.2 .8 .2 .8-.5 .8 .4 .8-.5 .8-.3 .8 .2 .8 0 .8-.1 .8-.6 .8-.3 .8 .2 .8-.2 .8-.3 .8-.5 .8-.1 .8 .3 .8-.5 .8-.5 .8-.7 .8 0 .8 .4 .8 .1 .8 .1 .8-1.1 .8 .2 .8-.3 .8 0 .8 .1 .8 .8 .8-.5 .8 .2 .8 .9 .8-.2 .8-.5 .8-.2 .8 .7 .8-.1 .8-.2 .8 .7 .8-.7 .8-.2 .8 .1 .8 0 .8-.4 .8-.2 .8-.5 .8 .1 .8-.8 .8 .5 .8-.5 .8-.3 .8 .1 .8-.3 .8-.6 .8 0 .8-.5 .8 .3 .8-.5 .8-.5 .8 0 .8-.2 .8 .1 .8 .2 .8 0 .8 .7 .8-.3 .8 .9 .8-.4 .8-.3 .8-.2 .8-.2 .8-.7 .8-.7 .8-.1 .8 .1 .8-.8 .8-.8 .8-.1 .8-.3 .8-.4 .8-.9 .8-.6 .8-.9 .8 .5 .8-.3 .8 0 .8-.3 .8-.3 .8 .3 .8 .1 .8 .2 .8 0 .8 .9 .8-.1 .8 .6 .8 .8 .8-.8 .8-.8 .8-.3 .8-1.1 .8-.7 .8-.2 .8-.9 .8-.8 .8-.8 .8-.9 .8-.9 .8 .8 .8 .9 .8 .5 .8 .5 .8 .2 .8 0 .8-1 .8-2.1 .8-1 .8 .2 .8 0 .8-.3 .8-.5 .8-.3 .8-.6 .8-.1 .8-.1 .8-.9 .8-.5 .8 0 .8 0 .8-.3 .8-.5 .8-.2 .8 .4 .8-.8 .8 .4 .8-.2 .8 0 .8 .5 .8 1 .8 .9 .8 .2 .8 1.7 .8 1 .8 1.1 .8 .9 .8 1.9 .8 1 .8 0 .8 1 .8 .9 .8 0 .8-1.6 .8-2 .8-1.2 .8 .9 .8 1.1 .8 1.2 .8 .7 .8 0 .8 .3 .8-.5 .8 .7 .8 .5 .8 .8 .8 0 .8-.1 .8 .1 .8 .2 .8 .2 .8-.4 .8 .8 .8-.1 .8-.2 .8 .1 .8 .7 .8 .1 .8 .5 .8-.8 .8 .5 .8 .7 .8-.4 .8 .9 .8 .2 .8 .4 .8 .4 .8 .2 .8 .5 .8 .5 .8 .3 .8 .1 .8 .4 .8 .7 .8 .5 .8 .2 .8 .3 .8-.1 .8 1.2 .8-.5 .8 .5 .8 .5 .8-.6 .8 .2 .8 1 .8-.6 .8 .1 .8 .7 .8-.9 .8-.9 .8-.9 .8-2 .8-2.4 .8-2.4 .8-2.8 .8 1.1 .8 1.1 .8 .1 .8 1.3 .8 .1 .8 0 .8-.1 .8-.2 .8-.1 .8-.3 .8 .1 .8 .1 .8-.3 .8-1 .8 1.1 .8-.6 .8 0 .8-.6 .8 .1 .8 .1 .8-.7 .8 .6 .8-.5 .8 .7 .8-.6 .8-.3 .8 0 .8-.6 .8-.6 .8-.4 .8-.9 .8-.6 .8-.3 .8-.6 .8-.7 .8-.9 .8-.3 .8-.2 .8-.3 .8-.3 .8-.2 .8-.2 .8 .2 .8-.4 .8 .2 .8-.2 .8 .3 .8 .3 .8-.2 .8-.1 .8 .8 .8 .2 .8 .8 .8 .2 .8 .3 .8 1 .8 .1 .8 1 .8 .9 .8 .7 .8 1.9 .8 1 .8 .6 .8 1.5 .8-.3 .8-1.2 .8-2.1 .8-1.4 .8-1.5 .8 0 .8 .8 .8 .2 .8-.2 .8 1.5 .8 .8 .8 1 .8 1.1 .8 1.4 .8 1 .8 .9 .8 .7 .8 .9 .8 .6 .8 1 .8 .5 .8 1 .8 .9 .8 .4 .8 .2 .8-.2 .8-.4 .8 .8 .8 .6 .8-.6 .8 .8 .8 .1 .8 .3 .8-.4 .8 .5 .8-.1 .8 .4 .8 .1 .8 0 .8-.7 .8 .7 .8 .4 .8-.3 .8-.3 .8 .3 .8-.6 .8 .2 .8-.1 .8-.4 .8-.2 .8-.8" fill="none" stroke="#333" stroke-width="0.9" stroke-linejoin="round" clip-path="url(#cP9)"/><path d="M71.7 706.3l.8 .3 .8-.6 .8-.1 .8-.2 .8-1 .8 .5 .8-.6 .8 .1 .8 .8 .8-.7 .8 .1 .8 .4 .8 .8 .8-.2 .8-.4 .8 .4 .8-.9 .8-.4 .8 .6 .8-.3 .8-.7 .8-1.2 .8-.3 .8-.9 .8-1.7 .8-1 .8-1.7 .8-1.1 .8-1.2 .8-.5 .8-.4 .8-1.3 .8-.4 .8-.7 .8-.2 .8 .1 .8-.5 .8-.5 .8 .4 .8 .5 .8 .6 .8 .2 .8 .3 .8-.6 .8-.2 .8-.2 .8-.2 .8 .6 .8-.5 .8 1 .8 .4 .8 .3 .8 .8 .8 .4 .8 0 .8-.6 .8 .4 .8-.6 .8 .3 .8 .1 .8 .2 .8 .1 .8 .6 .8-.6 .8 .8 .8-.1 .8 .3 .8 .7 .8 .2 .8-.1 .8 .9 .8-.4 .8 .4 .8 .5 .8-.2 .8 .2 .8 .1 .8-1 .8 0 .8-.7 .8 1 .8-1.1 .8 .1 .8-.9 .8 .8 .8-1.3 .8 0 .8 .6 .8-.8 .8-.4 .8 .5 .8-.3 .8 0 .8-.2 .8-.1 .8 .1 .8 .8 .8 .9 .8 1 .8 .8 .8 .7 .8-.3 .8-1.5 .8-1 .8-1.2 .8-.2 .8-1.1 .8 .2 .8-1.1 .8-.5 .8-.4 .8-.8 .8 0 .8-.2 .8-.4 .8-.2 .8-.8 .8 .7 .8-.1 .8-.2 .8 1.9 .8 .3 .8 .6 .8 .6 .8 .8 .8 1.1 .8 1.3 .8-1.2 .8-.7 .8-1 .8-1.3 .8-.3 .8-.6 .8-.4 .8-.7 .8-.7 .8 .4 .8 .8 .8 .9 .8 .5 .8 .7 .8 .8 .8-.3 .8-.2 .8 .1 .8 .7 .8 .1 .8-.2 .8-.2 .8-.5 .8-.2 .8-.6 .8 0 .8-.2 .8-.9 .8-.1 .8-.3 .8 .3 .8-.9 .8-.4 .8 .1 .8-.2 .8 .7 .8-.7 .8 0 .8 .6 .8-.1 .8-.1 .8 .3 .8-.7 .8 .8 .8-.3 .8 .2 .8-.3 .8 .3 .8 .6 .8-.5 .8 .8 .8-.3 .8 .9 .8-1 .8 .9 .8-.3 .8 .7 .8-.5 .8-.1 .8 .5 .8-.1 .8-.4 .8-.2 .8-.3 .8-.4 .8-.5 .8 .4 .8-.2 .8-.5 .8 .4 .8-.5 .8 0 .8-.4 .8 .2 .8-.1 .8-.8 .8-.4 .8-.9 .8 .3 .8-.7 .8-.2 .8-.1 .8-.1 .8-.5 .8 .2 .8-.7 .8-1.1 .8-.2 .8-.3 .8-.8 .8-.6 .8 1.2 .8 2 .8 1.1 .8 .6 .8 2 .8-1.5 .8-1.4 .8-1 .8-1.4 .8-.7 .8-.6 .8-.9 .8-.7 .8-1 .8-.4 .8 .4 .8-.9 .8-.5 .8 .3 .8 .4 .8-.3 .8 .2 .8 .5 .8 .1 .8 .5 .8 0 .8-.7 .8-.5 .8-.4 .8-.2 .8 .8 .8 1.4 .8 0 .8 .4 .8 1.1 .8 .2 .8 0 .8 .1 .8 .5 .8 1 .8 .3 .8 .2 .8 .3 .8 .2 .8 .1 .8 .2 .8 .3 .8-.1 .8 .3 .8-.4 .8 0 .8 .8 .8-.2 .8 .8 .8-.1 .8 .3 .8 .1 .8-.1 .8-.3 .8-.1 .8 .8 .8 0 .8-.8 .8 .7 .8 .2 .8 .3 .8 .7 .8-.4 .8-.4 .8 1 .8-.3 .8-.2 .8 .3 .8-.2 .8-.3 .8-.5 .8-.5 .8-.4 .8-.1 .8 .6 .8-.3 .8 .3 .8 1.2 .8 0 .8 .5 .8 .4 .8-.2 .8 .8 .8 0 .8-.2 .8-.5 .8 .8 .8 .6 .8 .1 .8-.6 .8 0 .8 1 .8 .1 .8 0 .8-.2 .8 .5 .8-.6 .8 .7 .8 .3 .8-.3 .8-.4 .8-.4 .8 .2 .8-.7 .8-.2 .8-.3 .8 0 .8-.9 .8-.5 .8-.6 .8-.7 .8 1.3 .8 1 .8-.1 .8 1 .8 1.5 .8 1.3 .8 .7 .8 .1 .8 .5 .8-1.2 .8-1.5 .8-.4 .8 0 .8 .1 .8 .3 .8-.1 .8 .4 .8 0 .8 0 .8 .4 .8 0 .8 .4 .8-.2 .8 0 .8 .6 .8-.7 .8-.7 .8 .2 .8-.4 .8-.8 .8 .3 .8-.3 .8-.7 .8-.1 .8-.3 .8 .1 .8-.7 .8-.4 .8 .6 .8-.5 .8-.7 .8-.1 .8-.6 .8-.2 .8-.6 .8-1.1 .8-.5 .8-.8 .8-2.8 .8-2.4 .8-1.2 .8 1.3 .8 .2 .8 1.2 .8 .3 .8 .2 .8-.7 .8-.9 .8-.1 .8 0 .8-.6 .8-.4 .8-.3 .8 0 .8-.8 .8 .1 .8-.1 .8 0 .8 .4 .8 .5 .8-.1 .8 .1 .8 .4 .8 .2 .8 0 .8 .5 .8-.5 .8 .4 .8 .7 .8-.6 .8-.4 .8-.2 .8 0 .8-.4 .8 .2 .8-.3 .8-.8 .8 0 .8-.2 .8 .1 .8-.4 .8 .1 .8 .1 .8 0 .8 .1 .8-.2 .8-.2 .8-.3 .8 0 .8-.1 .8-.6 .8 .8 .8-.2 .8-.4 .8-.2 .8-.3 .8-.1 .8-.2 .8-.3 .8-.5 .8 .1 .8 1.8 .8 2.2 .8 1.7 .8 1.3 .8 2.6 .8 3 .8 .5 .8-.4 .8-.1 .8 .1 .8 .4 .8-.8 .8-.1 .8 .1 .8 .1 .8-.2 .8-.4 .8 .2 .8 .1 .8-.6 .8-.3 .8 .5 .8 0 .8 .1 .8 .4 .8 .1 .8 .2 .8 1 .8 1.5 .8 .1 .8 .3 .8 .4 .8 .8 .8 .9 .8 .1 .8 .8 .8 .5 .8 .6 .8 .4 .8 .1 .8 .9 .8 .5 .8 .5 .8-.1 .8-.1 .8 .1 .8-.2 .8-.1 .8-.6 .8 .5 .8 .1 .8-.9 .8-.5 .8-.8 .8-.1 .8-.5 .8-.8 .8-.2 .8-1.1 .8-.2 .8-.3 .8-.7 .8-.6 .8 0 .8-.3 .8 .5 .8-1.2 .8 .5 .8 0 .8 1.3 .8 1 .8 .7 .8 1.1 .8 .2 .8-.1 .8-.1 .8 .6 .8-.7 .8-1 .8-.9 .8-.5 .8-.8 .8-1 .8-1.1 .8-.7 .8-.5 .8-.8 .8-.7 .8-.1 .8-.6 .8-.9 .8-.3 .8-.6 .8 .1 .8-.3 .8 .4 .8-.3 .8 .1 .8-.1 .8 .8 .8-.5 .8-.4 .8 .3 .8-.8 .8 .1 .8-.2 .8 0 .8-.1 .8-.4 .8 .1 .8-.2 .8-.4 .8 0 .8 .3 .8-.6 .8 .3 .8 0 .8 .8 .8 .7" fill="none" stroke="#33ee33" stroke-width="0.9" stroke-linejoin="round" clip-path="url(#cP9)"/><path d="M71.7 687.1l.8 .1 .8 .2 .8-.2 .8 0 .8 .2 .8 .2 .8 .2 .8 0 .8 .3 .8 0 .8-.4 .8-.7 .8-.2 .8-.1 .8-.3 .8-.7 .8-.3 .8 .3 .8 .2 .8-.6 .8-.4 .8-.8 .8-.6 .8-.9 .8 .3 .8-.9 .8 .2 .8-.3 .8-.6 .8 .9 .8 0 .8 1 .8 .3 .8 .1 .8 .4 .8 .4 .8 .7 .8 .1 .8 .9 .8-.8 .8 .6 .8 .8 .8-1.1 .8 .7 .8 .5 .8-.5 .8 1.1 .8-.6 .8 .8 .8 .2 .8 .1 .8 1.2 .8-.8 .8 1.1 .8-.6 .8 .2 .8-.7 .8-.3 .8 0 .8 .4 .8-1.1 .8 .6 .8 0 .8-.3 .8-.5 .8 .5 .8-.2 .8 .1 .8-.1 .8-.8 .8 .1 .8-.1 .8-.2 .8 .1 .8-.3 .8 .7 .8-.3 .8-.5 .8-.1 .8 .6 .8-1 .8 .5 .8-.9 .8 .3 .8 .4 .8-.2 .8-.7 .8 0 .8-.1 .8-.7 .8-.4 .8 .5 .8-.6 .8 0 .8 .6 .8-1.4 .8 .3 .8-.1 .8 .2 .8-.5 .8 .6 .8-.8 .8 .4 .8 0 .8-.3 .8-.1 .8 .1 .8-.6 .8 .3 .8-.5 .8 .2 .8-.6 .8-.1 .8 .2 .8 .3 .8 .2 .8-.5 .8 .4 .8-.1 .8 .6 .8 .2 .8 .5 .8 .4 .8 .4 .8 1 .8 .3 .8 1.2 .8-1.2 .8-.9 .8-1.1 .8-1.2 .8-.5 .8-1.3 .8-.5 .8-.6 .8-.9 .8-.3 .8-.5 .8-.6 .8-.6 .8 .4 .8 .9 .8 0 .8 .1 .8 0 .8 2 .8 1 .8 .9 .8 1.3 .8 .7 .8 .8 .8 0 .8 .7 .8 .2 .8-.1 .8-.1 .8 .2 .8 .1 .8-.2 .8-.3 .8-.4 .8-.4 .8-.3 .8-.4 .8 .1 .8 .3 .8-.8 .8 .5 .8-.2 .8 .2 .8-.1 .8 .3 .8-.2 .8 .1 .8 .1 .8 .7 .8 0 .8-.3 .8-.1 .8 .2 .8-.1 .8 1.1 .8-.1 .8 .5 .8 .3 .8-.6 .8-.4 .8 .3 .8-.3 .8 .2 .8 .7 .8-.2 .8 .1 .8-1.1 .8 .2 .8-.4 .8 .1 .8 0 .8-.7 .8-.8 .8-.3 .8-.9 .8-1 .8-.8 .8-1.2 .8-.1 .8-.9 .8-.1 .8-.2 .8-.3 .8-.4 .8-1 .8 .2 .8-.1 .8-.2 .8-.5 .8-.5 .8 .4 .8-.4 .8-.6 .8-.6 .8 0 .8-.2 .8 .4 .8-.8 .8 .6 .8 .8 .8 1.5 .8 .9 .8 1.3 .8 2.4 .8 1.6 .8-1.4 .8-2.4 .8-1.6 .8-3.1 .8-.7 .8 .9 .8-.8 .8 .8 .8-.6 .8-.3 .8 .5 .8-.9 .8-.2 .8-.3 .8 .1 .8 .2 .8-.1 .8 1.1 .8 .3 .8-.1 .8 1.1 .8 0 .8 .5 .8 1.2 .8 .2 .8-.5 .8-.5 .8-.3 .8-.3 .8 .7 .8-1.1 .8-.1 .8 .8 .8-.7 .8 .9 .8-.5 .8 .9 .8 .2 .8 0 .8 .1 .8 .1 .8 .2 .8-.6 .8 .8 .8-.2 .8 .4 .8-.5 .8 1 .8-.1 .8-.3 .8 .3 .8 .1 .8-.6 .8 .4 .8 .3 .8-1.1 .8 0 .8 .3 .8 0 .8-.9 .8 .8 .8 .1 .8 0 .8 .9 .8-.6 .8 .4 .8-.5 .8 .5 .8-.1 .8-.5 .8 .6 .8-.6 .8 .3 .8-.4 .8 .2 .8-.5 .8 .2 .8-.6 .8-.9 .8-.3 .8 .6 .8-.4 .8-.4 .8 .1 .8-.4 .8-.3 .8-.9 .8 .2 .8-.5 .8 .3 .8 0 .8-.9 .8 .3 .8 .3 .8-.8 .8-.5 .8-.6 .8 .5 .8-.6 .8-.6 .8 0 .8 .2 .8-.8 .8 .1 .8 .8 .8 .1 .8-.6 .8 .3 .8 .1 .8-.5 .8 .1 .8 .1 .8-.6 .8 .1 .8-.9 .8-.3 .8 .2 .8 0 .8-.9 .8 .2 .8-.6 .8-.1 .8 .4 .8-.8 .8-.3 .8-.7 .8 0 .8 .1 .8-1.3 .8 .1 .8-.6 .8-.1 .8-1 .8-.5 .8 0 .8-.6 .8-.7 .8-.7 .8 .3 .8-.1 .8-1 .8 .5 .8-1.1 .8 .7 .8 .2 .8-.2 .8 1 .8-.2 .8 .6 .8 .4 .8-.9 .8 .4 .8-.6 .8-.6 .8-.1 .8-.6 .8 .6 .8 .3 .8 .1 .8 .3 .8-.6 .8 .3 .8-.1 .8-1 .8 .5 .8-.6 .8 0 .8-.8 .8-.2 .8 .3 .8-.8 .8 1 .8 0 .8 .6 .8 .9 .8 .2 .8-.2 .8 .4 .8 .1 .8 .2 .8-.2 .8 1.1 .8-.5 .8 .3 .8 .3 .8-.1 .8 .6 .8 .4 .8 0 .8 .2 .8 0 .8-.1 .8 .8 .8 .5 .8-.6 .8 .9 .8-.3 .8 0 .8 .5 .8 .5 .8-.4 .8 0 .8 .2 .8-.1 .8-.2 .8-.4 .8 .5 .8-.2 .8-.1 .8-.5 .8 .2 .8 .8 .8 .6 .8-.2 .8 1.1 .8 .3 .8-.2 .8 .7 .8 .3 .8-.2 .8 .5 .8 .3 .8 .3 .8 .5 .8-1 .8 0 .8 .8 .8-.6 .8-.1 .8-.4 .8-.1 .8-.3 .8 .6 .8 .2 .8 .3 .8 .5 .8 0 .8 .4 .8 .2 .8 .9 .8-.1 .8 .5 .8 .3 .8 0 .8-.5 .8 .5 .8-.1 .8-.1 .8-.1 .8 .7 .8-.4 .8-.1 .8 .2 .8 0 .8 .8 .8-.7 .8 .2 .8-.2 .8-.5 .8 .4 .8 0 .8 .1 .8-.1 .8 .1 .8 .1 .8-.8 .8 0 .8-.1 .8-.1 .8 .6 .8-.3 .8 .5 .8 .2 .8 .5 .8 0 .8-.3 .8 1 .8-.1 .8 .5 .8 0 .8 1.3 .8 .2 .8-.1 .8 .6 .8-.4 .8-.4 .8-.1 .8-.1 .8-1 .8 .4 .8-.1 .8 .5 .8 0 .8 0 .8 0 .8 .5 .8 .1 .8 .1 .8-.2 .8-.1 .8 .4 .8 0 .8 .1 .8 .1 .8 .7 .8-1.1 .8 .7 .8-.1 .8-.6 .8-.3 .8 .3 .8 0 .8 .1 .8-.5 .8-.1 .8 .6 .8-.1 .8 0 .8-.5 .8 .2 .8-.3 .8 .2 .8-.1 .8 .4 .8-.2 .8 .5 .8 .1 .8 .1 .8 0 .8 .1 .8 .9 .8-.2" fill="none" stroke="#2a2aff" stroke-width="0.9" stroke-linejoin="round" clip-path="url(#cP9)"/><line x1="180.1" y1="654.5" x2="180.1" y2="722.7" stroke="#ff00ff" stroke-width="1.4" stroke-dasharray="1.5,2"/><line x1="339.5" y1="654.5" x2="339.5" y2="722.7" stroke="#00a000" stroke-width="1" stroke-dasharray="6,3"/><line x1="348.5" y1="654.5" x2="348.5" y2="722.7" stroke="#0000ff" stroke-width="1" stroke-dasharray="1.5,2"/><line x1="378.5" y1="654.5" x2="378.5" y2="722.7" stroke="#ff0000" stroke-width="1" stroke-dasharray="7.5,2.5"/><line x1="378.5" y1="654.5" x2="378.5" y2="722.7" stroke="#ff00ff" stroke-width="1" stroke-dasharray="1.5,2"/><line x1="457.5" y1="654.5" x2="457.5" y2="722.7" stroke="#ff0000" stroke-width="1" stroke-dasharray="7.5,2.5"/><line x1="496.5" y1="654.5" x2="496.5" y2="722.7" stroke="#00a000" stroke-width="1" stroke-dasharray="6,3"/><line x1="77.5" y1="660.5" x2="95" y2="660.5" stroke="#44ee44" stroke-width="1.2"/><text transform="translate(96,663.8) scale(1.12,1)" font-size="9.5" text-anchor="start" fill="#00ee00">P<tspan font-size="6.5" dy="2.5">p</tspan></text><line x1="77.5" y1="672" x2="95" y2="672" stroke="#ff5050" stroke-width="1.2"/><text transform="translate(96,675.3) scale(1.12,1)" font-size="9.5" text-anchor="start" fill="#ff0000">P<tspan font-size="6.5" dy="2.5">e</tspan></text><line x1="77.5" y1="683" x2="95" y2="683" stroke="#555" stroke-width="1.2"/><text transform="translate(96,686.3) scale(1.12,1)" font-size="9.5" text-anchor="start" fill="#000">P<tspan font-size="6.5" dy="2.5">b</tspan></text><line x1="77.5" y1="694.3" x2="95" y2="694.3" stroke="#4040ff" stroke-width="1.2"/><text transform="translate(96,697.6) scale(1.12,1)" font-size="9.5" text-anchor="start" fill="#0000ff">P<tspan font-size="6.5" dy="2.5">tot</tspan></text><path d="M669 109.5l.8-.7 .8-.3 .8-1 .8 .9 .8 .1 .8 .6 .8-.2 .8 .6 .8-1.3 .8-.4 .8 .2 .8-.8 .8 .5 .8 .8 .8-.4 .8-.3 .8 .4 .8 0 .8-.7 .8 .1 .8-1.3 .8-1.4 .8-.6 .8-.8 .8-1.2 .8-1.7 .8-1.6 .8-1.6 .8-1.9 .8-.8 .8-1.4 .8-1.5 .8-2.6 .8-2.3 .8-1.8 .8-1.4 .8-1.5 .8-1.5 .8-1.7 .8-1.4 .8 .1 .8-.7 .8 1.4 .8-.8 .8-.4 .8-.1 .8 2.1 .8 1 .8 .9 .8-1.8 .8-1.3 .8-1.6 .8 .6 .8-1.3 .8 .2 .8-1.6 .8-.9 .8-1.1 .8-.6 .8-.3 .8-1.2 .8-1 .8-1.3 .8-1.1 .8 .1 .8-.1 .8-1.4 .8 1.3 .8 .8 .8 1.7 .8 1.2 .8 2.4 .8-1.1 .8-.3 .8-.5 .8-.6 .8 .3 .8 1.1 .8 .3 .8 1.7 .8 1.2 .8 .9 .8 .8 .8-.7 .8-1.1 .8-1.1 .8-.9 .8-.4 .8 .6 .8 1.5 .8-.3 .8-.9 .8-.5 .8 1.9 .8 2.8 .8 2.3 .8 3.6 .8 5 .8 5.7 .8-.7 .8-5 .8-3.2 .8-3.2 .8-1.7 .8 1 .8 1.4 .8-1.9 .8-3.9 .8-2.9 .8-2.7 .8-1 .8 .4 .8 1.4 .8 2 .8 4.3 .8 5 .8 6.7 .8 2.9 .8 2.1 .8 1.6 .8-1.6 .8-1.9 .8-3.2 .8-3.4 .8-3.2 .8-3.3 .8-2.9 .8-1.2 .8-1.3 .8-.9 .8-1.7 .8-.7 .8-.9 .8-1.8 .8-.7 .8 .3 .8 4.1 .8 3 .8-.1 .8 .8 .8 5.2 .8 2.7 .8 3.4 .8 3.9 .8-.1 .8 2.6 .8 1.7 .8 1.9 .8 1.6 .8-1.1 .8-1.1 .8-3.8 .8-3.8 .8-.2 .8-1.1 .8-2.7 .8-5.1 .8-2.1 .8-.8 .8 .8 .8 3 .8 3.5 .8 3.3 .8 3 .8 .5 .8 .6 .8-1.1 .8-1.3 .8-.5 .8-.7 .8-.3 .8 .5 .8 1 .8-.2 .8 .3 .8-1.4 .8 .2 .8-.4 .8 .2 .8 0 .8 .4 .8 2 .8 2 .8 .3 .8 .3 .8 .5 .8-.1 .8-1.4 .8-.6 .8-.4 .8-.7 .8-1.7 .8 .5 .8 .2 .8 .3 .8 .3 .8 1.3 .8 1.7 .8-.6 .8 0 .8-2.4 .8-1 .8-1.6 .8-.5 .8-1 .8-.4 .8-.4 .8-1.5 .8-.6 .8-.2 .8-.7 .8-.9 .8-1.2 .8-.4 .8-.5 .8-.3 .8 2 .8 1.4 .8 1.5 .8 3.5 .8 3.6 .8 4.1 .8 2.8 .8 2.7 .8-.9 .8-1.7 .8-3.9 .8-3.7 .8-3 .8-3 .8-2.2 .8-4 .8-3.8 .8-4.6 .8-3.7 .8 2.9 .8 3.7 .8 4.2 .8 3.7 .8 2.6 .8 1.2 .8 1.8 .8-1.1 .8-.7 .8-2 .8-3.5 .8-1.1 .8-.5 .8 .2 .8 .9 .8 1.4 .8-.4 .8 1 .8-1.7 .8-1.7 .8-1.4 .8-.4 .8-.6 .8-.2 .8-.9 .8 1 .8-1 .8 .7 .8-.1 .8-.1 .8 .8 .8-.3 .8 1.2 .8-.6 .8-.4 .8-.8 .8 0 .8 .1 .8-.3 .8-.1 .8 .1 .8-.5 .8-.8 .8 .1 .8-.3 .8-1.2 .8-.4 .8 .7 .8-.6 .8 .9 .8-1.6 .8 .2 .8 0 .8 .5 .8 .7 .8-.9 .8 .8 .8 .4 .8 .4 .8 .6 .8 1.1 .8 0 .8-.4 .8-.4 .8-1 .8-1 .8-.8 .8-1.3 .8-.2 .8-.9 .8-1.2 .8-.8 .8-.4 .8 1.2 .8-.5 .8 .2 .8 .6 .8-.9 .8 0 .8 .3 .8 .8 .8 .7 .8 0 .8 1.1 .8 .8 .8 1.3 .8-.7 .8-2 .8-2.1 .8-.9 .8-.5 .8-1.4 .8-.4 .8 1.2 .8 .1 .8 2 .8 .5 .8 1.7 .8-.3 .8 .7 .8-.7 .8-1.2 .8-.4 .8-2.7 .8-2.5 .8-2.8 .8-2.9 .8-2.5 .8-.7 .8-.8 .8 1 .8 2.1 .8 .4 .8 .8 .8-1.3 .8-1 .8-1.9 .8-.3 .8 .2 .8 .6 .8 .4 .8 0 .8-.5 .8-1.6 .8 .2 .8-.4 .8-.3 .8-.5 .8 0 .8-.5 .8-.4 .8-1.1 .8-.5 .8-1.1 .8-.7 .8-.1 .8 .2 .8-.8 .8-.2 .8-.1 .8-.2 .8 1.8 .8 1.6 .8 .2 .8 .8 .8 .9 .8 1 .8 4.1 .8 5.3 .8 3.7 .8-2.8 .8-.5 .8 0 .8-1.3 .8 2.2 .8 2.3 .8 5.1 .8 6.1 .8-.1 .8-.3 .8-.2 .8-.2 .8 1.1 .8 .2 .8-.9 .8 .7 .8-.6 .8 .7 .8-.3 .8 .4 .8 .9 .8-.1 .8 .1 .8-.5 .8-1.4 .8-.9 .8-.7 .8-1 .8-.7 .8 1.1 .8 .2 .8 .6 .8-.1 .8-.8 .8-1 .8-.4 .8 1.5 .8 1.4 .8 .6 .8 0 .8 .5 .8 2 .8 1.2 .8-1.5 .8-1.3 .8-1.5 .8 .4 .8-.8 .8-1.6 .8 .8 .8-1.4 .8-.8 .8-1.3 .8-.5 .8-.3 .8-.6 .8 .1 .8-2.2 .8-.7 .8-2.7 .8-1.9 .8-3.2 .8-2.9 .8-2.5 .8-1.7 .8-2.7 .8 2.6 .8 .3 .8 1.5 .8 1.6 .8-.6 .8-.4 .8-1 .8-.5 .8 .2 .8-.4 .8 .2 .8 .7 .8-.5 .8-.6 .8 0 .8-.1 .8 0 .8 .3 .8 1 .8-.2 .8 .2 .8 .5 .8-.7 .8 .3 .8 .5 .8-.2 .8 .9 .8 .4 .8 1.1 .8 0 .8-1.1 .8-1.5 .8-.3 .8-1 .8-.6 .8-1 .8 .2 .8 0 .8 .9 .8 .2 .8 .4 .8-.3 .8-.4 .8 1.4 .8-1.1 .8 .4 .8-.2 .8 .7 .8 .4 .8 1.9 .8 .4 .8 3 .8 1.7 .8 1.1 .8 1.5 .8 3 .8 1.2 .8 2.3 .8 2.1 .8 2.9 .8 2.2 .8 2.8 .8-2.2 .8-3.9 .8-2.2 .8-1.7 .8-1.3 .8-1.2 .8-.8 .8 3.3 .8 .4 .8-.2 .8-.2 .8 .4 .8 1.1 .8 0 .8-.1 .8 2.5 .8 .3 .8 1.9 .8 1.3 .8 1.4 .8-.1 .8 .4 .8 .7 .8 1.3 .8 .1 .8 1.5 .8 1 .8 0 .8 .7 .8 .6 .8 .9 .8-.3 .8 .2 .8 1.3 .8-1.1 .8-2.1 .8-2.3 .8-2.2 .8-2.5 .8-1.8 .8-2 .8 .2 .8 .6 .8-.2 .8-.6 .8-1.6 .8-1.6 .8-1 .8 .1 .8 .1 .8 1.2 .8 .4 .8 1" fill="none" stroke="#33ee33" stroke-width="0.9" stroke-linejoin="round" clip-path="url(#cM1)"/><path d="M669 79.3l.8 .8 .8 .5 .8 .7 .8-.4 .8 .2 .8-.6 .8-.5 .8-.7 .8-.3 .8-.6 .8-.6 .8-.6 .8 .2 .8 .2 .8 .4 .8-2.7 .8-4 .8 2.2 .8-.1 .8 .6 .8 1.2 .8 0 .8 .1 .8 0 .8 .5 .8 1.3 .8 .3 .8 .5 .8 .9 .8 2.3 .8 1.1 .8 2.6 .8 1.3 .8 1.1 .8 1 .8-2.4 .8-.6 .8-2.3 .8-2.7 .8-5.6 .8-5.8 .8-1.8 .8-.7 .8-.1 .8 .4 .8 2.5 .8 3 .8-.2 .8-3.2 .8-2.5 .8-.9 .8-.5 .8 2.8 .8 .9 .8 2.6 .8 2.3 .8 1.6 .8 2.3 .8 1.8 .8 .8 .8 .7 .8 1.3 .8 1.2 .8 .8 .8-.4 .8-.4 .8-1.5 .8-1.8 .8-1.2 .8-2.5 .8 1.6 .8 1.2 .8 .5 .8 .3 .8-.9 .8-1.8 .8-1.8 .8-1.1 .8-1.6 .8 2.3 .8 .4 .8 2.3 .8 1.4 .8 1.3 .8 1.4 .8 .7 .8-1.3 .8-.4 .8 .5 .8 .3 .8 1.5 .8 .5 .8-.7 .8-1.3 .8-1.3 .8-1.7 .8-.1 .8-4.6 .8-5.2 .8 .4 .8 4.8 .8 5 .8 3.9 .8 .7 .8 .6 .8 .2 .8 1.3 .8-.1 .8 3.4 .8 4.2 .8 2.2 .8-1.5 .8-2.3 .8-2.5 .8-1.7 .8-.6 .8 .9 .8-.8 .8-1.8 .8-1.8 .8 1.1 .8-.3 .8 1 .8-.3 .8 2.6 .8 2.8 .8 3.2 .8 2.9 .8 1.3 .8 .6 .8 .6 .8 1.1 .8 0 .8-.8 .8-.6 .8 1.4 .8 2.6 .8 1.9 .8 .4 .8-1.1 .8-3.2 .8-3 .8-2.3 .8-3.6 .8-2.2 .8-4.1 .8-2 .8-3.7 .8-3.4 .8-3.8 .8-1.1 .8-1.7 .8-.5 .8-1.2 .8-1.4 .8 4.1 .8 4.1 .8 3.1 .8 1.9 .8 1.2 .8-1.8 .8-1.8 .8-1.8 .8-.7 .8-.9 .8-.9 .8-.8 .8-.3 .8-.6 .8-1.2 .8-.2 .8 0 .8-.8 .8-.5 .8-.4 .8 .2 .8 1.8 .8 2.7 .8 5.5 .8 4.1 .8 .7 .8 .7 .8-3.7 .8-3.3 .8-1.9 .8 1.2 .8 .3 .8 .5 .8-1 .8-1.1 .8 1 .8-.9 .8-.4 .8 0 .8 .9 .8-.4 .8 .5 .8 .7 .8 .5 .8 .4 .8-1 .8-.5 .8 1.2 .8-1.3 .8 .8 .8-.1 .8-3.4 .8 3 .8 8.5 .8 2.6 .8 .7 .8 .9 .8 .9 .8 .7 .8 .4 .8 .8 .8 .2 .8 .4 .8 1.7 .8 2.5 .8 0 .8-3.3 .8-2.9 .8-3.3 .8-3.2 .8-1.8 .8-2.7 .8-.7 .8-2.4 .8-2.9 .8-2.2 .8-2.1 .8 2.5 .8 2.7 .8 3.8 .8 4.5 .8 .7 .8-1.4 .8-.1 .8-.3 .8 .2 .8-4.8 .8-5.1 .8-.6 .8 .9 .8 .5 .8 .3 .8 .1 .8-.2 .8-.2 .8 2.4 .8 2.1 .8-1.4 .8-2.7 .8-2 .8-1 .8-.5 .8-.3 .8-2.1 .8-1.3 .8-1.6 .8-.7 .8-.7 .8-.2 .8-1.1 .8 0 .8 .1 .8 1.1 .8 1.8 .8 .4 .8 .3 .8 1 .8 .7 .8 .2 .8 1.1 .8 .1 .8 0 .8 .6 .8 1 .8-.8 .8 .4 .8-.8 .8-.2 .8 .4 .8 .3 .8 .2 .8-.6 .8-.2 .8-.9 .8 .9 .8-.9 .8 .9 .8 0 .8-.2 .8-.2 .8-.2 .8-.2 .8-1.2 .8-.6 .8-.9 .8 .7 .8 1 .8-.4 .8 .3 .8 .6 .8 1.1 .8 .6 .8-.2 .8-1.2 .8 .4 .8-1 .8-.1 .8 .3 .8-.7 .8-1 .8 .5 .8-1.4 .8-.9 .8-.6 .8-1.1 .8-1.3 .8-1.3 .8-.2 .8 1.5 .8 1.6 .8 .4 .8 1.5 .8 1.1 .8 1.4 .8 .7 .8 1.2 .8-1 .8-1.2 .8-2 .8-.3 .8 .1 .8-.4 .8-.1 .8 1.2 .8-.2 .8 1 .8 3.9 .8 2.6 .8 2.7 .8 2.9 .8 1.2 .8-3.4 .8-3 .8-2.6 .8-3.4 .8 2.2 .8 3.4 .8 2.4 .8 .8 .8-2.4 .8-2.2 .8 .7 .8 1 .8 1.5 .8 2.2 .8 .5 .8-.3 .8-.3 .8 .1 .8-.8 .8-.2 .8 .3 .8 .5 .8-.2 .8-.1 .8 .5 .8 2.6 .8 1.8 .8 2 .8 2.1 .8 2.4 .8 1.5 .8 2.1 .8 1.7 .8 .8 .8 0 .8 .1 .8 3.4 .8 3.2 .8-.9 .8-.7 .8-.5 .8 1.3 .8 4.4 .8 5.1 .8 1.2 .8-1.8 .8-.8 .8-.8 .8 1.5 .8 .5 .8 1 .8-.8 .8-.4 .8-1.4 .8 .9 .8-.8 .8 .9 .8 .3 .8 1 .8 .1 .8 .8 .8-1.2 .8-.8 .8-1.2 .8-.4 .8 .1 .8-.2 .8 .1 .8-.2 .8-1.3 .8-.1 .8-1.1 .8 .3 .8-.2 .8-.8 .8-.7 .8-.3 .8-.5 .8-.9 .8-1 .8-1.3 .8-1.1 .8-1.1 .8-1.2 .8-.4 .8-.6 .8 1.2 .8-.5 .8 .6 .8 .2 .8 0 .8-.7 .8-.1 .8-1.5 .8-.6 .8-1.7 .8-.1 .8 .1 .8 .8 .8 .7 .8 .5 .8 .9 .8 .5 .8 .5 .8-1.5 .8-1.1 .8-.9 .8-1 .8-1.9 .8-1.3 .8-.3 .8-.6 .8-.7 .8-.2 .8 0 .8 .8 .8-.9 .8-1.1 .8 .1 .8 .1 .8-1.2 .8-.5 .8-.1 .8-.3 .8-.2 .8-.8 .8 .3 .8-.6 .8-.2 .8-1.8 .8-2.5 .8-1.4 .8-2.5 .8 .9 .8 2.2 .8 1.2 .8-.2 .8 .4 .8-.2 .8 .5 .8-.7 .8 .3 .8-1.2 .8-.5 .8-.2 .8 .5 .8-.6 .8 .3 .8-.4 .8 0 .8-.4 .8 0 .8-.4 .8-.6 .8-1.4 .8-.7 .8-1.1 .8 .1 .8-.9 .8-.7 .8-.9 .8 .5 .8-1.3 .8-1.1 .8 .4 .8 .2 .8 .9 .8-.6 .8 2 .8 .9 .8 1.4 .8 .6 .8 .6 .8-.4 .8-1.3 .8-1.4 .8-.5 .8 .3 .8 .1 .8-.4 .8 .3 .8-.2 .8 1 .8 .2 .8-.2 .8 .3 .8 .8 .8 .4 .8 1.3 .8 0 .8 .6 .8-.2 .8 0 .8 .5 .8 .5 .8-.4 .8 .9 .8 .2 .8-.7 .8-1.8 .8-.1 .8-1.8 .8 0 .8 .8 .8-.2 .8 1.8 .8 3.8 .8 3.1 .8 .8 .8 2 .8-.5 .8-.4 .8-.8 .8-1.7 .8-1.3 .8-1.7 .8-1 .8-1.3 .8-1.1 .8-.7" fill="none" stroke="#ff2020" stroke-width="0.9" stroke-linejoin="round" clip-path="url(#cM1)"/><path d="M669 55.8l.8-.2 .8 .1 .8-.8 .8 1.1 .8 1.5 .8 1.1 .8 1.5 .8-1.4 .8-1.1 .8 .5 .8-.1 .8 1.4 .8-1 .8-.3 .8-1.2 .8-.2 .8-1 .8-.1 .8 0 .8-1.1 .8 .9 .8 .1 .8-.2 .8-.3 .8-.4 .8 .7 .8 0 .8-.1 .8-.1 .8 .1 .8 0 .8 1.2 .8-.8 .8 1.5 .8 1.1 .8 1.1 .8 3.4 .8 3.1 .8 1.9 .8 1.2 .8-1.6 .8 .2 .8-1 .8-.7 .8 1.3 .8 1.5 .8 1.5 .8 2.7 .8 .3 .8 1.1 .8 .8 .8 .3 .8 .3 .8 .1 .8 .5 .8 .5 .8 .4 .8 1.4 .8 1.6 .8 1 .8 3.1 .8 3.1 .8 1.9 .8 1.4 .8 2.7 .8 1.5 .8 1.3 .8 2.1 .8 1.4 .8 .7 .8 .8 .8 .7 .8 .6 .8 .4 .8-.4 .8-.3 .8-1.1 .8-1.3 .8-.9 .8-.7 .8 .5 .8 .5 .8-.6 .8 .2 .8 .7 .8 .4 .8 .8 .8 1.4 .8 1 .8 1.7 .8-.4 .8-.4 .8-.8 .8 .2 .8 0 .8 1.2 .8 .6 .8-.3 .8-1.3 .8 1.6 .8 5.1 .8 .4 .8-6.1 .8-4.9 .8-.2 .8-.7 .8 2.6 .8 1.7 .8-.2 .8-2.7 .8-3.1 .8 0 .8-1.2 .8 .3 .8 .1 .8-1.1 .8-.4 .8-.5 .8-1.2 .8-1.5 .8-.4 .8 0 .8 .7 .8 .7 .8 2.1 .8 2.3 .8 2.4 .8 1.3 .8-3 .8-2.4 .8-3.4 .8-4.9 .8-3.2 .8-5.6 .8-5 .8 6.6 .8 6.8 .8 7 .8 6.3 .8 3.5 .8 3.7 .8 1.7 .8-1.2 .8-.9 .8 .8 .8-4.6 .8-3.9 .8-3.3 .8-2.8 .8-3.6 .8-4.6 .8-2.5 .8 2.3 .8 .5 .8-7.7 .8-7.8 .8 2.4 .8 4.4 .8 3.2 .8 2 .8 2.7 .8 .6 .8 1.2 .8 1.2 .8-2 .8-2.4 .8-1.4 .8-1.9 .8-.5 .8-.8 .8-.8 .8 .1 .8-.6 .8-.3 .8-.8 .8 .2 .8 2.4 .8 1.7 .8 3.8 .8 2 .8 1 .8 1 .8-1.7 .8-2.1 .8-1.2 .8-.6 .8-1 .8 1.3 .8 2 .8 1.4 .8 1.8 .8-.3 .8-1.5 .8-.5 .8-.9 .8-.9 .8-1.1 .8 .2 .8-1 .8-.1 .8 .5 .8 .7 .8 1 .8 1.1 .8 1.4 .8 1.2 .8 3.4 .8 2.6 .8 3.2 .8-.7 .8-2.9 .8-1.4 .8-.3 .8-.1 .8 1.1 .8 1.2 .8-3.1 .8-4.1 .8 3.7 .8 8.1 .8 4.3 .8 2.8 .8-1.2 .8-2.9 .8-3.4 .8-4 .8-4.9 .8-3.7 .8-3.5 .8-3.8 .8-3.7 .8-2.1 .8-.4 .8-.1 .8 4.5 .8 5.7 .8 3.2 .8 3.2 .8 .3 .8-.4 .8-.8 .8-.3 .8 1.1 .8-2.4 .8-1.9 .8-2.8 .8-2.9 .8-2.2 .8-2 .8-2 .8 1.5 .8 3.4 .8-.7 .8-1.5 .8-1.3 .8-.1 .8-2.2 .8-1 .8-1.5 .8 .4 .8-.5 .8 .7 .8-1 .8 .1 .8 .7 .8-.5 .8-1.4 .8-.7 .8-.6 .8 .3 .8-.5 .8-.3 .8-.3 .8-.5 .8-.3 .8-.7 .8-1 .8 1.1 .8 .3 .8 .1 .8 1.2 .8-.4 .8-1.1 .8 0 .8-.7 .8-1.1 .8-.1 .8-1.4 .8-.1 .8-1.2 .8 .1 .8-.8 .8-.5 .8-.6 .8 .7 .8 2.8 .8 2.5 .8 1.9 .8-1 .8-.5 .8-.2 .8-.5 .8-.5 .8-.6 .8-.2 .8-1.4 .8 1.1 .8 .4 .8 .9 .8-.5 .8 .1 .8 .5 .8-1 .8-1.1 .8-1.4 .8 .3 .8-.3 .8 .6 .8-.3 .8-1.8 .8-.2 .8-1 .8-.9 .8-1.8 .8-.1 .8 1.5 .8 0 .8-.7 .8-.5 .8-.4 .8-.3 .8 1 .8 .8 .8-.3 .8-1.1 .8-1.3 .8-.4 .8-.9 .8-1.8 .8 .5 .8-1.2 .8 1.5 .8-.7 .8 2 .8 .5 .8 1.4 .8 1.7 .8-.6 .8-.5 .8-.8 .8-.3 .8-.5 .8-.4 .8 .7 .8 1.4 .8-1.3 .8-1.8 .8-1.1 .8 .5 .8 .2 .8 .1 .8 .3 .8-.2 .8 1.5 .8-.4 .8 .3 .8-.3 .8-.5 .8-.1 .8-1.3 .8 .9 .8 .3 .8 .9 .8-.6 .8 1.1 .8 .5 .8 .2 .8 .6 .8 1 .8 1.6 .8 .9 .8 0 .8 1.3 .8 .9 .8 .4 .8-.4 .8-.1 .8-.8 .8 .5 .8 .1 .8 .6 .8 1.5 .8 .5 .8-.2 .8-.4 .8-.7 .8-.2 .8 .1 .8 .5 .8 .4 .8-.1 .8 .6 .8 .7 .8 .6 .8 1.1 .8 1.2 .8 0 .8-.1 .8-1.9 .8-2.4 .8 .3 .8 .9 .8 1.1 .8 .6 .8 .4 .8 .3 .8 .2 .8-1.5 .8-1 .8-.1 .8 .9 .8 1 .8 .8 .8 .5 .8 .9 .8-.6 .8-1.1 .8-1.2 .8-.2 .8 1.1 .8 .8 .8 2.4 .8 1.4 .8 .2 .8 .8 .8 1.5 .8-.3 .8 .5 .8 .9 .8 1.2 .8-.2 .8 .4 .8 .7 .8 2.3 .8 1.5 .8 .4 .8 .9 .8 .5 .8 2.5 .8 1.9 .8 .7 .8 2.4 .8 .3 .8 .9 .8-.1 .8 .9 .8 .8 .8 1.3 .8 1.7 .8 0 .8-1.3 .8 .7 .8 0 .8-.3 .8 .4 .8 .6 .8 .6 .8 .5 .8 .2 .8 .4 .8-.2 .8 1.4 .8-.5 .8 .4 .8 1.5 .8 1 .8 1.5 .8 1.7 .8 1.1 .8 .3 .8 .6 .8 .4 .8-.1 .8 .5 .8 .4 .8 1.1 .8 .7 .8 .4 .8-.4 .8 .5 .8 0 .8 1 .8-.9 .8 .1 .8-.2 .8 .1 .8-1.7 .8-1.3 .8-1.5 .8-.7 .8 2.4 .8 1.6 .8 1.5 .8 .5 .8 .1 .8 0 .8 .5 .8-.4 .8 0 .8-.8 .8-1.3 .8-.5 .8-1.3 .8 .7 .8 2.1 .8 1.7 .8 .5 .8 1.8 .8 1.2 .8 .4 .8-.3 .8-.7 .8-.2 .8-.3 .8 0 .8-1 .8-1.4 .8-2.6 .8-1.3 .8-1.9 .8-.9 .8-1.4 .8-1.7 .8-.2 .8-1 .8-1 .8-1.3 .8-.6 .8-1.3 .8-.7 .8-.1 .8-.8 .8-.7 .8-.9 .8-1.3 .8-1.1 .8 1.7 .8 .3 .8 .1 .8 1 .8 .8 .8 .8 .8-1.2 .8-1.7 .8-2.5 .8-1.7 .8-2.7 .8-1.8 .8-2.3 .8-1.3 .8 1.7 .8 1.3 .8 1.5 .8 .6 .8 1.7 .8 1.3" fill="none" stroke="#2a2aff" stroke-width="0.9" stroke-linejoin="round" clip-path="url(#cM1)"/><line x1="668.5" y1="80.5" x2="1122.5" y2="80.5" stroke="#000" stroke-width="1.5" stroke-dasharray="4.5,3"/><line x1="777.1" y1="41.5" x2="777.1" y2="115.5" stroke="#ff00ff" stroke-width="1.4" stroke-dasharray="1.5,2"/><line x1="936.5" y1="41.5" x2="936.5" y2="115.5" stroke="#00a000" stroke-width="1" stroke-dasharray="6,3"/><line x1="945.5" y1="41.5" x2="945.5" y2="115.5" stroke="#0000ff" stroke-width="1" stroke-dasharray="1.5,2"/><line x1="975.5" y1="41.5" x2="975.5" y2="115.5" stroke="#ff0000" stroke-width="1" stroke-dasharray="7.5,2.5"/><line x1="975.5" y1="41.5" x2="975.5" y2="115.5" stroke="#ff00ff" stroke-width="1" stroke-dasharray="1.5,2"/><line x1="1054.5" y1="41.5" x2="1054.5" y2="115.5" stroke="#ff0000" stroke-width="1" stroke-dasharray="7.5,2.5"/><line x1="1093.5" y1="41.5" x2="1093.5" y2="115.5" stroke="#00a000" stroke-width="1" stroke-dasharray="6,3"/><line x1="674.5" y1="55.5" x2="693" y2="55.5" stroke="#4040ff" stroke-width="1"/><text transform="translate(694,59) scale(1.12,1)" font-size="9" text-anchor="start" fill="#0000ff">B<tspan font-size="6.5" dy="2.5">L</tspan></text><text transform="translate(694,83.5) scale(1.12,1)" font-size="9" text-anchor="start" fill="#00ee00">B<tspan font-size="6.5" dy="2.5">M</tspan></text><line x1="674.5" y1="103.5" x2="693" y2="103.5" stroke="#ff7070" stroke-width="1.2"/><text transform="translate(694,107) scale(1.12,1)" font-size="9" text-anchor="start" fill="#ff0000">B<tspan font-size="6.5" dy="2.5">N</tspan></text><path d="M668.5 218.8l.4-.3 .4-10.4 .4 8.2 .4 7.1 .4-13.2 .4 10.4 .4-8.8 .4-1 .4 10.6 .4-14.4 .4 6.3 .4 10.8 .4-10 .4-8.2 .4 4.5 .4 6 .4 6.8 .4-15.1 .4 8.7 .4 .7 .4 6.4 .4-4.3 .4-3.9 .4-1.1 .4 6.3 .4-3.5 .4-2.7 .4-2.1 .4 7.2 .4-5.6 .4-2.1 .4 8.6 .4-2.2 .4-6.8 .4 8 .4 2.5 .4-4.2 .4 5.4 .4-15.1 .4 19.7 .4-11.4 .4 4.5 .4-8.6 .4-3.4 .4 10.6 .4-2.5 .4 2.2 .4-10.4 .4 11.5 .4-1.1 .4-5.7 .4 1.8 .4 5.9 .4-4.7 .4-3.9 .4 8.8 .4-9.3 .4-5 .4 20.6 .4-16.4 .4 12.1 .4-.9 .4-8.9 .4 11.3 .4-3.7 .4 .8 .4-3 .4 8 .4 10.6 .4-16.4 .4 11.9 .4-2.7 .4-11.1 .4-.1 .4 10 .4-1.1 .4 1.8 .4-2.2 .4 6.3 .4-7.8 .4 1.9 .4 5.2 .4-4.7 .4-1.7 .4 2 .4 .4 .4-.1 .4-3 .4 3.3 .4 .7 .4-2.2 .4 4.6 .4-5.5 .4-.7 .4 4.2 .4-7.7 .4 5.9 .4-.5 .4-.9 .4 8.3 .4-4.5 .4-2.7 .4 .6 .4 .7 .4 4.7 .4-.7 .4-4.1 .4-1.6 .4 4.6 .4-8.1 .4 10.5 .4-4.2 .4-2.3 .4 3.5 .4-1.1 .4-7 .4 14.4 .4-14 .4 1 .4 9.9 .4-3.1 .4-4.9 .4-1.3 .4 2.9 .4 4.6 .4-8.7 .4 8.7 .4-7.7 .4 11.4 .4 .1 .4 3.4 .4-6.3 .4-2.7 .4-5.6 .4 3 .4 1 .4-1.9 .4 4.4 .4-6.5 .4-.9 .4 2.6 .4 3.1 .4-.9 .4 4.6 .4-4.5 .4 3.2 .4-9.4 .4 7.8 .4-2.4 .4 .1 .4 5.7 .4-3.8 .4-.6 .4-1.5 .4-.5 .4 1 .4-2.6 .4 8.4 .4-13.3 .4 11.4 .4-4.1 .4-2.6 .4 1.9 .4-1.8 .4 3.8 .4-5.9 .4 7.4 .4-2.6 .4-1.7 .4 .2 .4-1.3 .4 5.8 .4-1.9 .4 .5 .4 5.4 .4-3 .4-6 .4 1.8 .4 5.7 .4 1.6 .4-7.6 .4-2.8 .4 5.7 .4-10.2 .4 8.4 .4 1.5 .4-3 .4-10.1 .4 9.6 .4 8 .4-7.9 .4 4.7 .4-12.1 .4 5.5 .4 4 .4-1.9 .4 1.5 .4 1.4 .4-7.1 .4 8.3 .4-1.6 .4-1.4 .4 6.1 .4-2.4 .4-5.1 .4 .5 .4 5.1 .4-4.3 .4-2.8 .4 10.2 .4-7.7 .4 .9 .4-4.8 .4 5.6 .4-13.5 .4 14.4 .4 2.8 .4-2.5 .4-.6 .4-1 .4-4.5 .4-1.2 .4-4.3 .4-.7 .4 16.9 .4-11.8 .4 11 .4 1.2 .4-5 .4-5.7 .4 4.5 .4 1.9 .4 11.4 .4-19.6 .4 13.5 .4 2.4 .4-12 .4 13.4 .4-1.6 .4-4.6 .4 2.3 .4-1 .4 5.2 .4-10.1 .4-4.5 .4-1.1 .4 1.4 .4 13.7 .4-12.6 .4-6.2 .4-4.1 .4 12.6 .4 4.8 .4-15.8 .4 4.5 .4 7.6 .4-13 .4 12.5 .4 16.1 .4-11.5 .4 12.9 .4-36.7 .4 11.2 .4 9.6 .4 16.6 .4-20.4 .4-5.9 .4 15.8 .4-14.5 .4 6.7 .4 3.7 .4 3.8 .4-4 .4 11.7 .4-22.7 .4 9 .4 4.1 .4-1.6 .4-2.5 .4-13.6 .4 7.2 .4-3.3 .4 4.7 .4-.3 .4-5.3 .4-2 .4 7.3 .4-8 .4 13.9 .4 4.6 .4-12.6 .4-.2 .4-2.3 .4 9.3 .4-1.2 .4-6 .4 6.6 .4-2.4 .4 1.1 .4 2.8 .4 1.5 .4-8 .4 9.9 .4-14.1 .4 14.1 .4-5.5 .4-.4 .4-4.9 .4 12.5 .4-3.7 .4-9.5 .4-.3 .4 5.4 .4 4.8 .4-1.6 .4-4.7 .4-1.3 .4 5 .4 .1 .4 3 .4-7.6 .4 2.6 .4-3.7 .4 7 .4-1.4 .4 1.3 .4-5.8 .4 4.1 .4-2.2 .4-1.3 .4 1.1 .4 2.2 .4-3.2 .4-2.9 .4 2.4 .4 1 .4 .8 .4 3.7 .4-2.6 .4-.3 .4-.4 .4 1.3 .4 3.1 .4-6.4 .4-.3 .4 3.9 .4-3 .4 .8 .4 3.8 .4 3.7 .4-6.4 .4-.7 .4 0 .4 1.8 .4-3.8 .4 1.2 .4-1.7 .4 7.7 .4-4.4 .4-2 .4 .2 .4 .6 .4 2.8 .4-2.6 .4 1.6 .4-2.9 .4 .8 .4 2.3 .4-2.2 .4 .7 .4-1.8 .4 5.2 .4 3.5 .4-6.8 .4-1.2 .4 2 .4-.2 .4-2.3 .4 3.8 .4-1.8 .4-3.7 .4 4 .4-3.2 .4 2.4 .4 .7 .4 4 .4-2.3 .4-3.8 .4-.5 .4 3.9 .4-1.7 .4-2.6 .4 2.6 .4 2.7 .4-3.2 .4-.4 .4 5.4 .4-4.1 .4 .7 .4-6.8 .4 6.2 .4 2.4 .4-2.8 .4-1.1 .4 9 .4-5 .4-3.5 .4 1.6 .4-.8 .4-.7 .4-1.4 .4-1.5 .4 3.4 .4 6.1 .4-5.3 .4-.4 .4-2.8 .4 1.5 .4 .3 .4-3.2 .4 8.1 .4-5.3 .4 .8 .4 1.3 .4-3.3 .4-.1 .4-1.2 .4-.1 .4 6.3 .4-4 .4 1.4 .4-.8 .4 3.9 .4-.8 .4 3.3 .4-5.7 .4-.6 .4 2.5 .4 .9 .4 .2 .4-.2 .4 .5 .4 .2 .4-3.5 .4-.7 .4 0 .4 .8 .4-.7 .4 .1 .4-5.1 .4 2.2 .4 1.4 .4 5.1 .4-1.2 .4 .9 .4-3.7 .4 .5 .4-1.4 .4 4.4 .4-.7 .4 1.5 .4-3.8 .4 .1 .4 1.1 .4-2.3 .4 2.3 .4-2.8 .4 1.4 .4 8.5 .4-7.2 .4 2.6 .4 3.5 .4-3.3 .4-6.6 .4 6.9 .4 1.1 .4-2.9 .4 2.4 .4 1.5 .4-4.9 .4-.3 .4-1.7 .4 5.7 .4-2.7 .4-1.9 .4-3.1 .4 7.4 .4-5.5 .4 1.3 .4 .2 .4 .7 .4-1.2 .4 1.7 .4-1.8 .4-2.5 .4 3.5 .4 4.3 .4-2.4 .4-2 .4 2.4 .4-.9 .4-6.8 .4 6.1 .4 .1 .4-3.7 .4 1.4 .4 2.7 .4-5 .4 .3 .4 2.1 .4 5.1 .4-.2 .4-.7 .4-4.6 .4 2.7 .4-.7 .4-.6 .4 5.8 .4-3.7 .4-1.5 .4 2.1 .4 .6 .4 2.2 .4-3.4 .4-6.5 .4 4.5 .4-1.1 .4 2.4 .4-1.3 .4-2.8 .4-1.6 .4 5.9 .4-.2 .4-1 .4 5.7 .4-8.2 .4 .8 .4 1.2 .4 .4 .4-3.4 .4 6.3 .4-5.5 .4 5.9 .4-1 .4-1.8 .4-.5 .4 .2 .4 2.2 .4-2.6 .4 2.8 .4-.3 .4 1.6 .4-1.8 .4-.6 .4 3.7 .4-4.9 .4-1.6 .4 2.8 .4-3.2 .4-2.2 .4 4.4 .4 4.6 .4-9.6 .4 8 .4-1.5 .4-.6 .4 .4 .4 8.7 .4-11.5 .4 2.8 .4 2 .4-1.3 .4-4.6 .4 5.3 .4-1.5 .4-1.8 .4 .9 .4 2.1 .4-.6 .4 .1 .4 2.2 .4-7.4 .4 3.6 .4-3.9 .4 5.8 .4 2.6 .4-4.3 .4-1.2 .4 .7 .4-.3 .4 3.5 .4-6 .4 2.8 .4-1.6 .4 .8 .4-1.6 .4-5.6 .4 6 .4 4.3 .4 3.3 .4-1.6 .4-5.5 .4 7.8 .4-2.6 .4 .5 .4-3.8 .4 .6 .4 4.5 .4-8.1 .4 5.3 .4-7.5 .4 3.8 .4 5.1 .4 .9 .4-2 .4-1.1 .4-1.2 .4 3.4 .4 13 .4-15.2 .4-2.9 .4 1.4 .4 4.1 .4-7 .4 1.5 .4 6 .4-2.1 .4-.7 .4 3.6 .4-.3 .4-1.8 .4-1.8 .4-4 .4 5 .4-2.2 .4 .3 .4 6 .4-11.8 .4 7.1 .4 .6 .4-2.7 .4-1.5 .4 6.2 .4-5.9 .4 7.1 .4-7.6 .4 4.7 .4 2.2 .4-2.6 .4-2.8 .4 4.2 .4 2.6 .4-.8 .4-6.8 .4 4 .4-1.5 .4 8.1 .4-5.1 .4-3.7 .4 .4 .4 1.6 .4-3.7 .4 4 .4 0 .4-2 .4 .7 .4 4.9 .4-6.1 .4 4.1 .4-4.7 .4-1.9 .4 5.3 .4-.4 .4-4.7 .4 4.9 .4-.2 .4 1.3 .4 3.2 .4-3.6 .4-2.2 .4 4.7 .4-4.4 .4 3 .4-.5 .4-1.4 .4 4.5 .4 3.4 .4 .1 .4 1.7 .4 .1 .4-3.9 .4-4.6 .4-.6 .4 1 .4 3.6 .4-.7 .4-2.7 .4 1.1 .4 .2 .4-2.5 .4 6.2 .4-2.4 .4-6 .4 3.1 .4 2.7 .4-.9 .4 2.3 .4-1.1 .4 1.5 .4-5.6 .4 4.7 .4 .1 .4 .1 .4 5.9 .4-5.7 .4-1.2 .4-.1 .4 11 .4-7.6 .4-.3 .4-3.3 .4-1.7 .4 2.5 .4 5.4 .4-9 .4-2.1 .4 9.6 .4-6 .4-.2 .4 5.2 .4-9.1 .4 6.1 .4-6 .4 7.2 .4-2.3 .4-3.8 .4 14.5 .4-9.8 .4-3.7 .4 1.9 .4 .2 .4-.7 .4 5.2 .4-2.3 .4 1.1 .4-1 .4 2.4 .4-10.5 .4 5.4 .4 3.3 .4 3.5 .4-.6 .4-3.5 .4-3.4 .4 .7 .4 5.5 .4-6 .4-4.7 .4 16.7 .4-19.3 .4 11 .4-2 .4 2.7 .4-2.1 .4-.4 .4-6.2 .4 9.4 .4-3.3 .4 3.3 .4 8.3 .4-16.9 .4 8.7 .4 .4 .4-.4 .4-5.1 .4 3.5 .4-.4 .4-8.2 .4 8.6 .4-1.7 .4-.9 .4-2.6 .4-3.7 .4 8.5 .4-3.8 .4 3.5 .4 1.2 .4-4.8 .4 2.4 .4-3.4 .4-1.8 .4-.4 .4 3.2 .4-3.2 .4-1.6 .4 2.8 .4 3.6 .4-2.6 .4-.1 .4-2.8 .4 4.2 .4 1.1 .4-.2 .4-1 .4-3.4 .4 2.9 .4-4.3 .4 4.2 .4-1.7 .4 2.4 .4-4.3 .4 1.4 .4 6.4 .4-7 .4-.3 .4 1.3 .4-4 .4 3.1 .4-3.8 .4 1.6 .4-.5 .4 2.4 .4 1.7 .4-5.1 .4 5.3 .4-1.2 .4 1.1 .4-2.9 .4 .2 .4-1.8 .4 6.6 .4-6.2 .4 1.4 .4 .4 .4 1.7 .4 2.5 .4-5.7 .4 5.3 .4 1.1 .4-4.3 .4-3 .4 4.7 .4 4.3 .4-5.6 .4 7.3 .4-11.6 .4 1.4 .4 7.9 .4-5.7 .4-.6 .4 1.8 .4-1.4 .4 5 .4-5.5 .4 .9 .4 .6 .4 5 .4-7.7 .4-1.5 .4 9.3 .4 .1 .4-6.8 .4 6.3 .4-2.8 .4 5 .4-3.1 .4 0 .4 .6 .4 2 .4-8.5 .4 9.1 .4-2.6 .4-.5 .4-1.8 .4-1 .4 2.8 .4-.3 .4 2.2 .4-1.3 .4-1.6 .4 .4 .4-1.8 .4 2.6 .4-1.5 .4 1.7 .4-.3 .4 1.5 .4-4.7 .4 6.1 .4-1.2 .4-8.8 .4 8 .4 1.1 .4-.9 .4-.2 .4 2.5 .4-3.7 .4-2.3 .4 7.2 .4-3 .4-7.1 .4 3.5 .4 3.7 .4 3.2 .4-6.8 .4 5.1 .4-6.7 .4 6.6 .4 1.5 .4-2.5 .4 .4 .4-4.4 .4 6.8 .4 2.4 .4-5.3 .4 3.7 .4 1.2 .4-9.7 .4 4.7 .4 2.7 .4 7.2 .4-6 .4-8.9 .4 3.7 .4 .6 .4 1.4 .4-4.3 .4-2.2 .4 2.8 .4 .8 .4 1.3 .4 2.8 .4-2.2 .4-3.9 .4 7.3 .4 3.3 .4-6.6 .4-8.8 .4 10.7 .4-1.7 .4 2.9 .4 2.4 .4 1.5 .4-10 .4 6.1 .4-6.8 .4-1.9 .4 5 .4-3.7 .4 .1 .4 1 .4 .5 .4 2.1 .4-2.8 .4 2.9 .4 5 .4-5.6 .4-5.1 .4 7.8 .4 .7 .4 .3 .4-12 .4 3.4 .4-1.3 .4-1.4 .4-2 .4 6.8 .4-8.5 .4 12.6 .4-3.1 .4-4.1 .4 9.9 .4-9.9 .4-2.3 .4 2.4 .4 1 .4-2.5 .4 11.9 .4-15.1 .4 10.8 .4-.9 .4-.1 .4 2.1 .4-8.1 .4-3.5 .4 5.9 .4-.2 .4-2.6 .4 6.9 .4-.8 .4-8.2 .4 4.5 .4-4.3 .4 8.7 .4-2.5 .4 1.5 .4-3.6 .4-2.4 .4-1 .4 7.3 .4-5.5 .4 .2 .4 4.1 .4 4.2 .4-9.4 .4 4.7 .4 .6 .4-5.4 .4 .3 .4 1.9 .4 2 .4-.5 .4-3.4 .4 4.9 .4 0 .4-3.2 .4 2.8 .4 1.3 .4-4.4 .4 2 .4 2.4 .4-4.3 .4 3.6 .4-4.2 .4 1.2 .4-3.8 .4 9 .4-2.7 .4-.6 .4 6.2 .4-6.8 .4-.5 .4 3.1 .4 .7 .4-9.9 .4 3.7 .4 .5 .4-3.1 .4 6 .4-2.8 .4 4.6 .4-5.8 .4-2.8 .4 10.7 .4-4.9 .4 1.9 .4 2.9 .4-4.8 .4-3.3 .4-3.7 .4 7.7 .4-1.6 .4-1.1 .4 2.6 .4-.9 .4-4.5 .4 5.1 .4-.9 .4-4.3 .4 .1 .4 5.1 .4-1.4 .4-.1 .4 2 .4-4.2 .4 .4 .4-.3 .4 1 .4 2.9 .4 .3 .4-1.6 .4 .8 .4 .4 .4-5.7 .4 2 .4 1.2 .4 3.8 .4-4.6 .4 5.6 .4-2.3 .4 2.4 .4-7.6 .4 2.8 .4 1.4 .4-5.5 .4 6.4 .4-2.9 .4 1.9 .4-3.1 .4 7.1 .4-6.5 .4-.1 .4 3.4 .4-4.3 .4 2.2 .4 6.6 .4-9.7 .4 3.5 .4 1.2 .4-1.4 .4 3.5 .4-5.8 .4 8.2 .4 1.5 .4-10 .4 4.6 .4 .9 .4-1.7 .4-3.6 .4 4.6 .4-6.2 .4 8.4 .4-5.2 .4-.5 .4 1 .4 1.8 .4-5.6 .4 5.2 .4-4.3 .4 3.6 .4 12.1 .4-7.1 .4-3.5 .4 0 .4 1.6 .4-3.1 .4 1.2 .4 .3 .4-1.6 .4 .3 .4-3.7 .4 4.2 .4-1.6 .4 .3" fill="none" stroke="#00ee00" stroke-width="0.9" stroke-linejoin="round" clip-path="url(#cM3)"/><path d="M668.5 238.1l.4 7.2 .4-10.2 .4 1 .4 13.2 .4-5.7 .4-6.8 .4 6.1 .4-4.9 .4 .9 .4 1.8 .4-9.3 .4-.5 .4 7.3 .4 14.8 .4-7.4 .4-9.9 .4-11.1 .4 25.1 .4-13.4 .4 3.3 .4-11.6 .4 12.1 .4-4.8 .4 10.5 .4-13.2 .4 3.8 .4 5.8 .4 1.8 .4 4.5 .4-.9 .4-6.8 .4-9.3 .4 6.2 .4-.3 .4 2.2 .4-1 .4 .1 .4-.2 .4 7.1 .4-7.1 .4 8.6 .4-6.1 .4-1.2 .4 .8 .4 .1 .4-7.8 .4 8.2 .4-6.2 .4 2.4 .4 2 .4 5.3 .4-8.5 .4-.2 .4-4.7 .4 11.3 .4-3.8 .4 .6 .4-5.9 .4 10.1 .4-1.2 .4-4.1 .4-9 .4 4.7 .4-4.4 .4-6.2 .4 .1 .4 7 .4-7.1 .4-4 .4 3.3 .4 1 .4 0 .4-8.1 .4 3.1 .4 3.6 .4-2.9 .4 1.6 .4-18.6 .4 13.2 .4 11.6 .4-5.5 .4-1.5 .4-.1 .4-2.1 .4 0 .4-4 .4 4.9 .4 .9 .4 1.3 .4-1.7 .4 1 .4 1.6 .4-3.3 .4 7.2 .4-3.6 .4-4.2 .4 1.1 .4-3.2 .4 2 .4 .7 .4 5.8 .4-4.9 .4 2 .4-4.7 .4 2.5 .4-4.5 .4 6.6 .4 3.8 .4-3 .4-3.3 .4-1.3 .4 2.9 .4 .3 .4 7.2 .4-13.8 .4 2.4 .4 3.4 .4-1.9 .4 5.7 .4-6.5 .4 1.3 .4-2.8 .4 7.8 .4 0 .4-2.9 .4 0 .4 4.1 .4-18.8 .4 11.7 .4 7.8 .4-2.7 .4-5.2 .4 6.1 .4-7.1 .4-.5 .4 3 .4 2.7 .4-5.7 .4-3.2 .4 13.7 .4-4.9 .4-1.7 .4-2.2 .4 2.5 .4 .9 .4-7.3 .4 4.9 .4 1.9 .4-4.9 .4 7.8 .4-4 .4-.5 .4 2.9 .4-5.4 .4-1.2 .4 12 .4-3.6 .4-5.2 .4-3.9 .4 6.2 .4-4.1 .4-1.9 .4 5.3 .4-9.7 .4 7.6 .4-.9 .4 7.9 .4-7.5 .4 5.1 .4-4.3 .4 .1 .4-.1 .4 2.9 .4 1.2 .4-2.8 .4 1.1 .4-4.2 .4 4.6 .4-6.2 .4 6.9 .4-4.9 .4 3.8 .4 .2 .4-.8 .4-2 .4 2.2 .4 .8 .4 .5 .4-4 .4 3.6 .4-4.4 .4 1.5 .4 3.2 .4-1.3 .4 0 .4-.3 .4-2.1 .4 6.7 .4-6.8 .4 5.5 .4-4.9 .4-1.1 .4 .9 .4 8.5 .4-8.4 .4 2.1 .4 4.9 .4-4.7 .4-2.7 .4-.3 .4 6.1 .4-4.6 .4-.5 .4 .4 .4 1.2 .4 0 .4-3 .4-2.9 .4 10.1 .4 1.6 .4-8.6 .4 1.6 .4 1.6 .4-6.3 .4 3.5 .4-.8 .4 6.3 .4-4.4 .4-3.2 .4-8.7 .4 14 .4-3.5 .4-12.5 .4 11.6 .4 4.6 .4 5.8 .4-3.3 .4-5.4 .4 8.6 .4-14.3 .4 14.7 .4 1.3 .4-4.2 .4-13.6 .4-12.5 .4 32.8 .4-13 .4-2.3 .4 2.3 .4 5.8 .4-19.3 .4 19.5 .4-.2 .4-.4 .4-.1 .4-18.6 .4 11.2 .4 11.8 .4-8.9 .4 10.6 .4-7.1 .4-4.9 .4 12.1 .4-2.8 .4 4.7 .4-4.7 .4-16.9 .4 9 .4-9.4 .4 .2 .4 19.5 .4-8.2 .4-3.2 .4 1.2 .4 13.8 .4-5.3 .4-.1 .4 .3 .4-8.3 .4-8.6 .4-.6 .4 15.9 .4 1.6 .4-7.9 .4 .3 .4-1.2 .4-.5 .4 3.9 .4-7.6 .4 10.7 .4-9.5 .4 5.7 .4-5.7 .4 4.1 .4 2.4 .4-5.6 .4 6 .4-2.1 .4 1.3 .4-7.4 .4-.9 .4 7.3 .4-4.7 .4-1.7 .4 10.5 .4-7 .4-5.3 .4 4.5 .4 4.3 .4-9.9 .4 14.1 .4-2.5 .4-7.8 .4 .1 .4 4.7 .4 6.8 .4-6.5 .4 4.5 .4 .6 .4-8.2 .4 3.9 .4 .7 .4 .8 .4-.1 .4-1.3 .4 .1 .4 2.7 .4-.6 .4-.9 .4-3.9 .4 5.3 .4-1.4 .4 2 .4-1.5 .4-.7 .4 0 .4 .7 .4 2.2 .4-3.9 .4-3 .4 4.7 .4-3.6 .4 2.2 .4 .2 .4 1.9 .4 3.5 .4-4.4 .4-1.3 .4 2 .4-3.1 .4 2.7 .4-1.4 .4 6.5 .4-7.7 .4 1.5 .4 3 .4-5.4 .4 2.4 .4-.9 .4-4.2 .4 3.5 .4 1.9 .4-1.3 .4-4.1 .4 .8 .4 5.1 .4 1 .4-1.5 .4 4.5 .4-7.7 .4 7.3 .4-4.1 .4 3.3 .4-5.6 .4-1.1 .4 4.7 .4-.8 .4-6.6 .4 4.1 .4 2.9 .4-3.3 .4 1.4 .4 2.4 .4 .8 .4-1.1 .4-1.5 .4-6.5 .4 8.2 .4-1.8 .4 2.3 .4 1.3 .4-1.6 .4 .2 .4 3.3 .4-5.4 .4-.7 .4 6.3 .4-6.2 .4 3.4 .4-2.5 .4 4.6 .4-3.3 .4 .5 .4-.9 .4 .3 .4-2.1 .4-.1 .4-1 .4 3.1 .4 .1 .4 4.5 .4-6.9 .4 7.9 .4-5 .4 .7 .4-3.5 .4-.8 .4 6.1 .4 0 .4-20 .4 16.9 .4-2.4 .4 1.2 .4 1.4 .4 1.2 .4-5.5 .4 6.3 .4-4.2 .4 3.2 .4-1.5 .4 0 .4-1.6 .4 2.2 .4-.8 .4-1.8 .4-2.1 .4 2.8 .4 3.4 .4 3.1 .4-5.1 .4-1.1 .4 8 .4-7.3 .4-1.5 .4 2.3 .4 .8 .4-2.9 .4 .9 .4 3.1 .4 .4 .4-2.9 .4 .5 .4 1.2 .4-2.5 .4-.3 .4-2.8 .4 6.2 .4 1.1 .4-1.9 .4-2.9 .4 3.5 .4-2.2 .4 .4 .4-.5 .4-4 .4 6.1 .4 1.9 .4-2.9 .4-.7 .4 1.7 .4 .7 .4 .6 .4-5.7 .4 2.1 .4 .8 .4-.8 .4 1.9 .4-2.9 .4 .7 .4 1.7 .4 1.8 .4-4.3 .4 4.4 .4-1.5 .4-.5 .4-.8 .4 2.3 .4-2.9 .4 1.6 .4 .3 .4-1.2 .4 .1 .4-2 .4 2.9 .4-.7 .4-.5 .4 4.4 .4-1.6 .4-1.3 .4 .7 .4-.3 .4-2.3 .4-2.6 .4 1.3 .4 3 .4-1.4 .4 .5 .4-2.2 .4 .2 .4 1.9 .4 .4 .4 5 .4-5.4 .4 .2 .4-2 .4 .1 .4 4.1 .4-5.3 .4 4.5 .4-3.6 .4 4.7 .4-6.5 .4 0 .4 .4 .4 4.1 .4 .1 .4-.8 .4-1.6 .4-2.6 .4 7.5 .4-1.3 .4 1.7 .4 .4 .4-.9 .4-5.7 .4 3.5 .4-3.7 .4 6.6 .4-6.9 .4 1.1 .4-1.1 .4 5.1 .4 4 .4-4.2 .4 2 .4-1.7 .4-.9 .4-4.7 .4 6.8 .4-4 .4 .9 .4 1.4 .4-1.8 .4 .5 .4-3.3 .4 7.2 .4-1.4 .4-2.1 .4-2.1 .4 .3 .4 1.9 .4 .8 .4-4 .4-1.3 .4 3.6 .4 .2 .4-2.4 .4 1.4 .4 1.6 .4-1.9 .4 2.8 .4-2.6 .4 .2 .4-2.8 .4 2.7 .4 .4 .4-2.6 .4 4.4 .4-3 .4 5 .4-5 .4 4.1 .4-1.6 .4-.4 .4-2.1 .4-1.2 .4 2.7 .4 2.2 .4-1.3 .4 1.8 .4-2.4 .4-1.7 .4 .6 .4 3.4 .4-5.7 .4 1.3 .4 .6 .4 1.2 .4-1.8 .4 5.2 .4-2.7 .4 1.2 .4-3.7 .4 2.8 .4-1.2 .4 1.2 .4-2.2 .4 1.1 .4 .5 .4 1.7 .4-3.1 .4 .9 .4-.9 .4 3.2 .4-2.4 .4-2.2 .4 3.2 .4-1.3 .4 4.6 .4-3.1 .4-1.3 .4-3.4 .4 3.3 .4 .1 .4-1.2 .4 1.7 .4 7 .4-6.4 .4 .7 .4-1.8 .4 1.8 .4 .4 .4-3.1 .4 0 .4 3.6 .4-.1 .4-1.5 .4 .3 .4-2.7 .4 3.8 .4-5.7 .4 7.2 .4 .6 .4-7.2 .4-2 .4 4 .4-1.5 .4-.9 .4 .3 .4 9 .4-4 .4-1.2 .4-.6 .4-.9 .4-.4 .4 .6 .4-.1 .4 3.4 .4-8.6 .4 5 .4 2.6 .4-.2 .4-.8 .4-.4 .4 2.4 .4 .5 .4-.6 .4-3.4 .4 2.7 .4-1.1 .4-3.1 .4 .5 .4-.1 .4 3.5 .4-1.6 .4 1.1 .4-1.1 .4-1.7 .4 .1 .4-2 .4 2.2 .4-2.2 .4 4.5 .4-4.6 .4 4.1 .4-4.3 .4 1.9 .4-2 .4 2 .4 2.9 .4-6.3 .4 1.6 .4-.1 .4 1.4 .4-5.6 .4 2.8 .4-2.7 .4 7.7 .4-3.1 .4-2.2 .4 2 .4 1.5 .4-4.8 .4-3.1 .4 9.7 .4-3.5 .4-5.6 .4 .5 .4 1.5 .4 1.2 .4 7.2 .4-6.1 .4 4 .4-1.5 .4-4.4 .4 4.4 .4-4.2 .4 2.8 .4-.1 .4 .7 .4-1.6 .4 3.3 .4-.9 .4-.9 .4-3.8 .4 .5 .4 2.7 .4-3.3 .4 4.4 .4-3.3 .4 1.5 .4-1.6 .4 4.3 .4-5.4 .4 1.9 .4-.1 .4-1.3 .4 1.1 .4 5.5 .4-3.9 .4-.3 .4-.1 .4-.6 .4 1.7 .4 1.3 .4-4.4 .4 5 .4-1.6 .4 2.4 .4-1.5 .4-2.5 .4-1.1 .4 0 .4 4.4 .4-7.5 .4 5.6 .4-.8 .4 2.3 .4-2.7 .4-.6 .4 .8 .4-1 .4 3.3 .4 1.5 .4-4 .4 1.1 .4-2.9 .4-2.1 .4 5 .4-3.3 .4-.2 .4 3.9 .4-3 .4 3.2 .4 .4 .4-5.6 .4 5.6 .4-1.9 .4 .3 .4-1.5 .4-1.4 .4 2.4 .4 .9 .4 2.3 .4-3.7 .4-2.7 .4 4.5 .4-.2 .4-.4 .4 3.3 .4-6.5 .4 .5 .4 1.5 .4 3.9 .4-1.4 .4-5.8 .4 6.1 .4-2.1 .4-.4 .4 .7 .4 1.1 .4-.4 .4-.1 .4-1.5 .4 .9 .4-.1 .4 4.3 .4-4.5 .4 .8 .4 .2 .4-6 .4 6 .4-1.5 .4 2 .4 1.8 .4-3.7 .4 2.9 .4-4.5 .4 .8 .4 1.5 .4 2.4 .4-2.5 .4 .4 .4 2.3 .4-6.9 .4 4.9 .4-3.2 .4 2.4 .4-1.4 .4-.3 .4 .5 .4 1.7 .4 3 .4-2.1 .4-8.4 .4 8.6 .4-1.8 .4 .7 .4-4.5 .4 4.6 .4-1.1 .4 1.5 .4-1.7 .4-.5 .4-5.6 .4 9.2 .4-3.4 .4-1.5 .4-.3 .4 3.5 .4-.2 .4 .5 .4-1.8 .4 .9 .4-2 .4-1.8 .4 1.5 .4 .3 .4 6.4 .4-6.3 .4-3.1 .4 6.2 .4-.9 .4 .2 .4 3.6 .4-6.7 .4 4.9 .4-3.5 .4 3.8 .4-4.9 .4 .3 .4 3.5 .4-1.1 .4-1 .4 4.9 .4-3.7 .4-2.3 .4 1.1 .4-3.2 .4-.6 .4 3 .4-.8 .4-.8 .4-5.8 .4 7.6 .4 2.9 .4-2.1 .4-1.5 .4 2.1 .4-2.6 .4-3.9 .4 7.9 .4-4.9 .4 6 .4-4.9 .4 .7 .4 .7 .4 1.5 .4 1.7 .4 .1 .4-4.3 .4 .9 .4 1.6 .4 2.1 .4-6.1 .4 .5 .4 .1 .4 .1 .4 .8 .4 1.7 .4-4.9 .4 1.1 .4 1.7 .4 1.8 .4-4.6 .4 5.5 .4-5.1 .4 6.2 .4 .5 .4-3.7 .4-8.4 .4 9.6 .4 .1 .4-4 .4 1.4 .4 2 .4-1.8 .4 1.1 .4 3.2 .4-2.3 .4-4.4 .4-3.1 .4 6.2 .4-3 .4 2.2 .4-3.5 .4 2.8 .4 4.8 .4-3.7 .4-3.5 .4 .5 .4-2.7 .4 1.7 .4 8 .4-3.1 .4-3.8 .4 .9 .4 0 .4-.8 .4-1.4 .4 6.6 .4 2.8 .4-2.8 .4-1.7 .4 4.3 .4-9.3 .4-2.4 .4-1.1 .4 8.5 .4-.1 .4-2.3 .4 3.5 .4-3.4 .4-2 .4 2 .4-3.3 .4 5.3 .4-.4 .4-2.8 .4 3.6 .4-2.6 .4-1.4 .4 5.4 .4-7 .4 5.1 .4-.5 .4-1.3 .4-1.7 .4 6 .4-3.8 .4 1.2 .4-4.2 .4 3.7 .4-2.3 .4 .3 .4 1.5 .4-1.1 .4-.9 .4-1.6 .4 5.6 .4-2.8 .4 3.2 .4-4.7 .4 1.7 .4 .8 .4-2.1 .4-.1 .4-.1 .4 2.7 .4 1.2 .4-2.6 .4 2.5 .4-8 .4 7.6 .4-3.4 .4 1 .4 3.8 .4-.5 .4 1.6 .4-2.5 .4-1.7 .4 .9 .4-4.9 .4 9.4 .4-4.4 .4-3.7 .4 6.3 .4-4.4 .4-3 .4 2.1 .4 7.8 .4-3.9 .4-4.7 .4 3.2 .4 .2 .4-.9 .4 .1 .4-3.4 .4 4.4 .4-.8 .4 3.4 .4 .2 .4-3.6 .4-2.6 .4 .1 .4-3.9 .4 6.4 .4-.2 .4-1.6 .4 2 .4 3.6 .4-1.8 .4-3 .4 4.4 .4-3.1 .4 .1 .4 2.3 .4-4.8 .4 4.3 .4-3.4 .4-1.3 .4 1.5 .4 2.8 .4 .4 .4-1.5 .4 2.7 .4-1.5 .4-7.1 .4 7.8 .4 1.7 .4-7 .4-3 .4 6.8 .4 .4 .4-3.1 .4-.6 .4 3.9 .4 1.4 .4-1.2 .4-3.7 .4 3.3 .4-3.3 .4 4.4 .4 .8 .4-2.6 .4 1.2 .4 .1 .4-1.6 .4 1.1 .4 1.7 .4-4.4 .4 4.6 .4-2.5 .4 .3 .4-1.3 .4-.2 .4 2.5 .4-3.7 .4-1.7 .4 5.2 .4 1.1 .4 .7 .4-.4 .4-2.2 .4-1.8 .4 4.4 .4-3.9 .4 5.8 .4-2 .4 .1 .4-1.6 .4-1.6 .4 1.3 .4 4.5 .4-4.7 .4 2.5 .4-5.7 .4 4.8 .4-4.2 .4 1.7 .4 5.7 .4-4.3 .4 .2 .4 1.3 .4-.8 .4 2.2 .4 1.4 .4-1.4 .4 .6 .4-5.4 .4 3.2 .4-.9 .4-3.8 .4 6.3 .4-3.9 .4 3.9 .4-2.6 .4-1.9 .4 5.8 .4-1.1 .4-6.3 .4 1.3 .4 3.3 .4-1.1" fill="none" stroke="#0000ff" stroke-width="0.9" stroke-linejoin="round" clip-path="url(#cM3)"/><path d="M668.5 222.5l.4 5.2 .4-4.2 .4-.4 .4 9.4 .4-2.4 .4-6.2 .4-3.2 .4 10.5 .4 .1 .4-3.9 .4-1.8 .4 5.8 .4 6 .4-4.6 .4-5.5 .4 1.5 .4-5.6 .4-5.8 .4 10.9 .4-1.6 .4 9.1 .4-7.9 .4 4.9 .4-.8 .4-9.5 .4 3.5 .4 .4 .4-4.5 .4 7.5 .4-1.9 .4-3.6 .4 4.2 .4-1 .4 1.9 .4-2.9 .4 .3 .4 1.1 .4 1.5 .4-1.9 .4 5.5 .4-3.8 .4-1.8 .4-1.9 .4-6.4 .4 5.1 .4 4.1 .4 .4 .4 2.2 .4-4.7 .4 6.9 .4-14.5 .4 10.9 .4-7.3 .4 10.4 .4-2.1 .4-6.8 .4 .9 .4 6.7 .4-3 .4-1.1 .4-2.6 .4 4.7 .4-3.4 .4 0 .4-1.9 .4 4.2 .4-1.4 .4-2 .4-5.1 .4 6.7 .4-2.8 .4 8.6 .4-2.6 .4-4.2 .4 8.5 .4-11.5 .4 7.5 .4-1.5 .4-2.8 .4 6.4 .4-2.1 .4-1.3 .4 6.7 .4-5.6 .4-4.5 .4 1.9 .4-2.2 .4 5.3 .4-6.5 .4 .1 .4 3.6 .4-7.8 .4 8.5 .4-.3 .4 1.3 .4-6.4 .4 1.8 .4-2.6 .4 .3 .4 8.6 .4-3.1 .4-4.2 .4-1.1 .4 3.2 .4-1.1 .4 1.4 .4 2.1 .4 3.3 .4-2.3 .4 3 .4 .3 .4-3.7 .4-7 .4-1.4 .4 7.2 .4 6.3 .4-1.8 .4-.8 .4-3.8 .4-1.8 .4 2 .4-4.7 .4 5.3 .4 1.3 .4-5.6 .4 9.6 .4-8.5 .4 5.4 .4 7.5 .4-10.7 .4 .8 .4 2.3 .4-7.1 .4 8.1 .4-2.5 .4-2.1 .4 .8 .4-1.5 .4 .2 .4 3.1 .4-2.8 .4 2.1 .4 .5 .4-4.5 .4 6.2 .4-4.6 .4 5.4 .4-5.8 .4 .6 .4-2.6 .4 5 .4 16.9 .4-16.1 .4-1.2 .4-1.5 .4-1.8 .4 3 .4-4.4 .4 6.1 .4-6.3 .4 1.7 .4 4.7 .4-6.2 .4 2.3 .4-2.1 .4 4.3 .4-2.5 .4 3.9 .4-1.2 .4-.8 .4-1 .4 .1 .4 1.5 .4-3.4 .4 4 .4-.3 .4-1.8 .4-.1 .4 1.7 .4-1.1 .4-2 .4 6.5 .4-1.5 .4-4.1 .4 6.4 .4-4.1 .4 .3 .4 2.7 .4-5.4 .4 2.8 .4 .6 .4-2.4 .4 2.1 .4-6.9 .4 4.4 .4-2.7 .4 6.6 .4-2.6 .4-10.3 .4 8.5 .4 10.6 .4-18.2 .4 13.4 .4-3.6 .4-3 .4 4.4 .4-5 .4 1.4 .4-10.1 .4 12.9 .4-4.7 .4 1.7 .4-1 .4 12.4 .4-14.1 .4 5.5 .4-10.1 .4 12.4 .4-2.3 .4-.9 .4-10.2 .4-1.4 .4 2.1 .4 4.9 .4 5.6 .4-6.4 .4 2 .4 10.6 .4-.9 .4-7.2 .4 3.9 .4-3.4 .4-12.9 .4 9.1 .4 5.1 .4-7.1 .4 20.5 .4-17.4 .4 14.7 .4-7.4 .4-11.9 .4 16.5 .4-13.1 .4-12.2 .4 23.2 .4 9.8 .4-20.6 .4 .3 .4 9.5 .4 13.2 .4-21.4 .4-3.1 .4-3.9 .4 8.8 .4-21.4 .4 43.7 .4-11.2 .4-3.9 .4 24.3 .4-65.3 .4 47 .4-19.4 .4 9.1 .4-12.1 .4 31 .4-44.5 .4 19 .4 .3 .4 4.9 .4-1.9 .4 2.9 .4 12.5 .4-12.3 .4 23.5 .4-12.8 .4-26.4 .4 10.1 .4 .6 .4-8.4 .4 12.7 .4 1.1 .4-31.6 .4 14.6 .4 22.2 .4-13.9 .4 .9 .4 6.5 .4 6.8 .4 .5 .4-15.8 .4 14 .4 11.8 .4-22.2 .4 2.1 .4-5.1 .4 4.2 .4 .4 .4 4.3 .4-.6 .4 6.5 .4-3 .4-8.4 .4 7.7 .4 .3 .4-8.6 .4 9.5 .4-6.8 .4 5.8 .4-.4 .4-8.5 .4 4.3 .4 3.8 .4-2.1 .4-2.9 .4 5.2 .4-4.4 .4 5.8 .4-.8 .4 2.2 .4-7.9 .4 4.5 .4-1 .4-2.6 .4-.5 .4 5.2 .4-2.7 .4-1.5 .4 2.7 .4-.7 .4-1.3 .4-3.1 .4 7.5 .4-3.3 .4 1.9 .4-1.6 .4 5.2 .4-10.1 .4 2.1 .4 6.4 .4-.8 .4-8.2 .4 5.7 .4-3.6 .4-1.2 .4 5 .4-.8 .4 1.8 .4-2.6 .4-1.6 .4-4.3 .4 10.3 .4-3.8 .4 3.2 .4-7.6 .4 5.9 .4 .8 .4 1.4 .4-6.5 .4 1 .4 4.7 .4-3.4 .4-.5 .4-2.9 .4-1.6 .4 .2 .4 5.8 .4-3 .4 1.2 .4-.9 .4 .7 .4 .6 .4 .9 .4-.5 .4 .4 .4 5.3 .4-7.7 .4 6 .4-7.4 .4 3.1 .4-1.6 .4 5.7 .4 1.6 .4-3.5 .4-.8 .4 4.9 .4-5.6 .4 2.1 .4-2.1 .4 2.8 .4-4.1 .4 3.1 .4 4 .4-4.7 .4-2.7 .4 1.6 .4 2.5 .4-1.7 .4-1.2 .4-1.4 .4-.2 .4 1.6 .4 1.3 .4 2.1 .4-2.6 .4-1.8 .4 3 .4-2.7 .4 6.7 .4-6.2 .4 0 .4 3 .4-6.9 .4 1.1 .4 1.6 .4-3.6 .4-.4 .4 9.2 .4-7.5 .4 8.1 .4-6.4 .4 4.6 .4-.3 .4-4.5 .4 5.4 .4-.9 .4-5.9 .4 1.5 .4 1.2 .4 3.4 .4 2.3 .4-6 .4 2.1 .4-1.5 .4 2.6 .4 1.3 .4-4.8 .4 4.6 .4-.3 .4-4 .4-.4 .4 4.5 .4-4.4 .4 1.2 .4 2.6 .4 1.1 .4 .1 .4-4.1 .4 2.3 .4-.5 .4 1.1 .4-1.2 .4-1.3 .4 4.1 .4-.4 .4 1.2 .4-1.6 .4-1.3 .4-4.2 .4 7.6 .4-2.3 .4-4.1 .4 1.2 .4 4.1 .4-1.6 .4-4.6 .4-.1 .4 3.3 .4 3.6 .4-4.5 .4 3.3 .4 .3 .4-2.4 .4-3.2 .4 2.4 .4-.9 .4 1.2 .4-1.8 .4-1.5 .4 4.4 .4-3.8 .4 5 .4-2.4 .4 2.8 .4-4.2 .4 2.6 .4-.5 .4 1 .4 0 .4 2.4 .4-5.2 .4 4.4 .4-3.5 .4-1.8 .4 .5 .4 .3 .4 .9 .4 1.8 .4-2.5 .4-2.6 .4 1.9 .4 2.9 .4-.7 .4-3.5 .4 5.7 .4-5.9 .4 2.7 .4-4.3 .4 7.5 .4-2.1 .4-2.3 .4 2.3 .4-2.4 .4 7.1 .4-5.2 .4-3.8 .4 .1 .4-.4 .4 6.1 .4-1.9 .4-3.1 .4 3.6 .4 2 .4-5.1 .4 .4 .4 3.2 .4 .7 .4-2.1 .4 .8 .4 1 .4-2.8 .4 .9 .4-1.7 .4 2.4 .4 3.3 .4 .5 .4-6.7 .4 1.5 .4-.9 .4 3.1 .4 1.6 .4-1.8 .4-5.1 .4 1.4 .4 4.9 .4-3.3 .4-2.9 .4 4.1 .4 .4 .4-1.2 .4 2.2 .4-.6 .4-1 .4-1.7 .4 4.1 .4-2.4 .4-.6 .4-3.5 .4 3.8 .4-2 .4-.2 .4 3 .4 3.5 .4-5.3 .4 3.9 .4 .5 .4-5.6 .4 4.2 .4-1.7 .4 .8 .4 .6 .4 .4 .4-2.4 .4 2.5 .4-4 .4 .3 .4 4.1 .4-2 .4 3.3 .4 2.3 .4-9.1 .4 2.9 .4-.5 .4 1.5 .4-.1 .4-4.8 .4 1.8 .4-.6 .4 2 .4-.8 .4-.3 .4-5.2 .4 6.6 .4-.1 .4-.9 .4 4.1 .4 1.5 .4-3.9 .4-.4 .4-2.6 .4-3.5 .4 5.9 .4 3 .4-3.7 .4 5.3 .4-9 .4-2.1 .4 6.8 .4-.9 .4 2.5 .4 .8 .4-5.5 .4-1.3 .4 3.1 .4 2 .4-3.3 .4-.6 .4 1.6 .4-2.2 .4 .2 .4 4.8 .4-1.9 .4-6.1 .4 1.3 .4 7.5 .4-7.4 .4 2.5 .4 2.4 .4 4.7 .4 .6 .4-10.3 .4 2.7 .4 2.3 .4-.8 .4 2.1 .4 .1 .4-2.6 .4 3.5 .4-.8 .4-1.5 .4-4.4 .4 2 .4 2 .4-.5 .4 1 .4-3.3 .4 4.5 .4-.6 .4-1.1 .4-.9 .4 .9 .4 2.7 .4-.7 .4-5.1 .4 1.2 .4-2.3 .4 3.9 .4 .2 .4-.7 .4-1.1 .4 4.9 .4-7.2 .4 3.9 .4-3 .4-1.9 .4 5.6 .4-5.1 .4 4.6 .4-.2 .4 4.9 .4-1.6 .4-5.9 .4 2.4 .4 .5 .4 2.8 .4-1.2 .4-2.3 .4-5.8 .4 7.9 .4-5.6 .4 5.1 .4-1.5 .4 2.3 .4-3 .4-.3 .4 .2 .4-2.7 .4 4.3 .4-.4 .4 2.5 .4-8.4 .4 9.4 .4-6.5 .4 2.8 .4-7.6 .4 6.8 .4-.9 .4 2.7 .4-.9 .4-2 .4-4 .4 8.7 .4-3.7 .4 1.5 .4-2.7 .4 1.2 .4-2.8 .4 .5 .4-1 .4-1 .4 6.6 .4-1.7 .4-2 .4 3.4 .4-1.9 .4-3.9 .4 2.8 .4 4 .4-3 .4-7.5 .4 5.4 .4 3.9 .4 2 .4-9.8 .4 5.1 .4-3.2 .4 3.1 .4 1.3 .4 1.3 .4-4.3 .4 1.4 .4-2.3 .4 2.8 .4 1.8 .4 3.2 .4-10.1 .4 5.1 .4-1 .4 .2 .4-3.3 .4-2.5 .4 3.6 .4 2.4 .4 5.9 .4-6.8 .4 2.9 .4-3.3 .4 1.3 .4-2 .4 3.4 .4-4.3 .4-.6 .4 3.9 .4-.9 .4 2.1 .4-1.4 .4 5.3 .4-4.8 .4 2.1 .4-3.1 .4 1.2 .4-5.7 .4 3.2 .4 2.7 .4 1.5 .4-1.2 .4-1.3 .4-.8 .4-3.4 .4 5 .4 1.5 .4-3.4 .4 5.3 .4 .3 .4-5.4 .4-.9 .4 3.1 .4-5.1 .4 7.7 .4-1.4 .4-1.3 .4 2.3 .4-4.8 .4 .7 .4 2.3 .4-2.8 .4 1.1 .4 .6 .4 3.7 .4-4.8 .4 1 .4-5.2 .4 7.6 .4-.3 .4-1.8 .4-4.7 .4-.2 .4 11.6 .4-8.1 .4-1.1 .4-2.3 .4 6.2 .4-1.1 .4-4 .4 4.1 .4-9.4 .4 9.6 .4-4 .4 4.1 .4 .4 .4-5.8 .4 3.7 .4 3.5 .4-3 .4 .2 .4 2 .4-4.3 .4 3.6 .4-5.1 .4 3.9 .4-1.3 .4 0 .4-2.4 .4 2.5 .4 2.3 .4-2 .4 2.9 .4-3 .4-.6 .4 .8 .4-3 .4 3.8 .4 2.6 .4-.1 .4-.1 .4-2.2 .4-.7 .4-2.5 .4 1.2 .4 2.4 .4-2.1 .4 2.8 .4-3.6 .4-4 .4 5.8 .4-1.8 .4 2.2 .4-.7 .4-4.1 .4 6.5 .4 .2 .4-2.7 .4-1 .4 0 .4 1.2 .4-1.4 .4-1 .4 3.9 .4-1.1 .4 1.6 .4-4.7 .4 5.7 .4-5.2 .4 2.8 .4-1.2 .4 .2 .4 1.3 .4-.9 .4 5.1 .4-8 .4 5.6 .4 2.8 .4-7.8 .4 1.2 .4 2.8 .4-1.8 .4 4.2 .4-1.7 .4-3.7 .4 1.9 .4-1 .4 2.5 .4-.1 .4-.3 .4-6.8 .4 3.4 .4 .7 .4 5 .4-1.7 .4-1.7 .4-4.1 .4 1.2 .4 1.5 .4-.7 .4 4.8 .4-1.3 .4-3.1 .4 .2 .4 2.5 .4-5.5 .4 3.5 .4 3.2 .4-3.3 .4-.9 .4 0 .4 .1 .4 1.9 .4 .8 .4-5.7 .4 6.5 .4 1.9 .4-5.5 .4 3.1 .4 2.7 .4-2.5 .4-4.1 .4 4.1 .4 0 .4 1.2 .4 .1 .4-1.3 .4 1.3 .4-7 .4 4.9 .4-6.3 .4 4.2 .4 4.1 .4-6.5 .4 3.8 .4 2.7 .4-7.8 .4 3.4 .4 4.7 .4 2.3 .4-5 .4 3.2 .4-4.4 .4 7.4 .4-6.7 .4 1.5 .4-3.3 .4 3 .4-.5 .4-.1 .4 1.5 .4-2 .4-7 .4 1.5 .4 5.8 .4 5 .4-4.8 .4-.4 .4 5.5 .4-7.4 .4 3.2 .4-2.1 .4 3.1 .4-.1 .4 .4 .4-.2 .4-5.2 .4 5.7 .4-3.1 .4 3 .4 1.1 .4-.1 .4-7.1 .4 3.2 .4-1.5 .4 3.8 .4-3.9 .4 2.1 .4 3 .4-3 .4 2.3 .4 3.5 .4-1.9 .4-.2 .4 .4 .4-3.2 .4-.9 .4-1.4 .4 6.2 .4-2.1 .4 .9 .4-7.3 .4 7.3 .4 4.2 .4-5.8 .4-2.1 .4 4.9 .4-6.5 .4 3.4 .4-.7 .4 4 .4 .3 .4-.2 .4-4.6 .4 3.9 .4 1.1 .4-4.2 .4 3.3 .4-.2 .4 .3 .4 .2 .4-1.6 .4 1.9 .4-4.1 .4 7.1 .4-3.9 .4 .8 .4-1 .4 .4 .4 1.9 .4-.9 .4-3.6 .4 3.2 .4-1.7 .4 4.2 .4-7.4 .4 7.5 .4-4 .4-.4 .4 .9 .4 2 .4-6.1 .4 7 .4-3.3 .4-1.5 .4 6.3 .4-2 .4 .5 .4-3.5 .4 4 .4-.3 .4 .8 .4-3 .4-1.9 .4 0 .4 2.2 .4-1.7 .4 .6 .4-.6 .4 3.5 .4 .1 .4 .8 .4-1.7 .4-4.9 .4 4.1 .4 .7 .4-3.2 .4-2 .4 8.8 .4-7.6 .4 2.3 .4 2.7 .4-1.6 .4-1.4 .4 3.4 .4-3.2 .4 2.2 .4-3.8 .4 1.3 .4 .8 .4-8.2 .4 7.2 .4 6.1 .4-1.3 .4-8.3 .4 5.1 .4-2.6 .4 4.2 .4 3.1 .4-6.2 .4-2 .4 1.4 .4 2.3 .4-5.4 .4 5.3 .4 .7 .4-4 .4 6.2 .4-3.4 .4-4.4 .4-3.6 .4 7.4 .4-.6 .4 2.2 .4-3.8 .4-2.3 .4 2.4 .4 6.7 .4-5.3 .4-1.1 .4 3.3 .4 0 .4-.2 .4-2.7 .4-2.4 .4 5 .4-5.5 .4 .1 .4 1.8 .4 2.8 .4-.1 .4 5.3 .4-7.9 .4 8.7 .4-8.8 .4 .5 .4-1.4 .4 2.9 .4-5.4 .4 .7 .4 3.1 .4 4.1 .4-3 .4-1 .4-3.8 .4 4.5 .4-3.3 .4 .9 .4 .4 .4-2 .4 .6 .4 4.1 .4-4.4 .4 2 .4-4.8 .4 4 .4-3.9 .4 4.5 .4 3.4 .4-6.1 .4 6.3" fill="none" stroke="#ff0000" stroke-width="0.9" stroke-linejoin="round" clip-path="url(#cM3)"/><line x1="668.5" y1="223.4" x2="1122.5" y2="223.4" stroke="#000" stroke-width="1.5" stroke-dasharray="4.5,3"/><line x1="777.1" y1="189.5" x2="777.1" y2="263.3" stroke="#ff00ff" stroke-width="1.4" stroke-dasharray="1.5,2"/><line x1="936.5" y1="189.5" x2="936.5" y2="263.3" stroke="#00a000" stroke-width="1" stroke-dasharray="6,3"/><line x1="945.5" y1="189.5" x2="945.5" y2="263.3" stroke="#0000ff" stroke-width="1" stroke-dasharray="1.5,2"/><line x1="975.5" y1="189.5" x2="975.5" y2="263.3" stroke="#ff0000" stroke-width="1" stroke-dasharray="7.5,2.5"/><line x1="975.5" y1="189.5" x2="975.5" y2="263.3" stroke="#ff00ff" stroke-width="1" stroke-dasharray="1.5,2"/><line x1="1054.5" y1="189.5" x2="1054.5" y2="263.3" stroke="#ff0000" stroke-width="1" stroke-dasharray="7.5,2.5"/><line x1="1093.5" y1="189.5" x2="1093.5" y2="263.3" stroke="#00a000" stroke-width="1" stroke-dasharray="6,3"/><line x1="674.5" y1="197.5" x2="693" y2="197.5" stroke="#4040ff" stroke-width="1"/><text transform="translate(694,201) scale(1.12,1)" font-size="9" text-anchor="start" fill="#0000ff">V<tspan font-size="6.5" dy="2.5">L</tspan></text><path d="M668.5 308.5l.4 4.8 .4-2.5 .4-.6 .4 .3 .4 .1 .4 1.7 .4 1.7 .4-2.3 .4 .4 .4 2 .4-.5 .4 2.2 .4-4.1 .4 4.4 .4-1.5 .4-.3 .4-2.1 .4 3.7 .4 .4 .4 1.7 .4 .5 .4-2.6 .4 4.6 .4-4.5 .4 1.9 .4-1.7 .4-1.1 .4 2.5 .4 1.4 .4 1.6 .4-2.5 .4 2 .4 .8 .4-.8 .4 .2 .4-1.9 .4 3.4 .4-2.1 .4-.8 .4 2.5 .4-.1 .4-3.5 .4-2.3 .4 4.6 .4-1.7 .4-2.9 .4 .3 .4 1 .4 .5 .4-3.3 .4-.3 .4-.9 .4-.9 .4 .5 .4-1.8 .4 1.3 .4-2.8 .4 2 .4-5.7 .4 2 .4-.7 .4-3.4 .4-.9 .4-3.1 .4-.3 .4-5.9 .4 3.3 .4-.1 .4-1.3 .4-4.1 .4 .2 .4-2.3 .4-.3 .4-.5 .4-2.5 .4-3.1 .4-2.8 .4-9.8 .4 3.4 .4 1.3 .4 2.5 .4-17.5 .4 22.4 .4-2.2 .4 1.3 .4-3.5 .4-2.2 .4-.2 .4 1.7 .4 1.4 .4 1.9 .4-.1 .4 3.8 .4-1.1 .4 .6 .4-.9 .4-2.2 .4-4 .4 3.8 .4-1.1 .4-.9 .4-.8 .4-1.2 .4 3.5 .4 2 .4-.7 .4 1.1 .4 5.9 .4-.1 .4-5.2 .4 .9 .4-10.1 .4 2 .4 .9 .4 3 .4 9.2 .4 1.2 .4-1.9 .4 4.3 .4 4.2 .4-4.2 .4 .7 .4 2.6 .4 .5 .4-.8 .4 1.1 .4 4.3 .4-2.6 .4-1 .4 .6 .4-.1 .4 .8 .4 2.6 .4-1.2 .4 5.4 .4-.3 .4-1.4 .4-1.1 .4 4.4 .4 0 .4 1.2 .4 .9 .4-.5 .4 .2 .4-.3 .4-1.2 .4 4.4 .4 .8 .4-3.6 .4 .1 .4 3 .4-1.2 .4-.9 .4-1.4 .4 2.4 .4-.7 .4-.9 .4 3.8 .4-19.4 .4 14 .4 6.2 .4-2.1 .4 .2 .4-.7 .4-.7 .4 .6 .4-.3 .4 1 .4-3 .4-.4 .4 2.4 .4-1.1 .4-.2 .4-.4 .4 .6 .4-1.1 .4 1.3 .4 .7 .4-4.9 .4 3.6 .4-3.9 .4 .5 .4-4.2 .4 8.8 .4-4.9 .4 2.9 .4-2 .4-1.6 .4-1 .4 .7 .4 4.3 .4-4.3 .4-3.6 .4 3 .4 2.3 .4-1.9 .4-1.4 .4-1.2 .4-2.8 .4 1.4 .4 .3 .4 1.2 .4-2 .4 1.2 .4 .9 .4-2.2 .4-1.7 .4-10.2 .4-10.3 .4-6.4 .4 2.5 .4 12.7 .4 11.2 .4 0 .4-.7 .4-5.6 .4-4 .4 4.9 .4 4.7 .4 5.4 .4-.4 .4 1.6 .4-2.1 .4 1.1 .4-1.9 .4 .1 .4 .3 .4-3.9 .4-4.3 .4-9.8 .4-2.6 .4 3.6 .4 6.6 .4 4.9 .4 8.7 .4-5 .4 1.3 .4 .3 .4-4.3 .4 4.1 .4-.8 .4 .8 .4 2.1 .4-9 .4-11.9 .4-7.2 .4-6.7 .4 7.6 .4 6.6 .4 5 .4 3.3 .4-.8 .4 6.1 .4 5.1 .4 4.4 .4-1.8 .4 3.8 .4-4.2 .4 .4 .4 3.6 .4 3.3 .4-4.8 .4 .6 .4 1.2 .4-1.4 .4 .9 .4-1.4 .4 2.3 .4-4.6 .4-1.9 .4-7.4 .4-3.7 .4 1.9 .4 7.7 .4 7.8 .4-3.8 .4 5.7 .4-1.1 .4-.4 .4-1.5 .4-.7 .4 2.6 .4 1.1 .4-2.1 .4 1.8 .4 .2 .4 .2 .4-.8 .4-4.1 .4 3 .4 2.3 .4 1.4 .4-4.1 .4 1.1 .4-1.1 .4-1.9 .4 3.1 .4 2.3 .4-1.5 .4 1.6 .4-1.9 .4 2.7 .4-1.8 .4 2.6 .4 1.5 .4-.7 .4-.4 .4 .6 .4-.3 .4-7.3 .4 9.8 .4 1.7 .4-.6 .4-1.8 .4 0 .4 1 .4 0 .4-1.3 .4 1.9 .4-.6 .4-.3 .4 3 .4-3.4 .4 1.4 .4-3.4 .4-2.5 .4 4.4 .4-1.4 .4 1.4 .4 1.1 .4 .4 .4-3.1 .4 3.1 .4-4 .4 3.5 .4-1.6 .4-1.8 .4-1.5 .4 4.8 .4-2.5 .4 1.5 .4 .3 .4 1.1 .4-4.5 .4 1.9 .4-.6 .4-1 .4 2.6 .4-2.3 .4-1 .4 .2 .4 2 .4-3.7 .4 2.4 .4-1.2 .4-1.3 .4 3.5 .4 1.5 .4 .3 .4-.4 .4-.8 .4-2.4 .4 1.8 .4 1.2 .4-1.9 .4 4.9 .4-.5 .4-2 .4 1.1 .4 2.2 .4-.6 .4-2.3 .4 1.5 .4 3.6 .4-4.5 .4 2 .4-3.3 .4 2.4 .4 0 .4 1 .4-1.5 .4-3.1 .4-.5 .4 3.8 .4-3 .4 2.3 .4 .6 .4-2.8 .4-3.9 .4 3.6 .4-.6 .4 2 .4 0 .4-2.7 .4-3.1 .4-.4 .4 1.5 .4-1.9 .4-1.6 .4-2.7 .4 .7 .4 1.9 .4-7.4 .4 7.1 .4 0 .4 .9 .4-3 .4-4.6 .4 3.6 .4-4 .4 .9 .4 1.8 .4-4.4 .4 1 .4-1.1 .4-1.3 .4-1.8 .4-6.4 .4-6.5 .4-2.5 .4 7 .4 1.8 .4 5.2 .4 3.7 .4-3 .4 3.3 .4-4.3 .4 1.4 .4 2 .4 1.1 .4-.3 .4-.1 .4-.6 .4 2.2 .4-3.9 .4 3.3 .4-3.3 .4 .8 .4 2.5 .4-2.2 .4 5 .4-2.6 .4 3.4 .4 3.3 .4-.5 .4 .1 .4 1.4 .4 3.9 .4-3.3 .4 .3 .4-1.4 .4 1.9 .4 0 .4 .1 .4-2.8 .4-.7 .4 .3 .4-.9 .4 .7 .4-.9 .4 1.3 .4-1.8 .4 .6 .4 1.7 .4-3.2 .4 2.1 .4-.1 .4-2.5 .4-.3 .4 .4 .4-1 .4-1 .4-1.7 .4-3 .4 2.2 .4-2.3 .4 2.1 .4-2.3 .4 2.3 .4-2.8 .4-1.8 .4 2.2 .4-1.7 .4-5.7 .4 4.2 .4 .6 .4-3.5 .4-.2 .4 1.7 .4-10.3 .4 5.5 .4 2 .4-1.3 .4 1.5 .4-1.9 .4-8 .4 8.1 .4-5.2 .4 2.2 .4-1.1 .4 1.8 .4-.3 .4-1 .4-1.5 .4 1.5 .4-.9 .4-.7 .4 2.2 .4 .7 .4-4 .4 1.1 .4 2.3 .4 1.6 .4-5.3 .4-2.9 .4-9.7 .4 1.1 .4 10.7 .4 2 .4 5.3 .4 2.3 .4-1 .4 .2 .4-2.2 .4 3.1 .4 .1 .4-1.2 .4-1.6 .4-1.4 .4 1.2 .4-2.9 .4 3.8 .4-.7 .4-1.4 .4 2.1 .4-1.9 .4-1 .4-.1 .4-3.7 .4 3.4 .4-3.8 .4 2.1 .4-2.6 .4 2.8 .4 .6 .4-.4 .4-1.4 .4-.6 .4-1.4 .4 .2 .4 2.5 .4-.5 .4 1 .4 .7 .4-.5 .4-.2 .4 2.6 .4-5.1 .4 6.3 .4-1.7 .4-2 .4 1 .4-1.5 .4 1.7 .4 1.4 .4-2 .4-3.8 .4 7.7 .4-5.5 .4-1 .4-3.7 .4-9.5 .4 8.4 .4 3.9 .4 9.7 .4-1.3 .4-2.4 .4 1.7 .4-.2 .4 .9 .4 3.2 .4-3.2 .4 .7 .4 2.4 .4-1 .4-3.5 .4-10.8 .4 12.6 .4 .8 .4-3.6 .4 4.6 .4-3 .4-.9 .4 1.9 .4 1.3 .4-.1 .4-1.5 .4-1.4 .4-1.7 .4 3 .4-.4 .4 .4 .4 .1 .4-1.4 .4 3.6 .4 .6 .4 1.2 .4-.2 .4 .5 .4-3.5 .4 2.3 .4 3.8 .4-7.9 .4 1.2 .4 3.4 .4 2.7 .4-.8 .4 .3 .4-2 .4 1.4 .4 1.3 .4 .9 .4-.6 .4 2.8 .4-1.2 .4-.3 .4 1.6 .4-2.5 .4-1.6 .4 4.6 .4-.4 .4-3.5 .4 4.4 .4 .2 .4-.3 .4 .1 .4 .8 .4-2.1 .4 3.5 .4-1.6 .4 2 .4 .3 .4 .1 .4 .1 .4-1.5 .4 1.7 .4 3.3 .4-3.4 .4 1.6 .4 3.3 .4-2 .4-.6 .4 .1 .4-4.6 .4 1.3 .4 2 .4 1.2 .4-.8 .4-2.4 .4-1.5 .4-.6 .4-1 .4-4.3 .4 .3 .4-1.7 .4 1.7 .4 2.6 .4 2.4 .4 .6 .4-.1 .4-.6 .4 4.7 .4 1.4 .4-1.1 .4-2.2 .4 .2 .4 1.1 .4-2.6 .4 2.5 .4-.3 .4 1.4 .4-3.9 .4 3 .4 .1 .4 3.6 .4-5.5 .4-.2 .4 1.4 .4 2.1 .4-.2 .4-2.6 .4-.5 .4 .8 .4 1.7 .4 .1 .4-2.3 .4 .6 .4-1.3 .4 .1 .4 1.3 .4 2.2 .4-3.2 .4-.2 .4-1.3 .4 .5 .4 .7 .4-1.3 .4-.2 .4 .7 .4-.8 .4-2.9 .4 3.9 .4-1.7 .4-1.6 .4 .6 .4-1 .4 1.5 .4 1 .4-.5 .4-1.5 .4 3.1 .4-1.6 .4 .2 .4 1 .4-8.1 .4 5.7 .4 1.9 .4-.2 .4 .4 .4 1.8 .4-2.8 .4-.4 .4-.5 .4-.2 .4 3.6 .4-.1 .4-2.4 .4 .9 .4 1.8 .4-1.9 .4 .1 .4 .1 .4-2 .4-1 .4 2.3 .4-.8 .4 1.7 .4-4.6 .4 .6 .4-1.2 .4 .6 .4-1.5 .4 .2 .4 .6 .4 .5 .4-.8 .4 .6 .4-3 .4-.6 .4 .9 .4-.2 .4-1.6 .4 .9 .4 1.3 .4-.1 .4-2.6 .4 1.1 .4 .7 .4-3.4 .4 2.2 .4-1.5 .4-.5 .4 .3 .4 .4 .4 .2 .4-.5 .4-.3 .4 1 .4-.7 .4 0 .4-.4 .4 .4 .4 .1 .4-2.3 .4 1.6 .4 1.5 .4-1.6 .4-1.3 .4-1.8 .4 5.4 .4-1.6 .4-1 .4-1.1 .4 1 .4 1.9 .4-.6 .4-3.5 .4 .9 .4-.3 .4 2.9 .4-2.5 .4-1.6 .4 0 .4 5.4 .4-1.5 .4 .7 .4-4.6 .4 2.1 .4-.4 .4 .1 .4-.7 .4 2.6 .4-.1 .4-1.2 .4 .8 .4 .7 .4 .1 .4-2.6 .4 3.9 .4-1.6 .4 1.7 .4-2 .4 .9 .4 1.9 .4-4.2 .4 1.5 .4-1.8 .4 2.4 .4-.2 .4 .6 .4-1.5 .4 5.7 .4-6.5 .4-.1 .4 2.5 .4-1 .4-3.6 .4 5.1 .4-.4 .4-2.9 .4 .3 .4 2.5 .4-1.7 .4-2.4 .4 2.1 .4-1.6 .4-1.3 .4 3 .4-.9 .4-1.2 .4 .4 .4 .3 .4-3.3 .4 3.5 .4-2.4 .4 2.9 .4-.2 .4-5.3 .4 3.9 .4 1.6 .4-4.8 .4 3 .4 .3 .4-1.6 .4 2.2 .4-.5 .4-3.6 .4 3.7 .4 0 .4 2 .4-2.2 .4 1.7 .4 .1 .4 0 .4 .1 .4-3.7 .4 1.1 .4 2.4 .4-5.3 .4 3.4 .4-1.3 .4 1.4 .4-6.2 .4 5.5 .4-1.1 .4 2.3 .4 3.6 .4-4 .4-1.1 .4 2.6 .4 2.6 .4-9.5 .4 6.6 .4-1 .4 4.9 .4-1.5 .4 1.5 .4 2.1 .4 .8 .4 1.3 .4 2.5 .4 0 .4 2.8 .4 2.3 .4 .8 .4-1 .4 2.4 .4-.4 .4-1.4 .4 .9 .4-2.7 .4-.4 .4-2.9 .4-1.5 .4 1.5 .4-3.3 .4-1.8 .4-.7 .4-3.6 .4 3.7 .4-2 .4 4.5 .4-4 .4 2.9 .4-1.5 .4-.9 .4 1.3 .4-1.2 .4 0 .4 3.2 .4-2.7 .4 0 .4 3.6 .4-2.3 .4 2.1 .4-3.4 .4-.5 .4 3 .4-1.6 .4 3.1 .4-3.1 .4 2 .4-.9 .4 .1 .4 0 .4 .4 .4 2 .4 1.8 .4-.3 .4-.8 .4 4.8 .4-.2 .4-.1 .4 .7 .4-.9 .4 5.5 .4-2.2 .4 3.8 .4 .4 .4-1 .4 1.2 .4-3.2 .4-3.8 .4 2.7 .4 0 .4-2.1 .4-3.3 .4 .6 .4 1.7 .4-2.8 .4-.5 .4 5 .4-3.1 .4 2.7 .4-3.2 .4 2.1 .4-.4 .4-4.4 .4 4.6 .4 .8 .4 0 .4-4.7 .4 6 .4-7.8 .4 8.3 .4-.6 .4-2.7 .4 3.7 .4-.9 .4 .5 .4 3 .4 .7 .4 .1 .4 .3 .4 .3 .4 2.4 .4-1.7 .4 2 .4 .4 .4 .8 .4-2.7 .4 2.8 .4-1.4 .4 1.4 .4 1.6 .4-.2 .4 2.7 .4-1.9 .4 1.3 .4 1.1 .4-6.8 .4 2 .4 1.7 .4 .3 .4-3.1 .4 4.3 .4-5 .4-.5 .4-2.3 .4 1.9 .4-1.9 .4-1.7 .4 2.5 .4-13.4 .4 13.5 .4-1.4 .4-1.2 .4 0 .4-1 .4-.4 .4 2.1 .4-1.3 .4-2.8 .4 5.7 .4-2.8 .4 .2 .4 1.1 .4-.8 .4 2.5 .4-1.4 .4-.4 .4 .9 .4-1.3 .4-3.9 .4 1.2 .4 3.3 .4-.7 .4-2.1 .4 1.5 .4-2.9 .4 .9 .4-2.7 .4-.3 .4 2.2 .4 0 .4 2 .4-4 .4-1 .4 3.1 .4-1.3 .4-2.2 .4 2.1 .4-3.3 .4 1.4 .4-2.3 .4-2.9 .4-2.1 .4 3.3 .4-4.2 .4 6 .4-5.8 .4-1.1 .4 .7 .4-1 .4-2.4 .4-1 .4-2.5 .4-9 .4-2.2 .4 1.7 .4 5.5 .4 3.9 .4 0 .4 2.1 .4-2.3 .4 2 .4-.2 .4-.5 .4-.4 .4 .6 .4 3.6 .4-1.9 .4 1.2 .4-3 .4 .8 .4-5.7 .4-2.2 .4 .6 .4 2.6 .4 2.9 .4 3.7 .4-1.4 .4 3.1 .4 1.1 .4 1.2 .4-2.9 .4-.6 .4 1.5 .4-3.1 .4 3.5 .4-3.3 .4 2.6 .4-2.5 .4 3.9 .4-2.6 .4 2 .4 1.9 .4-1.6 .4 2.1 .4-3.8 .4 .4 .4 3.6 .4-1.6 .4 .9 .4 3 .4-2.1 .4 .8 .4 .6 .4-1.7 .4-.4 .4 1.3 .4 3.2 .4-.6 .4 0" fill="none" stroke="#ff0000" stroke-width="0.9" stroke-linejoin="round" clip-path="url(#cM4)"/><path d="M668.5 309.9l.4-2.6 .4 3.2 .4 1.8 .4-.7 .4-.2 .4-1.2 .4 2.2 .4 1.9 .4-2 .4 .4 .4 0 .4-.1 .4 2 .4 2 .4-.2 .4-2.1 .4-1.1 .4 2.6 .4 1.4 .4-.4 .4-1 .4 2.2 .4-3.2 .4 4.1 .4-.7 .4 1.1 .4-1.4 .4-.4 .4-1.1 .4 6.4 .4-3 .4 .7 .4 .3 .4 1.3 .4-.6 .4-.1 .4-.4 .4 .7 .4-.2 .4-1.3 .4-.2 .4-2.3 .4 2 .4-1.6 .4 1.1 .4-7.4 .4 1.7 .4 0 .4 2.2 .4-1.2 .4-.3 .4 .8 .4-2.9 .4 1.9 .4-3.7 .4 .4 .4-.1 .4-.7 .4-2.7 .4-1.7 .4 1.6 .4-3 .4 .7 .4-2.6 .4 1.9 .4-5.2 .4 2.9 .4-1.5 .4 2.2 .4-1.1 .4-4.8 .4 1.1 .4-2.3 .4 .3 .4-.3 .4-.3 .4 2.9 .4-7.3 .4-.6 .4 3.1 .4-1.2 .4-1.3 .4 4.1 .4-5 .4-.3 .4 1.1 .4-4.5 .4 .9 .4 .6 .4 2.3 .4-1.9 .4-.9 .4 1.1 .4-.3 .4-.1 .4-1 .4-.7 .4 .4 .4 .1 .4-2.3 .4 3.6 .4-.3 .4 .4 .4 0 .4 3 .4-1.8 .4 3.8 .4 2.1 .4-.2 .4 3 .4-.1 .4 1.9 .4-3.8 .4 2.4 .4 .8 .4 .2 .4 1.2 .4 1 .4-2.3 .4 3.8 .4-2.6 .4 1.4 .4-1.8 .4 .4 .4 1.9 .4-.7 .4 .6 .4 2.9 .4-1.6 .4-.8 .4 1.6 .4-.6 .4-.1 .4 .6 .4 .3 .4-3.2 .4 4.8 .4 2.1 .4 .4 .4-.3 .4-3.5 .4 4.2 .4 3 .4-2.3 .4-3.1 .4 2.5 .4 1.9 .4-1.1 .4-1 .4 3.6 .4-3.8 .4 .4 .4 2.1 .4 .2 .4 1 .4 .4 .4-3.4 .4 1.2 .4-1.4 .4 2.1 .4-.9 .4 3.5 .4 .1 .4-.1 .4-2.1 .4-1.5 .4-.1 .4 1.3 .4 .4 .4-2.2 .4 1 .4 2.2 .4 1.4 .4-4.1 .4 .4 .4-1 .4-1.2 .4 1.6 .4 .6 .4 .1 .4-3.2 .4 1.3 .4-1.7 .4 .5 .4 .6 .4 0 .4 .7 .4 .9 .4-.4 .4-2.8 .4-1.1 .4 2.3 .4-1.3 .4-.2 .4-.3 .4-3.3 .4 1.3 .4 2.4 .4-1.3 .4-3.2 .4 .6 .4 1.1 .4 1.7 .4-3.5 .4-.7 .4 2 .4 2.7 .4-2.3 .4-.7 .4-.5 .4 3.8 .4-2.5 .4-1.1 .4 3.9 .4-5.8 .4 3.9 .4 .5 .4-2.5 .4 4.2 .4-4.5 .4 1.1 .4 4 .4-3.5 .4-1 .4 3 .4-1.2 .4-.8 .4-.9 .4 1.2 .4-.9 .4 1.4 .4-.9 .4-1.3 .4 2.7 .4-3.1 .4 2.9 .4 1.1 .4-3.2 .4 1.1 .4-3.5 .4 2.1 .4 .4 .4 .6 .4 2 .4-1.2 .4-.2 .4 1.1 .4-.4 .4 .2 .4 .8 .4-1.8 .4 4.3 .4-2.3 .4 .3 .4-.3 .4 2.9 .4-3.1 .4 3.8 .4-.3 .4-1.2 .4-.1 .4 3.2 .4-3.8 .4-.7 .4 3.7 .4-2.2 .4-3 .4 5.4 .4-2.6 .4 1.2 .4-.2 .4-.6 .4 1.6 .4-4.1 .4 .7 .4-.4 .4 3.4 .4-.1 .4-1 .4-2.7 .4 4.9 .4-1 .4-1.9 .4 1.2 .4-1.1 .4-.1 .4 .1 .4-1.4 .4 .7 .4 1.9 .4-2.8 .4-.2 .4 1.2 .4-1.9 .4 2 .4 1.9 .4-.5 .4-.1 .4-2.3 .4-1.3 .4 3.6 .4 .1 .4 .2 .4-.2 .4 2.5 .4-3 .4 3.2 .4-1 .4-.1 .4-.4 .4-.5 .4 2.1 .4 .5 .4-.7 .4 1.7 .4-5.4 .4 4.9 .4 0 .4-.4 .4-3.7 .4 1.1 .4-.1 .4 4.1 .4-2.7 .4-1.2 .4-.7 .4 .2 .4 .2 .4-1.1 .4 .8 .4 .8 .4-2.6 .4 1.5 .4 .2 .4-.4 .4-.2 .4-1.8 .4 2.8 .4-3 .4 .8 .4-.3 .4 2.1 .4-1.9 .4-1.7 .4 .5 .4-2.4 .4 3.5 .4 2.9 .4-6.7 .4 2.4 .4 1.5 .4 0 .4-3.3 .4 4.1 .4-3.8 .4 .3 .4-1.6 .4 3.7 .4 3 .4-2.6 .4 0 .4 1.6 .4-.1 .4 1 .4-.4 .4 2.7 .4-3.1 .4 1.3 .4 1.8 .4 1.5 .4-.4 .4-.9 .4 1.7 .4-.7 .4-4.8 .4 2.8 .4 .3 .4-1.1 .4 2.6 .4 1.1 .4-2.7 .4-1.5 .4 3.4 .4-1 .4-.4 .4 .7 .4-.6 .4 .9 .4-1.8 .4-.3 .4 3 .4-2 .4 0 .4-1.6 .4 .7 .4-2.2 .4-2.6 .4 1.1 .4-1.3 .4-.4 .4-.2 .4-2.1 .4 2.2 .4-3.2 .4 .2 .4 1.1 .4-4 .4 5.3 .4-1.5 .4-2.4 .4-1.8 .4 2.7 .4-.1 .4 1.4 .4-1.9 .4 0 .4 3.7 .4-.2 .4-3.3 .4-1.6 .4-.7 .4 3.7 .4-4.3 .4-.1 .4-.3 .4 1.5 .4-2.9 .4 2.9 .4-1.5 .4-.7 .4 2.7 .4-4.8 .4 .3 .4-.6 .4-.3 .4 1.1 .4-2.8 .4 2.6 .4 1.6 .4-1.1 .4-4.1 .4 3.4 .4 4.1 .4-.2 .4-2.9 .4 4.6 .4-.5 .4 3.4 .4-2.6 .4 .3 .4 3.6 .4 .4 .4-.5 .4-.2 .4 1.2 .4 1 .4-4.1 .4 2.3 .4 1.3 .4-1.9 .4 2.8 .4-2.4 .4-.9 .4 2.5 .4-.1 .4 4.9 .4-5.3 .4-.4 .4-.4 .4-.4 .4 .7 .4-4 .4 1.9 .4-2.7 .4-2.2 .4 .4 .4-.1 .4 2 .4-.7 .4-5.3 .4 .2 .4 1.7 .4-1 .4-2.9 .4 2.1 .4-3.2 .4-.1 .4 .2 .4 .1 .4-2.5 .4 .9 .4-2.8 .4 3.6 .4-.8 .4-3 .4 3.2 .4-2.8 .4-.6 .4-.7 .4-1.2 .4-.7 .4 1.4 .4 1.6 .4-.7 .4-1.4 .4 1.4 .4-1.8 .4 1.1 .4-2.4 .4 1.8 .4 2.3 .4-.1 .4-2 .4 4.1 .4-.7 .4-.5 .4 2.8 .4-.1 .4-.1 .4 1 .4 2 .4-3 .4 1.7 .4-1.6 .4-.9 .4-1.6 .4-.7 .4 4.6 .4-.3 .4-2.6 .4-1 .4 1.1 .4-.8 .4 1.1 .4-3.5 .4 1.7 .4 1.6 .4-3.9 .4-.4 .4 1.4 .4-3 .4-.7 .4-.1 .4 4.4 .4-3.8 .4 1 .4-3 .4-1.7 .4 3.9 .4-.7 .4-2.8 .4 3.5 .4-.4 .4 2.3 .4-5 .4 6.2 .4-2.8 .4 1.7 .4 .7 .4-.7 .4 1.2 .4-1 .4 .7 .4 1.9 .4-2.1 .4 .4 .4 2.8 .4 1.6 .4-1.7 .4-.4 .4 1.9 .4-1.6 .4 1.4 .4 2.1 .4-3 .4 3.7 .4-.7 .4 .3 .4-.8 .4-.3 .4-.8 .4-1.4 .4 2.4 .4-.1 .4-1.5 .4-2.2 .4 2.7 .4 2.1 .4-3.1 .4-1.9 .4 .5 .4 1.5 .4-.9 .4-.2 .4 1 .4-1.1 .4 3.6 .4-2.1 .4-.8 .4-.4 .4 0 .4 .6 .4 1.2 .4-.2 .4-.2 .4 .8 .4-1.2 .4 1.2 .4-2.5 .4 2.4 .4 1.2 .4-1.1 .4 0 .4-1.4 .4 3.3 .4-2 .4 4.2 .4-4.9 .4 2.7 .4-.6 .4-1.3 .4 2 .4 1.8 .4-4.2 .4 3.2 .4-.3 .4 .3 .4 1.5 .4-1.2 .4-1 .4-.3 .4 1.8 .4 1.2 .4-1.5 .4 .2 .4 3.7 .4-4.3 .4 5.1 .4-2.9 .4 .8 .4-.8 .4 1.2 .4-1.3 .4 3.2 .4 0 .4-1.3 .4 1.8 .4-.8 .4-1.8 .4-.2 .4 1.1 .4-.4 .4-.2 .4 2.8 .4-4.2 .4 2.6 .4-1.9 .4 .3 .4-1.7 .4 3.2 .4-.6 .4-2.2 .4 2.6 .4-1.3 .4-1.6 .4 .4 .4-2 .4 1.6 .4 1 .4-2.5 .4 2.1 .4 4.7 .4-3.8 .4-.9 .4-.1 .4 4.2 .4-4 .4 .9 .4-1.4 .4 .4 .4 1.3 .4 2.3 .4 1.4 .4-2.2 .4 .4 .4-1.9 .4 1 .4 1.4 .4 .2 .4-3.3 .4 .7 .4-.4 .4 2.1 .4-.8 .4 .4 .4-1.4 .4 1.5 .4-2.1 .4 1.2 .4-1.3 .4-2.6 .4 2.2 .4-3 .4 3.4 .4-.5 .4-.9 .4-.5 .4-.8 .4 1.1 .4 1.4 .4-2.1 .4-.6 .4 1.2 .4-2.2 .4 1.1 .4-1.1 .4-1.3 .4 .9 .4 1.9 .4-.9 .4 .6 .4-1.9 .4 3.7 .4 0 .4-2.3 .4 2.8 .4-2.2 .4 2.4 .4-.2 .4 .7 .4-2.7 .4 .7 .4 .5 .4 .9 .4 .8 .4 .1 .4-2.7 .4 5.1 .4-3.5 .4-.4 .4 .1 .4 2.6 .4-4.7 .4-2 .4 3.6 .4-1.2 .4-.5 .4-.9 .4 1.7 .4-1 .4-.9 .4 2.2 .4-2.9 .4 3.7 .4-4.3 .4-.5 .4 .2 .4 .2 .4 1.1 .4-1.7 .4 .7 .4-1.7 .4 .1 .4-.3 .4 .7 .4-1.8 .4 .7 .4-.9 .4-.7 .4 2.8 .4-1.5 .4-.5 .4 .5 .4-1.6 .4 3 .4 1.5 .4-3.7 .4-.4 .4 .8 .4-1.5 .4 1.7 .4 .1 .4 1.2 .4-3.4 .4-1.4 .4 1.5 .4-2.1 .4 1.3 .4 1.2 .4-.3 .4 .5 .4-.2 .4 .1 .4 .5 .4-.3 .4-.9 .4 1.5 .4-.7 .4 .6 .4 .6 .4-.3 .4 .3 .4-.6 .4-.6 .4-1.1 .4 4.6 .4-.7 .4-4.1 .4 2.1 .4-.1 .4 .2 .4 .5 .4 1.4 .4-3.2 .4 1.9 .4-.6 .4 1.7 .4-1.6 .4-1.2 .4 1.1 .4-2.1 .4 3.2 .4 .4 .4-1.6 .4 1.6 .4-1.6 .4 0 .4 3.8 .4-1.2 .4-.7 .4 .6 .4-2.2 .4-.5 .4 1.7 .4-2.2 .4-.8 .4 3.7 .4-.5 .4-1.3 .4-2 .4 3.2 .4-1.3 .4 1.9 .4-2 .4-.9 .4-2.5 .4 1 .4 1.9 .4-3.1 .4 1.3 .4 .9 .4-1.8 .4 1.6 .4-2.7 .4-2.4 .4 5.6 .4-1.3 .4 1.8 .4-1.4 .4-2.7 .4 .6 .4 1.4 .4-.2 .4 2.4 .4-3.3 .4 3.6 .4-7 .4 3.6 .4-.1 .4-1.8 .4 .9 .4 2.4 .4-1.6 .4 .8 .4-.7 .4 .6 .4-.3 .4-1.3 .4 .5 .4-.9 .4 1.9 .4 1.1 .4 2.4 .4-5 .4 1.1 .4 .4 .4 2.3 .4 .5 .4-3.2 .4 0 .4 2.4 .4 .1 .4-.1 .4 .9 .4-.7 .4 1.1 .4-.2 .4 2 .4-2.1 .4 3.3 .4-1.6 .4 1.1 .4 2 .4-1.4 .4-1.1 .4 4.1 .4 2 .4-4 .4-.6 .4-1.2 .4-.4 .4 .2 .4-3.1 .4-.7 .4-3.6 .4 .9 .4-.2 .4-4.1 .4 3.6 .4-1.4 .4 .5 .4-2 .4 2.6 .4 .5 .4-1.7 .4 2.2 .4 1.7 .4-2.2 .4 .7 .4-1.5 .4 .3 .4 2.1 .4-.5 .4-.7 .4 2.8 .4-.3 .4-3.4 .4 2 .4-1.1 .4 1.4 .4 1.2 .4-2.1 .4 3 .4-1.5 .4-2.4 .4 3 .4-1.3 .4 3.1 .4-.5 .4 2.2 .4-.2 .4-2.4 .4 2 .4 .5 .4 1.3 .4-3.4 .4-.1 .4 3.5 .4-1.2 .4 .9 .4-2.1 .4-1.6 .4-.8 .4 .6 .4-3 .4-.3 .4-2.9 .4-1.2 .4 2.9 .4-2.2 .4-.5 .4-.4 .4 1.7 .4-2.4 .4-.1 .4 .8 .4 1.4 .4-1.4 .4-2.7 .4-.5 .4 .4 .4 .9 .4-1 .4 .4 .4 1 .4-3.1 .4 3.5 .4-1.8 .4-1.8 .4 1.4 .4 3.1 .4-1.7 .4 4.4 .4-1.6 .4-1.8 .4 1.4 .4 3.8 .4 2.3 .4-1.6 .4 2.7 .4 .7 .4 4.6 .4 .7 .4 .4 .4 1.1 .4 1.5 .4 .6 .4 1.8 .4 1 .4 1.7 .4 .5 .4-1.7 .4 .1 .4 1.6 .4-2.1 .4 .6 .4-2 .4 .7 .4-.6 .4 2.4 .4-1.8 .4-4 .4 1 .4 1 .4-3 .4 2.4 .4 .5 .4-.3 .4-2.3 .4 .1 .4 3.1 .4-1.5 .4 1.4 .4 .4 .4-.6 .4 1.4 .4-1.5 .4-.1 .4-2.3 .4 4.1 .4 .9 .4-1.4 .4 .6 .4 .7 .4-1.2 .4-.1 .4 1.2 .4-.4 .4-2 .4-1.6 .4 .6 .4 3 .4-.7 .4-3.1 .4 1 .4-1.6 .4 1 .4 .4 .4-1 .4-.1 .4 .5 .4-1.5 .4 2.3 .4-3.5 .4-.9 .4 .9 .4 .5 .4 2.9 .4-4.8 .4 .8 .4-2 .4-1.3 .4 .9 .4 .6 .4 1.5 .4-3.4 .4 .5 .4 1.3 .4-5.1 .4 1 .4 .1 .4 .5 .4-1.2 .4 .5 .4-.6 .4 3.8 .4-3.1 .4 .5 .4-.9 .4 1.7 .4 .1 .4-1.9 .4 2.9 .4 1.6 .4-2.7 .4 .1 .4 2 .4 .9 .4-2 .4 .7 .4 .3 .4-.1 .4 1.2 .4-1 .4-1.3 .4 1.7 .4-2.1 .4 1.3 .4 .2 .4 1.5 .4 .5 .4-1.4 .4 1.8 .4 .8 .4-.4 .4 .7 .4-2.1 .4 1.8 .4 2.1 .4-.4 .4-1.3 .4 .5 .4 .6 .4-2 .4-.2 .4 2.1 .4-.5 .4 3 .4-3.8 .4 .8 .4-.3 .4-.5 .4-.7 .4 .7" fill="none" stroke="#000" stroke-width="1.3" stroke-linejoin="round" clip-path="url(#cM4)"/><line x1="777.1" y1="263.3" x2="777.1" y2="337" stroke="#ff00ff" stroke-width="1.4" stroke-dasharray="1.5,2"/><line x1="936.5" y1="263.3" x2="936.5" y2="337" stroke="#00a000" stroke-width="1" stroke-dasharray="6,3"/><line x1="945.5" y1="263.3" x2="945.5" y2="337" stroke="#0000ff" stroke-width="1" stroke-dasharray="1.5,2"/><line x1="975.5" y1="263.3" x2="975.5" y2="337" stroke="#ff0000" stroke-width="1" stroke-dasharray="7.5,2.5"/><line x1="975.5" y1="263.3" x2="975.5" y2="337" stroke="#ff00ff" stroke-width="1" stroke-dasharray="1.5,2"/><line x1="1054.5" y1="263.3" x2="1054.5" y2="337" stroke="#ff0000" stroke-width="1" stroke-dasharray="7.5,2.5"/><line x1="1093.5" y1="263.3" x2="1093.5" y2="337" stroke="#00a000" stroke-width="1" stroke-dasharray="6,3"/><line x1="674.5" y1="270.5" x2="693" y2="270.5" stroke="#ff5050" stroke-width="1"/><text transform="translate(694,274) scale(1.12,1)" font-size="9" text-anchor="start" fill="#ff0000">T<tspan font-size="6.5" dy="2.5">||</tspan></text><line x1="674.5" y1="285.7" x2="693" y2="285.7" stroke="#444" stroke-width="1.2"/><text transform="translate(694,289) scale(1.12,1)" font-size="9" text-anchor="start" fill="#000">T<tspan font-size="6.5" dy="2.5">⊥</tspan></text><path d="M668.5 386.6l.4 1.8 .4-1 .4 5.8 .4-9.2 .4 6.4 .4-3.4 .4-2 .4 .9 .4-7 .4 2.4 .4 5.1 .4 .7 .4-4.3 .4 3.7 .4 .8 .4-3 .4 2.5 .4 .7 .4 3.7 .4-2.3 .4-5.8 .4 .9 .4 2.9 .4-2 .4-1.1 .4-.6 .4-3.4 .4-1.7 .4 3.2 .4 .4 .4 2.4 .4-2.7 .4 5.5 .4-3.6 .4 1.2 .4 .8 .4 .6 .4 1 .4 2.3 .4-7.5 .4 6.5 .4-2.2 .4-.7 .4-.3 .4-3 .4-.8 .4 4.2 .4 1.5 .4-.8 .4-5.8 .4-2.7 .4 3.5 .4-.9 .4 6.1 .4-.3 .4 2.6 .4-2 .4 3.3 .4-7 .4 3.5 .4-1.2 .4-3 .4 4.7 .4-.7 .4-3.8 .4 1.8 .4 0 .4 1.2 .4 3.5 .4-2.5 .4 0 .4-3.4 .4 1.6 .4-2.4 .4 3.7 .4-6.2 .4 .8 .4 10.5 .4-9.5 .4 .6 .4-1.1 .4 2.1 .4 .8 .4-6.4 .4 6.8 .4-2 .4 .2 .4-2.2 .4-2.5 .4 4.5 .4-4.3 .4 .9 .4-.3 .4 .7 .4 1.4 .4-2.5 .4 3.4 .4-1.8 .4 1.1 .4-.5 .4 .3 .4-1.4 .4-1.2 .4 1.2 .4-2.8 .4 1 .4-.4 .4 3.3 .4-2.4 .4-1.8 .4 1.6 .4 3.1 .4-3.1 .4-.1 .4 .9 .4 1.5 .4 .5 .4-2.8 .4 1.6 .4-1.6 .4-1.9 .4 2.6 .4-3.5 .4 3.5 .4-2.5 .4 2.9 .4-3.5 .4 1 .4 .6 .4 .2 .4-3.1 .4 .8 .4 .3 .4-1.1 .4-1.5 .4 6.1 .4-1.9 .4-2.1 .4-1.1 .4 1.9 .4 .9 .4 .1 .4-.9 .4-.6 .4 .1 .4-.3 .4 5.1 .4-3.9 .4 2.2 .4-.1 .4-1.1 .4 .8 .4-.5 .4-2.6 .4 3.4 .4-2 .4-1.6 .4 1.9 .4-.2 .4-3.9 .4 3.6 .4 2.4 .4-1.8 .4 1.5 .4-.9 .4 1.5 .4-3.4 .4 1.8 .4-.9 .4-.6 .4 .5 .4 2.3 .4-.2 .4-.5 .4 1.3 .4-2.7 .4 .9 .4-.4 .4-.4 .4-2.4 .4 2.3 .4 3.1 .4-3.8 .4 2.1 .4-.9 .4-3.6 .4 1.3 .4-1.1 .4 1.4 .4 2.2 .4-4.2 .4-1.1 .4 2.1 .4-1.9 .4 1.2 .4-.1 .4-.2 .4-.5 .4 .8 .4 .2 .4 1.3 .4-1.2 .4 0 .4-1.5 .4-1.8 .4 .5 .4 .6 .4-1.2 .4-1.4 .4-.5 .4 1.2 .4 2.5 .4 .7 .4-1.4 .4-1.2 .4 2.8 .4 .4 .4-2.4 .4 1 .4-1.5 .4-2.4 .4 2.6 .4-1.4 .4 3 .4 .7 .4-1.5 .4-2.3 .4 3.5 .4 .6 .4-1.6 .4 .5 .4 2.7 .4-2.1 .4-4 .4 3.5 .4-2.2 .4 1.4 .4-5.3 .4 9 .4-3.1 .4-4.6 .4 3.4 .4 1.1 .4-1.7 .4 3.6 .4-5.2 .4 2.7 .4-.9 .4 2.7 .4-3.5 .4 3.9 .4-10.4 .4 2.2 .4 1.6 .4 2.5 .4 4.1 .4 2.2 .4-10.1 .4 4.7 .4-5.8 .4 6.6 .4-2.9 .4 .3 .4 3.3 .4 5 .4-6.7 .4 3.8 .4 3 .4-9.7 .4 14.3 .4 .3 .4-4.3 .4 1.4 .4 .2 .4-9.8 .4 9.9 .4-3.2 .4 5.7 .4-1.2 .4-9.8 .4 7.2 .4-3.5 .4-.7 .4-1.8 .4 9 .4-10.3 .4 4.4 .4-1.7 .4 1.6 .4 4.1 .4-5.6 .4 3.1 .4 6.3 .4-6.8 .4-2.6 .4 3.2 .4 5.3 .4-7.4 .4 3 .4 .8 .4-.9 .4 .9 .4 1.1 .4 .2 .4-1.7 .4 .9 .4 1.1 .4-.5 .4-1.9 .4 1.5 .4 2.9 .4-3.8 .4 1.7 .4-.7 .4 2.8 .4-.3 .4 .7 .4-5.6 .4 2.5 .4 2.5 .4-1.3 .4 .8 .4-2.5 .4 3.3 .4-1.6 .4-2.4 .4 1.4 .4 1.8 .4 3.3 .4-3.9 .4 1.6 .4-2.6 .4 2.2 .4-.1 .4-.7 .4 .4 .4-3.3 .4 3.9 .4 .4 .4-2.6 .4-1 .4 3.1 .4-.2 .4 .5 .4 .6 .4-5.7 .4 3 .4 2.2 .4-.9 .4-.9 .4 2.6 .4-3.6 .4 .8 .4 .7 .4 .7 .4-.5 .4-.3 .4 .4 .4-1.9 .4 4.1 .4-1.7 .4-1.7 .4 1.2 .4-.4 .4 1.5 .4-.4 .4 .7 .4-4.1 .4 5.9 .4-1.8 .4 1.5 .4 .9 .4-3 .4 0 .4-1.3 .4 4.4 .4-2 .4 1.6 .4-2.6 .4-.3 .4 .7 .4-.4 .4 1.4 .4-3.1 .4-.8 .4 2.2 .4-.7 .4-.7 .4 .9 .4-1.9 .4 4.1 .4-2.3 .4 2.2 .4-1.7 .4-2.2 .4-2 .4 3.9 .4-.2 .4-.2 .4-4.9 .4 2.5 .4 .9 .4-.5 .4 1.9 .4-.7 .4-3.9 .4 3 .4 .9 .4-.4 .4-2.1 .4-.6 .4 1 .4-2.5 .4 1.3 .4 1.6 .4-3.1 .4 0 .4 1.1 .4 1.7 .4-.4 .4-1.6 .4-2.4 .4 3.7 .4-6 .4 3.5 .4-.2 .4 .4 .4-1.6 .4 3 .4-2.3 .4 .6 .4-1.9 .4 2.8 .4 1.2 .4-5 .4 3.9 .4-.5 .4 1.9 .4-4.8 .4 .6 .4 2.2 .4 1.3 .4-1.3 .4 1.2 .4-2.7 .4 3.8 .4-3.2 .4 1.7 .4-3.4 .4 6.6 .4-2.3 .4-2.6 .4 3.6 .4-.6 .4-.6 .4-1.5 .4-.7 .4 .2 .4 2.2 .4 4 .4-6.3 .4 5.2 .4-3.2 .4 .2 .4-.3 .4 3 .4-1.6 .4 0 .4-1.2 .4 .8 .4 2.3 .4-1.4 .4 .7 .4-.2 .4-.9 .4 2 .4-.1 .4-1.3 .4 1.7 .4 .6 .4-3.5 .4 2.9 .4-1.1 .4 .8 .4 1.2 .4-2.2 .4-.2 .4 .3 .4 16.4 .4-15 .4-.2 .4 .4 .4-1 .4 .3 .4 2.2 .4 .4 .4-1.3 .4 .5 .4 .7 .4 .5 .4 3 .4 0 .4-1.4 .4-1.8 .4 1 .4 .5 .4 1.1 .4-.8 .4 2 .4 1.9 .4-4.1 .4 1.1 .4 1 .4-1.4 .4 1.3 .4 1.5 .4 .8 .4 1.1 .4-2.8 .4-1 .4 1.7 .4-1.8 .4 1.8 .4 1.7 .4-2.7 .4 0 .4 2.5 .4-.3 .4 .2 .4-.2 .4-1.3 .4 1.8 .4-.8 .4-.4 .4-3.2 .4 .6 .4 3.9 .4 .9 .4-3.5 .4 2.3 .4 1.9 .4-.7 .4-2.1 .4 .1 .4-.1 .4 .8 .4-2.2 .4 .1 .4 2.7 .4-.2 .4 1.4 .4-.2 .4-.4 .4-2.3 .4 .5 .4-.7 .4 2.4 .4-.5 .4-1.9 .4 .1 .4 1.8 .4-1.9 .4-.8 .4 2.1 .4 .5 .4 1.5 .4-3.8 .4-3.7 .4 2.3 .4 2.8 .4 .4 .4-3.4 .4 .1 .4 1.1 .4-2.1 .4 2.3 .4 1.9 .4-4.9 .4 1 .4 4.8 .4-.5 .4-2.3 .4-.7 .4-1.5 .4 2.2 .4-.8 .4 3.8 .4-4.3 .4 5.1 .4-4.4 .4-1.7 .4 3.8 .4-.7 .4-.9 .4-.8 .4-.8 .4 1.1 .4-2.6 .4 2.4 .4 1 .4-1.4 .4 0 .4-.9 .4 1 .4-1.4 .4 2.8 .4 1.8 .4-4.2 .4 1.2 .4-.2 .4 .1 .4 1.4 .4-5.2 .4 5.4 .4 .4 .4-2.5 .4 2.8 .4-1.4 .4 .8 .4-1.8 .4 .8 .4 1.1 .4-2.4 .4 2.8 .4-1.8 .4-2.9 .4 3.2 .4-2 .4 2.9 .4-2.5 .4 3.9 .4 .3 .4-3 .4-1.5 .4 2.8 .4 1.1 .4 1.1 .4-.5 .4-1.4 .4-1.4 .4 .3 .4-.5 .4 2 .4 2.4 .4-3.5 .4 2.6 .4-1.2 .4 .2 .4 2.4 .4-3.3 .4 1.9 .4-.1 .4 .8 .4-2 .4-1.1 .4 5.3 .4-3.1 .4-2.8 .4 4.7 .4 0 .4-1 .4-2.1 .4-.9 .4 1.5 .4-1.8 .4 2.7 .4-1.8 .4 .6 .4-2.1 .4 2 .4-1.7 .4 .8 .4 3.1 .4-4.6 .4 3.2 .4-.9 .4 1.1 .4-3.1 .4 .9 .4-.5 .4 1.4 .4-3.4 .4 3.5 .4-.3 .4 0 .4-2.4 .4-1.7 .4 3.6 .4-.9 .4-.5 .4-.8 .4-.7 .4 2 .4-1.8 .4 2.2 .4-.8 .4-1.3 .4 3.3 .4-6 .4 4.6 .4-3.9 .4 2.5 .4-.6 .4 3.1 .4-2.1 .4 1.6 .4-.4 .4-3.1 .4 2.4 .4-.5 .4-.6 .4 1.6 .4-1.4 .4-.4 .4 1.4 .4-1.6 .4-2.1 .4 3.6 .4-1.4 .4 1.4 .4-1.9 .4 .3 .4 5.6 .4-6.8 .4 3.2 .4-.3 .4-4.2 .4 2.5 .4-1.1 .4 .1 .4 1.2 .4 .3 .4-2.6 .4 1.5 .4 1.1 .4-2.7 .4 3.4 .4-.7 .4-.4 .4 .7 .4-1.5 .4 .2 .4-1.1 .4 .5 .4-1 .4 2.1 .4-.2 .4-.4 .4 .3 .4 .3 .4 .6 .4 4.8 .4-4.4 .4-6.5 .4 3.3 .4 1.5 .4-.5 .4-5 .4 4.4 .4 1.5 .4-2.6 .4 .1 .4 1.2 .4 .9 .4-.2 .4-.8 .4-2.9 .4 2.7 .4-3.1 .4 1.8 .4 .2 .4-.2 .4-.4 .4 .2 .4-1.2 .4-1.1 .4 3.3 .4-2.2 .4-2.1 .4 3.3 .4-.4 .4-6.8 .4 11.4 .4-7.2 .4 .4 .4-.7 .4 3.3 .4-3.3 .4 1.2 .4 2.9 .4-2.5 .4 .8 .4-.7 .4 .5 .4-4.6 .4 2.9 .4 .2 .4 1.6 .4 .7 .4-2.6 .4 .6 .4 .9 .4 2.5 .4-5.7 .4 .2 .4 2.2 .4 .7 .4 .4 .4 1.3 .4-.5 .4-5.4 .4 2.9 .4 4.9 .4-5.1 .4 2.6 .4-.1 .4-1.1 .4-1.1 .4-.2 .4 .6 .4 1.7 .4 .5 .4-1.2 .4 .1 .4-1.7 .4 4.4 .4-.4 .4-1.8 .4 6 .4-5.3 .4 0 .4-2.8 .4 3.9 .4-2.6 .4 1.9 .4-1.7 .4-.4 .4 1 .4 1 .4-.7 .4-1.7 .4 3.8 .4-1.3 .4-1.5 .4 2.9 .4 2.2 .4-3.3 .4 1.9 .4-3 .4 2.5 .4-3.5 .4 3.9 .4-1.8 .4-1.3 .4 0 .4 2.1 .4 .2 .4 .9 .4-5.9 .4 3.5 .4-3.3 .4 1.1 .4 3.5 .4-3.4 .4 2.1 .4-2.2 .4 1.7 .4 1.3 .4-2.9 .4-.3 .4-.2 .4 .2 .4 .3 .4-1.8 .4 2.4 .4-2.1 .4 1.2 .4-1 .4 .8 .4 3.4 .4-4.4 .4 1 .4 .6 .4 .4 .4-11.2 .4 8.4 .4 .9 .4-.1 .4 .3 .4 2.8 .4 2 .4-2.9 .4-.6 .4-1.6 .4 2.7 .4-.2 .4-.7 .4-1.3 .4 1.8 .4-3.3 .4-.4 .4 .3 .4 1.2 .4-1.2 .4-.3 .4 5.7 .4-2.7 .4-1.3 .4-.8 .4 2.6 .4-2.1 .4 4.9 .4-2.9 .4 .9 .4 .2 .4-.2 .4-1.9 .4 1.4 .4 2.1 .4-3.5 .4-.6 .4 .4 .4-1.1 .4 1.3 .4-.9 .4 1.4 .4 0 .4-1.7 .4 2.8 .4-2.9 .4 1.7 .4 .8 .4-1.4 .4 .2 .4 1.1 .4-.4 .4-2 .4 3.6 .4-1 .4-2.4 .4 2.9 .4 .2 .4-3.2 .4-1.5 .4 3 .4 .7 .4-1 .4 .1 .4 .8 .4-2.1 .4 0 .4-1 .4 .5 .4-.1 .4-.7 .4-.7 .4-.1 .4 1.9 .4-2 .4-.4 .4 1.6 .4-.5 .4-5.1 .4 11.9 .4-8.7 .4 2.5 .4-1.3 .4 0 .4 1.3 .4 .1 .4-1.7 .4 2.4 .4-1.4 .4 2.1 .4-2.6 .4 .7 .4-1.5 .4-.6 .4-.4 .4 .9 .4 1.3 .4-2.2 .4-.5 .4 1.2 .4 .6 .4-1.7 .4 3.8 .4 .2 .4-2.8 .4 0 .4 4.4 .4-4.6 .4-1.1 .4 1.7 .4-1.7 .4 1.1 .4-.8 .4-.2 .4-.4 .4-1.2 .4 1.5 .4-1.1 .4 .9 .4 0 .4 1.7 .4-1.5 .4 1.4 .4-2.1 .4 3.3 .4-1.2 .4-.6 .4 .1 .4-1.4 .4 2.5 .4-2 .4-.3 .4-2.5 .4 6.2 .4-3.8 .4-1.9 .4 3.8 .4 0 .4-5.1 .4 6.4 .4-4.7 .4 1.3 .4-.9 .4 5.1 .4-3.5 .4-1.8 .4 2.7 .4-2.8 .4 0 .4 .6 .4-.1 .4-1.2 .4 4.5 .4-5.9 .4 2.6 .4 2.7 .4-1.5 .4-.9 .4-2.2 .4 .7 .4 4.1 .4-.7 .4 .8 .4-.2 .4-5.4 .4 4.3 .4 1.3 .4-1.3 .4 .6 .4-1 .4 3.3 .4-.4 .4 .1 .4 1.3 .4 1.6 .4 .5 .4-3.5 .4 .4 .4-5 .4 2.9 .4 .8 .4 1.6 .4 .4 .4-1.9 .4 .1 .4 .4 .4-.5 .4 .6 .4-.1 .4-.3 .4 1.2 .4-2.4 .4 .1 .4 2.9 .4-1.7 .4-.6 .4 1.9 .4 1.8 .4-.4 .4 .3 .4-3.3 .4-.4 .4 4.5 .4-1.3 .4 1.5 .4-3.8 .4 2.6 .4-2.1 .4 2.4 .4-.3 .4-2.7 .4 2.2 .4 1.3 .4 0 .4 0 .4-1.8 .4 2.2 .4-3.3 .4 3.9 .4-.8 .4 .5 .4 1.6 .4 1.8 .4-3.4 .4-1.6 .4 .4 .4 .1 .4-.8 .4 2.9 .4-.2 .4 2 .4-1.8 .4-.5 .4-1.9 .4 3.3 .4 1.1 .4-2.2 .4-1 .4 4.2 .4-4.5 .4 1.3 .4 .9 .4-.3 .4-1.9 .4 1.3 .4-1.3 .4 .4 .4 .9 .4 1.3 .4-2.3" fill="none" stroke="#00ee00" stroke-width="0.9" stroke-linejoin="round" clip-path="url(#cM5)"/><path d="M668.5 387.6l.4 2.9 .4-1.5 .4 3.2 .4-1.6 .4 3.6 .4-1.3 .4-6.3 .4 9 .4 1.2 .4-.2 .4-.9 .4 .2 .4 2 .4-3.9 .4-2.6 .4-.1 .4 .5 .4-1.3 .4 3.7 .4-4.9 .4 5.6 .4-2.4 .4 3.8 .4-.8 .4 1.3 .4 3.2 .4-2.2 .4-.1 .4-2.4 .4-.7 .4-.5 .4-2.6 .4 1.7 .4 3.9 .4-2.2 .4-.7 .4-1.3 .4 3.6 .4 1.6 .4-3.7 .4 5.5 .4-7.3 .4-2.4 .4 4.7 .4-7.2 .4 2.7 .4-3 .4 3 .4 2.9 .4-5.3 .4 1.4 .4 2.4 .4-1.4 .4-2.1 .4 .7 .4-1.2 .4 2 .4 2.3 .4-1.4 .4-6.3 .4-.7 .4 5.8 .4-3.6 .4 .5 .4 3.8 .4-8.3 .4 3.5 .4-3.8 .4-2.5 .4-.2 .4 1.3 .4 8.9 .4-3.2 .4 .3 .4-.6 .4-.4 .4 1.9 .4 .5 .4 2.3 .4-2.7 .4-1 .4-.9 .4 3.2 .4-1.5 .4 .6 .4 1.4 .4-1.2 .4-1.2 .4 .7 .4-.2 .4 2.6 .4-2.3 .4 .2 .4-1.5 .4-2.5 .4 2.2 .4-1.8 .4 1.2 .4 1.4 .4 .2 .4-3.8 .4-.4 .4-.2 .4 1.1 .4-.3 .4 .9 .4-.2 .4 .2 .4-.4 .4-3.9 .4 2.9 .4-2.4 .4-.1 .4 .1 .4 1.7 .4-2.6 .4 .4 .4 2.8 .4-3.2 .4 .7 .4 1.4 .4-2.5 .4 1.7 .4-.5 .4 .1 .4-3.9 .4 4.3 .4 2.3 .4-1.2 .4-2 .4-.4 .4-1.7 .4 2.7 .4-.8 .4-.7 .4 .5 .4 3.8 .4-2 .4 .3 .4-1.1 .4-.5 .4-2.3 .4 2.8 .4 .6 .4-.2 .4 1.8 .4-3.3 .4 4 .4-3.7 .4 14.1 .4-12.4 .4 0 .4 .4 .4-2.6 .4-.7 .4 3.6 .4 2.2 .4-3.9 .4 1.2 .4-2.2 .4-.3 .4 5 .4-1 .4-2.1 .4-.8 .4 1.5 .4 0 .4-.3 .4-1.7 .4 1.6 .4-.3 .4-.4 .4 2.2 .4-3.7 .4 1.1 .4 .3 .4-1.1 .4 2.6 .4-.9 .4 .8 .4-3.8 .4 1.7 .4 .7 .4-.5 .4-.7 .4 .5 .4-1.1 .4 3.9 .4-3.9 .4-.2 .4 3.2 .4-1.2 .4 2.1 .4-1.7 .4 3 .4-1.9 .4-2.1 .4 2 .4-.8 .4 4.9 .4-4.3 .4 .6 .4 .1 .4 1.3 .4 2 .4-3.1 .4 2 .4-3.3 .4 1.7 .4-3.7 .4 1.8 .4 3.3 .4-1.4 .4-1 .4-2.7 .4 2 .4 3 .4-4.1 .4-.5 .4 3.6 .4-3.4 .4-2.3 .4 3.9 .4 .6 .4-.9 .4-.3 .4 .6 .4-1.3 .4-1.3 .4 4.5 .4-2.1 .4 2 .4-7.1 .4 6.6 .4-1.9 .4 .6 .4 .2 .4-4.5 .4 6.3 .4-2.4 .4 1.3 .4-.6 .4 2.6 .4-1.2 .4-3.9 .4 1.6 .4 3.5 .4-3.7 .4 2.2 .4-4.7 .4-.2 .4 4.2 .4-6.4 .4 1.4 .4 2.4 .4-4.5 .4 5.7 .4 5.5 .4-5.8 .4 .4 .4-6.2 .4 2.6 .4-2.8 .4-.2 .4-9 .4 13.6 .4-3.8 .4 4.7 .4-.7 .4-5 .4 3.8 .4 2.5 .4-2.1 .4-.6 .4-7.8 .4 1 .4 7.4 .4-7.7 .4 5.4 .4-.8 .4 4.8 .4 2.5 .4-9.4 .4 9.3 .4-10 .4 .4 .4 5.1 .4-1.5 .4-5.2 .4 8.1 .4-.5 .4-2.7 .4-3.5 .4 7.3 .4-6.3 .4 4.7 .4 2 .4-.8 .4-3.2 .4 2.6 .4-1 .4 1.3 .4 3.4 .4-1.7 .4 2.7 .4-2.8 .4-1.3 .4 1.1 .4 6.7 .4-1.1 .4-2.8 .4-3.3 .4 2.1 .4 2.2 .4-1.2 .4-.5 .4 1.6 .4 3.5 .4-3.9 .4 1.9 .4-1.4 .4 1.1 .4-2.2 .4 4.1 .4-1.7 .4 3 .4-2 .4 2.8 .4 .8 .4-.1 .4 1.4 .4 1.1 .4 1.7 .4-3.1 .4 4.4 .4 0 .4-1.9 .4-2.9 .4 .2 .4 2.3 .4 3.5 .4-4.3 .4-.1 .4-3.2 .4 .1 .4 .8 .4 1.8 .4-3.3 .4 2.8 .4-5.8 .4 1.5 .4 1.8 .4 .9 .4-2.7 .4 2.6 .4-.7 .4 .7 .4 .2 .4-3.6 .4 .4 .4 .3 .4 3.6 .4-1.4 .4-.5 .4-1.2 .4-.9 .4 .9 .4-.2 .4 1.4 .4 4.7 .4-4 .4-1.4 .4-3.6 .4 3.8 .4-1.3 .4 3.7 .4-3.5 .4 .1 .4 3.7 .4 .7 .4-3.7 .4 .6 .4 1.4 .4-1.7 .4-.2 .4 .4 .4 .2 .4-1.2 .4-1.8 .4 2.3 .4 .3 .4-3.6 .4 1.1 .4 2.5 .4-1.5 .4 1.8 .4-.3 .4-1.7 .4 0 .4-1.3 .4 .6 .4 .7 .4-1.2 .4 1.4 .4-2.5 .4-.7 .4 1.7 .4 .9 .4-.4 .4 .5 .4-.9 .4-.6 .4-.3 .4 2.2 .4-1 .4 .9 .4-1.1 .4-4.1 .4 .7 .4-.1 .4-1.1 .4 2.9 .4-3.4 .4 2.6 .4-2 .4 2.4 .4 .1 .4-3 .4-1.1 .4 .5 .4 .4 .4 2.8 .4-3.1 .4-2.7 .4 7 .4-3.6 .4 0 .4-.2 .4 1.5 .4 0 .4-.8 .4-2.2 .4 2.8 .4 .8 .4 3.5 .4-1 .4-1 .4 1.3 .4 .7 .4-.4 .4 1.8 .4-1.2 .4-2.5 .4 3 .4-3.6 .4-1.3 .4 .9 .4-1.4 .4 .6 .4 1.4 .4-3.7 .4-1.5 .4-.1 .4 1.2 .4-2.3 .4-1.8 .4 1.8 .4-2.5 .4-1.3 .4 2.2 .4-.8 .4 .3 .4 1.5 .4 .3 .4 1 .4-.5 .4 5.9 .4-5.8 .4 1.2 .4-2.3 .4 4.7 .4-1.1 .4 3.2 .4-3 .4 2.9 .4-2.6 .4 1.5 .4-.1 .4 3.2 .4-2.8 .4 2.3 .4-1.7 .4-.5 .4 .1 .4 .5 .4-2.8 .4-.2 .4 5.1 .4-2.7 .4 2.1 .4-1.1 .4 .5 .4-.6 .4-.9 .4 3.2 .4 1 .4-.8 .4-2.4 .4 0 .4 2.3 .4 3.1 .4-5.2 .4 1.7 .4 .8 .4 .1 .4-.5 .4-.3 .4 .8 .4 0 .4 2 .4-3.1 .4 2.5 .4 .8 .4-1.9 .4 .3 .4 .8 .4-3.3 .4 3.3 .4-1.4 .4-2.7 .4 3.2 .4-1.6 .4 1.4 .4 .9 .4-.8 .4-1.9 .4-3.4 .4 5.8 .4-3.8 .4 3.7 .4-3.9 .4 .6 .4 2.3 .4-1.8 .4 2.9 .4-3 .4-2.8 .4 4 .4-.6 .4-.7 .4-2.5 .4 4.6 .4-.1 .4-3.2 .4 1.8 .4-.5 .4-2 .4-1.1 .4 2.4 .4 1.4 .4 2.9 .4-2.5 .4-2 .4 2.1 .4-1.7 .4 2 .4-3.7 .4 4.4 .4 1.1 .4 .6 .4 .8 .4-3.4 .4 .1 .4-.1 .4-.7 .4-.2 .4-2.1 .4 2.9 .4 2.7 .4-5.1 .4 1.6 .4-.5 .4 4.3 .4-5.8 .4 4.5 .4-2.4 .4-1 .4 .7 .4 .2 .4-.1 .4-.5 .4 4.5 .4-3.1 .4-2.5 .4 2.1 .4 2.1 .4-2.7 .4 4.3 .4-3.9 .4 .2 .4-4.8 .4 4.9 .4-1.3 .4-1.3 .4 1.8 .4-1.3 .4-.5 .4 1.5 .4 1.9 .4 1.5 .4-4.1 .4 .8 .4 1.6 .4 2.5 .4-1.7 .4-1.2 .4 .1 .4 0 .4-3.1 .4 .5 .4 .9 .4 1.6 .4 2.7 .4-1.4 .4-3 .4-1.3 .4 5.1 .4 0 .4-4.1 .4 1.3 .4 1.3 .4-1.9 .4 .8 .4 .7 .4 .2 .4 4.8 .4-.4 .4-6.5 .4 3 .4 1.8 .4-.9 .4-1.1 .4-.7 .4-.2 .4-.2 .4 3.3 .4-.6 .4 1.3 .4 .3 .4-.7 .4-1.6 .4-2.1 .4 3.6 .4 0 .4-4.2 .4-.5 .4 1.9 .4-1.3 .4-2 .4 2.3 .4 1.2 .4 1.2 .4-1.4 .4-1.4 .4 2.4 .4-5.7 .4 4 .4-2.4 .4-4.9 .4 2 .4 4 .4-.5 .4 3.3 .4-2.4 .4-.5 .4-1.2 .4 1.9 .4-2.7 .4 2.1 .4-1.9 .4 .1 .4 .5 .4-.9 .4-1.3 .4 1.1 .4 .1 .4-3.5 .4-.6 .4 1.3 .4 4.1 .4-4.9 .4 4.8 .4-.6 .4-5.4 .4 3.1 .4-1.2 .4 2.5 .4-2.7 .4 2.2 .4-.5 .4 .4 .4-.6 .4 1.1 .4 .8 .4-1.4 .4 2 .4 1.1 .4-4.2 .4 2 .4-2.7 .4 3.8 .4-2.5 .4-2.2 .4 5 .4 .9 .4-1.7 .4-.7 .4 1.6 .4-1.5 .4-1.8 .4 1 .4 0 .4 1.8 .4-2.4 .4-2.7 .4 2.4 .4 1.6 .4-2 .4 1.9 .4-1.4 .4 .3 .4 .7 .4-1.1 .4 .4 .4-.1 .4-.7 .4-1.2 .4 3.9 .4-.6 .4-3.5 .4 1.5 .4-2.5 .4-1.4 .4-1.5 .4-1 .4 1.3 .4 1.1 .4-.7 .4-.1 .4-1.4 .4-3 .4-.4 .4 3.4 .4-1 .4 .4 .4 .1 .4-3.3 .4 1.1 .4 .6 .4-2.3 .4 .5 .4 1.1 .4 0 .4 0 .4-3 .4-1.9 .4 3.3 .4-1.8 .4 .4 .4-2.5 .4 2 .4-3.3 .4 1.4 .4-.7 .4-1 .4-1.7 .4-1.5 .4 .8 .4-1.5 .4-.7 .4 .8 .4 4.5 .4-3.6 .4 2.6 .4 .1 .4-.3 .4 1.2 .4-.1 .4 1.2 .4 .3 .4-2.6 .4 1.6 .4 3.3 .4-2.6 .4 2.4 .4-2.3 .4-1.1 .4 2.3 .4 .5 .4 .5 .4-1.6 .4-.6 .4 1.8 .4-2.6 .4 1.3 .4 2.7 .4-3.5 .4 .6 .4 .7 .4 .5 .4-3 .4 1.8 .4-.3 .4 .3 .4-.3 .4 .1 .4 2.5 .4-2 .4-.8 .4 .9 .4 2.9 .4 2.6 .4-5.6 .4 3.8 .4-.7 .4-2.3 .4 1.5 .4-.6 .4 .4 .4 1.2 .4-.3 .4 1.8 .4-3.3 .4 .6 .4 .3 .4 3.4 .4-2.3 .4 .9 .4-1.2 .4 .1 .4-1.3 .4 1.6 .4 .7 .4-2.2 .4 .3 .4-.5 .4 2.1 .4-1.9 .4-1.6 .4 .8 .4-1.6 .4 4.3 .4-.6 .4 .2 .4 3.2 .4-1.4 .4-1 .4-.3 .4 1.2 .4 .7 .4-1.8 .4 4.5 .4-4.1 .4 .2 .4 2.9 .4-2.2 .4 .3 .4-1.2 .4 .6 .4-2.7 .4 2.7 .4 .9 .4-.7 .4-2.3 .4 2.7 .4-1 .4-2.9 .4 4.7 .4-1.2 .4 1.1 .4-.6 .4-1.8 .4 .7 .4 .2 .4 3 .4 .7 .4 1.3 .4-.3 .4-3.9 .4 3.2 .4 .6 .4-2.4 .4 2 .4 0 .4 2.8 .4-2.7 .4 1.5 .4-3.5 .4-.5 .4 1.6 .4-2.6 .4 1.3 .4-4.6 .4 2.9 .4-3 .4 4.2 .4 .9 .4-3.6 .4-1.3 .4 .6 .4 4.3 .4-4.3 .4 .7 .4 2.7 .4 1.3 .4-8.4 .4 6 .4-.4 .4 1.5 .4 3 .4-2.2 .4 3.6 .4-2.5 .4 .6 .4-.4 .4 2.1 .4-.1 .4-.7 .4-.1 .4 0 .4 1.5 .4 .5 .4-1.2 .4 1.6 .4 .3 .4 .2 .4-1.6 .4-1.3 .4 4.8 .4-3.3 .4 2.3 .4-4 .4 1.7 .4 4.8 .4-2.4 .4-1.3 .4-.9 .4 2.9 .4-2.9 .4-.3 .4 1.9 .4-4.6 .4 1.6 .4 .6 .4 3.6 .4-1.8 .4-1.6 .4 3 .4-5.2 .4-12.1 .4 16.2 .4-2.2 .4 2.4 .4-.3 .4-1.4 .4 .2 .4 3.5 .4-2 .4-2.7 .4 1.2 .4-3.2 .4 1.1 .4-.6 .4 1.1 .4 0 .4-1 .4 1.1 .4-2.2 .4 11.4 .4-8.2 .4 3.2 .4-3.6 .4 2 .4-2.2 .4-.7 .4 1.3 .4-.9 .4 .2 .4 .8 .4 0 .4-3.3 .4 1.1 .4 4.7 .4-1.6 .4-3.2 .4-.7 .4 .4 .4 1.1 .4 1.2 .4 .5 .4 2.1 .4-4 .4 2.4 .4 .8 .4 .6 .4-2.6 .4 2.8 .4 .6 .4-2 .4-.2 .4 1.6 .4 1.8 .4-.5 .4 9.7 .4-9.7 .4 .5 .4 3.7 .4-2.2 .4-2.4 .4-.4 .4 5.2 .4-1.6 .4-2.6 .4 .5 .4 0 .4 2.8 .4-3.1 .4 1.4 .4 1.1 .4-.4 .4 .6 .4-2.1 .4-.1 .4 1.6 .4 1.8 .4-1.6 .4 1 .4 .7 .4-5.9 .4 7.7 .4-3 .4-.4 .4-4.3 .4 3.8 .4 3.3 .4-1.3 .4-.5 .4-1.6 .4 .7 .4-.2 .4-2.2 .4 1.5 .4 2.1 .4-.6 .4-1.7 .4 2.4 .4-1 .4 2.1 .4-3.3 .4 .6 .4-2 .4 1.5 .4 4.7 .4-2.7 .4 1.1 .4 .5 .4-4.4 .4 3.6 .4-2.4 .4 3.8 .4-3.7 .4 1.1 .4 .3 .4-1.3 .4-1.7 .4 5.3 .4-1.2 .4-1.8 .4 3.5 .4-4 .4-1 .4 3.2 .4-.6 .4 3 .4-2.6 .4-3.4 .4 .6 .4 1.4 .4 1.6 .4-1.7 .4 1 .4-1.3 .4 .1 .4 1.9 .4-4.3 .4 0 .4-.4 .4-.8 .4 1.2 .4 1.3 .4-2 .4 1.7 .4 2.2 .4-2.3 .4 1 .4-2.1 .4 .4 .4-3.3 .4-.7 .4 .4 .4 3.3 .4 .1 .4-2.7 .4 .5 .4 2.5 .4-1.5 .4 1.4 .4-4.3 .4 2.3 .4-5 .4 5.2 .4 .1 .4-4.5 .4 .1 .4 .7 .4 2 .4 .9 .4 .5 .4 1.7 .4 1.3 .4-.6 .4 3.5 .4-.3 .4-2.1" fill="none" stroke="#0000ff" stroke-width="0.9" stroke-linejoin="round" clip-path="url(#cM5)"/><path d="M668.5 358.5l.4-3.9 .4-.1 .4-.5 .4-3.2 .4-4.8 .4 3.4 .4 2.7 .4-6.9 .4 1.9 .4 1.5 .4-3 .4 7.3 .4-6.5 .4 6.3 .4-1.8 .4 5.7 .4-3.9 .4 7.2 .4-4.3 .4 2.9 .4 7.9 .4-11.6 .4 3.3 .4-.6 .4 2.9 .4 1 .4-11.2 .4 6.2 .4-4.4 .4-.5 .4 4.8 .4 .7 .4-1.3 .4 7.2 .4 4 .4-8.9 .4 7.7 .4 1.1 .4-7.4 .4 1.2 .4 4.9 .4 .2 .4-7.8 .4 1.9 .4-2.1 .4 5.4 .4-4 .4 4.7 .4-2.3 .4 .8 .4-4 .4 14.7 .4-16.9 .4 9 .4 0 .4 4.6 .4 1.1 .4-4.3 .4 2.4 .4-1.3 .4 5 .4-1.5 .4-5.7 .4 .4 .4 2.8 .4 6.2 .4-6 .4 2.5 .4 1.1 .4-5 .4 13.5 .4-9.8 .4 2.7 .4 3.9 .4 1.8 .4-5.5 .4 8.5 .4-9.3 .4 5.8 .4-3.1 .4 2.2 .4-2.6 .4-1.7 .4 1.5 .4 1.3 .4 .6 .4-.3 .4 3.2 .4-2.3 .4-1.3 .4 .9 .4 2 .4-2.5 .4 1.4 .4 .7 .4-1.1 .4 1.6 .4-.1 .4-2.5 .4 5.5 .4-3.7 .4-.4 .4 2.6 .4-.4 .4 1.6 .4-1.7 .4 2.4 .4 2.2 .4-6.9 .4 3.1 .4 1.9 .4-.4 .4 1.2 .4-1.1 .4-.6 .4 .6 .4-.7 .4 1.4 .4 .3 .4-.1 .4 3.2 .4-1.1 .4 1.9 .4-1.6 .4-2.6 .4 4.7 .4-2.5 .4 .1 .4 2.5 .4 1 .4-1.1 .4 2 .4-7 .4 5.1 .4-.2 .4 3 .4-2.2 .4 .8 .4 .3 .4-2.7 .4 3.9 .4-2.8 .4-.9 .4 4.6 .4 1.3 .4 0 .4-2.7 .4 .7 .4 1.3 .4-.5 .4-.6 .4-2.5 .4 2.3 .4-.2 .4 2.4 .4-2.7 .4-2.2 .4 3.9 .4-3.1 .4 .2 .4-.6 .4 3.8 .4-3.8 .4 .9 .4 1.4 .4-3.3 .4-.1 .4 2.6 .4-.8 .4-1.6 .4 .8 .4-1.1 .4 2.2 .4-3.1 .4 .8 .4-.2 .4 1.9 .4 0 .4 .6 .4 2 .4-3 .4 2.4 .4-.1 .4-1.7 .4 2.7 .4-2.8 .4 4.4 .4-.5 .4 1 .4-1.9 .4-3.7 .4 2.8 .4 2.5 .4-2 .4-2.2 .4 1.3 .4-.9 .4-17 .4 17.8 .4-.7 .4 1 .4 2.1 .4-3.5 .4 .6 .4 .9 .4-1.6 .4-2.6 .4 2.1 .4 1.2 .4-2.7 .4-1 .4 1.9 .4 3.4 .4-5.3 .4-6.1 .4 6.5 .4-.3 .4-1 .4 .9 .4-.3 .4 .2 .4-.5 .4-3.5 .4 2.5 .4-2.4 .4 5.7 .4-2.8 .4-.6 .4 1.2 .4-1.6 .4 .4 .4-1.4 .4 5.5 .4-3.9 .4-1.3 .4 11.8 .4-10.1 .4-1 .4-1.9 .4 2.9 .4-1.2 .4 5 .4-11.1 .4 4.9 .4 5.1 .4-4.4 .4-.7 .4 4.2 .4-3.9 .4 4.1 .4-2.3 .4-2.4 .4 4.9 .4 .1 .4 1.9 .4-.5 .4-2 .4 6.1 .4-3.4 .4 4 .4-14.3 .4 10.6 .4-2 .4 1.4 .4 6.2 .4-5.8 .4-6.6 .4 1.5 .4 7.1 .4-2.4 .4 0 .4-1.3 .4-.4 .4-.1 .4-4.2 .4 6.8 .4-11.2 .4 3.3 .4 8.7 .4-2.8 .4 1.9 .4-4.7 .4 .7 .4 1.8 .4-1.5 .4 6.8 .4-8.6 .4 1.6 .4 3.7 .4-5.8 .4 8.9 .4-4.6 .4-.8 .4 6.4 .4 .9 .4-10.4 .4 4.9 .4-.6 .4-3.3 .4 5.9 .4-12.1 .4 5.5 .4-1.2 .4 4.5 .4-3.4 .4 4.9 .4-4.8 .4 3.4 .4-2.1 .4-1.8 .4 2.8 .4-4.8 .4 5.7 .4-3.7 .4-.1 .4 .1 .4-2.2 .4-2.3 .4 2 .4-2.7 .4 1.1 .4 .1 .4-.3 .4 .2 .4 1.2 .4 2.5 .4-2.5 .4-1.4 .4-.5 .4-.7 .4 1 .4-.2 .4 .7 .4-.5 .4 1 .4-.7 .4 2.6 .4-3.3 .4-1.1 .4-2.2 .4 12.3 .4-6.4 .4-2.9 .4 4.8 .4-2 .4-1.8 .4-.9 .4 .6 .4 .1 .4 1 .4-4 .4 6.1 .4-4.8 .4 2.7 .4-.2 .4-.4 .4 1.2 .4 1.2 .4-1.4 .4-.6 .4 .4 .4-1.4 .4 1.7 .4 1.2 .4-4.3 .4 4.9 .4-3.5 .4 1.6 .4 1.8 .4-2.2 .4 2.9 .4-4.8 .4 2.7 .4-1.5 .4 1.5 .4-.4 .4-3 .4 2.8 .4 .6 .4-1.7 .4 1.4 .4-.8 .4-2.5 .4 3.6 .4-3.4 .4 1.1 .4 1 .4-3.4 .4 3.2 .4-.4 .4 0 .4 1.8 .4 .1 .4 .7 .4-6.7 .4 2.3 .4 1.3 .4 1.6 .4 0 .4 0 .4-1.9 .4 2.6 .4-1.3 .4-1.3 .4 1.5 .4 .7 .4 1.3 .4-3.1 .4-.5 .4 4 .4-3.3 .4 1.6 .4-.8 .4 .5 .4-.4 .4-.9 .4 4.3 .4-2 .4 2.9 .4 .8 .4-5.1 .4 .1 .4 1.7 .4 2.5 .4 .1 .4-2 .4-2.7 .4 3.7 .4 .6 .4-.3 .4-2.7 .4 2.5 .4-1.5 .4 1.6 .4 1 .4-.3 .4-1.2 .4 1.4 .4-1.7 .4-.3 .4-2.4 .4 1.4 .4 2.6 .4-1.6 .4 3.3 .4-3.6 .4 .3 .4 3.3 .4-5 .4 3.2 .4-.4 .4 .2 .4-.2 .4 1.1 .4-4.9 .4-.7 .4 3.9 .4-1.4 .4-1.4 .4 .6 .4 3.7 .4-4.8 .4 5.8 .4-4.6 .4 .1 .4 1.3 .4-1.1 .4-2.1 .4 1.6 .4-.9 .4 1.5 .4-2.4 .4 1.9 .4-.6 .4-2.2 .4 4.1 .4 1.9 .4-3.5 .4-1.3 .4-.8 .4 .3 .4 2 .4 .9 .4 2.3 .4-2.1 .4-2.9 .4 4.3 .4-1.4 .4-3.5 .4-.2 .4 1.6 .4-.4 .4-1.3 .4-.6 .4-2.8 .4 4.7 .4-2.1 .4-1.8 .4-1.1 .4 .7 .4 .4 .4 4.5 .4-2.6 .4-3.3 .4 .8 .4 .5 .4-1.4 .4-.6 .4-.4 .4-.3 .4 .5 .4 5.4 .4-5 .4 2.2 .4-3.1 .4 1.5 .4-.6 .4 1.2 .4-.9 .4 1.5 .4-.7 .4 1.2 .4-1.9 .4 .5 .4-1.7 .4-.1 .4-1.6 .4 1.5 .4-.5 .4-1.4 .4 2.6 .4 1.5 .4-3.9 .4 1.7 .4 1.6 .4 1.1 .4 0 .4-3.2 .4 1.4 .4-1.4 .4 2 .4-1.4 .4-.4 .4-.1 .4 .5 .4 1.4 .4-.4 .4-2.4 .4 2.1 .4-2.9 .4 3.6 .4-4 .4 1.7 .4 .2 .4-.5 .4 1.2 .4-.2 .4 1.2 .4-1.8 .4-1.3 .4-3.2 .4 4.8 .4-1.5 .4 .1 .4 3.5 .4-3.5 .4 2.6 .4 .2 .4 3 .4-2.1 .4-2.4 .4-.3 .4-1.6 .4 2.5 .4 2.4 .4-1.4 .4 1 .4-1.3 .4-1.6 .4-2.6 .4 4.5 .4-.2 .4-.6 .4-.1 .4-3.1 .4 2.6 .4 2 .4-4.9 .4 2.6 .4 2.8 .4-3.5 .4 1.9 .4-.9 .4-3.6 .4 .7 .4-1 .4 5.2 .4 .6 .4-2.4 .4-.2 .4-2.1 .4 1.5 .4-2.8 .4 4.4 .4-.1 .4 1.7 .4-.9 .4-2.3 .4 1.9 .4-1.4 .4 1.6 .4 0 .4 0 .4 .8 .4-.2 .4-4.2 .4 .1 .4 4.7 .4-5 .4 .6 .4 2.7 .4 2.8 .4-1 .4-.3 .4 .7 .4-1 .4-1.6 .4-1.1 .4 1.6 .4-3.1 .4 3.3 .4-4 .4 .8 .4 0 .4 6.2 .4-3.1 .4-.5 .4-4.2 .4 2.2 .4 .8 .4-6.3 .4 2.8 .4 5.2 .4-1.7 .4-1.8 .4 .8 .4-1.4 .4 1.8 .4-3.2 .4-.1 .4 2.4 .4 .9 .4-1.7 .4 1.5 .4-1.4 .4-4.2 .4 4.5 .4 .9 .4-3.3 .4 .3 .4 .7 .4 1.9 .4-3.5 .4 1.6 .4-2.6 .4 .4 .4 1.6 .4 .1 .4 4.4 .4-2.4 .4 2.2 .4-.7 .4-2.9 .4 3.9 .4 .9 .4-5.7 .4 1.7 .4 .5 .4-1.8 .4-1 .4-1.8 .4 .9 .4 4.4 .4-1.4 .4-2 .4 1.3 .4-2.4 .4-2.7 .4-.8 .4 1.8 .4 .2 .4-.4 .4-1.6 .4 1.9 .4 1 .4-3.8 .4 1.2 .4-3.7 .4 7.7 .4-.6 .4-5.5 .4 1.8 .4-4 .4 3.6 .4 .9 .4-3.6 .4 1.6 .4-1.4 .4 1.1 .4-2.4 .4-.4 .4 1.4 .4 .7 .4-4.6 .4 1.1 .4 1.8 .4 1.3 .4-.4 .4-2.9 .4 2.9 .4-2 .4 3.8 .4-4.1 .4-.5 .4 .2 .4-2.1 .4 .8 .4 1.7 .4 2.4 .4-4.3 .4 5.7 .4-3.5 .4 2.9 .4-1.7 .4 1.8 .4-2.7 .4 2.5 .4-3 .4 2.7 .4 .2 .4-.6 .4-1.3 .4 3.4 .4 2.2 .4-4.6 .4 3.1 .4-.9 .4 .3 .4-1.1 .4 1.8 .4 2.6 .4-2 .4-2.1 .4 1.4 .4-1 .4 2.7 .4-2.4 .4 2.7 .4-2.5 .4 2.4 .4-.3 .4 2.5 .4-1.8 .4 2.3 .4-4.8 .4 3.5 .4-1.7 .4 1.5 .4-3.7 .4 1.1 .4-6 .4 4.1 .4 4.4 .4-2.7 .4 .3 .4 2.8 .4-3 .4 1 .4-2.6 .4-.6 .4 2.2 .4 1.8 .4-.6 .4 2.8 .4-.9 .4 1 .4 4.6 .4-.2 .4 2.9 .4 .5 .4-.9 .4-.6 .4 .9 .4-1.3 .4-1 .4 .4 .4 2.6 .4-.7 .4-2.4 .4 .9 .4-.4 .4-1.5 .4 1.1 .4 2.5 .4-3.5 .4 2.8 .4-2.2 .4 3.2 .4 .6 .4-2.6 .4 1.4 .4 .8 .4-5.6 .4 1.6 .4 2.9 .4-6.6 .4 5.6 .4-4.2 .4 3.9 .4-1.9 .4 2.2 .4-1.4 .4 .2 .4 1.4 .4 .8 .4-2.7 .4-.6 .4 1.4 .4-1.1 .4 1.6 .4-1.2 .4-.6 .4 3.7 .4 1.5 .4-4.2 .4 1 .4 1.3 .4-.4 .4-1.1 .4 2.4 .4-2.5 .4 4.8 .4-4.7 .4 1.3 .4-1.1 .4 0 .4 3.1 .4-.3 .4-1.3 .4-.9 .4 1.6 .4 .3 .4-1.6 .4-2.8 .4 1.7 .4 3.7 .4-1.8 .4-2.4 .4 2.3 .4-1.6 .4 .1 .4 2.8 .4-2.5 .4 1.3 .4 .1 .4 .3 .4 .1 .4-1.4 .4 2.6 .4-3.8 .4 1.5 .4 .6 .4 1.5 .4 .4 .4-2.4 .4 3.3 .4-5.5 .4 5 .4 1 .4 1.1 .4-5.8 .4 3.4 .4 2.4 .4 .6 .4-2.1 .4-.6 .4 1.2 .4-1.3 .4 2.3 .4 2.4 .4-3.5 .4 1.2 .4-3.4 .4 6 .4 .6 .4-.6 .4 .1 .4 .1 .4 .5 .4 .9 .4 0 .4-1.1 .4-2.2 .4 5 .4-3 .4 4 .4-5 .4 .9 .4 1.8 .4-2.1 .4 .5 .4-.3 .4 1.5 .4 .2 .4-1.4 .4-3.4 .4 6.7 .4 .4 .4-2.6 .4-.5 .4 7.4 .4-6.9 .4-.4 .4 7.4 .4-4.7 .4 2.7 .4-1.2 .4 3.1 .4-1.8 .4-3 .4 3.4 .4 .3 .4-1 .4 11.9 .4-14.3 .4 4.7 .4-1.4 .4-3.1 .4 1.2 .4 5.6 .4-3.3 .4 1.7 .4-1.7 .4-.6 .4 1.3 .4 1.7 .4-.1 .4 .9 .4-3.8 .4 4.8 .4-5.8 .4 .1 .4 2.9 .4 1.1 .4-3.8 .4-.4 .4 4.4 .4-4.1 .4 1 .4 2.5 .4-.2 .4-1 .4 .6 .4-3.2 .4 2.5 .4 .5 .4-2.4 .4-.2 .4 4.7 .4-1.1 .4 1.6 .4-2 .4 .5 .4 3.4 .4-5.6 .4 .1 .4 7.6 .4-7.9 .4 1.2 .4 2.2 .4-3 .4 3.7 .4-.6 .4 .1 .4 4.7 .4-3.4 .4-3.8 .4 4.2 .4 .5 .4 .3 .4-6.7 .4 4.4 .4 0 .4-.2 .4-.6 .4 0 .4-4.1 .4 2.6 .4 2.5 .4 1.8 .4-6.8 .4 4.3 .4-3.2 .4-3 .4 7.2 .4-3.5 .4 1.2 .4-1.1 .4-2.5 .4 6.5 .4-2.2 .4 .3 .4-1.4 .4-1.7 .4 .5 .4 1.5 .4-.9 .4 2.3 .4-.3 .4-.3 .4 0 .4-1.8 .4-1.3 .4 1.3 .4 .9 .4 5.1 .4-4.7 .4-.5 .4-2.3 .4 3.2 .4 4.7 .4-6.1 .4 2 .4-.7 .4 1.3 .4-.4 .4-.2 .4-.1 .4 5.5 .4-4.9 .4 .9 .4 .8 .4 .4 .4-1.9 .4 2.8 .4-3.2 .4-.1 .4 .1 .4-.9 .4 3 .4-4.3 .4 3 .4-4.3 .4 5.5 .4-4.5 .4-.6 .4 2.8 .4-3.4 .4 3.6 .4-4.5 .4 1.1 .4-4.1 .4 3 .4-.2 .4-1.5 .4-1.5 .4 2.5 .4-2 .4 4.3 .4-4.4 .4-2 .4 1.3 .4-1.5 .4 2.1 .4 1.8 .4-2.1 .4 .1 .4-1.5 .4 3.9 .4-5.4 .4 6 .4-3.4 .4 2.4 .4-1.6 .4 .9 .4-1 .4 1 .4 .4 .4-8.6 .4 8.3 .4-2.7 .4 1.2 .4-.4 .4 .6 .4-2 .4 3.7 .4 1.3 .4-3.4 .4 .8 .4-1.4 .4 3 .4 1.6 .4-.6 .4 2.8 .4-5.4 .4 1.6 .4 1.2 .4-4.9 .4 2.3 .4-1.8 .4 2.8 .4-4.4 .4 3.7 .4 1.1 .4-2 .4-.8 .4 .3 .4 .9 .4 .7 .4-3.5 .4-2.1 .4 3.8 .4-1.1 .4-.5 .4-1.4 .4-.6 .4 .4 .4 2.6 .4-.4 .4-3.8 .4 5.4 .4-1.4 .4-1.7 .4 4" fill="none" stroke="#ff0000" stroke-width="0.9" stroke-linejoin="round" clip-path="url(#cM5)"/><line x1="668.5" y1="382" x2="1122.5" y2="382" stroke="#000" stroke-width="1.5" stroke-dasharray="4.5,3"/><line x1="777.1" y1="337" x2="777.1" y2="410.8" stroke="#ff00ff" stroke-width="1.4" stroke-dasharray="1.5,2"/><line x1="936.5" y1="337" x2="936.5" y2="410.8" stroke="#00a000" stroke-width="1" stroke-dasharray="6,3"/><line x1="945.5" y1="337" x2="945.5" y2="410.8" stroke="#0000ff" stroke-width="1" stroke-dasharray="1.5,2"/><line x1="975.5" y1="337" x2="975.5" y2="410.8" stroke="#ff0000" stroke-width="1" stroke-dasharray="7.5,2.5"/><line x1="975.5" y1="337" x2="975.5" y2="410.8" stroke="#ff00ff" stroke-width="1" stroke-dasharray="1.5,2"/><line x1="1054.5" y1="337" x2="1054.5" y2="410.8" stroke="#ff0000" stroke-width="1" stroke-dasharray="7.5,2.5"/><line x1="1093.5" y1="337" x2="1093.5" y2="410.8" stroke="#00a000" stroke-width="1" stroke-dasharray="6,3"/><line x1="674.5" y1="342.5" x2="693" y2="342.5" stroke="#4040ff" stroke-width="1"/><text transform="translate(694,345.8) scale(1.12,1)" font-size="9" text-anchor="start" fill="#0000ff">E<tspan font-size="6.5" dy="2.5">L</tspan></text><line x1="674.5" y1="352.5" x2="693" y2="352.5" stroke="#44ee44" stroke-width="1"/><text transform="translate(694,355.8) scale(1.12,1)" font-size="9" text-anchor="start" fill="#00ee00">E<tspan font-size="6.5" dy="2.5">M</tspan></text><line x1="674.5" y1="362.5" x2="693" y2="362.5" stroke="#ff5050" stroke-width="1"/><text transform="translate(694,365.8) scale(1.12,1)" font-size="9" text-anchor="start" fill="#ff0000">E<tspan font-size="6.5" dy="2.5">N</tspan></text><path d="M668.5 452.2l.4-.6 .4 .1 .4-1.5 .4-.8 .4 .3 .4 .9 .4 1.2 .4-.5 .4-.3 .4 .3 .4-.5 .4-.2 .4 .4 .4 1.1 .4-2.3 .4 1.6 .4-1.5 .4-.3 .4 .1 .4-.1 .4 2 .4-.6 .4-.2 .4 1.1 .4-1.1 .4-.2 .4-.4 .4-1.5 .4 1.9 .4-.8 .4 .5 .4-1.5 .4 2.6 .4-.5 .4-.7 .4 .1 .4 1.3 .4-.7 .4-2.2 .4 .3 .4 1.3 .4-.1 .4 1.3 .4-1.7 .4 2.4 .4-1.5 .4-.1 .4-1.2 .4 .9 .4-1 .4 1.2 .4-.7 .4-.1 .4 0 .4 .1 .4-.5 .4 .7 .4-.4 .4 .6 .4-1 .4 .4 .4-.2 .4 1 .4 .5 .4-1.1 .4-2.2 .4 2.5 .4-1.6 .4-.5 .4 1.2 .4 .3 .4 .4 .4-1.7 .4 2.2 .4-2 .4-.7 .4 1.3 .4-.1 .4-1.3 .4 .4 .4 2.1 .4 .9 .4-3.2 .4 1.7 .4-1.6 .4 .9 .4-1 .4 .9 .4-1 .4 .3 .4-.3 .4-.7 .4 1.1 .4-.1 .4 .5 .4 .3 .4-2.3 .4 .6 .4 2.1 .4-2 .4-.6 .4 3.7 .4-4 .4 .9 .4 1.5 .4-1.9 .4 1.8 .4-1.7 .4 .5 .4 2.4 .4-2.6 .4-.4 .4-1.1 .4 .9 .4 1.3 .4 .1 .4-1.2 .4 2 .4-2.8 .4 2.4 .4-1 .4-.8 .4-.1 .4 1.2 .4-1.6 .4 2.5 .4-1.7 .4-1 .4 .9 .4 1.3 .4-.4 .4 .8 .4-2.3 .4 1.6 .4-2.1 .4-.5 .4 2.3 .4-2.7 .4 .3 .4 .9 .4 1.6 .4 .1 .4-1.5 .4-1.4 .4 1.6 .4 .6 .4-.6 .4-.2 .4 .3 .4 0 .4-1.1 .4 .4 .4 .4 .4-.2 .4 .4 .4-.4 .4-1.9 .4 1.3 .4-.4 .4 1.5 .4-.5 .4 1.6 .4-.5 .4-1 .4-.5 .4 1.2 .4-1 .4-1.3 .4 .4 .4 1.4 .4-.6 .4 .9 .4-.1 .4-.9 .4 .3 .4-.1 .4-.9 .4 1 .4-1.4 .4 .1 .4 1.4 .4 0 .4 3 .4-4.4 .4 .8 .4-.5 .4 .5 .4 0 .4 .2 .4 .8 .4-.8 .4 1 .4-.3 .4-.2 .4 .9 .4-1.3 .4 .5 .4-.4 .4-1.1 .4 .3 .4 0 .4 .4 .4-.8 .4 0 .4 1.7 .4-2.9 .4 3.2 .4-.6 .4 .5 .4 .6 .4-3 .4 2.2 .4 .2 .4 .5 .4-.5 .4-.4 .4 .1 .4-.5 .4-.5 .4 .5 .4 1.1 .4-2.3 .4 1 .4 .3 .4-.3 .4 0 .4-1.3 .4 1.2 .4 .3 .4-1.1 .4 2.1 .4-1.1 .4 0 .4 1.4 .4-1.3 .4-.3 .4 2.5 .4-2.8 .4 1.6 .4-.2 .4-1.4 .4-.3 .4 1 .4 .2 .4-.6 .4 2.2 .4-1.7 .4 .6 .4-2.8 .4 2.7 .4-1.7 .4 3.1 .4-3.7 .4 .4 .4 2.6 .4-2.9 .4 3.5 .4 .9 .4-4.8 .4 2.7 .4 .6 .4-.7 .4 6.8 .4-9.9 .4 4.8 .4-3.1 .4 3 .4 .9 .4 .2 .4-4.6 .4-1.4 .4 .4 .4 7.2 .4-13.3 .4 7.2 .4-1.2 .4 4.2 .4 .8 .4 .5 .4 1.6 .4-6.9 .4 1.4 .4-.4 .4 .8 .4 .6 .4 2 .4 3.2 .4 1.3 .4-7.3 .4 0 .4-1.4 .4 3.5 .4 2.7 .4-6.7 .4-.2 .4 4.3 .4-.9 .4 1 .4-2.8 .4 .9 .4 1.1 .4 .6 .4-1.2 .4 .2 .4-.5 .4 1.4 .4 .2 .4-.6 .4-.4 .4 .7 .4-.1 .4-.9 .4 1.1 .4-.5 .4-.4 .4 .5 .4 .7 .4-.8 .4-.8 .4 .7 .4 2.6 .4-1.4 .4 .2 .4 .3 .4 1.6 .4-2.3 .4 .1 .4 .3 .4-.3 .4 .7 .4-1.4 .4 .3 .4 .1 .4 2 .4-.3 .4-2.4 .4-.3 .4 1.7 .4 .5 .4-.6 .4-1.6 .4 1.4 .4 .9 .4-.5 .4 .7 .4-2.9 .4 2.4 .4 .3 .4-1.7 .4 1.6 .4-1.9 .4-.3 .4 3.2 .4-.8 .4-.9 .4 1 .4-.9 .4 1.1 .4 0 .4-1.3 .4 .3 .4-1.6 .4 1.1 .4-.4 .4 1.3 .4 .8 .4-1.6 .4-.9 .4 .7 .4 .5 .4 1.3 .4-1.6 .4 .9 .4-.1 .4-1.3 .4 1 .4-1 .4 0 .4 .1 .4 0 .4 .4 .4-.1 .4-1.1 .4 .3 .4 2.1 .4-1.8 .4 1.8 .4-1.4 .4-1 .4 .1 .4 1.5 .4-1.5 .4 .1 .4 1.5 .4 .7 .4-2.8 .4 .6 .4 .1 .4 2.1 .4-1.7 .4-.9 .4 1.2 .4-.6 .4 1.3 .4-1.1 .4-.2 .4 .2 .4-.7 .4 1.6 .4-.8 .4 2 .4-.9 .4-.2 .4-.7 .4 .6 .4-.7 .4 .8 .4-.1 .4 .5 .4-.7 .4-.6 .4 .7 .4 0 .4-1.5 .4 3.1 .4-2.5 .4 2.7 .4-2 .4-.2 .4 1.4 .4 0 .4-1.9 .4-.9 .4 1.3 .4-.2 .4 .4 .4 .1 .4-1.6 .4 .9 .4 .3 .4-1.1 .4 .6 .4-.1 .4-.8 .4 .9 .4-1.6 .4 2.5 .4-.7 .4-.8 .4 .6 .4-1.1 .4 1.1 .4-1.4 .4 1.1 .4-2.3 .4 2 .4-.6 .4 1.7 .4-2 .4 .8 .4-1.1 .4-.4 .4 1.3 .4 0 .4 .3 .4 .4 .4-2 .4 2.3 .4-1.4 .4 3.2 .4-1.8 .4-.7 .4 .1 .4 1.4 .4-2.6 .4 2 .4 2 .4-2.3 .4 2 .4-2.3 .4 .7 .4 .8 .4-.6 .4 .1 .4-1.1 .4 .4 .4 .5 .4 0 .4 2 .4-1.1 .4-.6 .4 .2 .4-.2 .4-.2 .4 1.8 .4-.8 .4-.8 .4 .1 .4 1 .4-1.1 .4-.7 .4 1.6 .4 .1 .4 .5 .4-2.3 .4 .7 .4 1.4 .4-2.1 .4 .2 .4 .2 .4 2 .4-1.3 .4 1.3 .4-.4 .4-.7 .4-1 .4-1 .4 .8 .4 1.4 .4-.9 .4-.2 .4-.4 .4 1.1 .4 .6 .4-1.7 .4 2.5 .4-1.4 .4 .4 .4 1.3 .4-.1 .4 .1 .4-.9 .4-.3 .4 .2 .4-1.3 .4 .7 .4 .3 .4-1.4 .4 2.2 .4 .2 .4-1.1 .4 2.3 .4-2.2 .4-.3 .4-.4 .4 .5 .4-1.5 .4 1.2 .4-.4 .4-.3 .4 .5 .4 2 .4-1.3 .4-1.6 .4 .8 .4 2.3 .4-2.5 .4 .3 .4 2.2 .4 .2 .4-.6 .4-2 .4 1 .4-1.2 .4 1.3 .4-1 .4 1.2 .4 .2 .4-1 .4 0 .4 .4 .4-.1 .4 .8 .4-.1 .4 .3 .4 .2 .4-2.3 .4 1.2 .4-1.7 .4 2.1 .4-1 .4-.4 .4 0 .4 1.1 .4 .7 .4-1.2 .4-.5 .4 1.2 .4 1.5 .4-1.2 .4 .6 .4-2.7 .4 1.7 .4 0 .4-.8 .4 1.2 .4 2.2 .4-2.3 .4-.1 .4 .1 .4 .6 .4-1.3 .4 0 .4 .6 .4 .3 .4-1.3 .4 1.4 .4-.3 .4 2 .4-.6 .4 .3 .4-1.3 .4 .5 .4 .8 .4-.9 .4 .1 .4-.9 .4 .3 .4-.8 .4 .6 .4 .7 .4-1.2 .4 .9 .4-1.6 .4 2.8 .4-1.6 .4-.7 .4-.1 .4 2.1 .4 .2 .4-1.9 .4 1 .4-1 .4 1.6 .4 .4 .4-5.3 .4 3.3 .4 1.2 .4-1.1 .4 .5 .4 .7 .4 5.3 .4-5.7 .4 .3 .4-1.1 .4 1 .4 1.1 .4-1 .4-.4 .4-1.1 .4 1 .4 3.2 .4-2.3 .4-1.3 .4 2.3 .4-1 .4 1.7 .4-3.4 .4 2.3 .4-.5 .4-.7 .4 1.1 .4-1.8 .4 2.6 .4-3.4 .4 1.7 .4 1.1 .4-1.7 .4 .7 .4 .3 .4 .3 .4 .7 .4-.8 .4-.3 .4-.5 .4 .5 .4 .5 .4-.1 .4-.7 .4 .9 .4-1.7 .4 .8 .4 .2 .4-.7 .4-.2 .4 1.2 .4 1.1 .4-.8 .4-.6 .4-.3 .4 .1 .4 1.3 .4-.3 .4 .6 .4-2.5 .4 1.2 .4-.2 .4 1.8 .4-3.6 .4 1 .4 .7 .4 .9 .4-1.2 .4-.1 .4 1.2 .4-1.8 .4 .9 .4 .6 .4 .2 .4 .4 .4-2 .4 .2 .4-.2 .4 2.1 .4-1 .4 .8 .4-.4 .4-1 .4 .4 .4 .5 .4-.2 .4 .5 .4-.2 .4 0 .4 .1 .4 1.5 .4-2.4 .4-1.3 .4 3.2 .4-.2 .4-3 .4 1.2 .4 .8 .4 0 .4-1.2 .4 .3 .4-.5 .4 2 .4-.1 .4-1.5 .4 .9 .4 1.3 .4-2.1 .4-.4 .4 .2 .4 .8 .4-.4 .4 .7 .4-.7 .4 0 .4-1 .4 2.2 .4-.3 .4 .7 .4-2.7 .4-.2 .4 1.7 .4 .4 .4-2 .4 .3 .4-.1 .4 .5 .4 .5 .4 .6 .4-.4 .4 .5 .4-1.2 .4 1.4 .4-2.3 .4 .9 .4-1.4 .4 3 .4-1.8 .4 1.2 .4-.3 .4-.8 .4 1.1 .4-2.4 .4 1.8 .4-2.1 .4 1.3 .4 2.2 .4-1.5 .4 0 .4 .6 .4 .4 .4-.8 .4 .9 .4 .6 .4-1.4 .4-.7 .4-.3 .4 1.8 .4-.1 .4-.7 .4-.7 .4 1.7 .4-2.7 .4 2.1 .4-2.6 .4 1.3 .4-.1 .4-.4 .4 2.8 .4-3.2 .4-.5 .4 1.4 .4 .8 .4-.5 .4 1.4 .4-2.2 .4 .7 .4 .8 .4-1.3 .4 1.1 .4-.8 .4-.6 .4 .5 .4-1.6 .4 .2 .4 1.4 .4-1.1 .4 .9 .4-.7 .4 .1 .4 1 .4-.9 .4 .2 .4 .1 .4 .1 .4-.8 .4 .2 .4 .4 .4 .9 .4-1.6 .4 .9 .4-.3 .4-.1 .4 .9 .4-1.4 .4-.1 .4-1.1 .4 2.7 .4-1 .4-.5 .4 .4 .4 .6 .4 .8 .4-.2 .4-1 .4-.5 .4-.3 .4-1.4 .4 1.9 .4 .6 .4-.8 .4 .4 .4 .8 .4-1.1 .4 .6 .4 .5 .4-.9 .4-.6 .4 1.4 .4-1 .4 1 .4-1.2 .4-.5 .4 1.1 .4-1.6 .4 1.8 .4 .5 .4-1.3 .4-.3 .4 .6 .4 .7 .4-1.3 .4 1.4 .4-.4 .4 .9 .4-1.5 .4-.9 .4 2 .4-.3 .4-1 .4-1.1 .4 1.6 .4 .5 .4-2.6 .4 2 .4-1.1 .4 .4 .4-.4 .4 0 .4 1 .4-1.8 .4 .4 .4 1.9 .4 .1 .4-.6 .4 1 .4-1.6 .4 .3 .4 1.3 .4-1.8 .4 2.5 .4-3.7 .4 .5 .4 .7 .4 .3 .4 .5 .4-.2 .4-.9 .4-.1 .4 .3 .4 .7 .4 .3 .4-1.7 .4 1.3 .4 .5 .4-2.8 .4 3.4 .4-1 .4-1.6 .4 1.8 .4-.3 .4 0 .4-1 .4-.1 .4 .9 .4-.1 .4-.8 .4 .1 .4 .2 .4 0 .4 1.3 .4 0 .4-1.5 .4-.3 .4 .6 .4-.1 .4-1.6 .4 2 .4 .3 .4-.8 .4 .3 .4 .3 .4-.5 .4 .4 .4-1.6 .4 2.1 .4 1.7 .4-2 .4-1.1 .4 0 .4 1.9 .4-1.2 .4-.7 .4 1.2 .4-.9 .4 .1 .4 .2 .4-.6 .4-.5 .4-.9 .4 1.4 .4 1 .4-2.2 .4 1.3 .4-.3 .4 1 .4-1.9 .4 1.6 .4-1.9 .4 1.1 .4-1.5 .4 1.1 .4 .6 .4 .1 .4 .5 .4-1.3 .4-1 .4 2 .4-.9 .4 1.2 .4-2.3 .4 .3 .4 .5 .4 .8 .4-1.3 .4 1.8 .4-1.6 .4 .4 .4-.6 .4-1 .4 1.2 .4-.7 .4 .2 .4-1.5 .4 .4 .4 2.2 .4-1.5 .4 1.7 .4-2.6 .4 3 .4-2.3 .4-.2 .4 .6 .4-.1 .4 1.3 .4-1.3 .4-.4 .4-.7 .4 2.7 .4-.4 .4-.2 .4-1.6 .4 1.5 .4 .6 .4-.1 .4-1.4 .4 1 .4-.9 .4-.6 .4 1.2 .4-.5 .4-1.3 .4 1.2 .4 0 .4-.1 .4-.2 .4 1.2 .4-.5 .4 0 .4-2.2 .4 1.4 .4-1.5 .4 1.9 .4-.4 .4-.2 .4 .2 .4 .5 .4-1.4 .4 1.5 .4-.2 .4 .7 .4 .1 .4 1 .4 1.3 .4-3.2 .4-.1 .4 .7 .4 .8 .4-1.3 .4-.2 .4 .1 .4 2 .4-1.4 .4 2.8 .4-1.4 .4-1.3 .4 1.1 .4 2.3 .4-1.9 .4 1.4 .4-1.5 .4 .1 .4-.2 .4-.8 .4-.6 .4 .5 .4 2 .4-2.3 .4 2 .4 1.1 .4-1.7 .4-.3 .4 .3 .4-.1 .4-.9 .4 .2 .4 1.4 .4-1.3 .4 1.5 .4 .5 .4-1.5 .4 .3 .4 1.1 .4-.5 .4-1.6 .4 1.5 .4-.1 .4-1 .4 1.6 .4-1.6 .4 1.8 .4-1.7 .4 1.4 .4-.5 .4 .1 .4 2 .4-1.2 .4 .6 .4-.6 .4-1.6 .4 1.9 .4 .7 .4-.7 .4-.1 .4 .6 .4-2 .4 1.3 .4-2.8 .4 3.6 .4-2 .4 2.6 .4-1.5 .4 .3 .4 .5 .4-.3 .4 2 .4-3.9 .4 1.5 .4-.7 .4 .9 .4 1.1 .4-1.7 .4 .6 .4 1.1 .4-1.6 .4 .8 .4-.8 .4 .6 .4-1.3" fill="none" stroke="#000" stroke-width="0.9" stroke-linejoin="round" clip-path="url(#cM6)"/><path d="M668.5 451.1l.4-1 .4 .7 .4-1.7 .4 1.5 .4 .8 .4 .9 .4 .1 .4-1 .4-2.2 .4-.3 .4 1.6 .4-.6 .4 0 .4 1.1 .4-1 .4-1.9 .4 2.3 .4 .2 .4-.6 .4-.4 .4 1.6 .4-.1 .4-1.2 .4-1.2 .4 1.7 .4-.6 .4 .9 .4-1.4 .4 .7 .4 1.9 .4-1.4 .4 1.4 .4-3.6 .4 0 .4 3 .4-1.4 .4-.4 .4 1.3 .4-2 .4 3.3 .4-2.3 .4 .5 .4-1.3 .4 1.6 .4 0 .4-.8 .4 .7 .4-.7 .4 .2 .4 .5 .4-1.3 .4 .3 .4 1.3 .4-1.1 .4 .4 .4-.3 .4 .4 .4-.8 .4-.1 .4 .4 .4-1.1 .4-.4 .4 .6 .4 .3 .4 .4 .4-1.2 .4 1.2 .4-2 .4 1.1 .4 .3 .4 1.5 .4-.9 .4 2.5 .4-5.7 .4 3.7 .4-1.6 .4 .6 .4-1.4 .4-.4 .4 1.6 .4 1.4 .4-3.9 .4 1 .4 1.3 .4 .2 .4-.5 .4 .7 .4-1.5 .4 1 .4 .9 .4-.7 .4-.2 .4-1.6 .4 1.6 .4-.3 .4-.3 .4 2.1 .4-.8 .4-1.2 .4 .1 .4-1.2 .4-.5 .4 2.7 .4-2.3 .4 0 .4 2 .4-2.9 .4 1.9 .4 .1 .4-1.6 .4 2.5 .4-1.7 .4-.4 .4 1.8 .4-1.3 .4 1.3 .4-.9 .4-.5 .4 .8 .4-2.6 .4 .5 .4 .5 .4 1 .4 0 .4-2.4 .4 4 .4-2.4 .4-1 .4 1.6 .4 .7 .4-.4 .4-2.4 .4 1.6 .4 .4 .4-.7 .4 0 .4 1.7 .4-1.8 .4 .9 .4 0 .4 1.4 .4-2.5 .4-1.2 .4 1.8 .4-.4 .4 .8 .4 .7 .4-.7 .4-1.2 .4 1.3 .4-1.8 .4 1.3 .4-.9 .4-.5 .4 1.9 .4-.4 .4-1.2 .4 1.9 .4-.8 .4 1.7 .4-1.1 .4 .7 .4-1.9 .4 .5 .4 .7 .4-1.5 .4 .3 .4-1 .4 0 .4 6.7 .4-6.6 .4 1.8 .4-2.3 .4 1.2 .4-1.2 .4-.7 .4 2.1 .4-.5 .4 2.1 .4-1.2 .4-.9 .4 .2 .4 .6 .4-2.4 .4 3.8 .4-3.5 .4 2.9 .4 .5 .4-.6 .4-.8 .4 .3 .4-1.7 .4 1.1 .4 .2 .4 0 .4-.7 .4 2.5 .4-2.7 .4 .2 .4 2.2 .4-3.1 .4 3.7 .4-.9 .4-.5 .4-.2 .4-1.3 .4-.8 .4 .8 .4 5.7 .4-5.2 .4 .5 .4 .2 .4-.7 .4 1.8 .4-1.3 .4-.4 .4-.5 .4 .8 .4 1.6 .4-2.1 .4-.2 .4 1.1 .4-.9 .4-.6 .4-.6 .4 1.4 .4 .8 .4 .8 .4 5.3 .4-5.2 .4-2.1 .4 1.2 .4-1.9 .4 1.5 .4 .5 .4-2.8 .4 2.5 .4-1.6 .4 1.5 .4-.5 .4-.4 .4-1 .4 .6 .4 1.8 .4-2 .4 2.7 .4-1.1 .4-1 .4-1.4 .4 7.5 .4-5.1 .4-1.3 .4 3.4 .4-4.1 .4 4.7 .4-.7 .4-3.1 .4-3.7 .4 2.8 .4-.1 .4-2.1 .4 7 .4-2.9 .4 2.1 .4-2.1 .4 1.5 .4-2.4 .4 4.2 .4-2.2 .4-4.1 .4 8.3 .4-9.9 .4 3.4 .4 .8 .4 .1 .4-7 .4 11.1 .4-6.1 .4 1.2 .4 1 .4 1.2 .4-1.8 .4 5.1 .4-10 .4 2.7 .4 .6 .4 3.7 .4-2.7 .4 3.7 .4 1.2 .4-3 .4-2 .4-1.1 .4 5.1 .4-4.5 .4 3.3 .4-1 .4-.5 .4-.4 .4-.1 .4 .3 .4 .9 .4 1.7 .4-.1 .4-3.7 .4 2.2 .4-1.7 .4 1.3 .4 1.7 .4-2.2 .4-.3 .4 1.7 .4 1.1 .4-1.8 .4 1.2 .4-1.3 .4 .1 .4-2.1 .4 3.2 .4 .5 .4 .1 .4-1.6 .4 .7 .4 0 .4 0 .4 1.5 .4-.6 .4 1.8 .4-2.2 .4-1.7 .4 2.1 .4 1.5 .4-1.2 .4-1.9 .4 3.2 .4-1.8 .4-2.2 .4 2.7 .4-1 .4 .1 .4 1.7 .4-.2 .4-.6 .4-1.9 .4 1.9 .4-.8 .4 .9 .4 .2 .4-.2 .4-2.1 .4 1.6 .4 .2 .4-2.6 .4 3.1 .4 .1 .4-1.6 .4-.2 .4 0 .4 2 .4-1.2 .4 1.3 .4-2.7 .4 1.7 .4-.6 .4 .2 .4 1.1 .4-.9 .4-.7 .4-8.7 .4 9.6 .4-1.7 .4 1.9 .4-.7 .4 0 .4-1.5 .4 .6 .4 .3 .4-.5 .4 1.5 .4 1.1 .4 1.3 .4-1.4 .4-2 .4 .6 .4-2.1 .4 2.3 .4 .3 .4-1.4 .4 .8 .4-1.6 .4 3.1 .4-2.1 .4 1.8 .4-1.7 .4 .3 .4 .9 .4-1.8 .4 1.2 .4-.1 .4-1.6 .4 .5 .4 .5 .4 .8 .4-1.5 .4 0 .4 1.3 .4-1.1 .4 .2 .4-.7 .4 .7 .4 .6 .4-1.6 .4 1.8 .4-2.2 .4 .9 .4 1.4 .4 1.3 .4-2.2 .4 .6 .4-.4 .4 1.4 .4-1.5 .4-1.1 .4 1.8 .4 3.5 .4-2.8 .4-.4 .4 0 .4-.8 .4-.1 .4 1.4 .4-.5 .4-1.2 .4-.1 .4-.1 .4 1.4 .4-1.5 .4 .4 .4 .3 .4 0 .4-1.1 .4 0 .4 .2 .4 1.1 .4-.1 .4-.8 .4-.5 .4-1.2 .4 1.7 .4 .1 .4-2 .4 2.1 .4 0 .4-1 .4-1 .4 3.1 .4-2.5 .4 .1 .4 2.9 .4-1.8 .4 1.3 .4-2.6 .4 1.1 .4-1.3 .4 1.2 .4 0 .4-.3 .4 .8 .4-1.3 .4 2.5 .4-2.1 .4 .5 .4-.9 .4 0 .4 1.6 .4-1 .4 1.6 .4-.6 .4 1.6 .4-.2 .4-1.3 .4 2.3 .4-.8 .4-1.3 .4 2.4 .4-2 .4-.4 .4-1.5 .4 2.4 .4-.7 .4-4.6 .4 5.1 .4-1.2 .4-1.2 .4 2.9 .4-1.5 .4-2.6 .4 4.2 .4 0 .4-.7 .4-.1 .4-.4 .4 .2 .4-.9 .4 1.7 .4 1.6 .4-1.7 .4 .9 .4-1.3 .4 1.2 .4-2.4 .4 .1 .4 1.6 .4 .3 .4-2.8 .4 1 .4 .4 .4 .4 .4 .7 .4-1.3 .4 1.3 .4-.6 .4-1.2 .4-.5 .4 2.7 .4-.5 .4-.7 .4-.5 .4 1.5 .4 .3 .4-2.8 .4 2.8 .4-.9 .4 1.1 .4 .6 .4 .4 .4-2.4 .4-.4 .4 .3 .4-.5 .4 1.5 .4 1 .4-1.5 .4-.4 .4 .6 .4 .1 .4 .4 .4-.3 .4-1.6 .4 1.1 .4 .4 .4 0 .4 1.7 .4-.8 .4 .7 .4-.7 .4-1.2 .4 .4 .4-1.4 .4 1.4 .4-.6 .4 0 .4 1.9 .4-.9 .4-1.4 .4-.3 .4 .9 .4 1.3 .4-1.4 .4 1.1 .4-1.4 .4 .2 .4 .2 .4 1.9 .4-2.1 .4 1.8 .4 1.8 .4-1.9 .4-2 .4-1.6 .4 1.3 .4 1.9 .4-1.2 .4-1 .4 3.6 .4-4.8 .4 2.3 .4-.7 .4 1.3 .4-.5 .4-.4 .4-.6 .4-2.2 .4 3.5 .4-.4 .4 1.7 .4-.1 .4 .8 .4-1.8 .4 1.4 .4-2 .4 .2 .4 1.5 .4-.5 .4-2.7 .4 1.4 .4-.1 .4-1.4 .4 3 .4-.7 .4-1.1 .4 .5 .4-2.7 .4 6.1 .4-2.7 .4 .8 .4-3.1 .4 3.7 .4-1.6 .4 2.7 .4-3.3 .4 2.1 .4-.2 .4-2.3 .4 1.8 .4-1.9 .4 .7 .4 1.5 .4-.4 .4 1.6 .4-4.4 .4 1.5 .4 1.8 .4-.8 .4 1 .4-.4 .4-.2 .4-.5 .4-1.9 .4 1.7 .4 0 .4-.4 .4 .6 .4-.7 .4 1.6 .4-.1 .4-1.4 .4-.1 .4 1.5 .4-.5 .4 .1 .4 .2 .4-2.1 .4 3 .4-2 .4 .9 .4 1.2 .4 .3 .4-2.6 .4-.1 .4 1.6 .4 0 .4-1.9 .4 1.7 .4 .7 .4-.8 .4 1.3 .4-.3 .4-.6 .4-.6 .4 1.5 .4-.7 .4-.2 .4-.3 .4-.5 .4 2.4 .4-.9 .4 .1 .4-.2 .4-1.7 .4 0 .4 1.3 .4 .2 .4-.4 .4-.8 .4 .6 .4-1.2 .4 2.7 .4-3 .4 4.1 .4-3 .4 0 .4 .6 .4 .8 .4-1.5 .4 .7 .4 .5 .4-1.2 .4-2.3 .4 3.2 .4 .4 .4-1.7 .4 1.5 .4-3.3 .4 4.3 .4-3.2 .4 2.5 .4-.7 .4-.4 .4-1.6 .4 1.5 .4 .6 .4-.7 .4 .2 .4 1.3 .4 .1 .4 .9 .4-1.3 .4-1.8 .4 1.1 .4 1 .4-.3 .4 1.8 .4-3.2 .4 2 .4-1.8 .4 1.2 .4-.2 .4 1 .4-2.3 .4 .2 .4 1.1 .4-.6 .4 1.1 .4-1.3 .4 .5 .4 .4 .4 .5 .4-1.9 .4-.1 .4 .6 .4 1.4 .4-1.2 .4 1.4 .4 0 .4 .8 .4-.6 .4-2 .4-.2 .4-.2 .4 .1 .4-.2 .4 .3 .4 .4 .4 1.2 .4 .6 .4-3.2 .4 1.2 .4-1.8 .4 1.9 .4-.5 .4 2 .4-.5 .4-.3 .4-3.2 .4 2.4 .4 .1 .4 0 .4-1.6 .4 2 .4-1.7 .4 .2 .4 .3 .4 .5 .4-.4 .4 1.4 .4-.6 .4 .3 .4-1.5 .4 .2 .4 1.8 .4-1.6 .4 2.1 .4-2.9 .4 1.5 .4-.4 .4-.2 .4 .5 .4 .4 .4 .6 .4-3.3 .4 1.7 .4-1 .4 2.2 .4 .8 .4-3 .4 1 .4 1.7 .4-2.3 .4 1.1 .4 .5 .4-2.1 .4 1.6 .4-1 .4-.1 .4-.3 .4 .5 .4-.4 .4-.9 .4 1.5 .4-.5 .4-.6 .4 .1 .4 1.5 .4-.5 .4-1.4 .4 3.5 .4-1.9 .4-.5 .4-.5 .4-.4 .4 1.9 .4 .1 .4-1.7 .4 1.8 .4-2 .4 2.8 .4-14.6 .4 13.6 .4-1 .4 .1 .4 .6 .4-1.1 .4 .4 .4 1.6 .4-1 .4-.7 .4 .2 .4-.3 .4-.5 .4 .1 .4-.8 .4 1.8 .4 .8 .4-1.3 .4-.9 .4 2.3 .4-2.1 .4 .3 .4 .2 .4 1.4 .4-2.7 .4 1.9 .4-1.8 .4-.6 .4 1.3 .4-.2 .4 1.8 .4-1 .4-2 .4 1.5 .4-.1 .4-.8 .4 .4 .4 .3 .4 1.6 .4-.9 .4 6.1 .4-7.5 .4 3.2 .4-2.3 .4 .2 .4-2 .4 2.8 .4-1.8 .4 2.1 .4-1 .4 1 .4-.1 .4-3.9 .4 2 .4-.2 .4 1.7 .4-2.1 .4 1.3 .4-1.9 .4 1.7 .4 .9 .4-2.2 .4 .9 .4 1.1 .4-1.8 .4 1.2 .4 .3 .4-2 .4 2.3 .4-.8 .4 .3 .4-1 .4-.4 .4 1 .4-1.3 .4 1 .4-1 .4 4.5 .4-2.7 .4-.6 .4 .4 .4 .4 .4-1.6 .4 2.9 .4-2.6 .4 .4 .4 .5 .4 1.9 .4-.7 .4-1.8 .4 1.2 .4-1.4 .4-1.1 .4 2 .4 .9 .4-2.8 .4 2.2 .4-.3 .4-2.5 .4 1.1 .4 .3 .4-.5 .4 1.1 .4-1.4 .4-1 .4 1 .4 1.1 .4-1.7 .4 2.1 .4-2 .4 .9 .4-.5 .4 1.1 .4 1.6 .4-1.2 .4 1.3 .4-1.1 .4-2.5 .4 1.9 .4-.2 .4 1.9 .4-.6 .4-8.3 .4 5.8 .4 1.6 .4-.1 .4 .2 .4 .4 .4-.7 .4-1.5 .4 0 .4 2 .4 1.8 .4-3.3 .4 1.3 .4 .9 .4-1.8 .4-2.3 .4 2.5 .4-.4 .4-1.6 .4 .4 .4 3.4 .4-2.2 .4 0 .4 2.2 .4-2.5 .4 1.6 .4-1.5 .4 .3 .4-1.2 .4 .7 .4 1 .4-1.1 .4-.1 .4-.5 .4-.2 .4 1.7 .4-1.6 .4 2 .4 2 .4-3.4 .4-1.5 .4 .1 .4-.7 .4 2 .4-1.1 .4 .5 .4-.8 .4 .2 .4 1.4 .4-.7 .4-2.7 .4 3.5 .4-.2 .4-1.3 .4 1 .4-1.3 .4-.5 .4-1.5 .4 3.9 .4-3.2 .4 1.3 .4 4.7 .4-4.8 .4 1.7 .4 2 .4-2 .4-1.7 .4 0 .4 1 .4-1.5 .4 .2 .4 1.8 .4-.4 .4-.7 .4 .2 .4-1.7 .4 2.7 .4-.1 .4-1.2 .4 .9 .4 1.1 .4-1.5 .4-.6 .4-1.2 .4 3.3 .4-2.5 .4 3 .4-2.7 .4-.4 .4 2.8 .4-2 .4-.8 .4-.3 .4 0 .4-1.1 .4 2.3 .4-.8 .4 1.2 .4 0 .4-2 .4 1.1 .4-.3 .4 3.4 .4-1.8 .4 .1 .4 3.2 .4-4.1 .4 .9 .4-.7 .4-.7 .4 3.5 .4-.7 .4 1.2 .4-1 .4-2.3 .4 2.4 .4-1.6 .4-.1 .4 1.6 .4-.3 .4-1.5 .4 2.1 .4-3.1 .4 3.6 .4-1.8 .4 1.5 .4-2.1 .4 .7 .4 .3 .4 3 .4-1.8 .4-.5 .4 1.1 .4-2 .4 .8 .4 .2 .4 .1 .4-1.7 .4 .4 .4 .9 .4-.5 .4-.6 .4 1.4 .4-2 .4 3.3 .4-2.9 .4 2.6 .4-.3 .4-1.4 .4 2.7 .4-2 .4-.8 .4 2.5 .4-.2 .4-.7 .4-2 .4 .4 .4 2.2 .4-1.5 .4-1 .4 1.8 .4 2.2 .4-1.8 .4-2.3 .4 1.1 .4-.3 .4 1.2 .4 .4 .4-1.8 .4 .9 .4 .1 .4-1.3 .4 3 .4-.7 .4-.9 .4-.2 .4-1.6 .4 1.1 .4 .3 .4 .3 .4 .9 .4 .8 .4-.4 .4 .5 .4-1.5" fill="none" stroke="#00ee00" stroke-width="0.9" stroke-linejoin="round" clip-path="url(#cM6)"/><line x1="668.5" y1="447.9" x2="1122.5" y2="447.9" stroke="#000" stroke-width="1.5" stroke-dasharray="4.5,3"/><line x1="777.1" y1="410.8" x2="777.1" y2="484.8" stroke="#ff00ff" stroke-width="1.4" stroke-dasharray="1.5,2"/><line x1="936.5" y1="410.8" x2="936.5" y2="484.8" stroke="#00a000" stroke-width="1" stroke-dasharray="6,3"/><line x1="945.5" y1="410.8" x2="945.5" y2="484.8" stroke="#0000ff" stroke-width="1" stroke-dasharray="1.5,2"/><line x1="975.5" y1="410.8" x2="975.5" y2="484.8" stroke="#ff0000" stroke-width="1" stroke-dasharray="7.5,2.5"/><line x1="975.5" y1="410.8" x2="975.5" y2="484.8" stroke="#ff00ff" stroke-width="1" stroke-dasharray="1.5,2"/><line x1="1054.5" y1="410.8" x2="1054.5" y2="484.8" stroke="#ff0000" stroke-width="1" stroke-dasharray="7.5,2.5"/><line x1="1093.5" y1="410.8" x2="1093.5" y2="484.8" stroke="#00a000" stroke-width="1" stroke-dasharray="6,3"/><line x1="674.5" y1="417.5" x2="693" y2="417.5" stroke="#444" stroke-width="1.2"/><text transform="translate(693.5,421) scale(1.12,1)" font-size="9" text-anchor="start" fill="#000">-(VexB)<tspan font-size="6.5" dy="2.5">M</tspan></text><line x1="674.5" y1="428.5" x2="693" y2="428.5" stroke="#44ee44" stroke-width="1"/><text transform="translate(694,431.5) scale(1.12,1)" font-size="9" text-anchor="start" fill="#00ee00">E<tspan font-size="6.5" dy="2.5">M</tspan></text><path d="M668.5 550.1l.3 4.2 .3-2.9 .3 1.6 .3-8.1 .3 7.7 .3-5.8 .3 4.8 .3 2.3 .3-7.4 .3 .6 .3 3.8 .3-2.2 .3 2.7 .3 .4 .3-.2 .3-5.4 .3-1.6 .3 2.5 .3 6.3 .3-4 .3-.9 .3 3 .3 3.2 .3-1.5 .3-8.7 .3-2.9 .3 12.4 .3-5.4 .3 2.5 .3-2.3 .3 2.6 .3-5.6 .3 4.8 .3-5.8 .3 9 .3-3.5 .3 1 .3-6.8 .3 5.2 .3 2.4 .3-.1 .3-6.6 .3 6.4 .3-2.2 .3-3.1 .3 6.1 .3-3.8 .3 .7 .3 1.8 .3-.9 .3-3.9 .3 3.3 .3-5.5 .3 8.2 .3 1.6 .3-2.3 .3 1.5 .3 0 .3-30.4 .3 28.3 .3 2.9 .3-6.6 .3-1.3 .3 1.3 .3 5.2 .3 1.8 .3-1 .3-2.1 .3-4.7 .3 6.5 .3-6.2 .3 6.3 .3-7.2 .3 2.6 .3 2.2 .3 1.9 .3-1.9 .3-9.3 .3 11.4 .3-1.5 .3-.8 .3-2.7 .3 6 .3-1.1 .3-7.3 .3-.1 .3 5.8 .3 1.6 .3-1 .3-4.4 .3 6.2 .3-9.8 .3 3.6 .3 4.6 .3-.4 .3-6 .3 7.2 .3 1.6 .3-2.7 .3-5.6 .3 6.2 .3-.4 .3-6.9 .3 6.9 .3 1.2 .3-6.4 .3 7.8 .3-2.6 .3-9.1 .3 4 .3 4.6 .3-.1 .3-1.7 .3-7.2 .3 10.9 .3-3.6 .3 3.4 .3 .8 .3-2 .3-6.6 .3 7.3 .3 .1 .3-.5 .3-3.2 .3-27.1 .3 24.8 .3 1.4 .3 6.3 .3-15 .3 11.2 .3 3.4 .3-43.5 .3 26 .3 10.9 .3-3.5 .3-4.9 .3 9.1 .3-1.1 .3-2.1 .3 3.6 .3 3.6 .3-6.1 .3-1.8 .3 9.5 .3-7 .3 6.4 .3-.5 .3-17.7 .3 10.2 .3 1.3 .3 .5 .3 1.1 .3 3.4 .3 .3 .3-11.8 .3-10.4 .3 22.4 .3-11.1 .3 .6 .3 7.9 .3 2.9 .3-1.6 .3-7.3 .3 7.6 .3-10.8 .3 14.6 .3-.5 .3-8 .3 7 .3-.7 .3-3.8 .3 5.6 .3-3.6 .3 1.7 .3-5.6 .3-1.3 .3-.1 .3 8.8 .3-3.9 .3 1 .3-.8 .3-9.5 .3-4.2 .3-3.4 .3 18.5 .3-.9 .3-1.7 .3-18.4 .3 11.8 .3 1.4 .3 1.3 .3 4.8 .3-6.4 .3 10.2 .3 .4 .3-.6 .3-6 .3 6.8 .3-2.6 .3 1.4 .3-.3 .3 .3 .3-3.6 .3-3.9 .3 5.8 .3 1.8 .3-4.2 .3-1.3 .3 1.8 .3 2.1 .3-3.6 .3 5.6 .3-16.8 .3 16.4 .3 .5 .3 .4 .3-6.9 .3 .7 .3-8.4 .3 14.4 .3-.9 .3 .1 .3-9.9 .3 3.9 .3-1.5 .3 1.4 .3 5.2 .3-3.1 .3-9.8 .3-5.5 .3 9 .3 5.1 .3-.7 .3 1.4 .3-11.5 .3 4.7 .3-7.7 .3 12 .3-9.2 .3-1.9 .3-6.4 .3 17.6 .3-18.7 .3 20.3 .3 5.2 .3 .2 .3-11.1 .3-15.7 .3 25 .3 2.1 .3-3.3 .3-14.8 .3 7.5 .3 2.1 .3 1.7 .3 6 .3-27.8 .3-2.3 .3 3.3 .3 11.5 .3 4.4 .3 6.7 .3 1.5 .3 1 .3 1.7 .3-6.1 .3 1.7 .3-5.5 .3 8.5 .3 0 .3-24.7 .3 24.2 .3-15.9 .3 13.5 .3-2.9 .3-13 .3-2 .3 22.1 .3-12.4 .3-.1 .3 5.8 .3 7.2 .3-25.3 .3 22.5 .3 1.7 .3 2.3 .3-29.7 .3 23.4 .3-5.3 .3 10.1 .3 1.3 .3-3.2 .3-2.4 .3 2.5 .3-12.4 .3 14.2 .3-4.3 .3-4 .3-18.5 .3 10.3 .3-23.7 .3 24.8 .3 3.4 .3 2.6 .3-8.5 .3 5.7 .3-9.2 .3-12.8 .3 28.6 .3-15.3 .3 9 .3 10.2 .3-37.1 .3 30.2 .3-14.6 .3 21.4 .3-48.3 .3 46.8 .3-2.2 .3-58.6 .3 33.9 .3 24.4 .3-1.4 .3 7.4 .3 1 .3-7.3 .3 1.7 .3-8.6 .3 10.9 .3-2.8 .3-4.1 .3 9 .3-11.6 .3 11.4 .3-36 .3 34.4 .3-32.2 .3 25.5 .3-6.3 .3 16.1 .3-15 .3-20.3 .3 .5 .3 25.3 .3-38 .3 46.7 .3 .4 .3-34.2 .3 30 .3-17.4 .3 13.6 .3 1.9 .3-14.4 .3-.6 .3 19.4 .3-23.9 .3 7.1 .3 13.7 .3-31.3 .3 28.1 .3-51.1 .3 53.9 .3 5.2 .3-16.5 .3 2.4 .3 2.9 .3 11.9 .3-13.2 .3 8.2 .3 .1 .3 3.4 .3-2.3 .3-30.9 .3 26 .3-8.6 .3 5.7 .3 8.7 .3-14.5 .3 6.9 .3-8.7 .3 9.3 .3 9.7 .3-10.1 .3 5.8 .3 3.3 .3-2.8 .3-7.4 .3-13.4 .3 18 .3-45.8 .3 29.8 .3 18.4 .3-.6 .3-27.2 .3 25.5 .3-1.2 .3-6 .3 10.2 .3-16.5 .3 6.1 .3-21.7 .3 35.2 .3-16.5 .3 9.4 .3-6.3 .3 10.4 .3-3.1 .3 4.7 .3-9.6 .3 5.5 .3-10.4 .3 16.4 .3-14 .3 10.4 .3-6.7 .3-3.6 .3 12.5 .3-16.8 .3 11.5 .3 2.5 .3-10.8 .3 8 .3 .4 .3 4.5 .3-29.6 .3 27.3 .3-14.5 .3 13.8 .3 1.4 .3-15.2 .3 17.9 .3-4.4 .3-1.2 .3-.5 .3 6.1 .3 .3 .3 .3 .3-14.8 .3 5.6 .3-1.8 .3-14.7 .3 8.7 .3 9.8 .3 7.7 .3-6.2 .3-14.2 .3 16.7 .3 .8 .3-10.6 .3 4.9 .3-.1 .3-4.7 .3 2.6 .3 9.3 .3 .2 .3-2.8 .3-.2 .3-13.2 .3 10.6 .3-15.3 .3 19.2 .3-2.8 .3-5.8 .3 7.7 .3-8.3 .3 4.5 .3 1.7 .3-1.3 .3-1.4 .3 7.4 .3-4.3 .3 2.9 .3-1.6 .3 3.4 .3-4.2 .3 .9 .3 2.2 .3 1.1 .3-.9 .3 1.4 .3-6.7 .3 5.6 .3 .8 .3-.3 .3-4.7 .3 3.2 .3-5.3 .3-.7 .3 7.2 .3-2.9 .3 3.8 .3-3.8 .3 1.5 .3-3.5 .3-1 .3-1.9 .3-2.7 .3 10.9 .3-2.3 .3-.4 .3-6.8 .3 5.5 .3-10.6 .3 13.7 .3-18 .3 15.9 .3 1.3 .3 .7 .3-4.1 .3-7.9 .3 6.2 .3 5.4 .3-4.4 .3-2.9 .3 6 .3-1.3 .3-9.7 .3 10.6 .3 2.2 .3-3.3 .3 3.6 .3-5.1 .3-3.9 .3 3.9 .3-6.7 .3 1.7 .3 9.2 .3-.1 .3-7.7 .3 8.6 .3-4.4 .3 3.2 .3-.9 .3 .7 .3 1 .3 .5 .3-14.3 .3 .7 .3 1.2 .3-.5 .3 4.3 .3 4.1 .3 4.8 .3-4.6 .3-2.2 .3-3.2 .3 4.2 .3 5.7 .3-8.5 .3-8.7 .3-3.3 .3 13.2 .3 7.4 .3-5.3 .3 3.6 .3-32.1 .3 28.4 .3 2.3 .3-9.2 .3 9.3 .3 3.5 .3-20.5 .3 8.5 .3 3.1 .3-.8 .3 9.4 .3-7.8 .3-5.3 .3 2 .3 11.4 .3-15.3 .3 .8 .3 15.2 .3-5.5 .3 3.5 .3-1.1 .3-4.6 .3-7.9 .3 14.3 .3 .4 .3-1.6 .3-5.1 .3-7.2 .3 12.1 .3-19.6 .3 21.1 .3-1.3 .3-30.3 .3 24.5 .3 4.8 .3 .2 .3-2 .3-26.8 .3 13.1 .3 14.1 .3 3.2 .3-7.8 .3 .2 .3 3.7 .3-5.5 .3-10.7 .3 17.1 .3-17.6 .3 1.7 .3 13.2 .3-14.7 .3 14 .3-7.4 .3 7.9 .3 3.7 .3-3.5 .3 2.2 .3-3.6 .3 7.4 .3-8 .3 7.1 .3-8.5 .3 9.5 .3-8.5 .3 5 .3-31 .3 32.7 .3-14.4 .3 8.8 .3 8.3 .3-23.5 .3 13.7 .3-9.6 .3-4.2 .3 19.2 .3-.8 .3-19.2 .3 22.8 .3-3 .3 3.9 .3-3.4 .3 3.7 .3-9.2 .3 7.7 .3 .2 .3-7.4 .3 5.8 .3 1.3 .3-2.7 .3 4.9 .3-4.4 .3 2.7 .3-10.2 .3 8.7 .3-6.4 .3-4.7 .3 9.1 .3-8.8 .3-5.4 .3 11.9 .3-12.4 .3 14.5 .3-.2 .3 5.5 .3 .2 .3-1.4 .3-14.4 .3 10.4 .3-3.5 .3-16.8 .3 8.4 .3 9.7 .3-7.7 .3 3.8 .3 11 .3-7.2 .3-6.7 .3 4.5 .3-5.3 .3 13.1 .3-.8 .3-17 .3-4.9 .3 20.3 .3 1.1 .3-6.5 .3 1.4 .3 5.9 .3-.7 .3 3.1 .3-1 .3-11 .3 8.1 .3 1.4 .3-14.2 .3 15 .3-3.2 .3 .6 .3-37.6 .3 38.2 .3-11.6 .3-7 .3 19.2 .3-12.2 .3 13.2 .3-7.1 .3 4.8 .3-7.4 .3 11.1 .3-.9 .3 .9 .3-13.8 .3 8.4 .3 0 .3 3 .3-8.8 .3 9.7 .3 1.4 .3-2.2 .3-5.1 .3-12.4 .3 17.9 .3 .8 .3-9 .3 3.4 .3 6.7 .3-12.1 .3 11.8 .3-7.4 .3 .5 .3 8.1 .3-16 .3 13 .3-4.5 .3 3.7 .3-5.1 .3-2.4 .3 1.8 .3 5.1 .3-.1 .3 1 .3 3.5 .3-3.5 .3-8.7 .3 8.9 .3-1.5 .3 .2 .3 3.6 .3 .6 .3-4.4 .3-.5 .3 2.8 .3 .5 .3-4 .3 5.1 .3 .2 .3-2 .3-3.2 .3-4.6 .3 10.4 .3-7.2 .3 7.3 .3-3.9 .3-38.3 .3 37.3 .3-20.8 .3 22.2 .3 2 .3-6.8 .3 7.3 .3-.2 .3-1 .3-5.2 .3 4.9 .3-.3 .3-4.8 .3 5.8 .3-6.3 .3 3.5 .3-.7 .3 2.1 .3 .7 .3 1.9 .3-3.9 .3 4.1 .3-.5 .3 .2 .3-1.6 .3-5.1 .3 6.9 .3-8.5 .3 7.3 .3-2.3 .3 2 .3 .5 .3-3.8 .3 4.1 .3 .6 .3-.1 .3-1.5 .3-6.1 .3 3 .3 5.1 .3-1.8 .3-1 .3-3.4 .3 6.4 .3-3.9 .3-1.2 .3 .1 .3-2.6 .3 6.3 .3 1.1 .3-.1 .3-1 .3 1.4 .3-7.6 .3 6.4 .3-2.4 .3 3.5 .3-3.8 .3 2.1 .3-2.6 .3 1.9 .3-.6 .3 .2 .3-2.6 .3 3.7 .3 .3 .3 1.2 .3-3.6 .3 .2 .3 2.7 .3-.3 .3-5.2 .3 3.3 .3-.4 .3 1 .3-.7 .3-1.9 .3-.5 .3 .9 .3-1 .3 4.2 .3-4.6 .3 3.7 .3-2.7 .3 2.5 .3-.9 .3 1.4 .3-8.4 .3-6.2 .3 9.1 .3 4.2 .3-1.1 .3 3.3 .3 .7 .3-4.7 .3 2.7 .3 .8 .3 1.8 .3-2.5 .3-.2 .3-5.2 .3 6.7 .3 .7 .3-2.1 .3-1.8 .3-3.2 .3 5.4 .3 1.8 .3-2 .3-2.9 .3-2.8 .3 6.8 .3 1 .3-3.8 .3-12.4 .3 12.4 .3 3.4 .3-5.4 .3 2.1 .3-4.1 .3 6.5 .3-1.2 .3-.3 .3 1.3 .3-.7 .3-5.2 .3 6.6 .3-1.8 .3 2.9 .3-2.4 .3-4 .3 4.3 .3-18.1 .3 20.1 .3-3.1 .3-3 .3 1 .3 2.4 .3-1.1 .3 .3 .3 1.5 .3 0 .3-.5 .3-3.7 .3 .5 .3 .7 .3 4.8 .3-3.5 .3-.2 .3-.4 .3 3.8 .3-3 .3-2.2 .3 3.8 .3-1.2 .3 3.1 .3-4 .3 3.5 .3-4.4 .3 .8 .3 2.7 .3-7.4 .3 3.2 .3 1.7 .3 2.2 .3-6.1 .3-2.4 .3-1.4 .3 11.6 .3-9.6 .3 6.6 .3 2 .3-1.3 .3 1.8 .3-1.5 .3-.1 .3 1.4 .3-1.6 .3-1.3 .3 2.7 .3 0 .3-1.8 .3-4.3 .3 6.9 .3-1.3 .3-1.2 .3-4.4 .3 3.3 .3 .3 .3 1.8 .3 .6 .3-9.7 .3 8.3 .3-5.8 .3 .3 .3 5.9 .3-1.4 .3 1.1 .3 1.1 .3-10.5 .3 8.8 .3-1.8 .3 3.8 .3-.7 .3-2.1 .3-.2 .3 2.1 .3 .7 .3-.2 .3 .6 .3-.9 .3-4.9 .3 5.2 .3 .1 .3-5 .3 5.9 .3-2.1 .3-9.7 .3-.4 .3 10.9 .3 1.1 .3-5.2 .3 3.2 .3-2 .3 2.9 .3-2 .3-1.5 .3 3 .3-4.5 .3 2.3 .3 3.7 .3-2.2 .3-3.9 .3 4.1 .3-.3 .3-.8 .3-4 .3-2.7 .3-5.7 .3 9.9 .3 .1 .3-.4 .3-.9 .3 4.8 .3-3.8 .3 .2 .3 4.6 .3-.9 .3-1.6 .3 3.8 .3-3.8 .3 .4 .3-1 .3 1.3 .3 2.4 .3-8.3 .3 8.9 .3-2.1 .3 1.2 .3 .4 .3-5.3 .3 2.8 .3 .6 .3-5.3 .3 7.5 .3-4.1 .3-1.5 .3-.1 .3-3.6 .3 5.9 .3-4.5 .3-11.2 .3 8.8 .3 7.3 .3-8.6 .3 3.8 .3 8 .3-2.3 .3 .7 .3-3.2 .3-2 .3 3.6 .3 3.1 .3-.7 .3-3.2 .3-.6 .3 3.9 .3-3.2 .3-2.1 .3-.4 .3 .8 .3 5.8 .3-4.7 .3 4.9 .3-5.2 .3 5 .3 .1 .3-1 .3-7 .3-25.6 .3 28.8 .3-3.5 .3 5 .3 2.2 .3-6.4 .3 5.8 .3-4.7 .3 2 .3-.4 .3 .7 .3 1.3 .3 2.8 .3-1 .3-.2 .3-.7 .3-2.7 .3 .2 .3-.3 .3-4.2 .3 5.1 .3 3.2 .3-2.8 .3 .7 .3-2.9 .3 .8 .3-1.5 .3-3.2 .3 .7 .3 2.5 .3 2.5 .3 3.6 .3-6.2 .3 1.9 .3 4.2 .3-8.5 .3 5.7 .3 .5 .3-3.1 .3-4.5 .3 3.5 .3 5.6 .3-3.7 .3-3.1 .3 6.7 .3-.4 .3-4.6 .3 5.4 .3-23.6 .3 22.1 .3 1.7 .3-1 .3-4 .3-1.8 .3 6.6 .3-8.4 .3 9.3 .3-.5 .3-.3 .3-1.6 .3-8.5 .3 4.7 .3-5.2 .3 7.1 .3 4.1 .3-.6 .3-5.2 .3-.9 .3-5.9 .3 7.6 .3 .6 .3-5.8 .3 3.6 .3 3.9 .3-5.5 .3 8 .3-.5 .3-3.6 .3-.3 .3 2.9 .3-3.6 .3 3.1 .3 2.2 .3-2.8 .3 1.7 .3-9.3 .3 2.9 .3 1 .3-1.4 .3 5.8 .3-1.7 .3 3.5 .3 .2 .3-3.8 .3 2.3 .3-1.8 .3 2.2 .3-.9 .3 1.8 .3-.3 .3-7.7 .3 1.6 .3 3.6 .3-1.7 .3 2.6 .3-13.1 .3 10.5 .3-22.7 .3 26 .3-2.5 .3 1.5 .3-10.8 .3-3.5 .3 8.1 .3 4.7 .3-8 .3 8.3 .3-.4 .3 1 .3-2.7 .3-2.6 .3-3.3 .3 10.7 .3-2 .3-5.1 .3-4.5 .3 9.4 .3-5.2 .3 8.4 .3-3.8 .3-3 .3 5.1 .3 .3 .3-2.1 .3 1.4 .3-6.2 .3-2.2 .3 5.7 .3-8.6 .3 10.3 .3 1.3 .3 1.9 .3-12.9 .3 7.9 .3 2.2 .3-2.9 .3-3.8 .3-16.1 .3 21 .3-1.1 .3 3.2 .3-6.8 .3 9 .3-3.4 .3 2.8 .3-2.9 .3-3.2 .3 6.1 .3-.5 .3-6.7 .3 5.7 .3-1.8 .3 2 .3-.7 .3 2.5 .3-3.1 .3 1.9 .3-5.5 .3 4.9 .3-2.3 .3 2.9 .3-6.6 .3 2.2 .3-2.9 .3 8.8 .3-8.2 .3 7.4 .3-6.6 .3 .2 .3 4.4 .3-.4 .3-4.9 .3-4.5 .3 11.5 .3-10.7 .3 5.9 .3-8.5 .3 12.2 .3-7.6 .3 5.7 .3 2.5 .3-9.4 .3 11.2 .3-4 .3-8 .3 10.1 .3-3.2 .3-17.6 .3 21.1 .3-13.9 .3 9.1 .3 5.8 .3-6.8 .3 3.9 .3-4.8 .3 7.9 .3-1.3 .3-2.5 .3-.4 .3 .1 .3-.3 .3 .4 .3 2.4 .3-1.1 .3-.6 .3-6.3 .3 8 .3-8 .3 5.1 .3-2.3 .3 6.8 .3-4.5 .3 1.4 .3-2.1 .3-.9 .3 0 .3 5.7 .3 0 .3-6.6 .3 .6 .3 2.1 .3-.8 .3 4 .3 1.3 .3-1.5 .3 1.1 .3-1.7 .3 .6 .3-.7 .3-.4 .3-3.1 .3 4.8 .3-1.2 .3-3.4 .3 4.5 .3-1.5 .3 1.1 .3-2.1 .3 .6 .3 1.6 .3 1 .3-1 .3-.3 .3 1.2 .3-1.6 .3 1.5 .3-3.1 .3 2.8 .3-3.8 .3 2.8 .3 .4 .3 .8 .3-1.5 .3-3.6 .3 4.5 .3 .9 .3 .4 .3-3.4 .3 3.5 .3-6.2 .3 2.5 .3-.2 .3-1.3 .3 3.8 .3 1.3 .3-1.5 .3-1.9 .3 3.4 .3-1.3 .3-8.4 .3 5 .3 3.6 .3-5.1 .3 4.8 .3 .1 .3-18.7 .3 15.2 .3 4.2 .3 0 .3-.5 .3-3.8 .3 4.7 .3-3.5 .3 1.5 .3-1.9 .3 3.1 .3-.1 .3-3.9 .3 4.5 .3-4.3 .3 1.3 .3 2.9 .3-.8 .3-4.7 .3 4.1 .3 1.2 .3-2.2 .3 3 .3-4.4 .3 3.9 .3-1.4 .3 1.3 .3 .7 .3-2.2 .3 1.3 .3-1.3 .3-2.3 .3 .7 .3-.4 .3-1.9 .3 4.9 .3-.3 .3-1 .3 .9 .3-3 .3 1.2 .3 1.5 .3-2.3 .3 2.1 .3-2.6 .3 1.9 .3-1 .3 2.8 .3-14.7 .3 13 .3 .3 .3 1.2 .3-.1 .3-2.2 .3 3.1 .3-4.3 .3-1.7 .3 5.2 .3-1.3 .3-.7 .3 2.9 .3-5.3 .3 1.5 .3 .4 .3 3.3 .3-3 .3 1.2 .3 2.1 .3-5.2 .3 4.4 .3 .2 .3-6.3 .3-7.6 .3 11.8 .3 2.3 .3-5.6 .3 1.5 .3-5.5 .3 6 .3 3.7 .3-2.5 .3 .6 .3-6.8 .3 4.7 .3 1.5 .3 1.9 .3-2.3 .3 1.6 .3 1.6 .3-2.4 .3-8.1 .3 9.3 .3-5.1 .3 6.1 .3-5.7 .3 4 .3-1 .3 .3 .3-3.5 .3 5.7 .3 .2 .3-1.3 .3 1.6 .3-3.2 .3-1.8 .3-14.7 .3 18.6 .3-2.1 .3-2.6 .3 4.4 .3-4 .3 .5 .3-4.5 .3 5.6 .3 3.1 .3-.3 .3-6.6 .3 6 .3-2.6 .3-2.3 .3-.3 .3-.7 .3 5 .3 1 .3-8.8 .3 9 .3-10.3 .3 7.8 .3 2.9 .3-3.7 .3 4.6 .3-6.6 .3 .2 .3-6.3 .3 9.7 .3 .7 .3-8 .3 9.7 .3-5 .3-3.3 .3 .8 .3 4.3 .3 3.1 .3-6.2 .3 5.8 .3-1.1 .3-7 .3 8.2 .3-2.3 .3 2.1 .3-9.1 .3 7.2 .3 1.4 .3 .7 .3-5.4 .3 3.9 .3-2.4 .3 1 .3 1.5 .3-3.6 .3 4.3 .3-2.7 .3-.2 .3-.5 .3-2.2 .3-2.4 .3 7.4 .3 1 .3-1.4 .3-2 .3 2.8" fill="none" stroke="#000" stroke-width="0.9" stroke-linejoin="round" clip-path="url(#cM7)"/><line x1="777.1" y1="484.8" x2="777.1" y2="557.8" stroke="#ff00ff" stroke-width="1.4" stroke-dasharray="1.5,2"/><line x1="936.5" y1="484.8" x2="936.5" y2="557.8" stroke="#00a000" stroke-width="1" stroke-dasharray="6,3"/><line x1="945.5" y1="484.8" x2="945.5" y2="557.8" stroke="#0000ff" stroke-width="1" stroke-dasharray="1.5,2"/><line x1="975.5" y1="484.8" x2="975.5" y2="557.8" stroke="#ff0000" stroke-width="1" stroke-dasharray="7.5,2.5"/><line x1="975.5" y1="484.8" x2="975.5" y2="557.8" stroke="#ff00ff" stroke-width="1" stroke-dasharray="1.5,2"/><line x1="1054.5" y1="484.8" x2="1054.5" y2="557.8" stroke="#ff0000" stroke-width="1" stroke-dasharray="7.5,2.5"/><line x1="1093.5" y1="484.8" x2="1093.5" y2="557.8" stroke="#00a000" stroke-width="1" stroke-dasharray="6,3"/><line x1="674.5" y1="500" x2="693" y2="500" stroke="#555" stroke-width="1.2"/><text transform="translate(694,503.5) scale(1.12,1)" font-size="9" text-anchor="start" fill="#000">|J|</text><path d="M668.5 591.1l.3-2.2 .3-.3 .3-2.5 .3 6.5 .3 3.6 .3-3.7 .3 7 .3-8.1 .3 6.2 .3-5.3 .3-3.7 .3 7.1 .3-3.4 .3 5.7 .3-6.4 .3 2.6 .3 .1 .3-6.7 .3 5.1 .3 2.6 .3-3.6 .3-1.8 .3 5.4 .3-.4 .3-.6 .3-3.1 .3 1.4 .3-.5 .3 8.2 .3-9.3 .3 .2 .3 1 .3 2.9 .3-2.4 .3-.7 .3 6.8 .3-2.2 .3-7.3 .3 2.9 .3 5.5 .3-2.9 .3-2.5 .3 3.9 .3-7.1 .3 6.3 .3-4.1 .3 3.2 .3 1.1 .3-.4 .3-1.5 .3 2.5 .3-9.6 .3 11.9 .3-4.7 .3 1.9 .3 .1 .3-4.7 .3 5.8 .3-9.8 .3 2.7 .3 2.5 .3-3.1 .3 1.3 .3 6 .3-2.6 .3 5.8 .3-11.7 .3 2.2 .3 9.5 .3 1.1 .3-2.9 .3-10.7 .3 .4 .3 10.4 .3-6.5 .3-1.2 .3 .3 .3 2.2 .3-.1 .3 3.6 .3-12.7 .3 8.6 .3 1.7 .3-7.7 .3 4.5 .3-1.7 .3 6.2 .3-.9 .3-1.2 .3 4.8 .3-.1 .3-2.4 .3-2.8 .3 .6 .3 1.2 .3 1.4 .3-2.2 .3-.5 .3 3.5 .3 1.9 .3-1.1 .3 1.5 .3-4.2 .3 2.9 .3-5 .3 4 .3-3.9 .3-2.7 .3 7.2 .3-6.6 .3 3.5 .3-1.2 .3 .3 .3-.3 .3 2.9 .3 2.4 .3 .2 .3-4 .3 5.2 .3-14 .3 6.2 .3 6.3 .3-6.5 .3 5.5 .3 2 .3-7.6 .3 .6 .3 2.4 .3-7.6 .3 3.5 .3-1.9 .3 2.3 .3 6.5 .3-1 .3 2.1 .3-.3 .3-3.5 .3-6.8 .3 5 .3 .5 .3-6.1 .3 8.3 .3 .2 .3 4 .3 4 .3-13.1 .3-3.1 .3 1.5 .3 9.5 .3 3.4 .3-17.1 .3 5.8 .3 2.8 .3-6.1 .3 3.4 .3 .2 .3 10.8 .3-11.3 .3-1.3 .3 5.1 .3 2.4 .3 1 .3-8.8 .3-4.7 .3 3.3 .3 5.8 .3-1.4 .3 .4 .3 4.5 .3-2.7 .3 7.2 .3-11.6 .3-1.2 .3-2.5 .3 16.6 .3-5.5 .3-7.9 .3-2.3 .3 7.1 .3 20 .3-18 .3-.3 .3-3.9 .3 3 .3-4.1 .3-.3 .3 .4 .3 2.9 .3 3.1 .3 .5 .3 3.9 .3-4.6 .3-.6 .3 1.9 .3 3.6 .3-12.8 .3 18.1 .3-15.7 .3 7 .3-7.7 .3 3.5 .3 1.1 .3-8.8 .3 6.9 .3-1.8 .3 4.5 .3-1.9 .3-.2 .3-.1 .3 5.7 .3 .4 .3-12.9 .3 4.8 .3-3.8 .3-.6 .3 3.4 .3 6.1 .3-6.2 .3 1.8 .3 12.1 .3-15.3 .3 4.6 .3 5.1 .3-1.6 .3-.3 .3-7.5 .3 9.2 .3-2.9 .3 .2 .3-5.4 .3 2.5 .3-5.6 .3 9.3 .3-3.8 .3 4 .3-6.2 .3 5.7 .3-5.5 .3 10.9 .3-3 .3-1.5 .3-6.1 .3-2.8 .3 14.4 .3-7.9 .3 6.6 .3-16.7 .3 10.1 .3 3.7 .3-4.3 .3 9.5 .3-3.4 .3-11.3 .3-2 .3 3.7 .3 5.2 .3-2.1 .3-2.5 .3 1.5 .3-5.6 .3 .9 .3 4.8 .3-8.1 .3 12.1 .3 5.3 .3-18 .3 6.4 .3-5.7 .3 8.2 .3-6.9 .3-4.6 .3 4.4 .3 5.8 .3 10.3 .3-20.3 .3 16.2 .3 .9 .3-9.3 .3 5.7 .3 1.6 .3-.7 .3-.5 .3 1 .3-1.2 .3 2.3 .3-3.8 .3-3.1 .3 14.5 .3-17.2 .3 8.7 .3-6.5 .3 6.7 .3 5.8 .3-4.7 .3-4 .3 3 .3-5.4 .3 10.5 .3-6.4 .3-1.3 .3-.2 .3 2.3 .3-8.7 .3-1.1 .3 19.3 .3-9.4 .3-5.9 .3-1.9 .3 7.9 .3-.6 .3-5.8 .3 6.6 .3-4.6 .3 2.5 .3 6.6 .3-5.7 .3-13.6 .3 21.1 .3-3.1 .3-12.1 .3 10.6 .3-3.3 .3-14.1 .3 9.9 .3-5.6 .3 15 .3-15.5 .3 6.3 .3-4.2 .3-11.6 .3 17.7 .3 3.4 .3-10.7 .3 18.8 .3-10.7 .3-6.1 .3 12.9 .3 11.4 .3-13 .3 4 .3-7.5 .3 3.3 .3 4.8 .3-5.2 .3 11.4 .3-17.6 .3 4.2 .3-5.5 .3-8.7 .3 20.9 .3-13.7 .3-2.5 .3 12.3 .3-1.9 .3-6.9 .3-5 .3 12.2 .3-12.1 .3 18.1 .3-18.5 .3 10.4 .3-2.9 .3-8 .3 1.9 .3 9.9 .3-1.3 .3 3.3 .3 3.2 .3-16.2 .3-1.4 .3 5.6 .3 2 .3-3.4 .3 6.8 .3-1.8 .3-2 .3 6.2 .3 5 .3-13.3 .3 6.9 .3-9.4 .3 3.8 .3-2.5 .3 9.9 .3-19 .3 22.4 .3-11.8 .3 5.6 .3-2.1 .3-14.5 .3 13.6 .3-6.5 .3 9.4 .3-9.6 .3 6 .3-2.5 .3-3.1 .3 4.3 .3 3.7 .3-.2 .3 1 .3-2.4 .3-11.4 .3 16.5 .3 0 .3-11.7 .3 6.3 .3 .1 .3-5.2 .3 6.6 .3-15 .3 16 .3-7.7 .3 5.5 .3-2.8 .3-.6 .3 13.9 .3-3.9 .3-6.6 .3 2.5 .3-3.9 .3 7.1 .3-8.3 .3-1.5 .3 19.1 .3-7.5 .3 3.2 .3 1.3 .3-20.7 .3 11.4 .3 .6 .3 15.9 .3-17.3 .3-6.5 .3 6.4 .3-.5 .3 4 .3 2.1 .3-10.2 .3 5 .3-2.1 .3 4.7 .3-7.1 .3-9.8 .3 18.6 .3-3.2 .3-2.7 .3 1.2 .3-6.4 .3 8.5 .3-8.5 .3 4.5 .3 5.4 .3-7.1 .3 0 .3-2.8 .3 5.5 .3 3.1 .3-4.4 .3 2.7 .3-.1 .3 .3 .3-2.8 .3-4.6 .3 7.7 .3-.2 .3-.7 .3-7.1 .3 10.5 .3-4.9 .3-1.8 .3 15.8 .3-5.4 .3-2.9 .3-7 .3-2.7 .3 4.8 .3-6.2 .3 5.2 .3-12.1 .3 13.1 .3-.2 .3-4.4 .3-1.2 .3 5.9 .3 .3 .3 6.4 .3-9.2 .3 .7 .3-5.5 .3 5.9 .3 1.2 .3 2.2 .3-4.3 .3-6.4 .3 .6 .3 6.9 .3 1.8 .3-2.8 .3 3.6 .3 .2 .3-1.1 .3-9.3 .3 14.1 .3-.9 .3-7.7 .3-4.5 .3 7.8 .3-.4 .3 1.7 .3-1.9 .3 7.2 .3-7.1 .3 11 .3-8.5 .3-5.6 .3 .4 .3 12 .3-3.4 .3-13.9 .3-7.9 .3 13.9 .3 1.5 .3 7.2 .3-7.8 .3 2.7 .3-.1 .3 1.2 .3 1.6 .3-1.6 .3 17.6 .3-26.7 .3 8.8 .3-5.6 .3-3.2 .3-.3 .3 .8 .3 10.2 .3-2.4 .3-6 .3-2.1 .3 11 .3 1.1 .3-4.3 .3-2.2 .3-1.8 .3 4.3 .3-3.2 .3 .6 .3-.2 .3 .6 .3-2 .3 2.4 .3-7.5 .3 7.6 .3-7.9 .3 19.9 .3-16.1 .3 13.7 .3-4.8 .3 3.1 .3-9.6 .3-4.3 .3 2.7 .3 2.8 .3-5 .3 4.5 .3 10 .3-10.5 .3 6.7 .3-7.9 .3 13.3 .3-6.7 .3-9.6 .3 .3 .3 7.3 .3-3.3 .3 2.2 .3 3.2 .3-9.9 .3 6.1 .3 .5 .3-2.9 .3 4.1 .3-7.6 .3-4.5 .3-2.5 .3 3.3 .3 5.1 .3 3.1 .3 4.4 .3 5 .3-11.7 .3 .2 .3 4.6 .3-1.9 .3 3.9 .3 2.8 .3-11.9 .3-4.8 .3 9.5 .3 3.4 .3-12.9 .3 5.4 .3 3.8 .3-1 .3 .8 .3-9.7 .3 14.9 .3-12.7 .3 4.1 .3 .3 .3 6.1 .3-10.8 .3 12 .3-7.1 .3 2.3 .3 7 .3-.1 .3-18.4 .3 3.4 .3 7.6 .3-.9 .3 8.7 .3-11.5 .3 2.6 .3-3.6 .3 12.3 .3-7.6 .3 .6 .3 2.7 .3 4 .3-4.7 .3 1.4 .3 .5 .3-5.6 .3 9 .3-5.5 .3-2.8 .3 3.1 .3-8.5 .3 8 .3 4.4 .3 5.1 .3-15.1 .3 4.3 .3-1.8 .3 4.9 .3 3.1 .3-7.7 .3 2.8 .3 3.1 .3-.2 .3-1.6 .3-.1 .3-6.4 .3 3 .3-1.3 .3 1.9 .3-1 .3-.9 .3 2.9 .3 .7 .3-2.7 .3-.3 .3 3.2 .3 1.1 .3-4.3 .3 8.8 .3-7.4 .3 0 .3-5.5 .3 8.1 .3-1.4 .3-2.3 .3 1.3 .3 3.8 .3-2.2 .3 .5 .3 .3 .3 .3 .3-3.1 .3-.3 .3 4.2 .3 4.1 .3-1.9 .3-1.3 .3-.7 .3-4 .3-1 .3 1 .3 2 .3 .8 .3 6.7 .3-3.6 .3-3.4 .3-1 .3-1.1 .3 3.7 .3-.5 .3-2.4 .3-4.1 .3 6 .3-5.9 .3 2.1 .3-.9 .3 4.1 .3 1.6 .3-5.7 .3 8.9 .3-2.6 .3-4.9 .3 3.3 .3 0 .3 3.6 .3-3.9 .3 4.9 .3-3.7 .3 6.4 .3-6.2 .3-9 .3 7 .3-.4 .3-.2 .3 2.5 .3-1.4 .3 1.2 .3-3.9 .3-2 .3 7.3 .3-4 .3 5.5 .3-5.3 .3 4 .3-7.7 .3 5.1 .3-7.4 .3 2.6 .3 5.5 .3-3.9 .3 3.5 .3 2.8 .3-6.9 .3 3.8 .3-6 .3 7.8 .3-8.4 .3 4.3 .3-.8 .3 3.6 .3 2.6 .3-5.6 .3 4.4 .3-3.4 .3-5 .3 .9 .3 4 .3-5 .3 2.1 .3 2.4 .3-2.4 .3 4.6 .3-2.8 .3 3.8 .3-4.5 .3 3.5 .3-2.8 .3 2.2 .3-1.5 .3 0 .3 7.6 .3-9.4 .3 7.1 .3-3.2 .3 5 .3-6.5 .3-1.7 .3 2.5 .3 4.2 .3-3.4 .3 .2 .3-3.7 .3 4.4 .3-.7 .3 3.3 .3-7.5 .3 7.1 .3-6.1 .3 1.5 .3-.6 .3-2 .3-.7 .3 .8 .3 .6 .3 2.9 .3-.5 .3-.8 .3 .1 .3 1 .3-.9 .3-2.9 .3 3.8 .3 2.7 .3-8.4 .3 8.4 .3-1.6 .3-5.6 .3 2.8 .3 3.6 .3-2.9 .3 0 .3-2.9 .3 3.7 .3-.1 .3 1 .3-4.3 .3 6 .3 .4 .3-7.2 .3-.5 .3 2 .3 1.3 .3-.9 .3 1.8 .3 1 .3-1.5 .3-.2 .3 4.9 .3-3.9 .3 2.2 .3-3.3 .3 1.9 .3-3.6 .3 9 .3-8.4 .3-2.9 .3 6.6 .3 1.1 .3 .9 .3-.9 .3-3.7 .3 6.1 .3-9 .3 5.6 .3-9.2 .3 5.6 .3-2.2 .3 5.2 .3-1.4 .3-2.6 .3 2.2 .3-.4 .3 1.7 .3-1.7 .3 1.5 .3 2.3 .3-3.2 .3 1.6 .3-2.8 .3 5 .3-6.2 .3 2.7 .3 1.4 .3-3 .3-.2 .3 .4 .3 .3 .3 2.2 .3 1.3 .3 .3 .3-7.2 .3-2.1 .3 11.3 .3-8.2 .3 2.9 .3 .1 .3 7.7 .3-4.3 .3-.6 .3-5.4 .3 .8 .3 3.3 .3-.2 .3-2.2 .3 6.3 .3-3.5 .3-.8 .3 .7 .3-2.5 .3 2 .3-.5 .3-1.3 .3 2.3 .3-2.6 .3 4.5 .3-1.9 .3 .3 .3 4.6 .3 0 .3-6.2 .3-2.3 .3-2.5 .3 3.9 .3-1.8 .3 6.5 .3-4.9 .3-3.2 .3 3.7 .3 6.1 .3-4.3 .3-6.6 .3 8.7 .3 2.3 .3-4.9 .3-2.6 .3 3.1 .3-2.6 .3 .8 .3-2.3 .3 8.3 .3-1 .3-1.9 .3 0 .3 2.3 .3-1.3 .3-3.7 .3 .5 .3 1.5 .3-.2 .3 .5 .3-15.9 .3 16.2 .3 .6 .3-6.9 .3 3 .3-.8 .3 2.1 .3-5.1 .3 2 .3 6 .3-7.6 .3 2.7 .3 2.8 .3 .6 .3 2.1 .3-6.2 .3 0 .3-2 .3 1.2 .3 2.9 .3 2 .3-2.1 .3-.1 .3 1.2 .3-.7 .3 .9 .3 1.2 .3-1.7 .3-1.6 .3-4.2 .3 4 .3 5.8 .3-5.4 .3-.1 .3 2.7 .3-3.3 .3 4.9 .3-2.6 .3-3.3 .3 2.6 .3 4.7 .3-3.3 .3 3.3 .3-6.9 .3 3.3 .3-1.9 .3 5.4 .3-1.6 .3 2.5 .3-4.1 .3-.3 .3-1.9 .3-2 .3 4.9 .3-4.8 .3 6.9 .3-.7 .3-2.7 .3 3.6 .3-2.2 .3 1 .3 3.4 .3-5.8 .3 .6 .3-1.7 .3-4.1 .3 12.1 .3-11.1 .3 0 .3 5.3 .3-3.2 .3 4.7 .3-5.1 .3 3.5 .3 .4 .3-5.7 .3 5.5 .3-1.5 .3 .1 .3-4.5 .3-.1 .3 11.5 .3-8.9 .3 2.2 .3-5.6 .3 .1 .3 2.1 .3 6.9 .3-4.3 .3-.1 .3 4.9 .3 .9 .3-10 .3 7 .3 .5 .3-6.1 .3-1.7 .3 2.4 .3-2.7 .3 6.6 .3-.3 .3-3.3 .3 1.4 .3 2.1 .3-3.6 .3 3.1 .3-3.3 .3 3.9 .3-.2 .3 .1 .3 1 .3-3.2 .3 .1 .3 5.7 .3-6.1 .3 .1 .3 6.7 .3-5.3 .3 .6 .3 2.2 .3-8.3 .3 2.7 .3 4.5 .3-1.5 .3-5.4 .3-1.2 .3 8.9 .3-1.8 .3-7.2 .3 9.7 .3-6.8 .3-2.9 .3 8.1 .3-1.9 .3-1.8 .3 2.3 .3 2.3 .3-9.9 .3 6.3 .3-2.9 .3 1.5 .3 2.2 .3 2.4 .3-1.8 .3-5.7 .3 4.3 .3-12.6 .3 7.2 .3 5.6 .3 5.6 .3-.6 .3-6.9 .3-1.3 .3 6.6 .3-4 .3 3 .3-2.3 .3 .4 .3-1.5 .3 1 .3-.8 .3-.7 .3 2.5 .3-.9 .3 2.9 .3-.5 .3-.9 .3-.2 .3-.8 .3 5.9 .3-6.6 .3 2.3 .3-4 .3 1 .3 .5 .3 2.2 .3 1.4 .3-2.5 .3-4.6 .3 1.3 .3 6.2 .3-5.1 .3 1.2 .3 .5 .3 1.1 .3 3.5 .3-3.4 .3 1.3 .3-4.9 .3-.9 .3 2 .3-1.4 .3 4.3 .3-3.7 .3 3.6 .3 1.2 .3-4.4 .3 .4 .3 4.5 .3 2.5 .3-5.3 .3-2.3 .3 3.3 .3-.8 .3 7.9 .3-5.6 .3-3.5 .3-4.7 .3 5 .3-.9 .3 1.2 .3 2.4 .3-4.9 .3 6.1 .3-7.5 .3 1.7 .3 2.7 .3 2.1 .3-1.8 .3-3.2 .3 5.7 .3-5.7 .3-1.7 .3 3.9 .3 3.8 .3-1.6 .3-.6 .3 .7 .3-3.4 .3 .1 .3-2.6 .3 5.8 .3 1.1 .3-.7 .3-4.9 .3 6.3 .3-2.1 .3-1.9 .3 3.6 .3-.6 .3 .2 .3 2.2 .3-6.6 .3-.8 .3 6.6 .3-11.2 .3 8.1 .3-2.9 .3-2 .3 3.6 .3 4.6 .3-5.4 .3 2.4 .3-7.1 .3 .6 .3 7 .3-.3 .3-.4 .3-.6 .3 1.8 .3-2.6 .3 .8 .3 2.4 .3-6.9 .3 .6 .3 6.4 .3-3.7 .3 1 .3 6.3 .3-8.1 .3 3.5 .3-1.7 .3-1.6 .3 2.1 .3-.5 .3-2.4 .3 3.9 .3-2.2 .3 2 .3-3.9 .3-4.2 .3 5.1 .3 2.4 .3 2.9 .3-1.1 .3-8.8 .3 10.8 .3-6.6 .3 4.8 .3-3.8 .3-4.1 .3 2 .3 1.8 .3 1.5 .3 1.3 .3-1.6 .3-.2 .3-2.6 .3 5.6 .3-7 .3 14.9 .3-6.5 .3-8.3 .3 1.2 .3 4.8 .3-2 .3-7.1 .3 5.1 .3 .5 .3-.3 .3 5.1 .3-4.7 .3 4.8 .3-1.9 .3 0 .3 .5 .3-2.1 .3 1.5 .3-4.9 .3 2.4 .3-3.3 .3 1.7 .3 .8 .3 4.6 .3-3.3 .3-2.5 .3 3.6 .3-.7 .3-.7 .3 3.1 .3-7.3 .3 4.5 .3 2.7 .3-1.9 .3 3.8 .3-6 .3 6.2 .3-.6 .3-1.8 .3-2.8 .3 2.1 .3 .9 .3-1.8 .3-6.3 .3 6.1 .3-2.1 .3 5.9 .3-3 .3-3.6 .3-3.2 .3 1.1 .3 2.5 .3 6.7 .3-3.6 .3 2.6 .3-3.2 .3 1 .3 2.7 .3-5.8 .3 4 .3 4.4 .3-5.7 .3-.2 .3-4.3 .3 4.7 .3-6.6 .3 3.3 .3 4.5 .3-9.8 .3 5.9 .3 4.8 .3-5.8 .3 1.3 .3-1.2 .3 3.7 .3-1.6 .3 2.9 .3-3.5 .3-2 .3 4.4 .3 .4 .3-1.6 .3-1.5 .3 7 .3-5.1 .3-5.9 .3 3.8 .3-.2 .3-1.3 .3 5 .3 .1 .3-1.2 .3-.5 .3-2.4 .3-2.3 .3-.1 .3 1.9 .3 0 .3 1.9 .3-3.1 .3-1.7 .3 3.3 .3 .2 .3 3.4 .3-2.5 .3-1.8 .3 6.7 .3-7 .3 3.1 .3 3.6 .3-3.7 .3 2.9 .3-3.1 .3 1.5 .3-3.3 .3 2.3 .3 .5 .3-.9 .3-1.6 .3 6.2 .3-1.1 .3-.5 .3-1.6 .3-3.1 .3 5.1 .3-1.1 .3-.7 .3 1.4 .3-4 .3 2.2 .3-3.1 .3 .1 .3 2.2 .3 .3 .3-.1 .3 0 .3-2.2 .3 2.2 .3 .6 .3-2.8 .3-1.9 .3 2.5 .3-1.1 .3 .6 .3 6.9 .3-4.3 .3-.4 .3 1.9 .3-1.5 .3 1.8 .3-3.6 .3-2.8 .3 6.5 .3 1.3 .3-6.4 .3 5.2 .3-1.9 .3 .6 .3-6.3 .3 8.9 .3-2.3 .3-2.3 .3-.6 .3-2.9 .3 2.6 .3 1.1 .3 .9 .3-2.1 .3 4.1 .3-4.1 .3-4.5 .3 4.1 .3 .9 .3 6.5 .3-4.7 .3-.4 .3 .4 .3-4 .3 1.5 .3-.6 .3-2.1 .3-2.1 .3 5.4 .3 1.2 .3 .2 .3 .8 .3 1 .3-3.2 .3 6.5 .3-2.4 .3-1.7 .3 .8 .3 2.2 .3-3.2 .3 1.4 .3-2.8 .3-1.5 .3 1 .3-.6 .3-.8 .3 2.9 .3-6 .3 3.4 .3 .4 .3 5.2 .3-4.1 .3 1.8 .3-.8 .3-3.9 .3 .2 .3 6.4 .3-7.1 .3 4.5 .3 2.4 .3-6.6 .3 4.6 .3-.1 .3 19.4 .3-17.7 .3 .2 .3-.6 .3-3.8 .3 2.2 .3 .2 .3-5.3 .3 6.3 .3 1.8 .3-5 .3 .1 .3 2.5 .3-4.3 .3 4.8 .3-4.4 .3 .7 .3 .4 .3 3.6 .3-1.7 .3-2.2 .3-1.3 .3 4.2 .3-.1 .3-6.7 .3 2.5 .3 2.1 .3 6.8 .3-2.6 .3-3.7 .3 4.8 .3-5.8 .3 3.4 .3-3.5 .3 4 .3-4.3 .3 1.5 .3 3.2 .3-2.8 .3-3.3 .3 2 .3 1.2 .3-1.2 .3 2 .3-.8 .3-2.7 .3 1.6 .3 4.8 .3-4.6 .3 5.5 .3-3.4 .3-2.4 .3 2.5 .3 .5 .3 1.6 .3-11.6 .3 3.6 .3 7.3 .3-4.3 .3 1 .3 1.4 .3-1.5 .3 .4 .3 .3 .3-3.2 .3 6.6" fill="none" stroke="#0000ff" stroke-width="0.9" stroke-linejoin="round" clip-path="url(#cM8)"/><path d="M668.5 591.3l.3 5.5 .3 1.6 .3-3.4 .3-4 .3 4.5 .3-5.7 .3 3.3 .3-2.4 .3 4.9 .3-8.1 .3 4.9 .3-.4 .3-3 .3-1.1 .3 5.4 .3 1.4 .3 3.4 .3-3.7 .3-2.1 .3 5.9 .3-6.1 .3-.1 .3 2.7 .3-3 .3-1.2 .3 8.9 .3-7.8 .3 12.3 .3-13.2 .3-2.6 .3-.8 .3 8.5 .3-1.8 .3-3.3 .3 1.6 .3 1.4 .3 3.6 .3-3.7 .3-2.4 .3 7 .3-4.1 .3-2.4 .3-.8 .3-2.7 .3-.7 .3 6 .3-1.2 .3-.2 .3 1.1 .3 3.6 .3-5.2 .3 2.1 .3-4.3 .3 8.4 .3-4.6 .3 4.9 .3-9.6 .3 10.6 .3-7 .3 1.8 .3 1.7 .3-9.1 .3 2.7 .3 5.3 .3 6.4 .3-4.9 .3-7.2 .3 .1 .3 10.5 .3-7.6 .3 6.7 .3-13.7 .3 7.4 .3-1.9 .3-2.9 .3 8.2 .3 3.2 .3-8.1 .3 1.6 .3 4 .3-6.4 .3 4.8 .3 .3 .3-2.4 .3 1.7 .3-3.5 .3-2.7 .3-1 .3 8.1 .3-3.7 .3 5.6 .3-2.9 .3 3.5 .3-2.3 .3-7.2 .3 5.7 .3-.5 .3 9.8 .3-11 .3-4.4 .3 3.4 .3-.9 .3 3.8 .3 8.7 .3-16.3 .3 10.9 .3-4.9 .3-1.7 .3 2.6 .3 1.8 .3 .1 .3 3.5 .3-2.5 .3-3.7 .3-4 .3 7.5 .3 .2 .3 .1 .3-.5 .3-5 .3 4.6 .3-3.4 .3 9.3 .3-13.6 .3 1.5 .3 4.1 .3 1.6 .3-2.4 .3-8.5 .3 6.4 .3-6.5 .3 7.2 .3-3.9 .3 9.1 .3-3.1 .3-3.7 .3-3 .3 11.5 .3-7.9 .3 6 .3-12.8 .3 11.9 .3 3.4 .3-9.1 .3-1.6 .3 2.1 .3 .5 .3 4.4 .3-5.6 .3 .7 .3-.7 .3 9.5 .3-.6 .3 1.6 .3-8.4 .3-.2 .3 6.3 .3 .2 .3-8.4 .3 6.2 .3-3.4 .3-1.9 .3 .4 .3 1.5 .3 3.7 .3-1.3 .3 .8 .3 1.4 .3 2 .3-7.7 .3 2.1 .3 5.2 .3-4.7 .3-.4 .3 8.7 .3-12.2 .3 12.3 .3 2.9 .3-9.9 .3-7.1 .3 5.4 .3 1.5 .3-3 .3 9.1 .3-6.9 .3-3.9 .3 10.6 .3-10.9 .3 2.2 .3-1.9 .3 6.2 .3 .6 .3-7 .3 1.5 .3 1.9 .3 2.2 .3-2.9 .3 3.7 .3-8.1 .3 8.5 .3-.3 .3-2.1 .3 6 .3 14.7 .3-19 .3-9.7 .3 10.5 .3 .5 .3-6.3 .3-3.3 .3 3.1 .3-2.8 .3 9.3 .3-5.2 .3 1.7 .3-10.4 .3 7.8 .3-1 .3 12.1 .3-6.5 .3-.6 .3-5.9 .3-5.4 .3 8.5 .3-1.6 .3 9.2 .3 .9 .3-2.6 .3-7.6 .3 9 .3-5.8 .3-9.1 .3 12.7 .3-3.4 .3-3.1 .3 .9 .3-4.3 .3 7.8 .3-7 .3 4.1 .3 3.3 .3-4.1 .3 1.6 .3-5.6 .3 7.1 .3 4.5 .3-4.8 .3-1.3 .3 5.6 .3-9.3 .3-1.2 .3 7 .3-3.4 .3 4.1 .3-6.9 .3-8.5 .3 12 .3 5.8 .3-1.3 .3-2.1 .3 3.2 .3-9.1 .3 5.1 .3-3.4 .3-3.7 .3 5.8 .3-2.5 .3 5.3 .3-13.8 .3 13.5 .3-1 .3 3.9 .3 4.2 .3-16.8 .3 2.6 .3 3.1 .3 3.4 .3-10.1 .3 9.3 .3 8.1 .3-2.2 .3 .3 .3-10.9 .3-9.9 .3 5.6 .3 11.6 .3-2.9 .3 .7 .3 6 .3-7.6 .3-2.4 .3-6.3 .3 10.7 .3 21.6 .3-19.6 .3 6.3 .3-12.7 .3 1 .3 7.6 .3-12.2 .3 .3 .3 5.9 .3-4.9 .3 1 .3 7.1 .3-10 .3 6.6 .3 1.4 .3-5.9 .3 2.4 .3 3 .3-.3 .3 5.7 .3-6.6 .3 8.5 .3-2.7 .3-2.5 .3-13.4 .3 20.6 .3-18.3 .3-1.7 .3 17.6 .3-5.8 .3 9.2 .3-9.3 .3 1.4 .3-5.2 .3-.2 .3 9.9 .3-12.5 .3 .1 .3 7.1 .3-8.4 .3 3.4 .3 0 .3 2.2 .3-7.9 .3 18.7 .3-7 .3-12.4 .3 2.3 .3 1.9 .3-1.7 .3 0 .3 9.5 .3-12.5 .3 6 .3 6.5 .3-9.3 .3 8.1 .3 .4 .3-17.5 .3 21.3 .3 2 .3 .2 .3-8 .3-8.1 .3 9.3 .3-3.2 .3 9.1 .3-6 .3 8.4 .3-9 .3-9.1 .3 4.1 .3 11.1 .3-9.3 .3 20.4 .3-18.9 .3-3.3 .3 .4 .3 3.4 .3-4.5 .3 7.7 .3-4.5 .3 1.1 .3 8.9 .3-8 .3-20.1 .3 23.6 .3-15.6 .3 12.6 .3-15.3 .3 27.4 .3-23.5 .3 8.6 .3-1.8 .3 4.4 .3 4.2 .3-8.7 .3 4.6 .3-.7 .3-1.1 .3-4.9 .3 14.6 .3-14.1 .3 3.5 .3 3.8 .3 .2 .3-.6 .3-13.9 .3 12.8 .3 1.7 .3-.7 .3 1.3 .3-4.9 .3 3.5 .3-2.3 .3 .2 .3-.3 .3-6.9 .3 9 .3-6.6 .3 .3 .3 10.5 .3-10.2 .3-1.8 .3 15.8 .3-.3 .3 1.4 .3-9.2 .3-4.1 .3-.1 .3-1.3 .3-.5 .3 14.6 .3-12.2 .3-3.8 .3 8.5 .3 10.1 .3-17 .3 13.5 .3-8.1 .3-3.4 .3 5.8 .3-.4 .3 1.5 .3 2.3 .3-4.2 .3-1.1 .3-4.2 .3 17.2 .3-10.2 .3-5.5 .3 7 .3-7.4 .3 7 .3 7.5 .3-10.1 .3 1.5 .3 1.8 .3 0 .3-6.6 .3-3.5 .3 .7 .3 1 .3-.5 .3 5.2 .3 4.4 .3-7.6 .3 2.2 .3 .7 .3 2.6 .3-5.9 .3 2.9 .3-6.2 .3 .3 .3 5 .3-3.4 .3 4.9 .3-9.6 .3 12.4 .3-4.2 .3 .1 .3-1 .3 3.2 .3 .4 .3-2.8 .3-3.9 .3-3.8 .3 4.3 .3 5.8 .3 3.4 .3-5 .3-9 .3 5 .3 7.4 .3-4.7 .3-4.6 .3 4.1 .3-5.1 .3 8.3 .3-3.6 .3 7 .3 .3 .3-6 .3 13.2 .3-8.9 .3-10.8 .3 7.6 .3-1.4 .3-4.8 .3 3.3 .3-2.6 .3 4.1 .3 1.1 .3-5.8 .3 12.8 .3-4.1 .3-5.9 .3-1.3 .3 8.1 .3-4.1 .3-2.2 .3 1.3 .3 .5 .3 4.1 .3 2 .3-6.3 .3-2.3 .3 .2 .3 2.3 .3-.7 .3 2.1 .3 5.8 .3-5.8 .3-5.7 .3 .3 .3 3.7 .3-3.5 .3 1 .3 9 .3-9 .3 3.2 .3 4.1 .3-.9 .3-.3 .3-5.3 .3-2.5 .3 6 .3 2 .3 4.5 .3-11.4 .3 6.6 .3 3.2 .3-7.1 .3-4 .3 3.4 .3-1 .3 8.5 .3-2.4 .3-2.9 .3-.1 .3-6.6 .3 9 .3-5.1 .3 3.2 .3-3.1 .3 2 .3-2 .3 8.8 .3-5.7 .3-6.7 .3 5.9 .3-3.1 .3-3 .3 4.2 .3 .5 .3 2.4 .3-4.6 .3 1.7 .3 6.7 .3-5.2 .3 4.6 .3 5 .3-10.3 .3 .6 .3 1.6 .3 2.2 .3-7.4 .3 10.2 .3-7 .3 5 .3-6.9 .3 .7 .3-4.5 .3 .1 .3 1.4 .3 4.9 .3 3.6 .3-2.1 .3-13.6 .3 14.9 .3 4 .3-7.1 .3 3.2 .3-2.4 .3-3.2 .3 1.3 .3-6.8 .3 11.3 .3 4.6 .3-10 .3-.5 .3 11.7 .3-12.7 .3 2.7 .3 5.8 .3-4.8 .3-7.9 .3 5.4 .3 2.1 .3 2.1 .3-1.4 .3 5.8 .3-2.8 .3-6.3 .3-.2 .3 6.4 .3-4 .3-2.3 .3 1.6 .3 6.9 .3-5.9 .3-3.9 .3 2.8 .3 0 .3 4.7 .3-5.8 .3-.1 .3-.8 .3-.3 .3 12.1 .3-2.4 .3-3.6 .3 1.6 .3-3.6 .3 .6 .3 3.8 .3 3.9 .3-3.7 .3 1.7 .3-12.4 .3 13.6 .3-10.9 .3 5.1 .3-2.4 .3 .2 .3 3.4 .3 .2 .3-5.9 .3-1 .3 2.7 .3 1.8 .3-2.1 .3 10.8 .3-1.1 .3-6 .3 3.4 .3-3.2 .3-4.6 .3 3.9 .3-3 .3-.6 .3 3.6 .3-3.4 .3-3.2 .3 10 .3-5.3 .3 1.2 .3-.7 .3-1.5 .3-4.9 .3 11.3 .3-7.9 .3 1.6 .3 .1 .3-2.8 .3-3.1 .3 5.8 .3-2 .3 6.1 .3-4.4 .3 3.4 .3-3.7 .3 3 .3 2.8 .3-1.5 .3 3.2 .3-7.5 .3-1.3 .3-.4 .3 1.9 .3-3 .3 8 .3-5.7 .3-1.1 .3-1.8 .3 1 .3 2.3 .3 3.5 .3-.9 .3-1 .3 3.6 .3-5.7 .3 2.3 .3-.9 .3 4.2 .3-.4 .3-.1 .3-2.3 .3-1.8 .3 4.5 .3-9.4 .3 7.1 .3 4.5 .3-7 .3 5.6 .3-2.4 .3-5 .3-.9 .3 6.8 .3-2.4 .3 1.2 .3-6.4 .3 4.5 .3-1.6 .3 4 .3 .3 .3-2.7 .3 2 .3 1.8 .3-1.5 .3-.1 .3-3.9 .3-2.7 .3 .7 .3 5.4 .3 .7 .3-2.5 .3 2.2 .3 2.1 .3-5.1 .3-1.6 .3-2.9 .3 8.7 .3-1 .3-2.3 .3-3.6 .3 6.2 .3 0 .3-3 .3-13.4 .3 14.1 .3-7.1 .3 5.8 .3-.3 .3 2.7 .3-2.9 .3 3.8 .3-8.8 .3 6.8 .3-3.2 .3 8 .3 2.7 .3-5.7 .3-.2 .3-1.6 .3 2 .3 3.3 .3-7.8 .3 .8 .3 1.6 .3 1.5 .3-3.7 .3 3.6 .3 1.4 .3-2.6 .3 4.3 .3-6.1 .3 6.7 .3-6.9 .3-1.1 .3 .1 .3-4.3 .3 6.7 .3 1 .3 4.1 .3-3.2 .3-3.3 .3 1.2 .3 .5 .3-3.5 .3 3.7 .3 1.1 .3-.8 .3-1.1 .3 1.7 .3 4.1 .3-3.6 .3-7 .3 9.7 .3-4.6 .3-3.5 .3 5.1 .3-.3 .3-4.5 .3-.9 .3 2.3 .3 5.1 .3-3.4 .3 5 .3-6.6 .3 1.5 .3 3.5 .3-10.3 .3 4.8 .3 2.3 .3-2.6 .3 5.5 .3-1.2 .3-.7 .3 2.1 .3-6.9 .3 5.1 .3-1.6 .3-1.7 .3 5.5 .3-2.7 .3-.1 .3 2.5 .3-4.9 .3 4.3 .3-2.5 .3-3.9 .3 5.9 .3 .7 .3-2 .3-1.1 .3 4.5 .3-5.7 .3 5.2 .3-1.9 .3-7 .3 7.1 .3-3 .3 1.8 .3 .9 .3-5.7 .3 5.3 .3-2.5 .3 2.1 .3 1.2 .3 .9 .3-4.6 .3 2.1 .3 1.9 .3-3 .3-2.2 .3 1 .3 .6 .3-.2 .3 4 .3-3.2 .3 1.9 .3-6 .3 7.1 .3-1.1 .3-4.3 .3 3.8 .3 1.8 .3 1.6 .3-7.2 .3 6.5 .3-7.5 .3 9.5 .3-7.8 .3-.4 .3 3.5 .3-.4 .3 .5 .3-4.2 .3 5.7 .3-5.4 .3 .2 .3 6.1 .3-4.4 .3 .8 .3 .7 .3-5.8 .3 7.7 .3-4.3 .3 2.8 .3-1.8 .3 3.7 .3 2.2 .3-9.1 .3 6.5 .3-2.3 .3-.2 .3-4.3 .3 2.9 .3-.4 .3 3.9 .3 .5 .3-5.1 .3 7.8 .3-5.5 .3-3.1 .3 5.1 .3-7.3 .3 8.8 .3-7.6 .3 4.2 .3 3.6 .3-4.1 .3-2.4 .3 4.9 .3-1.8 .3-2.7 .3 .7 .3 3.6 .3 .5 .3 1.1 .3 0 .3-7.7 .3 .6 .3 6.5 .3 .3 .3-1 .3 1.8 .3-1.9 .3-1.9 .3 .9 .3-5.7 .3 .3 .3 4.7 .3-.8 .3-2.1 .3 1 .3 1 .3 2 .3-.6 .3 4.2 .3-.3 .3-8.2 .3 4.1 .3 4 .3-5 .3 4.1 .3-4.4 .3-1.7 .3 1.1 .3 .5 .3-1.3 .3 2.9 .3-1.9 .3 .2 .3-.6 .3 6.1 .3-5.2 .3 2.3 .3 1.3 .3-3.5 .3-3.9 .3 3.6 .3-1.3 .3 2.2 .3 1.5 .3 .2 .3-1.2 .3-4.1 .3 7.7 .3 2.2 .3-5 .3 3 .3-5.3 .3 .4 .3-4.7 .3 4.1 .3-.7 .3-.6 .3 8.1 .3-6.8 .3 1.5 .3-3.4 .3 .1 .3 2.5 .3 1 .3 1.8 .3-1.3 .3 1.9 .3-1.5 .3 2.3 .3-5.1 .3 10.8 .3-9.8 .3 1.5 .3-4.7 .3 5.4 .3-1.5 .3 6.3 .3-15.9 .3 1.9 .3 5 .3 3.6 .3-.7 .3-.8 .3 2.5 .3-2 .3-7.8 .3 9.4 .3-4.8 .3 1.3 .3 2.1 .3 6.4 .3-5.4 .3-1.3 .3 .8 .3 2.4 .3-3.2 .3 .4 .3 2.2 .3 .3 .3-3.8 .3 7.5 .3-6.5 .3-3.3 .3 5.1 .3-5.9 .3-1.2 .3 9.9 .3-3.2 .3 .1 .3-3 .3 1.2 .3-1.9 .3 2.1 .3 1.7 .3-.5 .3-3.1 .3-1.5 .3 6.6 .3 2 .3-9.7 .3 4.9 .3-3.7 .3 1.8 .3 5.1 .3-2.3 .3-.9 .3-.8 .3 6.4 .3-7.3 .3 3.1 .3 3.4 .3-5.9 .3 .6 .3-5.1 .3 9.5 .3-2.5 .3 1.7 .3-4.6 .3-1.3 .3 1.8 .3-3 .3 .5 .3 8.6 .3-10.1 .3-2.5 .3 10.6 .3-3.4 .3-1.3 .3 4.9 .3-.1 .3-6.8 .3 8.2 .3-10.1 .3 4.4 .3 10.8 .3-3.7 .3-11.3 .3 2.9 .3 3.1 .3 1.5 .3-4.4 .3 .8 .3-1 .3 5.1 .3-4.2 .3 1.4 .3 2.9 .3-3.4 .3 3 .3-.4 .3 3.9 .3-9.1 .3-.2 .3-1.6 .3 11.1 .3-6.7 .3 4.2 .3-2.9 .3-1.1 .3 4.1 .3-3 .3 1.8 .3-.4 .3-4.4 .3 2.1 .3-4.3 .3 5.1 .3-1.2 .3-.4 .3-1.4 .3 2.8 .3-2 .3 3 .3-4.4 .3 1 .3 1.7 .3-2 .3 6.6 .3-2.8 .3-.6 .3-.3 .3-4.9 .3-1.9 .3 3.8 .3 3.7 .3-3.6 .3 1 .3-1.1 .3 5.1 .3-4.5 .3 3.1 .3-4.6 .3 1.2 .3 5.6 .3-2.9 .3 2.5 .3-5 .3-2.9 .3 6.7 .3-3.4 .3 3.8 .3 1.2 .3 .2 .3-4 .3 3.5 .3-2.4 .3-.6 .3-2.5 .3 3.4 .3 2.4 .3-5.4 .3 1.1 .3-1.8 .3 8.4 .3-1.1 .3-7.1 .3 2.3 .3 2 .3-8.3 .3 2 .3 5.1 .3 1.4 .3-7.5 .3 7.1 .3-5 .3 7.9 .3 .4 .3-5 .3-1.4 .3 1.4 .3-.7 .3-3.4 .3 .9 .3 2.3 .3-2.3 .3 6.5 .3 1.2 .3-2.6 .3-1 .3 1.1 .3-2.3 .3 3.1 .3 1.2 .3-8 .3 .5 .3 1.9 .3 3.9 .3-.9 .3-2.6 .3-3.6 .3 5.3 .3 3 .3-5.1 .3 2.1 .3-1.7 .3 4.9 .3-6.7 .3 1.1 .3-.1 .3 5.3 .3-1.6 .3 3 .3-7.1 .3 9 .3-4.2 .3 .7 .3-4 .3 1.5 .3 2.5 .3-6 .3 .3 .3 3.1 .3 6.7 .3-6.3 .3-2.1 .3-.8 .3-3.4 .3 7.3 .3-2.7 .3 6.1 .3-4.1 .3 0 .3-.7 .3-2.1 .3 3.2 .3-1.9 .3-2 .3 2.8 .3 1.3 .3-1.8 .3-1.8 .3-1.5 .3 5.3 .3-3.7 .3 .6 .3 6 .3-7.6 .3 4.1 .3-.7 .3-1.2 .3-5.3 .3 6.8 .3-4.2 .3-.8 .3 4.7 .3-1.3 .3 1.5 .3-1 .3 3.5 .3-8.3 .3 7.2 .3-4.9 .3 1.8 .3 7.7 .3-5.7 .3-2 .3-1.8 .3 2.9 .3 1.3 .3-3.7 .3 3.9 .3-3.6 .3-3.1 .3 1.4 .3-1.7 .3 4.4 .3 4.1 .3-4 .3 4.3 .3-4.5 .3-1.4 .3-1.8 .3 7.6 .3-3.3 .3-1.8 .3-1.3 .3 3.4 .3 5.3 .3-3.8 .3-.1 .3-.9 .3-2.5 .3 8 .3-7.5 .3 .4 .3 2.1 .3-3.6 .3-1.3 .3 4 .3 .4 .3 .6 .3-6.5 .3 4.4 .3-.5 .3-1.2 .3 3.5 .3 1.6 .3 5 .3-8.2 .3 6 .3-8.9 .3 4.6 .3-5.6 .3 4.2 .3-1 .3 1.9 .3-5.8 .3 5 .3-4.8 .3 4 .3-6.7 .3 8.9 .3 .6 .3 .7 .3-2.4 .3 5.3 .3-7.2 .3-.8 .3 2.7 .3 3.5 .3-1.3 .3 .5 .3 1.2 .3 1.9 .3-3.7 .3-7.3 .3 10.8 .3-9.6 .3 8.1 .3-2 .3 1.9 .3-7.7 .3 7.9 .3-8.6 .3 3.6 .3-2.1 .3 4.5 .3-2.3 .3 .4 .3-2.9 .3 4.2 .3-1.7 .3 1.1 .3 3.1 .3-.7 .3-2.1 .3-.3 .3 4.2 .3 0 .3-5.9 .3 4.6 .3-4.8 .3 4.1 .3-2 .3-.3 .3-3.5 .3 3.9 .3-4 .3 2.1 .3 2.3 .3-5.6 .3 3.3 .3-3.5 .3 1.1 .3 2.4 .3 4.7 .3-3.5 .3 3.1 .3-5.8 .3 .2 .3 3.9 .3-3.4 .3 2.4 .3-5.1 .3 .2 .3 1.6 .3 5.3 .3-2.3 .3-2 .3 3 .3-4.6 .3 3.7 .3 .2 .3 2.8 .3-1.2 .3-2.9 .3 2.6 .3-2.9 .3 2.9 .3 1 .3-2.5 .3-3.3 .3 3.6 .3-1.4 .3-2.4 .3 1.2 .3 2.9 .3 .1 .3-.3 .3 1 .3-3.5 .3 .5 .3-.8 .3 1.4 .3 4.1 .3-4.9 .3-1 .3 3.3 .3 1.4 .3-.9 .3-.8 .3-2.1 .3 0 .3 2.8 .3-.1 .3 3.4 .3-3.7 .3 1.3 .3-4.7 .3 6.1 .3-8 .3 5.4 .3 .4 .3-2.3 .3-2.5 .3 3.9 .3-1.1 .3 1.2 .3 .6 .3 3.1 .3-5.6 .3 2.2 .3-3.8 .3 4.1 .3 1.4 .3 1.8 .3-4.2 .3 3.6 .3-7 .3 .9 .3 5.4 .3-6.8 .3 4.5 .3-3.8 .3 2.8 .3-1.4 .3 .8 .3 5.9 .3-4.5 .3 .7 .3-4.2 .3 4.2 .3 1.6 .3-5.6 .3 3.2 .3 4.1 .3-9.6 .3 8.6 .3-3.4 .3 3 .3-5.6 .3 1.8 .3-3.3 .3 6.5 .3-3.2 .3-4.9 .3 6.9 .3-7.6 .3 4.8 .3-.8 .3 2.1 .3-4.8 .3 3.5 .3-1.1 .3-1.7 .3 5.1 .3-1.5 .3 1.8 .3 .1 .3 1.1 .3-2.6 .3 .7 .3 1.1 .3-1 .3 .4 .3-4.5 .3 5.2 .3 .5 .3 .2 .3-.6 .3-.3 .3-1.1 .3 1.9 .3-1.2 .3-3.8 .3-1.7 .3 5.7 .3 1.5 .3-1.6 .3-.4 .3 1.1 .3-1.7 .3-1.9 .3 5.8 .3-4.2 .3 3.5 .3-1.7 .3-5" fill="none" stroke="#00ee00" stroke-width="0.9" stroke-linejoin="round" clip-path="url(#cM8)"/><path d="M668.5 597.4l.3-3.2 .3 2.5 .3 1 .3-5.7 .3-5.6 .3 .1 .3 12.5 .3-8.7 .3 3.5 .3 2 .3-6.3 .3 4 .3-2.9 .3 2.5 .3 4.2 .3-.6 .3 3 .3-4.3 .3-5.3 .3 4.1 .3-2.2 .3-2.5 .3-1.3 .3-.2 .3 13.5 .3-9.3 .3 2.9 .3 5.4 .3-5 .3-1.5 .3 3.3 .3-2.5 .3 1.9 .3-6.2 .3 9.4 .3-12.4 .3 7 .3 2.8 .3-3.2 .3-2.4 .3 4.2 .3-4.8 .3-1.5 .3 .1 .3 1.3 .3 4.5 .3-2.8 .3 6 .3-5.3 .3-1.5 .3-1.2 .3 3.7 .3-2.2 .3-3.5 .3 8.1 .3-2.9 .3 5.5 .3-1 .3-.6 .3 2 .3-4.1 .3-7.5 .3 5.1 .3 1.1 .3-2.9 .3-.9 .3 4.4 .3-2.9 .3 5 .3-1.9 .3-5 .3 1 .3 3.5 .3-.8 .3-3.8 .3-.1 .3 4.5 .3-1.9 .3-.2 .3-3.1 .3 2.9 .3 .4 .3-1.8 .3 3.2 .3-3.2 .3-6.3 .3 5.5 .3 5.3 .3-.5 .3 1.5 .3-1.7 .3-2.3 .3-3.6 .3 5.1 .3-1.1 .3-6.6 .3 .4 .3 9.6 .3 1.6 .3-5.8 .3 5.6 .3-3.3 .3 4.1 .3 1.4 .3-7.6 .3-4.8 .3 2.8 .3 .8 .3 1.8 .3 2.8 .3-4.3 .3 6.3 .3-6 .3 1.1 .3-.9 .3-1.4 .3 2.4 .3 6.9 .3-3.1 .3 1.8 .3 3.1 .3-5.4 .3 1.8 .3 2.7 .3-6.2 .3-4.6 .3-4.1 .3 10 .3 3.9 .3-6.7 .3 1.8 .3 1.2 .3-7.9 .3 6.9 .3-9.3 .3 7.1 .3 4.4 .3-4.1 .3 4.6 .3-2 .3 7.9 .3-10.3 .3-.6 .3 .5 .3 .8 .3 3.4 .3-1.9 .3 .9 .3-.3 .3 2.5 .3-3.3 .3-3.4 .3 2.6 .3-6.3 .3 14.9 .3-11.7 .3-1.8 .3 7.9 .3-4.9 .3 4.9 .3-7.8 .3-.9 .3 6.6 .3-4.6 .3 6.6 .3-1 .3-2.2 .3-.3 .3-.3 .3 6.7 .3-14.8 .3 2.8 .3 2.1 .3-3.5 .3 6.7 .3-5.2 .3 3.9 .3 3.4 .3-4 .3 2.4 .3-5.1 .3 2.3 .3-8.1 .3 17.6 .3-4.4 .3 2.1 .3-3.2 .3 2.9 .3 1.5 .3-9.4 .3 .9 .3 9.3 .3-11.6 .3 4.6 .3 4 .3 1.4 .3-7.7 .3-3.7 .3 4.2 .3 11.1 .3-7.5 .3-2.2 .3 4.1 .3-5.7 .3 1.1 .3-2.5 .3 5.8 .3 6.3 .3-10.2 .3-.8 .3 5.6 .3-6.3 .3 6.7 .3-1.4 .3 1.1 .3-5.6 .3-1.4 .3 2.5 .3 2.6 .3-4.3 .3 14.3 .3-4.8 .3-.9 .3-10.5 .3 2 .3 4.4 .3-6.4 .3-.8 .3-4 .3 1.9 .3-.4 .3 10.6 .3 .4 .3 .5 .3-8.8 .3 12.8 .3-2.8 .3-3.6 .3-2.7 .3 7.6 .3-4.6 .3 1.1 .3 4 .3-17.4 .3-2.2 .3 13.2 .3 3.4 .3-1.3 .3-7.9 .3 17.5 .3-11.9 .3-9.5 .3 16.8 .3-19.1 .3 12.8 .3-3.3 .3-1 .3 2 .3 2.7 .3 .7 .3-6.3 .3 10.3 .3-20 .3 12.7 .3 .4 .3 .2 .3-6.1 .3 16.2 .3-11 .3 6.9 .3-12.5 .3 5.5 .3-2.6 .3 2 .3-2.2 .3-1.2 .3 8.9 .3-8.9 .3 .7 .3 3.7 .3 9.1 .3-7.2 .3-6.8 .3-.9 .3 4.7 .3-12.1 .3 13.9 .3-3.4 .3 2.9 .3-.6 .3 5.8 .3 .4 .3 2.2 .3-3.1 .3-.2 .3 1.2 .3-8.2 .3 4.7 .3-14.7 .3 15 .3-12.3 .3 1.5 .3 6.5 .3 1.3 .3 4.1 .3-8.3 .3 5.2 .3 1.5 .3-9.3 .3 5.9 .3 4.2 .3-5.2 .3-.3 .3 4.6 .3 1 .3-1 .3-5.6 .3 5.3 .3-2 .3 6.2 .3 2.7 .3-14.5 .3 16.3 .3-4.9 .3-13.4 .3 5.7 .3 9.1 .3-10.9 .3 .3 .3 3.2 .3 13 .3 2.2 .3-14.9 .3 3.3 .3-14.1 .3 9.4 .3-2.9 .3 7.9 .3 1.9 .3-4.2 .3-7.1 .3 7 .3-3.7 .3 8.4 .3-4.5 .3-7.1 .3 5.8 .3-8.3 .3-9.2 .3 13.1 .3-.7 .3 5.7 .3-8.2 .3 12.6 .3-9.6 .3-23.2 .3 38.4 .3-5 .3-6.6 .3 20 .3-24.4 .3 30 .3-49.9 .3 29.2 .3-26.6 .3 29.1 .3-21.4 .3 6.4 .3 5.9 .3 5.6 .3-18.6 .3 20.7 .3-3.1 .3 8.8 .3-2.2 .3-8.1 .3 10.5 .3-7.5 .3-6.4 .3 6.8 .3 7.2 .3-13.9 .3 4 .3 12.7 .3-10 .3 15 .3-21.9 .3 3.8 .3 11.8 .3-4.3 .3-13.3 .3 13.1 .3-14.3 .3 3.3 .3 6.7 .3 1.7 .3-4.8 .3 7.2 .3 1.1 .3-13 .3-.1 .3 8.8 .3 3.4 .3-4.8 .3-.6 .3-3.3 .3-.7 .3 4.8 .3-1.6 .3 3.5 .3-1.9 .3-.3 .3-11.3 .3 4.7 .3 8.5 .3-2.5 .3 7.8 .3-.9 .3-5 .3-9.5 .3 5 .3 .3 .3-7.7 .3 7.1 .3-4.1 .3 6.1 .3 4.3 .3-9.2 .3 7.5 .3-6 .3 11.5 .3 6.2 .3-12.5 .3 1.5 .3-8.4 .3 4.6 .3 5 .3-6.8 .3 11.3 .3-4.7 .3-4.7 .3 7.7 .3-5.5 .3-10.3 .3 6.4 .3 2 .3 5.2 .3-11.5 .3 .7 .3 13.9 .3-8.2 .3 .3 .3 4 .3-9.4 .3 11.5 .3-9.8 .3 6.4 .3-1.9 .3-7.4 .3 1.5 .3 2.5 .3 3.8 .3 7 .3-5.3 .3-13.1 .3 9.2 .3-1.5 .3 4.4 .3-7.5 .3 10.5 .3-1.9 .3-8.1 .3 6.1 .3-5.3 .3-4.2 .3 4.6 .3 5 .3-25.9 .3 20.9 .3 2.7 .3-5.8 .3-.1 .3 1.9 .3 3.6 .3-1.6 .3-2.8 .3 10.3 .3-6.5 .3 6.9 .3-10.6 .3 7.2 .3-.2 .3-3.8 .3-1 .3 3.3 .3-6.4 .3 7 .3-5.3 .3-5.5 .3 9.1 .3 1.1 .3-3 .3 3.3 .3 1.1 .3-3.7 .3 1.8 .3 2.5 .3-.7 .3-.5 .3 4.1 .3-5.5 .3-3.6 .3 .6 .3-.6 .3 1 .3 7.5 .3-17.1 .3 12.1 .3 8.7 .3-15.2 .3 10.2 .3-2.6 .3 .7 .3 1.9 .3 3.9 .3-16.4 .3 10.9 .3 2.8 .3-8.9 .3 7.3 .3 .6 .3-2.9 .3 1.2 .3-.4 .3 6 .3-17.4 .3 14.8 .3-15.8 .3 16.4 .3-3.3 .3-4.9 .3-6.2 .3 14.2 .3-4.3 .3 1.7 .3-6.7 .3 2.2 .3 1.1 .3 4.7 .3-3.7 .3-7.6 .3 10.3 .3-7.3 .3 9.6 .3-6.8 .3 .9 .3 1.5 .3-2.7 .3-.1 .3-2.7 .3-.7 .3 5.2 .3 3.7 .3-5.8 .3 1.8 .3-1.1 .3-3.7 .3 5 .3-1.3 .3-8.6 .3 9.1 .3 2.9 .3 .6 .3-2.4 .3-2.3 .3 7.4 .3-4.1 .3-10 .3 4.3 .3 8.2 .3-11 .3 5.2 .3 1.8 .3 1.3 .3 .2 .3-2 .3-7.9 .3 7.6 .3 6.5 .3-4.7 .3-5.5 .3 11.4 .3-4.2 .3-4.1 .3 5.7 .3-5.2 .3-1.1 .3 3.5 .3 2.5 .3 2.6 .3-.7 .3-3 .3 2.9 .3-1.2 .3 2.2 .3 .7 .3-7.1 .3-.6 .3-2.4 .3 12.4 .3-2.1 .3-7.7 .3 2.3 .3-3.1 .3 6.7 .3-3.8 .3 2.1 .3-4.4 .3 3.5 .3-7.3 .3 10.2 .3-5.8 .3-.1 .3-4.9 .3 5.9 .3-4.2 .3 7.4 .3-5.7 .3 1.6 .3-2.7 .3-2.6 .3 6.1 .3-4.9 .3 13.7 .3-14.4 .3-.4 .3-.4 .3-.7 .3-.2 .3 12.8 .3 .4 .3-1 .3-1.7 .3 .2 .3-9.4 .3 4 .3 5.8 .3-4.3 .3 6.6 .3-3.1 .3-9 .3 13 .3-9.9 .3-3.3 .3 5.9 .3 3.3 .3-8 .3 3.9 .3-1.6 .3-.1 .3 1.5 .3-.5 .3-1.1 .3 2.8 .3-2 .3 9.7 .3-5.6 .3-2.2 .3-4.2 .3 4.6 .3 1.6 .3-3.2 .3-3.6 .3-.5 .3 6.1 .3-5.1 .3 8.7 .3-9 .3-1.1 .3 2.5 .3 8.3 .3 .1 .3-2.9 .3 2.8 .3-5.7 .3-3.8 .3 1.4 .3 4.5 .3-1.5 .3 2.3 .3-.3 .3-3.1 .3-1.8 .3 0 .3 3.3 .3 .7 .3-7.9 .3 7.6 .3-.7 .3-2.7 .3 2.7 .3-3 .3-1.1 .3-.5 .3 4.3 .3 2.3 .3-3.8 .3 2.7 .3-2.7 .3-2.5 .3 4.2 .3 3.4 .3-3.9 .3-1.3 .3 .7 .3 .9 .3 1.8 .3 .6 .3 .6 .3-8 .3 11.3 .3-9 .3 2.9 .3-3.2 .3 1.1 .3 1.4 .3 1.2 .3-4.2 .3 5.9 .3-1.5 .3 .8 .3-3.2 .3-2.3 .3 2.1 .3-1.4 .3 1.2 .3 .5 .3-1.9 .3 6.8 .3-1.1 .3-4.8 .3 1.3 .3 .9 .3 0 .3-2.2 .3 7.3 .3-6.9 .3 .2 .3 1.8 .3 2.6 .3-3.6 .3-1 .3 4.4 .3-3.7 .3-2.8 .3 4.8 .3 7.4 .3-4.4 .3-4.5 .3 1.3 .3-1.7 .3 5.7 .3-5.6 .3-3.3 .3 1.2 .3 6.2 .3-3.3 .3 1 .3 3.3 .3-.5 .3-5.7 .3-2.1 .3 3.6 .3-1.5 .3 9.7 .3-9.2 .3-2.4 .3 2.3 .3 5.3 .3-5.5 .3 .1 .3 4.1 .3-4.8 .3 2 .3-1.1 .3-3.6 .3 2.9 .3 3.8 .3 1.3 .3-2.1 .3 4.8 .3-5.3 .3 2.4 .3-2.2 .3 .9 .3-4.5 .3 8.1 .3-7.4 .3-.2 .3 3.1 .3-4.4 .3 4.8 .3-.4 .3 3.4 .3-3.4 .3-5.1 .3 3.5 .3-4.5 .3 9.2 .3-8.9 .3 11.9 .3-5.3 .3-4.5 .3 6.7 .3 1.2 .3-9.5 .3 4.3 .3 .5 .3 3.1 .3-4.4 .3 4.3 .3-1.7 .3 3.9 .3-3.4 .3-.5 .3-4.4 .3-5.1 .3 3.4 .3 5.6 .3-3.4 .3 4 .3-.9 .3-1.8 .3-.9 .3 4.4 .3-1.4 .3-1.4 .3 1.3 .3-1.9 .3-4.3 .3 6.5 .3-8.5 .3 10.4 .3-4.3 .3-1.6 .3 2.6 .3 2 .3-3.2 .3 3 .3 3.7 .3-5.7 .3 3.5 .3 2.1 .3-3.6 .3 2.9 .3 .6 .3-3.8 .3 2.7 .3-1.5 .3-.6 .3-3.8 .3 4.7 .3 1.7 .3-4.6 .3 .9 .3 1.7 .3-6 .3 7.9 .3-3.4 .3 4.9 .3-3.5 .3-2.3 .3 .2 .3 .9 .3-1.8 .3-1.9 .3 2.6 .3 .4 .3-6.8 .3 9.3 .3-6.9 .3 4.4 .3 2.6 .3-1.7 .3 .5 .3-5.6 .3 7.9 .3-5.3 .3-.7 .3-2.3 .3 3.6 .3-1.3 .3 0 .3 2.3 .3-1.4 .3-.1 .3-3.1 .3 4.6 .3 2.3 .3-3.6 .3 2.9 .3-1.9 .3 6.5 .3-4.3 .3-3.4 .3 1.4 .3-3.7 .3 4.6 .3 .6 .3-.6 .3-.7 .3-1.3 .3-.9 .3 6.7 .3-1.1 .3 1.7 .3-6.9 .3 1.7 .3 1 .3 .9 .3-3.5 .3-3.1 .3 4.7 .3-1.3 .3 1.8 .3 3 .3-5.9 .3-1.5 .3 2.2 .3 1 .3-4.1 .3 5.3 .3 4.6 .3-7.2 .3 .8 .3 1.2 .3 3.9 .3-.7 .3-3 .3-1.5 .3 4.8 .3 1.9 .3-12.2 .3 4 .3 8.5 .3-.4 .3-3.3 .3 5.1 .3-10.6 .3 4.4 .3-4 .3-.1 .3 2.5 .3-.6 .3 1.5 .3 3.7 .3-12.3 .3 9.4 .3-6.9 .3 3.9 .3 .6 .3 .5 .3 .4 .3-2.5 .3 2.5 .3-.8 .3 1.2 .3 .2 .3 2.5 .3-1.4 .3 7.1 .3-5.6 .3 0 .3-2.2 .3 .6 .3 7 .3-7.3 .3-4.5 .3-.1 .3 5.7 .3-5.9 .3 2 .3 2.7 .3 .2 .3-2.1 .3 6.7 .3-8.9 .3-1.1 .3 3.6 .3-3.1 .3 9.7 .3-4.3 .3 .4 .3-3.5 .3-2.9 .3 6.7 .3-4 .3-2.2 .3 4.2 .3-2.4 .3 7.1 .3-1.7 .3-6.1 .3-.2 .3 6.2 .3 .3 .3-5.5 .3-1.3 .3 5.3 .3-4.4 .3 1 .3 4.3 .3-3.2 .3 4.7 .3-4.4 .3-2.4 .3-.3 .3 3.5 .3 .4 .3-4.7 .3 7.9 .3-2.3 .3-6.3 .3 2.4 .3 4.9 .3 1.7 .3-6.2 .3 1.6 .3 .3 .3-2.3 .3 .7 .3 .1 .3 5.3 .3-2.3 .3 .5 .3-1 .3 5 .3-9.5 .3 3.3 .3 .2 .3-2.5 .3 3.3 .3-7.1 .3 8.7 .3-.6 .3-4.6 .3 5.2 .3-1.8 .3-1.4 .3 0 .3 1.3 .3-2.4 .3 2.8 .3 1.7 .3 .5 .3-8.1 .3 8.9 .3-1 .3-3.7 .3-.3 .3 3 .3 1.9 .3-6.1 .3 2.8 .3-1 .3 4.7 .3-11 .3 9.1 .3-4.7 .3 2.9 .3-1.5 .3 0 .3-.1 .3 3.1 .3 2.3 .3 3.9 .3-5.9 .3-1.5 .3 2.6 .3-5.7 .3-2.2 .3 1.2 .3 2.8 .3 9.4 .3-4.5 .3-7.4 .3 .4 .3-.7 .3 7.3 .3-5.3 .3 1.1 .3-6.3 .3 3.8 .3 2.3 .3 1.4 .3-.2 .3 1.7 .3-1.8 .3 1.3 .3-6.1 .3 11.9 .3-7.5 .3-.6 .3-.2 .3 2.7 .3-8.5 .3 .9 .3 7.1 .3 4.5 .3-8.1 .3 1.1 .3-1.6 .3 6.7 .3-5.2 .3-.6 .3 3.9 .3-4.2 .3 0 .3-1.8 .3 1.3 .3 1.2 .3 3.1 .3-3.8 .3 1.1 .3-1.2 .3 .1 .3 5.8 .3-6.7 .3 3.9 .3-9.1 .3 4.7 .3 4.6 .3-5.4 .3 6.5 .3 .1 .3-3 .3-1.6 .3 3.7 .3-1.1 .3-1.9 .3-2.1 .3 2.5 .3 1.4 .3 2.3 .3-2.4 .3 .7 .3-3.5 .3 1.2 .3 .6 .3 3.9 .3-4 .3-.7 .3 4.7 .3-2.4 .3-.8 .3 2.1 .3 1.5 .3 1.7 .3-9.3 .3 8 .3-2.2 .3-2.7 .3 1.2 .3-5.4 .3 5.3 .3 1.6 .3-3.8 .3 1.2 .3-.7 .3 1 .3 .5 .3 1.4 .3-2 .3-.5 .3-1.6 .3 1 .3 4.5 .3-10.9 .3 6.2 .3 3.1 .3 1 .3-1.9 .3-1 .3 5.2 .3-1.7 .3-4.2 .3 2.9 .3-4.1 .3 1 .3 1.4 .3 .3 .3-2.2 .3 4.6 .3-4.1 .3-1.8 .3 6.7 .3-7.6 .3 7.1 .3-.6 .3-6.2 .3 2.2 .3 5.6 .3-6.6 .3 2.9 .3 .1 .3-.5 .3-5.3 .3 3.1 .3-.3 .3 3.2 .3 .2 .3 3.6 .3-9.8 .3 4.7 .3-.4 .3-.2 .3 0 .3 5.1 .3-4 .3 2.2 .3 3.5 .3-3.5 .3-7 .3 8.7 .3-6.8 .3 8.2 .3-9 .3 4.5 .3 .2 .3-.5 .3-4.3 .3-1.1 .3 3.5 .3 .4 .3 2.7 .3-4.2 .3-3.4 .3 1.6 .3 3 .3 3.7 .3-.9 .3-9.5 .3 4.2 .3 4.2 .3-1.1 .3 2.4 .3-4.8 .3 2.4 .3 1.7 .3-2.9 .3-.8 .3 2.6 .3-3.2 .3 6.5 .3-2.8 .3-.8 .3 1.3 .3-5.3 .3 .5 .3-8.2 .3 12.9 .3-4.5 .3 4.1 .3 1.2 .3-4.5 .3 1.8 .3 3.2 .3-7.9 .3 6.1 .3-.8 .3 2.5 .3-.1 .3 .4 .3-5.6 .3 5 .3-6.2 .3 7 .3-1.9 .3 3.3 .3-5.5 .3 .7 .3-4.2 .3 8 .3-5.4 .3-1.7 .3 4 .3 0 .3-4.6 .3 2.3 .3 1.5 .3-1.5 .3 5.3 .3-2 .3 1 .3-1.2 .3-1 .3-.9 .3 2.1 .3 0 .3-.5 .3-1.7 .3-6.2 .3 9.7 .3-1.2 .3-1.1 .3 1.1 .3-1.7 .3 1.9 .3 1.2 .3-.4 .3-3.3 .3 1.7 .3-1 .3-6.3 .3 9.8 .3-5.5 .3 8.1 .3-7.8 .3 4.5 .3-2.4 .3-1.7 .3 1.4 .3-3.2 .3 7.2 .3-7.3 .3-.4 .3 8.8 .3-8 .3-.1 .3 6.2 .3-3.1 .3 3.1 .3-3.6 .3-.6 .3-1.3 .3-1.4 .3 .5 .3 3.3 .3 4.3 .3-3.1 .3 1.7 .3-.1 .3-6.4 .3 3.2 .3 1.8 .3 0 .3 .5 .3 1.8 .3-5.8 .3 5.2 .3 2.3 .3-4.9 .3 5 .3-3.2 .3-2.5 .3-3.7 .3 3.7 .3 2.8 .3-3.5 .3-1.2 .3 3.3 .3-4 .3 2.9 .3 2.8 .3-6.1 .3-.6 .3 4.5 .3-2.9 .3 5.2 .3-1.2 .3 2.8 .3-2.3 .3-3.9 .3 0 .3 .8 .3 1.7 .3 .4 .3-3.2 .3-2 .3 4 .3-4.5 .3 7.6 .3 1 .3-5.2 .3-.8 .3 5.4 .3-5.1 .3 1.3 .3 3.9 .3-3.8 .3-1.1 .3-1.9 .3 3.8 .3-1.5 .3 4.1 .3-5.9 .3 1.7 .3 .2 .3 1.9 .3 1.2 .3-4.6 .3 1.4 .3 .3 .3-1.4 .3 5.7 .3-7.5 .3 1.3 .3 2.9 .3-1.1 .3 .9 .3-1.5 .3-1.4 .3 .8 .3 2.4 .3-.6 .3 2.8 .3-5.6 .3 2.1 .3 4.4 .3-5.5 .3 9 .3-9 .3 4.3 .3-7 .3 0 .3 3.9 .3 3.4 .3-3.1 .3-.7 .3 7.1 .3-9.4 .3 2.1 .3 .9 .3-1.3 .3 .7 .3 .6 .3 .9 .3 2.5 .3-1.5 .3 1.9 .3-1.2 .3 1.6 .3-6.5 .3 3.6 .3-6.1 .3 10.6 .3-.3 .3-3 .3-6.2 .3 2.9 .3 1.7 .3-.8 .3 .3 .3-2.6 .3 .4 .3 2.1 .3 4.1 .3-5.1 .3 4.1 .3-5.2 .3 .7 .3 1.8 .3-.3 .3 4.8 .3-4.5 .3 3.1 .3-7.8 .3 5.8 .3-2.1 .3-.9 .3 .6 .3 3.5 .3-2.9 .3 3.5 .3-1 .3-5.7 .3-.3 .3 1.2 .3 2.8 .3-1.6 .3 1.1 .3-.1 .3 4.1 .3-4.4 .3 2.5 .3-1.7 .3-.2 .3-4.1 .3 3 .3 .9 .3 .8 .3 .3 .3-3.4 .3 5.2 .3-4.1 .3-3.9 .3 7 .3 2.6 .3-2.1 .3-3 .3 1.5 .3 3.1 .3-5.1 .3 2.5 .3-5.2 .3 3.4 .3-5.1 .3 5.3 .3-.3 .3 1.5 .3 1.7 .3-4.3 .3 3.6" fill="none" stroke="#ff0000" stroke-width="0.9" stroke-linejoin="round" clip-path="url(#cM8)"/><line x1="668.5" y1="593.2" x2="1122.5" y2="593.2" stroke="#000" stroke-width="1.5" stroke-dasharray="4.5,3"/><line x1="777.1" y1="557.8" x2="777.1" y2="632.6" stroke="#ff00ff" stroke-width="1.4" stroke-dasharray="1.5,2"/><line x1="936.5" y1="557.8" x2="936.5" y2="632.6" stroke="#00a000" stroke-width="1" stroke-dasharray="6,3"/><line x1="945.5" y1="557.8" x2="945.5" y2="632.6" stroke="#0000ff" stroke-width="1" stroke-dasharray="1.5,2"/><line x1="975.5" y1="557.8" x2="975.5" y2="632.6" stroke="#ff0000" stroke-width="1" stroke-dasharray="7.5,2.5"/><line x1="975.5" y1="557.8" x2="975.5" y2="632.6" stroke="#ff00ff" stroke-width="1" stroke-dasharray="1.5,2"/><line x1="1054.5" y1="557.8" x2="1054.5" y2="632.6" stroke="#ff0000" stroke-width="1" stroke-dasharray="7.5,2.5"/><line x1="1093.5" y1="557.8" x2="1093.5" y2="632.6" stroke="#00a000" stroke-width="1" stroke-dasharray="6,3"/><line x1="674.5" y1="563.5" x2="693" y2="563.5" stroke="#ff00ff" stroke-width="1" stroke-dasharray="1.5,1"/><text transform="translate(694,566.3) scale(1.12,1)" font-size="9" text-anchor="start" fill="#ff00ff">t  maxJ</text><line x1="674.5" y1="570.5" x2="693" y2="570.5" stroke="#4040ff" stroke-width="1"/><text transform="translate(694,573.8) scale(1.12,1)" font-size="9" text-anchor="start" fill="#0000ff">J<tspan font-size="6.5" dy="2.5">L</tspan></text><line x1="674.5" y1="578.5" x2="693" y2="578.5" stroke="#44ee44" stroke-width="1"/><text transform="translate(694,581.3) scale(1.12,1)" font-size="9" text-anchor="start" fill="#00ee00">J<tspan font-size="6.5" dy="2.5">M</tspan></text><line x1="674.5" y1="586" x2="693" y2="586" stroke="#ff7070" stroke-width="1.2"/><path d="M668.5 685.2l.3-3.2 .3 4 .3-4.1 .3 3.6 .3-5.1 .3 3.7 .3-.6 .3-.2 .3 1.4 .3-4.8 .3 2.4 .3-4.6 .3 3.3 .3 1.2 .3 .4 .3 .3 .3 4 .3-1.2 .3-1.6 .3-2.1 .3 1.5 .3 .6 .3-5.7 .3 4.7 .3 1.1 .3-.5 .3-4.5 .3 7.1 .3-3 .3 .1 .3 1.3 .3 .7 .3-2.1 .3-3.6 .3 1.3 .3 2.9 .3 1.1 .3-3.7 .3 2.7 .3 2 .3-2.2 .3-.4 .3-2.8 .3-.5 .3-1.1 .3-.3 .3 8.7 .3-7.1 .3 2.5 .3-3.5 .3 4.8 .3-5.9 .3 8.6 .3-4.6 .3 4.6 .3-6 .3 1.6 .3-1 .3 .6 .3 2.8 .3-2.7 .3 1.2 .3 1.3 .3-7.1 .3 5.5 .3-.2 .3-2 .3 4.4 .3-5.2 .3-4 .3 7.5 .3 1.5 .3-1.2 .3-4.4 .3 2 .3 1.5 .3 .9 .3 .7 .3-3.8 .3 3 .3-1.8 .3 .2 .3-4.6 .3 7.9 .3-2.1 .3-.9 .3-1.3 .3 2.3 .3 .2 .3-1.6 .3 2.4 .3 .2 .3-1.4 .3-5.3 .3 5.7 .3-.5 .3-4.6 .3 5.7 .3 1.8 .3-5.7 .3 5.6 .3-3.4 .3 4.3 .3-4.1 .3-1.6 .3 2.4 .3-1.8 .3 3.4 .3 1.2 .3-5.9 .3 2.6 .3 0 .3-.8 .3-2.2 .3 2.7 .3 .5 .3-4.2 .3 4.5 .3-11.4 .3 10.1 .3-1.1 .3-.3 .3 2.9 .3 3.7 .3-.7 .3-4.5 .3 2.3 .3 1.9 .3-5.8 .3 2 .3 1.5 .3 3.1 .3-9.7 .3 5.8 .3-2.7 .3 2.1 .3-1.2 .3 5 .3-2.4 .3 .2 .3 .9 .3 1.8 .3-7.4 .3 6.2 .3-1.1 .3 1.8 .3-2.2 .3 1.3 .3-2.4 .3 1.5 .3 1.2 .3-4.6 .3-1.8 .3-.2 .3 1.9 .3 3.2 .3-.6 .3-5.1 .3-2.4 .3 8.1 .3-.4 .3 3.2 .3-6.2 .3-3.8 .3 8.3 .3-3.5 .3 3.8 .3-2.3 .3-2.3 .3 1.2 .3 .5 .3 .4 .3 1.8 .3-.6 .3-.6 .3-.6 .3-2.2 .3-3.7 .3 7.6 .3-1.7 .3-5.3 .3 2.9 .3-3.1 .3 3.1 .3 3.2 .3-3.3 .3-3 .3 4.9 .3 2.2 .3-2.9 .3-22.7 .3 20.7 .3 2.5 .3 3 .3 1.2 .3-3.2 .3-.9 .3 1.9 .3-9.2 .3 3.1 .3 4.9 .3 3.3 .3-13.5 .3 12.7 .3 .7 .3-2.7 .3-2.4 .3 7.7 .3 21.6 .3-23.2 .3-20.3 .3 11.3 .3 3.7 .3-.2 .3 4.5 .3-8 .3-.1 .3 2 .3 2.4 .3 1.1 .3 7.8 .3-8.8 .3 2.5 .3-3.1 .3 2.4 .3-4.9 .3-5.1 .3 6.7 .3-1.5 .3-3.6 .3 6.8 .3 7.7 .3-1.9 .3-3.9 .3 .7 .3-1 .3-2.4 .3 6.3 .3-4.4 .3-1.3 .3 5.9 .3-1 .3-13.6 .3 7.4 .3-2.5 .3 4.2 .3-3.5 .3 1.2 .3-6.1 .3 4 .3-15.7 .3 16.9 .3 4.9 .3-4 .3 5.5 .3-16.7 .3 16.4 .3-.7 .3-6.6 .3-2.9 .3-22.1 .3 26.5 .3 14.8 .3-18.2 .3 5.4 .3-3 .3 4.9 .3 4.8 .3-7.3 .3-10 .3 29.4 .3-17.1 .3-1 .3-4.6 .3 13.6 .3-8.9 .3-1.4 .3-20.6 .3 19.3 .3 .9 .3 2.2 .3 9.8 .3-8.3 .3-7.4 .3 7.6 .3 3.7 .3-11.8 .3 14.1 .3-9.8 .3-1.7 .3 1.6 .3 2 .3-4.1 .3 11.8 .3-5.8 .3-4 .3 8.1 .3 13.8 .3-20.8 .3-1.5 .3 9.6 .3-16.1 .3 8.1 .3 1.6 .3-3.1 .3-44.8 .3 43.5 .3 1.1 .3-.3 .3 2 .3-.8 .3 3.9 .3-3.3 .3-.6 .3 2.2 .3 2.6 .3-7.1 .3 6.6 .3-2.8 .3-4.3 .3 10.7 .3-.8 .3-6.7 .3 3.9 .3-4.2 .3 1.7 .3 2.6 .3 .1 .3 3.1 .3-10 .3-1.5 .3 1.6 .3 1.7 .3 6.9 .3-.1 .3-5.1 .3-.1 .3-29.5 .3 27.9 .3 4.3 .3-7.4 .3 4.3 .3-4.1 .3-3.7 .3-2 .3 8.5 .3 4 .3-1.2 .3 2.3 .3-3.7 .3 22.8 .3-23.4 .3 .7 .3-.5 .3 2.7 .3-1.4 .3 .2 .3-6.5 .3 14.5 .3-48.3 .3 39.1 .3 9.6 .3-17.2 .3 6.9 .3 1.3 .3-.9 .3-2.5 .3 4.7 .3-7 .3 7.4 .3 1 .3-1.4 .3-4.5 .3 7.6 .3 1 .3-6.8 .3-5.3 .3 3.9 .3 1.3 .3-4.3 .3 .3 .3 7.5 .3-2.4 .3-5.9 .3-.6 .3 8 .3-6.2 .3 4.4 .3-3.9 .3 4 .3-.9 .3 1.5 .3 2.4 .3 0 .3-12.3 .3 11.8 .3 11.7 .3-7.1 .3-22.2 .3-16 .3 23.4 .3 7.3 .3-8.5 .3 12.8 .3-7.6 .3-2.9 .3 4.7 .3 3.9 .3-3 .3 6.1 .3-3.3 .3-1.6 .3 3.6 .3-5.2 .3-1.1 .3 1.4 .3-5.2 .3 13.6 .3-9.5 .3 8.8 .3-5.6 .3-5.9 .3 9.3 .3-2.1 .3-6.2 .3 6.2 .3-2.4 .3-6.5 .3 3.2 .3 4.5 .3 2.8 .3 1.6 .3-2.2 .3-1.1 .3 1.6 .3-4.2 .3-.2 .3 6.4 .3-8.4 .3-1 .3-1.7 .3 7 .3-3 .3-4.1 .3 1.2 .3 4.7 .3-4.4 .3 .1 .3 8 .3-4.1 .3 5.1 .3 3.8 .3-12 .3 8 .3-4 .3-4.2 .3 3.1 .3-2.2 .3 4 .3 3.2 .3-.5 .3-3.5 .3 .7 .3-.3 .3-1.6 .3 7.4 .3-10.2 .3 2.2 .3-.9 .3-2.6 .3 2.4 .3 1 .3 .2 .3 3.1 .3-8.2 .3 10.4 .3 1.3 .3-10.4 .3 1.9 .3 3.1 .3 6 .3-1.9 .3-4.5 .3 4.2 .3-2.6 .3-3.4 .3 7.6 .3-1.4 .3 1.1 .3-.1 .3-7.7 .3 3.2 .3 2.1 .3-3.7 .3-2.5 .3 .4 .3 5.6 .3-2.6 .3 2.2 .3-1.1 .3-2.5 .3-.7 .3 8.5 .3-5.5 .3 5.1 .3-7.9 .3 2.3 .3-3.7 .3 2.1 .3 1.7 .3 .8 .3 2.4 .3-2.7 .3-2.1 .3 2.6 .3-6.9 .3 4.2 .3 .5 .3 3.3 .3 1.7 .3-2.7 .3-7.8 .3 5.4 .3 3.4 .3-16.9 .3 12.2 .3 7.1 .3-7.6 .3 3.2 .3 2.6 .3 3.2 .3-3.3 .3-8.9 .3 9.7 .3 1.9 .3-6.6 .3 .9 .3-26 .3 26.1 .3 2.1 .3-6.6 .3 9.8 .3-4.3 .3-1 .3 3.3 .3-7.9 .3 5.8 .3-2.7 .3 6.8 .3-1.5 .3-4.6 .3 2 .3-.9 .3 5.6 .3-4.6 .3-2.2 .3 1.7 .3-3.3 .3 3.9 .3-28.9 .3 26.8 .3 .5 .3-1.2 .3 4.7 .3 1.4 .3-5.8 .3 2.4 .3-1.8 .3-1.8 .3 3.1 .3 14 .3-16.5 .3-.6 .3-.6 .3 1.3 .3 2.5 .3 1.6 .3-1.2 .3-.7 .3-.2 .3 .3 .3-1.3 .3 2.1 .3-.1 .3-.1 .3-4.5 .3 3.7 .3 1 .3-.6 .3 1.9 .3-3.5 .3 .4 .3 3.2 .3-2.7 .3 .3 .3-1.8 .3-2 .3 5.1 .3-2.2 .3 .2 .3 3.6 .3-3 .3 0 .3-2.3 .3 3.3 .3 .4 .3-3.7 .3 4.5 .3-1.9 .3-1.1 .3-1.3 .3 3.9 .3 .2 .3-2.1 .3-.7 .3 1.2 .3 11.3 .3-13.1 .3 .7 .3 1.4 .3 1.5 .3-2.1 .3-1.1 .3-2.4 .3 4.7 .3-1.8 .3 1.5 .3-1.1 .3-.4 .3 4.6 .3-2.8 .3 .2 .3-2.7 .3-.5 .3 .9 .3 .6 .3-.8 .3 1 .3-1.8 .3 4.2 .3-3 .3 .8 .3-1 .3 1.2 .3-.7 .3 .5 .3 .8 .3-.3 .3-2.3 .3 1.1 .3-1.5 .3 .3 .3 3.1 .3-.6 .3-2.2 .3 1.4 .3-.6 .3 1.5 .3-2.9 .3 2.9 .3 .3 .3 0 .3-1 .3 0 .3 .4 .3 1.8 .3-1.3 .3-1.4 .3 .9 .3-2.6 .3 5.9 .3-1.6 .3 .1 .3-2.8 .3 2.4 .3-2.4 .3 2 .3-2.5 .3 1.7 .3 .9 .3-2 .3 1.9 .3 .3 .3-2.9 .3-.7 .3 .9 .3 0 .3 .4 .3 2.3 .3-.7 .3-.5 .3 .3 .3-2.7 .3-1 .3 3.6 .3-2.9 .3-.5 .3 5.2 .3-1.2 .3-1.7 .3 1.6 .3-.2 .3 1.3 .3 1 .3-5 .3 1.7 .3-10.3 .3 10.2 .3 .8 .3-1.6 .3-.6 .3 .9 .3-2.4 .3 1.8 .3-.5 .3 1.6 .3 .2 .3 .5 .3 .8 .3-.9 .3 2.4 .3-2.3 .3 .4 .3-1.3 .3-.5 .3 .6 .3 .6 .3-1.3 .3 .6 .3 .5 .3 3.6 .3-6.7 .3 4.7 .3-2.1 .3-.9 .3 1.6 .3-1.7 .3 .5 .3-2.4 .3 3.8 .3 .4 .3 1.1 .3 1.1 .3-4.6 .3 1.2 .3-.4 .3 .5 .3 .1 .3-1.2 .3 1.5 .3-.2 .3 1 .3-3 .3-1.1 .3 1.1 .3 2.6 .3-2.5 .3 2.3 .3-1.3 .3 1.7 .3-.7 .3-15 .3 13 .3 1.7 .3 0 .3 1.3 .3-.4 .3-2.2 .3 2.7 .3-2.6 .3 1.7 .3-1.8 .3 .2 .3 .7 .3 5 .3-5.5 .3 1.5 .3-1 .3 1.5 .3 1.7 .3-4.9 .3 4.2 .3-2.9 .3-1.9 .3 2.1 .3 10.3 .3-11 .3-.8 .3 1.7 .3 2.1 .3-3.5 .3 4 .3-1 .3-3.5 .3-2.7 .3 4.2 .3-.2 .3 4.2 .3-3.7 .3-.4 .3 0 .3 1.2 .3-.2 .3-.8 .3 .1 .3 1.7 .3-2.7 .3 2.3 .3 .3 .3 .3 .3-2.1 .3-1.3 .3 .4 .3-.9 .3 1.6 .3 .5 .3-1.3 .3 .7 .3-1.5 .3 2.1 .3 1.3 .3-1.8 .3 1 .3 .1 .3-2.3 .3 3.6 .3-1.2 .3 4.4 .3-8.1 .3 5.1 .3-3 .3 1.9 .3-3.2 .3 3.7 .3-1.6 .3 .1 .3 1.3 .3 2.3 .3-2.7 .3-2.8 .3 3.6 .3-1.2 .3 1.1 .3-.2 .3-2.7 .3-.3 .3 3.8 .3-.5 .3-3.1 .3 2.1 .3-.3 .3 .2 .3 .5 .3-.7 .3 3.1 .3-6.5 .3 2 .3 .8 .3 1.5 .3-1.5 .3 1 .3-1.4 .3 1.4 .3 0 .3-.4 .3 .3 .3 0 .3 .9 .3-.7 .3-.8 .3 .7 .3-3.1 .3 5 .3 .6 .3-3.3 .3-2.6 .3 4.3 .3-3.5 .3 4.8 .3-3 .3-.7 .3-1.3 .3 3.2 .3-2.3 .3 1.2 .3-.8 .3 2 .3-.7 .3 .1 .3 0 .3-1.7 .3-.6 .3 1.5 .3-3.4 .3 5.9 .3 1.2 .3-4.3 .3 2.1 .3-1.7 .3 2.2 .3-.8 .3 1.5 .3-1.1 .3 1 .3-.9 .3-3.4 .3 1.9 .3-1 .3 5.9 .3-5 .3 3 .3-.5 .3 .8 .3-4.5 .3 2.3 .3-1.1 .3 4.8 .3-3.5 .3-1.1 .3 1 .3-.9 .3 .7 .3 .4 .3 0 .3-.1 .3-.3 .3-3.1 .3 4.9 .3-.2 .3-3.7 .3 3.9 .3-5.3 .3 2.7 .3 .8 .3-1.4 .3 4.5 .3-7.3 .3 3.7 .3-1.2 .3 3.8 .3-2.8 .3 2.5 .3-1.7 .3 .6 .3-1.3 .3 .1 .3-.1 .3-1.4 .3 .6 .3 2 .3-.6 .3 .9 .3-3.8 .3 5.5 .3-5 .3-.6 .3 2.4 .3 4.7 .3-4.2 .3 1.7 .3-2.7 .3 1.4 .3 1 .3-3.4 .3-2.9 .3 4.3 .3 2.1 .3-4.1 .3 1.3 .3-.6 .3 1.9 .3 1 .3-.2 .3 .1 .3-4.5 .3 6.3 .3-2.1 .3-1.1 .3 1.6 .3-2.3 .3 2.8 .3-1.9 .3-2.5 .3 3.2 .3-2.3 .3 .3 .3 2.7 .3-1.6 .3 1.7 .3 0 .3-1.3 .3-1.5 .3 2.2 .3-1.5 .3 2.6 .3-2 .3-3.5 .3 3.8 .3-2.3 .3 2.5 .3-.9 .3-.8 .3 2.6 .3 1.4 .3-4.2 .3 5.6 .3-4.1 .3 2.5 .3-1.1 .3-.2 .3-4 .3 4.4 .3-3.7 .3 3.4 .3-.9 .3-.7 .3-.3 .3-.1 .3-.7 .3 .7 .3-3.2 .3 3.4 .3 1 .3-.2 .3-2.4 .3 .1 .3 3.2 .3-1.5 .3-2.3 .3 4.5 .3-2.5 .3 1.7 .3 1.1 .3-2.9 .3-1.2 .3-.8 .3 1.7 .3-.8 .3 3.3 .3-.1 .3 1.1 .3-3.6 .3 2.5 .3-1.2 .3-.4 .3 .3 .3-2.2 .3 3.4 .3-1.6 .3-1.9 .3 4.5 .3-1.6 .3-2 .3 2.8 .3 .6 .3-2.9 .3-3.9 .3 2.1 .3 4.3 .3-2.7 .3 .6 .3 0 .3-3.7 .3 3.4 .3 .2 .3 3.2 .3-5 .3 2.2 .3-1.2 .3-.3 .3-1 .3 2 .3 1.7 .3-2.3 .3-.9 .3 1.6 .3 .6 .3 0 .3-1.5 .3 .8 .3-3.2 .3 3.9 .3 1.7 .3-4.4 .3 4.2 .3-3.7 .3 1.6 .3-1.5 .3 3.5 .3 1 .3 0 .3-6.3 .3 3.2 .3 .5 .3-2.2 .3 14.4 .3-15.6 .3 7.1 .3-3.4 .3 .5 .3-3.1 .3 2 .3 .9 .3-.4 .3 3.4 .3-4.2 .3-.3 .3 2.4 .3-.5 .3 .6 .3 1.1 .3-3 .3 .1 .3 0 .3-1.1 .3 .7 .3-1.9 .3 2.2 .3-2.2 .3 .8 .3 0 .3 2 .3-.4 .3 2.5 .3-4.3 .3 4.3 .3-4.1 .3-2.3 .3 3.4 .3-3.3 .3 6.1 .3-.7 .3-3.2 .3 .9 .3 .4 .3-1 .3 3.1 .3-1.8 .3 1.1 .3-1.7 .3 1.3 .3-2.4 .3 2.8 .3-1.6 .3-.2 .3-4.4 .3 6.4 .3-3.7 .3 2.9 .3-1.1 .3 .4 .3-2.8 .3 5.1 .3-1.7 .3-1.1 .3-1.7 .3 .6 .3 2.8 .3-2.1 .3 1.7 .3 3.4 .3-3.5 .3 .3 .3-5.5 .3 5.1 .3-1.4 .3 1.3 .3-1.5 .3-.2 .3 .8 .3-1.8 .3 2.6 .3 .8 .3 .2 .3-1.9 .3-.3 .3 1 .3 1 .3-2.4 .3 2 .3 .3 .3-2.8 .3 1 .3 0 .3 3.5 .3-3.1 .3 1.5 .3-.5 .3-1.2 .3 2.8 .3-1.8 .3-2.5 .3 3.6 .3-1.7 .3-.8 .3-.4 .3 2.9 .3 .8 .3-.7 .3-.7 .3-.7 .3-1.7 .3 2.7 .3-.9 .3-.6 .3-1.4 .3 2.5 .3-2 .3 .7 .3 1.7 .3-.8 .3 1.8 .3-2.4 .3-2 .3 1.6 .3 1.6 .3-1.4 .3-.4 .3 2.4 .3-2.9 .3 2.6 .3 1.4 .3-3.8 .3 .9 .3 .9 .3 1 .3 .6 .3-3.9 .3 .8 .3 1.9 .3 .3 .3-3.1 .3 .7 .3 1.8 .3-.9 .3-1.8 .3 .4 .3-1.4 .3 .7 .3-.4 .3 7 .3-3.8 .3-1.8 .3 2 .3-2.3 .3 1.5 .3 1.2 .3-.8 .3 .1 .3 .6 .3 1.9 .3-3 .3-1.3 .3 5.2 .3-6 .3 1.6 .3 2.3 .3-1.1 .3-.5 .3-.4 .3-.7 .3 .1 .3 .7 .3-2 .3 3 .3-.2 .3-1.8 .3 .1 .3-.5 .3 2.9 .3-1.8 .3 1.3 .3 .2 .3-1 .3 2.2 .3-3.6 .3-.5 .3 0 .3 4.9 .3-.3 .3-4.5 .3 2.6 .3 .4 .3-3 .3 2.6 .3 .1 .3-1.4 .3-.4 .3-2.6 .3 2.5 .3 .8 .3-1 .3-2 .3 5 .3-3.4 .3-.8 .3 2.4 .3-.9 .3-.1 .3 .6 .3 .6 .3-1.2 .3 4.2 .3-3.1 .3 .1 .3-.3 .3-.6 .3 3.3 .3-3.3 .3 2.5 .3-3 .3 1.7 .3 .2 .3-.5 .3-1.6 .3 4.7 .3-5.1 .3-.5 .3 2 .3 1.6 .3-.3 .3 .3 .3-.3 .3-1.4 .3 2.7 .3-4.3 .3 2.5 .3-2.8 .3 2.8 .3-1.4 .3-.6 .3 .4 .3-1.7 .3 2.3 .3 1.1 .3 1.3 .3-4.7 .3 1.3 .3-2.6 .3 1.5 .3 1.2 .3 1.5 .3-1 .3 4.4 .3-1.6 .3-2 .3 .6 .3 .4 .3-.9 .3-1.4 .3 3.4 .3-3.5 .3 4.1 .3 .6 .3-2.8 .3-1.7 .3 0 .3-1.2 .3 2.9 .3 1.1 .3 1.6 .3-1.5 .3 1 .3-1.4 .3-3.1 .3 1.4 .3 1.2 .3-3.3 .3 4.4 .3-2.2 .3 0 .3-1.4 .3-1 .3 1.8 .3 1.8 .3-.4 .3-2.3 .3 3.5 .3-.5 .3-.5 .3 .1 .3 .5 .3-4.3 .3-.5 .3 4.9 .3-1.8 .3 2.1 .3-.6 .3 2.5 .3-5.2 .3-1.8 .3 5 .3-1.2 .3-1.9 .3 .8 .3 1.5 .3 .4 .3-5.2 .3 3.8 .3 2.9 .3-5.5 .3 3.6 .3-3 .3 2 .3-1.7 .3 4.7 .3-1.3 .3-2.9 .3 1.2 .3-2 .3 3.3 .3 .6 .3-2.9 .3-.6 .3 2.1 .3-.8 .3-.2 .3 .2 .3 2.9 .3-4 .3 1.5 .3-1.4 .3 1.8 .3 1.7 .3-1.9 .3 1.4 .3-1.7 .3-1.4 .3 4.9 .3-5.1 .3 2.2 .3 2.3 .3-4.8 .3 2.3 .3-1.9 .3 3.6 .3-3.3 .3 1.1 .3 1.6 .3-1 .3 0 .3 1.7 .3-3.1 .3-.9 .3-.8 .3 4.4 .3 1.9 .3-1.8 .3-1.4 .3-.7 .3 .5 .3 .1 .3 .2 .3 .4 .3-2.3 .3-.7 .3 3.8 .3-3.5 .3 4.6 .3-3.7 .3-.4 .3 .5 .3 .7 .3-2 .3 2.9 .3-.3 .3-3.7 .3 2.9 .3-.8 .3-.2 .3 3.4 .3-.3 .3-2.1 .3 1.9 .3-.4 .3-2.5 .3 2.1 .3 0 .3 1.6 .3-5 .3 5.1 .3-1.4 .3-3 .3 4.3 .3-1.8 .3-1.3 .3-1.8 .3 .8 .3 4.3 .3-.7 .3-1.1 .3-1.2 .3 3.9 .3-3.3 .3 3 .3-.3 .3-2.8 .3 .1 .3-1.1 .3 1.7 .3 0 .3 .4 .3-2.6 .3-.9 .3 3.1 .3-.4 .3 1.6 .3 1.6 .3-2.2 .3-2.6 .3-1.5 .3 2.2 .3-1.6" fill="none" stroke="#000" stroke-width="0.9" stroke-linejoin="round" clip-path="url(#cM9)"/><line x1="777.1" y1="632.6" x2="777.1" y2="705.8" stroke="#ff00ff" stroke-width="1.4" stroke-dasharray="1.5,2"/><line x1="936.5" y1="632.6" x2="936.5" y2="705.8" stroke="#00a000" stroke-width="1" stroke-dasharray="6,3"/><line x1="945.5" y1="632.6" x2="945.5" y2="705.8" stroke="#0000ff" stroke-width="1" stroke-dasharray="1.5,2"/><line x1="975.5" y1="632.6" x2="975.5" y2="705.8" stroke="#ff0000" stroke-width="1" stroke-dasharray="7.5,2.5"/><line x1="975.5" y1="632.6" x2="975.5" y2="705.8" stroke="#ff00ff" stroke-width="1" stroke-dasharray="1.5,2"/><line x1="1054.5" y1="632.6" x2="1054.5" y2="705.8" stroke="#ff0000" stroke-width="1" stroke-dasharray="7.5,2.5"/><line x1="1093.5" y1="632.6" x2="1093.5" y2="705.8" stroke="#00a000" stroke-width="1" stroke-dasharray="6,3"/><line x1="674.5" y1="647.5" x2="693" y2="647.5" stroke="#555" stroke-width="1.2"/><text transform="translate(695.5,651) scale(1.12,1)" font-size="9" text-anchor="start" fill="#000">J*E'</text><path d="M85.5 33.5v9M85.5 168v-9M107.5 33.5v3M107.5 168v-3M130.5 33.5v3M130.5 168v-3M153.5 33.5v3M153.5 168v-3M175.5 33.5v3M175.5 168v-3M198.5 33.5v3M198.5 168v-3M221.5 33.5v9M221.5 168v-9M244.5 33.5v3M244.5 168v-3M266.5 33.5v3M266.5 168v-3M289.5 33.5v3M289.5 168v-3M312.5 33.5v3M312.5 168v-3M334.5 33.5v3M334.5 168v-3M357.5 33.5v9M357.5 168v-9M380.5 33.5v3M380.5 168v-3M403.5 33.5v3M403.5 168v-3M425.5 33.5v3M425.5 168v-3M448.5 33.5v3M448.5 168v-3M471.5 33.5v3M471.5 168v-3M493.5 33.5v9M493.5 168v-9M516.5 33.5v3M516.5 168v-3M71.5 160.5h3M525.5 160.5h-3M71.5 151.5h3M525.5 151.5h-3M71.5 143.5h6M525.5 143.5h-6M71.5 135.5h3M525.5 135.5h-3M71.5 127.5h3M525.5 127.5h-3M71.5 118.5h3M525.5 118.5h-3M71.5 110.5h6M525.5 110.5h-6M71.5 102.5h3M525.5 102.5h-3M71.5 94.5h3M525.5 94.5h-3M71.5 85.5h3M525.5 85.5h-3M71.5 77.5h6M525.5 77.5h-6M71.5 69.5h3M525.5 69.5h-3M71.5 61.5h3M525.5 61.5h-3M71.5 52.5h3M525.5 52.5h-3M71.5 44.5h6M525.5 44.5h-6M71.5 36.5h3M525.5 36.5h-3" stroke="#000" stroke-width="1" fill="none"/><path d="M71 33.5H526" stroke="#000" stroke-width="1.3"/><path d="M71 168H526" stroke="#000" stroke-width="1.3"/><path d="M71.5 33.5V168M525.5 33.5V168" stroke="#000" stroke-width="1.2"/><text transform="translate(69.5,48.3) scale(1.12,1)" font-size="10.5" text-anchor="end" fill="#000">40</text><text transform="translate(69.5,81.2) scale(1.12,1)" font-size="10.5" text-anchor="end" fill="#000">20</text><text transform="translate(69.5,114.2) scale(1.12,1)" font-size="10.5" text-anchor="end" fill="#000">0</text><text transform="translate(69.5,147.1) scale(1.12,1)" font-size="10.5" text-anchor="end" fill="#000">-20</text><path d="M85.5 176.5v9M85.5 244v-9M107.5 176.5v3M107.5 244v-3M130.5 176.5v3M130.5 244v-3M153.5 176.5v3M153.5 244v-3M175.5 176.5v3M175.5 244v-3M198.5 176.5v3M198.5 244v-3M221.5 176.5v9M221.5 244v-9M244.5 176.5v3M244.5 244v-3M266.5 176.5v3M266.5 244v-3M289.5 176.5v3M289.5 244v-3M312.5 176.5v3M312.5 244v-3M334.5 176.5v3M334.5 244v-3M357.5 176.5v9M357.5 244v-9M380.5 176.5v3M380.5 244v-3M403.5 176.5v3M403.5 244v-3M425.5 176.5v3M425.5 244v-3M448.5 176.5v3M448.5 244v-3M471.5 176.5v3M471.5 244v-3M493.5 176.5v9M493.5 244v-9M516.5 176.5v3M516.5 244v-3M71.5 242.5h3M525.5 242.5h-3M71.5 237.5h3M525.5 237.5h-3M71.5 232.5h6M525.5 232.5h-6M71.5 227.5h3M525.5 227.5h-3M71.5 222.5h3M525.5 222.5h-3M71.5 217.5h3M525.5 217.5h-3M71.5 212.5h6M525.5 212.5h-6M71.5 207.5h3M525.5 207.5h-3M71.5 202.5h3M525.5 202.5h-3M71.5 197.5h3M525.5 197.5h-3M71.5 192.5h6M525.5 192.5h-6M71.5 187.5h3M525.5 187.5h-3M71.5 182.5h3M525.5 182.5h-3M71.5 177.5h3M525.5 177.5h-3" stroke="#000" stroke-width="1" fill="none"/><path d="M71 176.5H526" stroke="#000" stroke-width="1.3"/><path d="M71 244H526" stroke="#000" stroke-width="1.3"/><path d="M71.5 176.5V244M525.5 176.5V244" stroke="#000" stroke-width="1.2"/><text transform="translate(69.5,196) scale(1.12,1)" font-size="10.5" text-anchor="end" fill="#000">20</text><text transform="translate(69.5,216) scale(1.12,1)" font-size="10.5" text-anchor="end" fill="#000">0</text><text transform="translate(69.5,236.1) scale(1.12,1)" font-size="10.5" text-anchor="end" fill="#000">-20</text><path d="M85.5 244v9M85.5 312.8v-9M107.5 244v3M107.5 312.8v-3M130.5 244v3M130.5 312.8v-3M153.5 244v3M153.5 312.8v-3M175.5 244v3M175.5 312.8v-3M198.5 244v3M198.5 312.8v-3M221.5 244v9M221.5 312.8v-9M244.5 244v3M244.5 312.8v-3M266.5 244v3M266.5 312.8v-3M289.5 244v3M289.5 312.8v-3M312.5 244v3M312.5 312.8v-3M334.5 244v3M334.5 312.8v-3M357.5 244v9M357.5 312.8v-9M380.5 244v3M380.5 312.8v-3M403.5 244v3M403.5 312.8v-3M425.5 244v3M425.5 312.8v-3M448.5 244v3M448.5 312.8v-3M471.5 244v3M471.5 312.8v-3M493.5 244v9M493.5 312.8v-9M516.5 244v3M516.5 312.8v-3M71.5 307.5h3M525.5 307.5h-3M71.5 304.5h3M525.5 304.5h-3M71.5 301.5h3M525.5 301.5h-3M71.5 300.5h3M525.5 300.5h-3M71.5 298.5h3M525.5 298.5h-3M71.5 297.5h3M525.5 297.5h-3M71.5 296.5h3M525.5 296.5h-3M71.5 295.5h3M525.5 295.5h-3M71.5 294.5h6M525.5 294.5h-6M71.5 288.5h3M525.5 288.5h-3M71.5 284.5h3M525.5 284.5h-3M71.5 282.5h3M525.5 282.5h-3M71.5 280.5h3M525.5 280.5h-3M71.5 279.5h3M525.5 279.5h-3M71.5 277.5h3M525.5 277.5h-3M71.5 276.5h3M525.5 276.5h-3M71.5 275.5h3M525.5 275.5h-3M71.5 274.5h6M525.5 274.5h-6M71.5 268.5h3M525.5 268.5h-3M71.5 265.5h3M525.5 265.5h-3M71.5 262.5h3M525.5 262.5h-3M71.5 261.5h3M525.5 261.5h-3M71.5 259.5h3M525.5 259.5h-3M71.5 258.5h3M525.5 258.5h-3M71.5 257.5h3M525.5 257.5h-3M71.5 256.5h3M525.5 256.5h-3M71.5 255.5h6M525.5 255.5h-6M71.5 249.5h3M525.5 249.5h-3M71.5 245.5h3M525.5 245.5h-3" stroke="#000" stroke-width="1" fill="none"/><path d="M71 244H526" stroke="#000" stroke-width="1.3"/><path d="M71 312.8H526" stroke="#000" stroke-width="1.3"/><path d="M71.5 244V312.8M525.5 244V312.8" stroke="#000" stroke-width="1.2"/><path d="M85.5 312.8v9M85.5 381.3v-9M107.5 312.8v3M107.5 381.3v-3M130.5 312.8v3M130.5 381.3v-3M153.5 312.8v3M153.5 381.3v-3M175.5 312.8v3M175.5 381.3v-3M198.5 312.8v3M198.5 381.3v-3M221.5 312.8v9M221.5 381.3v-9M244.5 312.8v3M244.5 381.3v-3M266.5 312.8v3M266.5 381.3v-3M289.5 312.8v3M289.5 381.3v-3M312.5 312.8v3M312.5 381.3v-3M334.5 312.8v3M334.5 381.3v-3M357.5 312.8v9M357.5 381.3v-9M380.5 312.8v3M380.5 381.3v-3M403.5 312.8v3M403.5 381.3v-3M425.5 312.8v3M425.5 381.3v-3M448.5 312.8v3M448.5 381.3v-3M471.5 312.8v3M471.5 381.3v-3M493.5 312.8v9M493.5 381.3v-9M516.5 312.8v3M516.5 381.3v-3M71.5 379.5h3M525.5 379.5h-3M71.5 377.5h6M525.5 377.5h-6M71.5 374.5h3M525.5 374.5h-3M71.5 372.5h3M525.5 372.5h-3M71.5 370.5h3M525.5 370.5h-3M71.5 368.5h6M525.5 368.5h-6M71.5 365.5h3M525.5 365.5h-3M71.5 363.5h3M525.5 363.5h-3M71.5 361.5h3M525.5 361.5h-3M71.5 359.5h6M525.5 359.5h-6M71.5 356.5h3M525.5 356.5h-3M71.5 354.5h3M525.5 354.5h-3M71.5 352.5h3M525.5 352.5h-3M71.5 350.5h6M525.5 350.5h-6M71.5 347.5h3M525.5 347.5h-3M71.5 345.5h3M525.5 345.5h-3M71.5 343.5h3M525.5 343.5h-3M71.5 340.5h6M525.5 340.5h-6M71.5 338.5h3M525.5 338.5h-3M71.5 336.5h3M525.5 336.5h-3M71.5 334.5h3M525.5 334.5h-3M71.5 331.5h6M525.5 331.5h-6M71.5 329.5h3M525.5 329.5h-3M71.5 327.5h3M525.5 327.5h-3M71.5 325.5h3M525.5 325.5h-3M71.5 322.5h6M525.5 322.5h-6M71.5 320.5h3M525.5 320.5h-3M71.5 318.5h3M525.5 318.5h-3M71.5 316.5h3M525.5 316.5h-3" stroke="#000" stroke-width="1" fill="none"/><path d="M71 312.8H526" stroke="#000" stroke-width="1.3"/><path d="M71 381.3H526" stroke="#000" stroke-width="1.3"/><path d="M71.5 312.8V381.3M525.5 312.8V381.3" stroke="#000" stroke-width="1.2"/><text transform="translate(69.5,326.5) scale(1.12,1)" font-size="10.5" text-anchor="end" fill="#000">200</text><text transform="translate(69.5,335.6) scale(1.12,1)" font-size="10.5" text-anchor="end" fill="#000">180</text><text transform="translate(69.5,344.6) scale(1.12,1)" font-size="10.5" text-anchor="end" fill="#000">160</text><text transform="translate(69.5,353.7) scale(1.12,1)" font-size="10.5" text-anchor="end" fill="#000">140</text><text transform="translate(69.5,362.8) scale(1.12,1)" font-size="10.5" text-anchor="end" fill="#000">120</text><text transform="translate(69.5,371.9) scale(1.12,1)" font-size="10.5" text-anchor="end" fill="#000">100</text><text transform="translate(69.5,380.9) scale(1.12,1)" font-size="10.5" text-anchor="end" fill="#000">80</text><path d="M85.5 381.3v9M85.5 449.5v-9M107.5 381.3v3M107.5 449.5v-3M130.5 381.3v3M130.5 449.5v-3M153.5 381.3v3M153.5 449.5v-3M175.5 381.3v3M175.5 449.5v-3M198.5 381.3v3M198.5 449.5v-3M221.5 381.3v9M221.5 449.5v-9M244.5 381.3v3M244.5 449.5v-3M266.5 381.3v3M266.5 449.5v-3M289.5 381.3v3M289.5 449.5v-3M312.5 381.3v3M312.5 449.5v-3M334.5 381.3v3M334.5 449.5v-3M357.5 381.3v9M357.5 449.5v-9M380.5 381.3v3M380.5 449.5v-3M403.5 381.3v3M403.5 449.5v-3M425.5 381.3v3M425.5 449.5v-3M448.5 381.3v3M448.5 449.5v-3M471.5 381.3v3M471.5 449.5v-3M493.5 381.3v9M493.5 449.5v-9M516.5 381.3v3M516.5 449.5v-3M71.5 447.5h3M525.5 447.5h-3M71.5 444.5h3M525.5 444.5h-3M71.5 442.5h3M525.5 442.5h-3M71.5 439.5h3M525.5 439.5h-3M71.5 437.5h6M525.5 437.5h-6M71.5 434.5h3M525.5 434.5h-3M71.5 432.5h3M525.5 432.5h-3M71.5 429.5h3M525.5 429.5h-3M71.5 427.5h3M525.5 427.5h-3M71.5 424.5h6M525.5 424.5h-6M71.5 422.5h3M525.5 422.5h-3M71.5 419.5h3M525.5 419.5h-3M71.5 417.5h3M525.5 417.5h-3M71.5 414.5h3M525.5 414.5h-3M71.5 412.5h6M525.5 412.5h-6M71.5 409.5h3M525.5 409.5h-3M71.5 407.5h3M525.5 407.5h-3M71.5 404.5h3M525.5 404.5h-3M71.5 402.5h3M525.5 402.5h-3M71.5 399.5h6M525.5 399.5h-6M71.5 397.5h3M525.5 397.5h-3M71.5 394.5h3M525.5 394.5h-3M71.5 392.5h3M525.5 392.5h-3M71.5 389.5h3M525.5 389.5h-3M71.5 387.5h6M525.5 387.5h-6M71.5 384.5h3M525.5 384.5h-3M71.5 382.5h3M525.5 382.5h-3" stroke="#000" stroke-width="1" fill="none"/><path d="M71 381.3H526" stroke="#000" stroke-width="1.3"/><path d="M71 449.5H526" stroke="#000" stroke-width="1.3"/><path d="M71.5 381.3V449.5M525.5 381.3V449.5" stroke="#000" stroke-width="1.2"/><text transform="translate(527.5,391.1) scale(1.12,1)" font-size="10.5" text-anchor="start" fill="#000">50</text><text transform="translate(527.5,403.6) scale(1.12,1)" font-size="10.5" text-anchor="start" fill="#000">0</text><text transform="translate(527.5,416.1) scale(1.12,1)" font-size="10.5" text-anchor="start" fill="#000">-50</text><text transform="translate(527.5,428.7) scale(1.12,1)" font-size="10.5" text-anchor="start" fill="#000">-100</text><text transform="translate(527.5,441.3) scale(1.12,1)" font-size="10.5" text-anchor="start" fill="#000">-150</text><path d="M85.5 449.5v9M85.5 517.9v-9M107.5 449.5v3M107.5 517.9v-3M130.5 449.5v3M130.5 517.9v-3M153.5 449.5v3M153.5 517.9v-3M175.5 449.5v3M175.5 517.9v-3M198.5 449.5v3M198.5 517.9v-3M221.5 449.5v9M221.5 517.9v-9M244.5 449.5v3M244.5 517.9v-3M266.5 449.5v3M266.5 517.9v-3M289.5 449.5v3M289.5 517.9v-3M312.5 449.5v3M312.5 517.9v-3M334.5 449.5v3M334.5 517.9v-3M357.5 449.5v9M357.5 517.9v-9M380.5 449.5v3M380.5 517.9v-3M403.5 449.5v3M403.5 517.9v-3M425.5 449.5v3M425.5 517.9v-3M448.5 449.5v3M448.5 517.9v-3M471.5 449.5v3M471.5 517.9v-3M493.5 449.5v9M493.5 517.9v-9M516.5 449.5v3M516.5 517.9v-3M71.5 514.5h6M525.5 514.5h-6M71.5 511.5h3M525.5 511.5h-3M71.5 508.5h3M525.5 508.5h-3M71.5 504.5h3M525.5 504.5h-3M71.5 501.5h3M525.5 501.5h-3M71.5 498.5h6M525.5 498.5h-6M71.5 495.5h3M525.5 495.5h-3M71.5 491.5h3M525.5 491.5h-3M71.5 488.5h3M525.5 488.5h-3M71.5 485.5h3M525.5 485.5h-3M71.5 482.5h6M525.5 482.5h-6M71.5 479.5h3M525.5 479.5h-3M71.5 475.5h3M525.5 475.5h-3M71.5 472.5h3M525.5 472.5h-3M71.5 469.5h3M525.5 469.5h-3M71.5 466.5h6M525.5 466.5h-6M71.5 463.5h3M525.5 463.5h-3M71.5 459.5h3M525.5 459.5h-3M71.5 456.5h3M525.5 456.5h-3M71.5 453.5h3M525.5 453.5h-3M71.5 450.5h6M525.5 450.5h-6" stroke="#000" stroke-width="1" fill="none"/><path d="M71 449.5H526" stroke="#000" stroke-width="1.3"/><path d="M71 517.9H526" stroke="#000" stroke-width="1.3"/><path d="M71.5 449.5V517.9M525.5 449.5V517.9" stroke="#000" stroke-width="1.2"/><text transform="translate(69.5,453.9) scale(1.12,1)" font-size="10.5" text-anchor="end" fill="#000">25</text><text transform="translate(69.5,470) scale(1.12,1)" font-size="10.5" text-anchor="end" fill="#000">20</text><text transform="translate(69.5,486.1) scale(1.12,1)" font-size="10.5" text-anchor="end" fill="#000">15</text><text transform="translate(69.5,502.1) scale(1.12,1)" font-size="10.5" text-anchor="end" fill="#000">10</text><text transform="translate(69.5,518.2) scale(1.12,1)" font-size="10.5" text-anchor="end" fill="#000">5</text><path d="M85.5 517.9v9M85.5 586.6v-9M107.5 517.9v3M107.5 586.6v-3M130.5 517.9v3M130.5 586.6v-3M153.5 517.9v3M153.5 586.6v-3M175.5 517.9v3M175.5 586.6v-3M198.5 517.9v3M198.5 586.6v-3M221.5 517.9v9M221.5 586.6v-9M244.5 517.9v3M244.5 586.6v-3M266.5 517.9v3M266.5 586.6v-3M289.5 517.9v3M289.5 586.6v-3M312.5 517.9v3M312.5 586.6v-3M334.5 517.9v3M334.5 586.6v-3M357.5 517.9v9M357.5 586.6v-9M380.5 517.9v3M380.5 586.6v-3M403.5 517.9v3M403.5 586.6v-3M425.5 517.9v3M425.5 586.6v-3M448.5 517.9v3M448.5 586.6v-3M471.5 517.9v3M471.5 586.6v-3M493.5 517.9v9M493.5 586.6v-9M516.5 517.9v3M516.5 586.6v-3M71.5 585.5h6M525.5 585.5h-6M71.5 583.5h3M525.5 583.5h-3M71.5 580.5h3M525.5 580.5h-3M71.5 577.5h3M525.5 577.5h-3M71.5 575.5h6M525.5 575.5h-6M71.5 572.5h3M525.5 572.5h-3M71.5 570.5h3M525.5 570.5h-3M71.5 567.5h3M525.5 567.5h-3M71.5 564.5h6M525.5 564.5h-6M71.5 562.5h3M525.5 562.5h-3M71.5 559.5h3M525.5 559.5h-3M71.5 556.5h3M525.5 556.5h-3M71.5 554.5h6M525.5 554.5h-6M71.5 551.5h3M525.5 551.5h-3M71.5 548.5h3M525.5 548.5h-3M71.5 546.5h3M525.5 546.5h-3M71.5 543.5h6M525.5 543.5h-6M71.5 540.5h3M525.5 540.5h-3M71.5 538.5h3M525.5 538.5h-3M71.5 535.5h3M525.5 535.5h-3M71.5 532.5h6M525.5 532.5h-6M71.5 530.5h3M525.5 530.5h-3M71.5 527.5h3M525.5 527.5h-3M71.5 525.5h3M525.5 525.5h-3M71.5 522.5h6M525.5 522.5h-6M71.5 519.5h3M525.5 519.5h-3" stroke="#000" stroke-width="1" fill="none"/><path d="M71 517.9H526" stroke="#000" stroke-width="1.3"/><path d="M71 586.6H526" stroke="#000" stroke-width="1.3"/><path d="M71.5 517.9V586.6M525.5 517.9V586.6" stroke="#000" stroke-width="1.2"/><text transform="translate(527.5,589.6) scale(1.12,1)" font-size="10.5" text-anchor="start" fill="#000">0.0</text><text transform="translate(527.5,579) scale(1.12,1)" font-size="10.5" text-anchor="start" fill="#000">0.2</text><text transform="translate(527.5,568.4) scale(1.12,1)" font-size="10.5" text-anchor="start" fill="#000">0.4</text><text transform="translate(527.5,557.9) scale(1.12,1)" font-size="10.5" text-anchor="start" fill="#000">0.6</text><text transform="translate(527.5,547.3) scale(1.12,1)" font-size="10.5" text-anchor="start" fill="#000">0.8</text><text transform="translate(527.5,536.7) scale(1.12,1)" font-size="10.5" text-anchor="start" fill="#000">1.0</text><text transform="translate(527.5,526.1) scale(1.12,1)" font-size="10.5" text-anchor="start" fill="#000">1.2</text><path d="M85.5 586.6v9M85.5 654.5v-9M107.5 586.6v3M107.5 654.5v-3M130.5 586.6v3M130.5 654.5v-3M153.5 586.6v3M153.5 654.5v-3M175.5 586.6v3M175.5 654.5v-3M198.5 586.6v3M198.5 654.5v-3M221.5 586.6v9M221.5 654.5v-9M244.5 586.6v3M244.5 654.5v-3M266.5 586.6v3M266.5 654.5v-3M289.5 586.6v3M289.5 654.5v-3M312.5 586.6v3M312.5 654.5v-3M334.5 586.6v3M334.5 654.5v-3M357.5 586.6v9M357.5 654.5v-9M380.5 586.6v3M380.5 654.5v-3M403.5 586.6v3M403.5 654.5v-3M425.5 586.6v3M425.5 654.5v-3M448.5 586.6v3M448.5 654.5v-3M471.5 586.6v3M471.5 654.5v-3M493.5 586.6v9M493.5 654.5v-9M516.5 586.6v3M516.5 654.5v-3M71.5 604.5h3M525.5 604.5h-3M71.5 622.5h3M525.5 622.5h-3M71.5 651.5h3M525.5 651.5h-3" stroke="#000" stroke-width="1" fill="none"/><path d="M71 586.6H526" stroke="#000" stroke-width="1.3"/><path d="M71 654.5H526" stroke="#000" stroke-width="1.3"/><path d="M71.5 586.6V654.5M525.5 586.6V654.5" stroke="#000" stroke-width="1.2"/><path d="M85.5 654.5v9M85.5 722.7v-9M107.5 654.5v3M107.5 722.7v-3M130.5 654.5v3M130.5 722.7v-3M153.5 654.5v3M153.5 722.7v-3M175.5 654.5v3M175.5 722.7v-3M198.5 654.5v3M198.5 722.7v-3M221.5 654.5v9M221.5 722.7v-9M244.5 654.5v3M244.5 722.7v-3M266.5 654.5v3M266.5 722.7v-3M289.5 654.5v3M289.5 722.7v-3M312.5 654.5v3M312.5 722.7v-3M334.5 654.5v3M334.5 722.7v-3M357.5 654.5v9M357.5 722.7v-9M380.5 654.5v3M380.5 722.7v-3M403.5 654.5v3M403.5 722.7v-3M425.5 654.5v3M425.5 722.7v-3M448.5 654.5v3M448.5 722.7v-3M471.5 654.5v3M471.5 722.7v-3M493.5 654.5v9M493.5 722.7v-9M516.5 654.5v3M516.5 722.7v-3M71.5 721.5h6M525.5 721.5h-6M71.5 717.5h3M525.5 717.5h-3M71.5 713.5h3M525.5 713.5h-3M71.5 709.5h3M525.5 709.5h-3M71.5 705.5h3M525.5 705.5h-3M71.5 702.5h6M525.5 702.5h-6M71.5 698.5h3M525.5 698.5h-3M71.5 694.5h3M525.5 694.5h-3M71.5 690.5h3M525.5 690.5h-3M71.5 686.5h3M525.5 686.5h-3M71.5 682.5h6M525.5 682.5h-6M71.5 678.5h3M525.5 678.5h-3M71.5 674.5h3M525.5 674.5h-3M71.5 671.5h3M525.5 671.5h-3M71.5 667.5h3M525.5 667.5h-3M71.5 663.5h6M525.5 663.5h-6M71.5 659.5h3M525.5 659.5h-3M71.5 655.5h3M525.5 655.5h-3" stroke="#000" stroke-width="1" fill="none"/><path d="M71 654.5H526" stroke="#000" stroke-width="1.3"/><path d="M71 722.7H526" stroke="#000" stroke-width="1.3"/><path d="M71.5 654.5V722.7M525.5 654.5V722.7" stroke="#000" stroke-width="1.2"/><text transform="translate(527.5,725.1) scale(1.12,1)" font-size="10.5" text-anchor="start" fill="#000">0.0</text><text transform="translate(527.5,705.7) scale(1.12,1)" font-size="10.5" text-anchor="start" fill="#000">0.5</text><text transform="translate(527.5,686.4) scale(1.12,1)" font-size="10.5" text-anchor="start" fill="#000">1.0</text><text transform="translate(527.5,667) scale(1.12,1)" font-size="10.5" text-anchor="start" fill="#000">1.5</text><path d="M682.5 41.5v9M682.5 115.5v-9M705.5 41.5v3M705.5 115.5v-3M727.5 41.5v3M727.5 115.5v-3M750.5 41.5v3M750.5 115.5v-3M773.5 41.5v3M773.5 115.5v-3M795.5 41.5v3M795.5 115.5v-3M818.5 41.5v9M818.5 115.5v-9M841.5 41.5v3M841.5 115.5v-3M864.5 41.5v3M864.5 115.5v-3M886.5 41.5v3M886.5 115.5v-3M909.5 41.5v3M909.5 115.5v-3M932.5 41.5v3M932.5 115.5v-3M954.5 41.5v9M954.5 115.5v-9M977.5 41.5v3M977.5 115.5v-3M1000.5 41.5v3M1000.5 115.5v-3M1023.5 41.5v3M1023.5 115.5v-3M1045.5 41.5v3M1045.5 115.5v-3M1068.5 41.5v3M1068.5 115.5v-3M1091.5 41.5v9M1091.5 115.5v-9M1113.5 41.5v3M1113.5 115.5v-3M668.5 113.5h3M1122.5 113.5h-3M668.5 107.5h3M1122.5 107.5h-3M668.5 102.5h6M1122.5 102.5h-6M668.5 96.5h3M1122.5 96.5h-3M668.5 91.5h3M1122.5 91.5h-3M668.5 85.5h3M1122.5 85.5h-3M668.5 80.5h6M1122.5 80.5h-6M668.5 75.5h3M1122.5 75.5h-3M668.5 69.5h3M1122.5 69.5h-3M668.5 64.5h3M1122.5 64.5h-3M668.5 58.5h6M1122.5 58.5h-6M668.5 53.5h3M1122.5 53.5h-3M668.5 47.5h3M1122.5 47.5h-3M668.5 42.5h3M1122.5 42.5h-3" stroke="#000" stroke-width="1" fill="none"/><path d="M668 41.5H1123" stroke="#000" stroke-width="1.3"/><path d="M668 115.5H1123" stroke="#000" stroke-width="1.3"/><path d="M668.5 41.5V115.5M1122.5 41.5V115.5" stroke="#000" stroke-width="1.2"/><text transform="translate(666.5,62.3) scale(1.12,1)" font-size="10.5" text-anchor="end" fill="#000">20</text><text transform="translate(666.5,84.2) scale(1.12,1)" font-size="10.5" text-anchor="end" fill="#000">0</text><text transform="translate(666.5,106.1) scale(1.12,1)" font-size="10.5" text-anchor="end" fill="#000">-20</text><path d="M682.5 115.5v9M682.5 189.5v-9M705.5 115.5v3M705.5 189.5v-3M727.5 115.5v3M727.5 189.5v-3M750.5 115.5v3M750.5 189.5v-3M773.5 115.5v3M773.5 189.5v-3M795.5 115.5v3M795.5 189.5v-3M818.5 115.5v9M818.5 189.5v-9M841.5 115.5v3M841.5 189.5v-3M864.5 115.5v3M864.5 189.5v-3M886.5 115.5v3M886.5 189.5v-3M909.5 115.5v3M909.5 189.5v-3M932.5 115.5v3M932.5 189.5v-3M954.5 115.5v9M954.5 189.5v-9M977.5 115.5v3M977.5 189.5v-3M1000.5 115.5v3M1000.5 189.5v-3M1023.5 115.5v3M1023.5 189.5v-3M1045.5 115.5v3M1045.5 189.5v-3M1068.5 115.5v3M1068.5 189.5v-3M1091.5 115.5v9M1091.5 189.5v-9M1113.5 115.5v3M1113.5 189.5v-3M668.5 182.5h3M1122.5 182.5h-3M668.5 179.5h3M1122.5 179.5h-3M668.5 176.5h3M1122.5 176.5h-3M668.5 174.5h3M1122.5 174.5h-3M668.5 172.5h3M1122.5 172.5h-3M668.5 171.5h3M1122.5 171.5h-3M668.5 170.5h3M1122.5 170.5h-3M668.5 169.5h3M1122.5 169.5h-3M668.5 168.5h6M1122.5 168.5h-6M668.5 162.5h3M1122.5 162.5h-3M668.5 158.5h3M1122.5 158.5h-3M668.5 155.5h3M1122.5 155.5h-3M668.5 153.5h3M1122.5 153.5h-3M668.5 152.5h3M1122.5 152.5h-3M668.5 150.5h3M1122.5 150.5h-3M668.5 149.5h3M1122.5 149.5h-3M668.5 148.5h3M1122.5 148.5h-3M668.5 147.5h6M1122.5 147.5h-6M668.5 141.5h3M1122.5 141.5h-3M668.5 137.5h3M1122.5 137.5h-3M668.5 134.5h3M1122.5 134.5h-3M668.5 132.5h3M1122.5 132.5h-3M668.5 131.5h3M1122.5 131.5h-3M668.5 129.5h3M1122.5 129.5h-3M668.5 128.5h3M1122.5 128.5h-3M668.5 127.5h3M1122.5 127.5h-3M668.5 126.5h6M1122.5 126.5h-6M668.5 120.5h3M1122.5 120.5h-3M668.5 116.5h3M1122.5 116.5h-3" stroke="#000" stroke-width="1" fill="none"/><path d="M668 115.5H1123" stroke="#000" stroke-width="1.3"/><path d="M668 189.5H1123" stroke="#000" stroke-width="1.3"/><path d="M668.5 115.5V189.5M1122.5 115.5V189.5" stroke="#000" stroke-width="1.2"/><path d="M682.5 189.5v9M682.5 263.3v-9M705.5 189.5v3M705.5 263.3v-3M727.5 189.5v3M727.5 263.3v-3M750.5 189.5v3M750.5 263.3v-3M773.5 189.5v3M773.5 263.3v-3M795.5 189.5v3M795.5 263.3v-3M818.5 189.5v9M818.5 263.3v-9M841.5 189.5v3M841.5 263.3v-3M864.5 189.5v3M864.5 263.3v-3M886.5 189.5v3M886.5 263.3v-3M909.5 189.5v3M909.5 263.3v-3M932.5 189.5v3M932.5 263.3v-3M954.5 189.5v9M954.5 263.3v-9M977.5 189.5v3M977.5 263.3v-3M1000.5 189.5v3M1000.5 263.3v-3M1023.5 189.5v3M1023.5 263.3v-3M1045.5 189.5v3M1045.5 263.3v-3M1068.5 189.5v3M1068.5 263.3v-3M1091.5 189.5v9M1091.5 263.3v-9M1113.5 189.5v3M1113.5 263.3v-3M668.5 261.5h6M1122.5 261.5h-6M668.5 256.5h3M1122.5 256.5h-3M668.5 252.5h3M1122.5 252.5h-3M668.5 247.5h3M1122.5 247.5h-3M668.5 242.5h6M1122.5 242.5h-6M668.5 237.5h3M1122.5 237.5h-3M668.5 232.5h3M1122.5 232.5h-3M668.5 228.5h3M1122.5 228.5h-3M668.5 223.5h6M1122.5 223.5h-6M668.5 218.5h3M1122.5 218.5h-3M668.5 213.5h3M1122.5 213.5h-3M668.5 209.5h3M1122.5 209.5h-3M668.5 204.5h6M1122.5 204.5h-6M668.5 199.5h3M1122.5 199.5h-3M668.5 194.5h3M1122.5 194.5h-3" stroke="#000" stroke-width="1" fill="none"/><path d="M668 189.5H1123" stroke="#000" stroke-width="1.3"/><path d="M668 263.3H1123" stroke="#000" stroke-width="1.3"/><path d="M668.5 189.5V263.3M1122.5 189.5V263.3" stroke="#000" stroke-width="1.2"/><text transform="translate(666.5,208) scale(1.12,1)" font-size="10.5" text-anchor="end" fill="#000">200</text><text transform="translate(666.5,227.1) scale(1.12,1)" font-size="10.5" text-anchor="end" fill="#000">0</text><text transform="translate(666.5,246.2) scale(1.12,1)" font-size="10.5" text-anchor="end" fill="#000">-200</text><text transform="translate(666.5,265.3) scale(1.12,1)" font-size="10.5" text-anchor="end" fill="#000">-400</text><path d="M682.5 263.3v9M682.5 337v-9M705.5 263.3v3M705.5 337v-3M727.5 263.3v3M727.5 337v-3M750.5 263.3v3M750.5 337v-3M773.5 263.3v3M773.5 337v-3M795.5 263.3v3M795.5 337v-3M818.5 263.3v9M818.5 337v-9M841.5 263.3v3M841.5 337v-3M864.5 263.3v3M864.5 337v-3M886.5 263.3v3M886.5 337v-3M909.5 263.3v3M909.5 337v-3M932.5 263.3v3M932.5 337v-3M954.5 263.3v9M954.5 337v-9M977.5 263.3v3M977.5 337v-3M1000.5 263.3v3M1000.5 337v-3M1023.5 263.3v3M1023.5 337v-3M1045.5 263.3v3M1045.5 337v-3M1068.5 263.3v3M1068.5 337v-3M1091.5 263.3v9M1091.5 337v-9M1113.5 263.3v3M1113.5 337v-3" stroke="#000" stroke-width="1" fill="none"/><path d="M668 263.3H1123" stroke="#000" stroke-width="1.3"/><path d="M668 337H1123" stroke="#000" stroke-width="1.3"/><path d="M668.5 263.3V337M1122.5 263.3V337" stroke="#000" stroke-width="1.2"/><path d="M682.5 337v9M682.5 410.8v-9M705.5 337v3M705.5 410.8v-3M727.5 337v3M727.5 410.8v-3M750.5 337v3M750.5 410.8v-3M773.5 337v3M773.5 410.8v-3M795.5 337v3M795.5 410.8v-3M818.5 337v9M818.5 410.8v-9M841.5 337v3M841.5 410.8v-3M864.5 337v3M864.5 410.8v-3M886.5 337v3M886.5 410.8v-3M909.5 337v3M909.5 410.8v-3M932.5 337v3M932.5 410.8v-3M954.5 337v9M954.5 410.8v-9M977.5 337v3M977.5 410.8v-3M1000.5 337v3M1000.5 410.8v-3M1023.5 337v3M1023.5 410.8v-3M1045.5 337v3M1045.5 410.8v-3M1068.5 337v3M1068.5 410.8v-3M1091.5 337v9M1091.5 410.8v-9M1113.5 337v3M1113.5 410.8v-3M668.5 409.5h3M1122.5 409.5h-3M668.5 404.5h6M1122.5 404.5h-6M668.5 400.5h3M1122.5 400.5h-3M668.5 395.5h3M1122.5 395.5h-3M668.5 391.5h3M1122.5 391.5h-3M668.5 386.5h3M1122.5 386.5h-3M668.5 382.5h6M1122.5 382.5h-6M668.5 377.5h3M1122.5 377.5h-3M668.5 372.5h3M1122.5 372.5h-3M668.5 368.5h3M1122.5 368.5h-3M668.5 363.5h3M1122.5 363.5h-3M668.5 359.5h6M1122.5 359.5h-6M668.5 354.5h3M1122.5 354.5h-3M668.5 350.5h3M1122.5 350.5h-3M668.5 345.5h3M1122.5 345.5h-3M668.5 340.5h3M1122.5 340.5h-3" stroke="#000" stroke-width="1" fill="none"/><path d="M668 337H1123" stroke="#000" stroke-width="1.3"/><path d="M668 410.8H1123" stroke="#000" stroke-width="1.3"/><path d="M668.5 337V410.8M1122.5 337V410.8" stroke="#000" stroke-width="1.2"/><text transform="translate(666.5,362.9) scale(1.12,1)" font-size="10.5" text-anchor="end" fill="#000">5</text><text transform="translate(666.5,385.7) scale(1.12,1)" font-size="10.5" text-anchor="end" fill="#000">0</text><text transform="translate(666.5,408.5) scale(1.12,1)" font-size="10.5" text-anchor="end" fill="#000">-5</text><path d="M682.5 410.8v9M682.5 484.8v-9M705.5 410.8v3M705.5 484.8v-3M727.5 410.8v3M727.5 484.8v-3M750.5 410.8v3M750.5 484.8v-3M773.5 410.8v3M773.5 484.8v-3M795.5 410.8v3M795.5 484.8v-3M818.5 410.8v9M818.5 484.8v-9M841.5 410.8v3M841.5 484.8v-3M864.5 410.8v3M864.5 484.8v-3M886.5 410.8v3M886.5 484.8v-3M909.5 410.8v3M909.5 484.8v-3M932.5 410.8v3M932.5 484.8v-3M954.5 410.8v9M954.5 484.8v-9M977.5 410.8v3M977.5 484.8v-3M1000.5 410.8v3M1000.5 484.8v-3M1023.5 410.8v3M1023.5 484.8v-3M1045.5 410.8v3M1045.5 484.8v-3M1068.5 410.8v3M1068.5 484.8v-3M1091.5 410.8v9M1091.5 484.8v-9M1113.5 410.8v3M1113.5 484.8v-3M668.5 482.5h3M1122.5 482.5h-3M668.5 477.5h3M1122.5 477.5h-3M668.5 472.5h6M1122.5 472.5h-6M668.5 467.5h3M1122.5 467.5h-3M668.5 462.5h3M1122.5 462.5h-3M668.5 457.5h3M1122.5 457.5h-3M668.5 452.5h3M1122.5 452.5h-3M668.5 447.5h6M1122.5 447.5h-6M668.5 443.5h3M1122.5 443.5h-3M668.5 438.5h3M1122.5 438.5h-3M668.5 433.5h3M1122.5 433.5h-3M668.5 428.5h3M1122.5 428.5h-3M668.5 423.5h6M1122.5 423.5h-6M668.5 418.5h3M1122.5 418.5h-3M668.5 413.5h3M1122.5 413.5h-3" stroke="#000" stroke-width="1" fill="none"/><path d="M668 410.8H1123" stroke="#000" stroke-width="1.3"/><path d="M668 484.8H1123" stroke="#000" stroke-width="1.3"/><path d="M668.5 410.8V484.8M1122.5 410.8V484.8" stroke="#000" stroke-width="1.2"/><text transform="translate(1124.5,427.1) scale(1.12,1)" font-size="10.5" text-anchor="start" fill="#000">10</text><text transform="translate(1124.5,451.6) scale(1.12,1)" font-size="10.5" text-anchor="start" fill="#000">0</text><text transform="translate(1124.5,476.1) scale(1.12,1)" font-size="10.5" text-anchor="start" fill="#000">-10</text><path d="M682.5 484.8v9M682.5 557.8v-9M705.5 484.8v3M705.5 557.8v-3M727.5 484.8v3M727.5 557.8v-3M750.5 484.8v3M750.5 557.8v-3M773.5 484.8v3M773.5 557.8v-3M795.5 484.8v3M795.5 557.8v-3M818.5 484.8v9M818.5 557.8v-9M841.5 484.8v3M841.5 557.8v-3M864.5 484.8v3M864.5 557.8v-3M886.5 484.8v3M886.5 557.8v-3M909.5 484.8v3M909.5 557.8v-3M932.5 484.8v3M932.5 557.8v-3M954.5 484.8v9M954.5 557.8v-9M977.5 484.8v3M977.5 557.8v-3M1000.5 484.8v3M1000.5 557.8v-3M1023.5 484.8v3M1023.5 557.8v-3M1045.5 484.8v3M1045.5 557.8v-3M1068.5 484.8v3M1068.5 557.8v-3M1091.5 484.8v9M1091.5 557.8v-9M1113.5 484.8v3M1113.5 557.8v-3M668.5 555.5h3M1122.5 555.5h-3M668.5 552.5h3M1122.5 552.5h-3M668.5 549.5h3M1122.5 549.5h-3M668.5 546.5h6M1122.5 546.5h-6M668.5 542.5h3M1122.5 542.5h-3M668.5 539.5h3M1122.5 539.5h-3M668.5 536.5h3M1122.5 536.5h-3M668.5 533.5h6M1122.5 533.5h-6M668.5 530.5h3M1122.5 530.5h-3M668.5 527.5h3M1122.5 527.5h-3M668.5 524.5h3M1122.5 524.5h-3M668.5 521.5h6M1122.5 521.5h-6M668.5 518.5h3M1122.5 518.5h-3M668.5 514.5h3M1122.5 514.5h-3M668.5 511.5h3M1122.5 511.5h-3M668.5 508.5h6M1122.5 508.5h-6M668.5 505.5h3M1122.5 505.5h-3M668.5 502.5h3M1122.5 502.5h-3M668.5 499.5h3M1122.5 499.5h-3M668.5 496.5h6M1122.5 496.5h-6M668.5 493.5h3M1122.5 493.5h-3M668.5 489.5h3M1122.5 489.5h-3M668.5 486.5h3M1122.5 486.5h-3" stroke="#000" stroke-width="1" fill="none"/><path d="M668 484.8H1123" stroke="#000" stroke-width="1.3"/><path d="M668 557.8H1123" stroke="#000" stroke-width="1.3"/><path d="M668.5 484.8V557.8M1122.5 484.8V557.8" stroke="#000" stroke-width="1.2"/><text transform="translate(666.5,549.8) scale(1.12,1)" font-size="10.5" text-anchor="end" fill="#000">0.2</text><text transform="translate(666.5,537.3) scale(1.12,1)" font-size="10.5" text-anchor="end" fill="#000">0.4</text><text transform="translate(666.5,524.9) scale(1.12,1)" font-size="10.5" text-anchor="end" fill="#000">0.6</text><text transform="translate(666.5,512.4) scale(1.12,1)" font-size="10.5" text-anchor="end" fill="#000">0.8</text><text transform="translate(666.5,499.9) scale(1.12,1)" font-size="10.5" text-anchor="end" fill="#000">1.0</text><path d="M682.5 557.8v9M682.5 632.6v-9M705.5 557.8v3M705.5 632.6v-3M727.5 557.8v3M727.5 632.6v-3M750.5 557.8v3M750.5 632.6v-3M773.5 557.8v3M773.5 632.6v-3M795.5 557.8v3M795.5 632.6v-3M818.5 557.8v9M818.5 632.6v-9M841.5 557.8v3M841.5 632.6v-3M864.5 557.8v3M864.5 632.6v-3M886.5 557.8v3M886.5 632.6v-3M909.5 557.8v3M909.5 632.6v-3M932.5 557.8v3M932.5 632.6v-3M954.5 557.8v9M954.5 632.6v-9M977.5 557.8v3M977.5 632.6v-3M1000.5 557.8v3M1000.5 632.6v-3M1023.5 557.8v3M1023.5 632.6v-3M1045.5 557.8v3M1045.5 632.6v-3M1068.5 557.8v3M1068.5 632.6v-3M1091.5 557.8v9M1091.5 632.6v-9M1113.5 557.8v3M1113.5 632.6v-3M668.5 631.5h6M1122.5 631.5h-6M668.5 627.5h3M1122.5 627.5h-3M668.5 623.5h3M1122.5 623.5h-3M668.5 619.5h3M1122.5 619.5h-3M668.5 616.5h3M1122.5 616.5h-3M668.5 612.5h6M1122.5 612.5h-6M668.5 608.5h3M1122.5 608.5h-3M668.5 604.5h3M1122.5 604.5h-3M668.5 600.5h3M1122.5 600.5h-3M668.5 597.5h3M1122.5 597.5h-3M668.5 593.5h6M1122.5 593.5h-6M668.5 589.5h3M1122.5 589.5h-3M668.5 585.5h3M1122.5 585.5h-3M668.5 581.5h3M1122.5 581.5h-3M668.5 577.5h3M1122.5 577.5h-3M668.5 574.5h6M1122.5 574.5h-6M668.5 570.5h3M1122.5 570.5h-3M668.5 566.5h3M1122.5 566.5h-3M668.5 562.5h3M1122.5 562.5h-3" stroke="#000" stroke-width="1" fill="none"/><path d="M668 557.8H1123" stroke="#000" stroke-width="1.3"/><path d="M668 632.6H1123" stroke="#000" stroke-width="1.3"/><path d="M668.5 557.8V632.6M1122.5 557.8V632.6" stroke="#000" stroke-width="1.2"/><text transform="translate(1124.5,577.8) scale(1.12,1)" font-size="10.5" text-anchor="start" fill="#000">0.5</text><text transform="translate(1124.5,596.9) scale(1.12,1)" font-size="10.5" text-anchor="start" fill="#000">0.0</text><text transform="translate(1124.5,616) scale(1.12,1)" font-size="10.5" text-anchor="start" fill="#000">-0.5</text><text transform="translate(1124.5,635.1) scale(1.12,1)" font-size="10.5" text-anchor="start" fill="#000">-1.0</text><path d="M682.5 632.6v9M682.5 705.8v-9M705.5 632.6v3M705.5 705.8v-3M727.5 632.6v3M727.5 705.8v-3M750.5 632.6v3M750.5 705.8v-3M773.5 632.6v3M773.5 705.8v-3M795.5 632.6v3M795.5 705.8v-3M818.5 632.6v9M818.5 705.8v-9M841.5 632.6v3M841.5 705.8v-3M864.5 632.6v3M864.5 705.8v-3M886.5 632.6v3M886.5 705.8v-3M909.5 632.6v3M909.5 705.8v-3M932.5 632.6v3M932.5 705.8v-3M954.5 632.6v9M954.5 705.8v-9M977.5 632.6v3M977.5 705.8v-3M1000.5 632.6v3M1000.5 705.8v-3M1023.5 632.6v3M1023.5 705.8v-3M1045.5 632.6v3M1045.5 705.8v-3M1068.5 632.6v3M1068.5 705.8v-3M1091.5 632.6v9M1091.5 705.8v-9M1113.5 632.6v3M1113.5 705.8v-3M668.5 702.5h6M1122.5 702.5h-6M668.5 698.5h3M1122.5 698.5h-3M668.5 694.5h3M1122.5 694.5h-3M668.5 690.5h3M1122.5 690.5h-3M668.5 687.5h3M1122.5 687.5h-3M668.5 683.5h6M1122.5 683.5h-6M668.5 679.5h3M1122.5 679.5h-3M668.5 675.5h3M1122.5 675.5h-3M668.5 671.5h3M1122.5 671.5h-3M668.5 668.5h3M1122.5 668.5h-3M668.5 664.5h6M1122.5 664.5h-6M668.5 660.5h3M1122.5 660.5h-3M668.5 656.5h3M1122.5 656.5h-3M668.5 652.5h3M1122.5 652.5h-3M668.5 649.5h3M1122.5 649.5h-3M668.5 645.5h6M1122.5 645.5h-6M668.5 641.5h3M1122.5 641.5h-3M668.5 637.5h3M1122.5 637.5h-3M668.5 633.5h3M1122.5 633.5h-3" stroke="#000" stroke-width="1" fill="none"/><path d="M668 632.6H1123" stroke="#000" stroke-width="1.3"/><path d="M668 705.8H1123" stroke="#000" stroke-width="1.3"/><path d="M668.5 632.6V705.8M1122.5 632.6V705.8" stroke="#000" stroke-width="1.2"/><text transform="translate(666.5,648.9) scale(1.12,1)" font-size="10.5" text-anchor="end" fill="#000">1.0</text><text transform="translate(666.5,667.9) scale(1.12,1)" font-size="10.5" text-anchor="end" fill="#000">0.5</text><text transform="translate(666.5,686.9) scale(1.12,1)" font-size="10.5" text-anchor="end" fill="#000">0.0</text><text transform="translate(666.5,705.9) scale(1.12,1)" font-size="10.5" text-anchor="end" fill="#000">-0.5</text><text transform="translate(47.8,101.3) scale(1.12,1) rotate(-90)" font-size="12" text-anchor="middle"><tspan>B</tspan><tspan font-size="8" dy="3">L</tspan><tspan dy="-3">,|B| [nT]</tspan></text><text transform="translate(43.1,211.2) scale(1.12,1) rotate(-90)" font-size="12" text-anchor="middle"><tspan>B</tspan><tspan font-size="8" dy="3">LMN</tspan><tspan dy="-3"> [nT]</tspan></text><text transform="translate(44.1,347.7) scale(1.12,1) rotate(-90)" font-size="11.4" text-anchor="middle"><tspan>| V</tspan><tspan font-size="8" dy="3">i</tspan><tspan dy="-3"> | [km/s]</tspan></text><text transform="translate(45.8,484.4) scale(1.12,1) rotate(-90)" font-size="12" text-anchor="middle"><tspan>N [cm</tspan><tspan font-size="8" dy="-4.5">-3</tspan><tspan dy="4.5">]</tspan></text><text transform="translate(38.1,621.7) scale(1.12,1) rotate(-90)" font-size="12" text-anchor="middle"><tspan>T</tspan><tspan font-size="8" dy="3">i</tspan><tspan dy="-3"> [eV]</tspan></text><text transform="translate(558.3,279) scale(1.12,1) rotate(-90)" font-size="11.4" text-anchor="middle">Energy (eV)</text><text transform="translate(562.9,416.7) scale(1.12,1) rotate(-90)" font-size="12" text-anchor="middle"><tspan>V</tspan><tspan font-size="8" dy="3">i LMN</tspan><tspan dy="-3"> [km/s]</tspan></text><text transform="translate(558.3,553) scale(1.12,1) rotate(-90)" font-size="12" text-anchor="middle"><tspan>N</tspan><tspan font-size="8" dy="3">i</tspan><tspan dy="-3"> [cm</tspan><tspan font-size="8" dy="-4.5">-3</tspan><tspan dy="4.5">]</tspan></text><text transform="translate(562.7,689.6) scale(1.12,1) rotate(-90)" font-size="11.4" text-anchor="middle">P [nPa]</text><text transform="translate(640,79.3) scale(1.12,1) rotate(-90)" font-size="12" text-anchor="middle"><tspan>B</tspan><tspan font-size="8" dy="3">LMN</tspan><tspan dy="-3"> [nT]</tspan></text><text transform="translate(638.3,227.4) scale(1.12,1) rotate(-90)" font-size="12" text-anchor="middle"><tspan>V</tspan><tspan font-size="8" dy="3">e LMN</tspan><tspan dy="-3"> [km/s]</tspan></text><text transform="translate(642.9,375) scale(1.12,1) rotate(-90)" font-size="12" text-anchor="middle"><tspan>E</tspan><tspan font-size="8" dy="3">LMN</tspan><tspan dy="-3">  [mV m</tspan><tspan font-size="8" dy="-4.5">-1</tspan><tspan dy="4.5">]</tspan></text><text transform="translate(646,522.2) scale(1.12,1) rotate(-90)" font-size="11.4" text-anchor="middle"><tspan>|J| [μA m</tspan><tspan font-size="8" dy="-4.5">-2</tspan><tspan dy="4.5">]</tspan></text><text transform="translate(643.3,670.5) scale(1.12,1) rotate(-90)" font-size="12" text-anchor="middle"><tspan>J*E' [nW m</tspan><tspan font-size="8" dy="-4.5">-3</tspan><tspan dy="4.5">]</tspan></text><text transform="translate(1155.5,152.8) scale(1.12,1) rotate(-90)" font-size="11.4" text-anchor="middle">Energy (eV)</text><text transform="translate(1160.3,300.9) scale(1.12,1) rotate(-90)" font-size="12" text-anchor="middle"><tspan>T</tspan><tspan font-size="8" dy="3">e</tspan><tspan dy="-3"> [eV]</tspan></text><text transform="translate(1155.7,448.3) scale(1.12,1) rotate(-90)" font-size="12" text-anchor="middle"><tspan>E</tspan><tspan font-size="8" dy="3">M</tspan><tspan dy="-3"> [mW m</tspan><tspan font-size="8" dy="-4.5">-2</tspan><tspan dy="4.5">]</tspan></text><text transform="translate(1161.4,595) scale(1.12,1) rotate(-90)" font-size="12" text-anchor="middle"><tspan>J [μA m</tspan><tspan font-size="8" dy="-4.5">-2</tspan><tspan dy="4.5">]</tspan></text><text transform="translate(527.5,258.7) scale(1.05,1)" font-size="11">10<tspan font-size="8" dy="-5">4</tspan></text><text transform="translate(527.5,278.7) scale(1.05,1)" font-size="11">10<tspan font-size="8" dy="-5">3</tspan></text><text transform="translate(527.5,297.9) scale(1.05,1)" font-size="11">10<tspan font-size="8" dy="-5">2</tspan></text><text transform="translate(1124.8,129.7) scale(1.05,1)" font-size="11">10<tspan font-size="8" dy="-5">4</tspan></text><text transform="translate(1124.8,150.7) scale(1.05,1)" font-size="11">10<tspan font-size="8" dy="-5">3</tspan></text><text transform="translate(1124.8,171.6) scale(1.05,1)" font-size="11">10<tspan font-size="8" dy="-5">2</tspan></text><text transform="translate(1124.8,192.1) scale(1.05,1)" font-size="11">10<tspan font-size="8" dy="-5">1</tspan></text><text transform="translate(84.5,739.7) scale(1.12,1)" font-size="10" text-anchor="middle" fill="#000">03:29:00</text><text transform="translate(220.8,739.7) scale(1.12,1)" font-size="10" text-anchor="middle" fill="#000">03:30:00</text><text transform="translate(357.1,739.7) scale(1.12,1)" font-size="10" text-anchor="middle" fill="#000">03:31:00</text><text transform="translate(493.4,739.7) scale(1.12,1)" font-size="10" text-anchor="middle" fill="#000">03:32:00</text><text transform="translate(50,760.9) scale(1.12,1)" font-size="10" text-anchor="start" fill="#000">X</text><text transform="translate(84.5,760.9) scale(1.12,1)" font-size="10" text-anchor="middle" fill="#000">6.45</text><text transform="translate(220.8,760.9) scale(1.12,1)" font-size="10" text-anchor="middle" fill="#000">6.45</text><text transform="translate(357.1,760.9) scale(1.12,1)" font-size="10" text-anchor="middle" fill="#000">6.45</text><text transform="translate(493.4,760.9) scale(1.12,1)" font-size="10" text-anchor="middle" fill="#000">6.45</text><text transform="translate(539,760.9) scale(1.12,1)" font-size="10" text-anchor="start" fill="#000">Re</text><text transform="translate(50,778.6) scale(1.12,1)" font-size="10" text-anchor="start" fill="#000">Y</text><text transform="translate(84.5,778.6) scale(1.12,1)" font-size="10" text-anchor="middle" fill="#000">-8.37</text><text transform="translate(220.8,778.6) scale(1.12,1)" font-size="10" text-anchor="middle" fill="#000">-8.35</text><text transform="translate(357.1,778.6) scale(1.12,1)" font-size="10" text-anchor="middle" fill="#000">-8.34</text><text transform="translate(493.4,778.6) scale(1.12,1)" font-size="10" text-anchor="middle" fill="#000">-8.33</text><text transform="translate(539,778.6) scale(1.12,1)" font-size="10" text-anchor="start" fill="#000">Re</text><text transform="translate(50,797.3) scale(1.12,1)" font-size="10" text-anchor="start" fill="#000">Z</text><text transform="translate(84.5,797.3) scale(1.12,1)" font-size="10" text-anchor="middle" fill="#000">-0.958</text><text transform="translate(220.8,797.3) scale(1.12,1)" font-size="10" text-anchor="middle" fill="#000">-0.956</text><text transform="translate(357.1,797.3) scale(1.12,1)" font-size="10" text-anchor="middle" fill="#000">-0.955</text><text transform="translate(493.4,797.3) scale(1.12,1)" font-size="10" text-anchor="middle" fill="#000">-0.954</text><text transform="translate(539,797.3) scale(1.12,1)" font-size="10" text-anchor="start" fill="#000">Re</text><text transform="translate(681.8,724.2) scale(1.12,1)" font-size="10" text-anchor="middle" fill="#000">03:29:00</text><text transform="translate(818.1,724.2) scale(1.12,1)" font-size="10" text-anchor="middle" fill="#000">03:30:00</text><text transform="translate(954.4,724.2) scale(1.12,1)" font-size="10" text-anchor="middle" fill="#000">03:31:00</text><text transform="translate(1090.7,724.2) scale(1.12,1)" font-size="10" text-anchor="middle" fill="#000">03:32:00</text><text transform="translate(647,745.5) scale(1.12,1)" font-size="10" text-anchor="start" fill="#000">X</text><text transform="translate(681.8,745.5) scale(1.12,1)" font-size="10" text-anchor="middle" fill="#000">6.45</text><text transform="translate(818.1,745.5) scale(1.12,1)" font-size="10" text-anchor="middle" fill="#000">6.45</text><text transform="translate(954.4,745.5) scale(1.12,1)" font-size="10" text-anchor="middle" fill="#000">6.45</text><text transform="translate(1090.7,745.5) scale(1.12,1)" font-size="10" text-anchor="middle" fill="#000">6.45</text><text transform="translate(1136,745.5) scale(1.12,1)" font-size="10" text-anchor="start" fill="#000">Re</text><text transform="translate(647,763.5) scale(1.12,1)" font-size="10" text-anchor="start" fill="#000">Y</text><text transform="translate(681.8,763.5) scale(1.12,1)" font-size="10" text-anchor="middle" fill="#000">-8.37</text><text transform="translate(818.1,763.5) scale(1.12,1)" font-size="10" text-anchor="middle" fill="#000">-8.35</text><text transform="translate(954.4,763.5) scale(1.12,1)" font-size="10" text-anchor="middle" fill="#000">-8.34</text><text transform="translate(1090.7,763.5) scale(1.12,1)" font-size="10" text-anchor="middle" fill="#000">-8.33</text><text transform="translate(1136,763.5) scale(1.12,1)" font-size="10" text-anchor="start" fill="#000">Re</text><text transform="translate(647,780.8) scale(1.12,1)" font-size="10" text-anchor="start" fill="#000">Z</text><text transform="translate(681.8,780.8) scale(1.12,1)" font-size="10" text-anchor="middle" fill="#000">-0.958</text><text transform="translate(818.1,780.8) scale(1.12,1)" font-size="10" text-anchor="middle" fill="#000">-0.956</text><text transform="translate(954.4,780.8) scale(1.12,1)" font-size="10" text-anchor="middle" fill="#000">-0.955</text><text transform="translate(1090.7,780.8) scale(1.12,1)" font-size="10" text-anchor="middle" fill="#000">-0.954</text><text transform="translate(1136,780.8) scale(1.12,1)" font-size="10" text-anchor="start" fill="#000">Re</text><text transform="translate(425,837) scale(1.155,1)" font-size="10.5" text-anchor="start" fill="#000">paschmann 25-Oct-2018 13:03</text><text transform="translate(1022,836.5) scale(1.155,1)" font-size="10.5" text-anchor="start" fill="#000">paschmann 25-Oct-2018 13:03</text></svg>
<pre>:
 Event ID         : 20160211_032854
 FlagStr          : ot,udef,nmon,mf,s,part,keep
 GSEpos [Re]      : [ 6.44, -8.38, -0.96 ]
                  :
 LMN coords       :
    L             : [ -0.352, -0.329,  0.877 ]
    M             : [  0.363,  0.815,  0.451 ]
    N             : [  0.863, -0.477,  0.167 ]
                  :
  Times           : (as indicated by red, green lines in plots)
    t_0           : 03:31:31  (red dotted line)
    t_MVAB1       : 03:30:52  (leftmost green line)
    t_MVAB2       : 03:32:01  (rightmost green line)
                  :
|Bmin|, |Vmax|    :
    Bmin          : 15.41 [nT]  at 03:29:50
    Vmax_tht      : 161.49 [km/s]  at 03:30:56
    Vmax_tburst   : 210.64 [km/s]  at 03:30:16
                  :
 Normals          :
    N MVAB        : [  0.126, -0.977, -0.174 ]   (L2/L1 = 2.47)
    N MVAB0       : [  0.700, -0.470,  0.537 ]   (L3/L2 = 3.42)
    N MFR         : [ -0.025,  0.953,  0.303 ]   (L2/L1 = 2.39)
                  :
 Durations [s]    : (between red, resp green lines)
    T_CS          : 34.65
    T_MFR/HT      : 109.30
                  :
 Velocity [km/s]  : (based on FPI ion data)
    VnMFR         : -75.9
    VHT.Nmvab     : 74.7  (HTcc = 0.968)
    VHT.Nmvab0    : 36.0
                  :
 CS thickness [km]: (D=T_CS * Vs from above)
    D1=TCS*Vnmfr  : 2,630
    D2=TCS*VHTn   : 2,587
    D3=TCS*VHTn0  : 1,249
                  :
 Currents [uA/m2] :
    Jave_CS       : 0.017
    Jmax_THT      : 0.645  at 03:31:09
    Jmax_brst     : 1.186  at 03:29:41
                  :
 HPCA mom [1/cm3] :   Min   -  Max    (  Ave   )  within full brst int
    H+            :  12.779 - 23.537  ( 12.779 )
    He+           :   0.000 -  0.002  (  0.000 )
    He++          :   0.296 -  1.292  (  0.591 )
    O+            :   0.000 -  0.011  (  0.001 )
                  :
 SEH date         : 2019-11-29 09:46:04
                  :</pre>
</body></html>
